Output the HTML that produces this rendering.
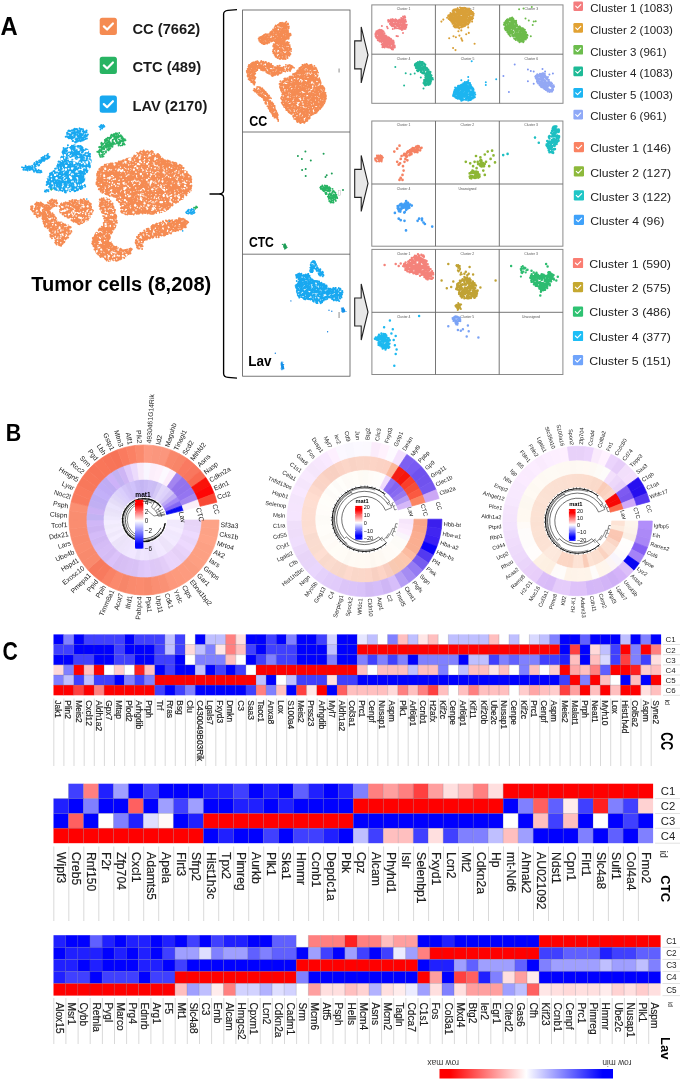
<!DOCTYPE html>
<html><head><meta charset="utf-8"><title>Figure</title>
<style>html,body{margin:0;padding:0;background:#fff;}body{width:685px;height:1091px;overflow:hidden;font-family:"Liberation Sans",sans-serif;}svg{display:block;filter:blur(0.45px);}</style></head>
<body>
<svg width="685" height="1091" viewBox="0 0 685 1091" font-family="'Liberation Sans', sans-serif">
<rect width="685" height="1091" fill="#fff"/>
<text x="0.6" y="35" font-size="25" font-weight="bold" fill="#000" text-anchor="start" textLength="17.2" lengthAdjust="spacingAndGlyphs">A</text>
<rect x="99.7" y="17.8" width="17.2" height="17.2" rx="2.5" fill="#F58B52"/><path d="M103.83 26.40L107.10 29.50L112.94 23.48" stroke="#fff" stroke-width="2.2" fill="none" stroke-linecap="round" stroke-linejoin="round"/>
<rect x="99.7" y="56.8" width="17.2" height="17.2" rx="2.5" fill="#28B463"/><path d="M103.83 65.40L107.10 68.50L112.94 62.48" stroke="#fff" stroke-width="2.2" fill="none" stroke-linecap="round" stroke-linejoin="round"/>
<rect x="99.7" y="95.5" width="17.2" height="17.2" rx="2.5" fill="#18A8F0"/><path d="M103.83 104.10L107.10 107.20L112.94 101.18" stroke="#fff" stroke-width="2.2" fill="none" stroke-linecap="round" stroke-linejoin="round"/>
<text x="132.5" y="33.6" font-size="14.7" font-weight="bold" fill="#1a1a1a" text-anchor="start" >CC (7662)</text>
<text x="132.5" y="72.2" font-size="14.7" font-weight="bold" fill="#1a1a1a" text-anchor="start" >CTC (489)</text>
<text x="132.5" y="110.6" font-size="14.7" font-weight="bold" fill="#1a1a1a" text-anchor="start" >LAV (2170)</text>
<text x="31.3" y="291.3" font-size="20.05" font-weight="bold" fill="#000" text-anchor="start" >Tumor cells (8,208)</text>
<path d="M127.6 160.5h0M148.3 174.6h0M100.4 178.9h0M137.5 204.3h0M156.5 211.8h0M179 169.7h0M126.4 203.8h0M157.8 174.8h0M161.7 178.8h0M140.2 169.7h0M119.4 187.8h0M166.7 169.4h0M136.9 200h0M170.1 187.6h0M163 189h0M142.5 193.9h0M175.1 169.5h0M98.9 180.8h0M108.6 167.2h0M103.8 179.6h0M122.9 178.1h0M113.6 166.2h0M153.4 167.8h0M132.5 187.2h0M146 190.6h0M134.6 176.8h0M107 174.4h0M155.5 160.7h0M132.1 158h0M141.4 182.1h0M129.6 167.8h0M147.2 160.3h0M147.6 213.6h0M121.9 175h0M147.6 201.3h0M175.1 198.9h0M99.3 169.3h0M189.1 179.4h0M188.2 174.6h0M115 163.6h0M176.9 181.3h0M105.2 193.2h0M168.8 182.2h0M128.8 202.4h0M135.1 211.7h0M130.3 186.3h0M146.6 211.3h0M175.8 164.7h0M119.7 189h0M130 180.1h0M136.6 210h0M146.6 152.1h0M113.1 181h0M127.4 184.1h0M106.8 187.2h0M170.2 183.4h0M183.8 179.2h0M145.4 195.6h0M142.3 211h0M150.4 211.5h0M108.5 179.5h0M160.5 159.6h0M135.4 182.2h0M111.9 178.7h0M115.4 171.3h0M150 179.3h0M157.2 184.2h0M107.2 168.1h0M137.2 209.4h0M151.4 196.1h0M163.2 178.6h0M158 202.8h0M139.5 172.5h0M147.3 166.3h0M126.6 170.3h0M144.5 162.4h0M167 186.7h0M174.6 178.7h0M134 182.7h0M129.4 204.1h0M135.6 173.3h0M121.6 161.7h0M180 194.3h0M124.9 180.8h0M122.3 212.8h0M126.6 173.9h0M142.3 183.6h0M105.3 176.6h0M125.5 165.7h0M168.5 192.7h0M134.2 171.9h0M166.6 192.5h0M182.1 190.8h0M109.4 184.6h0M152.4 208h0M109.9 174.5h0M149.9 191h0M143.7 150.6h0M144.8 185.3h0M167.5 167.2h0M166.5 163.3h0M143.5 175.6h0M170.1 190.5h0M110.8 167h0M151.3 151.8h0M160.9 195.3h0M146 180.9h0M98.7 179.7h0M139.9 168.9h0M117.1 188.6h0M175.6 183.4h0M143.6 152.5h0M140 170.5h0M127.4 205h0M182.8 169.8h0M131.2 178.6h0M124 211.4h0M145.1 163.6h0M157.5 209.6h0M166.8 179.5h0M141.8 173.5h0M159.2 170.2h0M145.1 164.5h0M139.8 160h0M119 167.3h0M168.2 177.7h0M133 172.8h0M145 191.3h0M122.4 167.1h0M182.5 181.4h0M134.4 210.1h0M147.2 194.7h0M158.3 200.3h0M158.7 170.6h0M157.7 196h0M146.8 188.6h0M126 180.5h0M181.4 181.7h0M144.2 194.5h0M160.6 210.6h0M129 177.8h0M172.8 198.5h0M175.3 166.2h0M124.7 212.2h0M117.7 177.1h0M110.9 177h0M102.9 175.8h0M186.2 172.7h0M160.1 175.5h0M123.6 173.5h0M131 203.5h0M100.9 181.9h0M115.2 174.3h0M136 203.1h0M168.1 209h0M188.4 191.1h0M127.5 168.6h0M184.5 191.7h0M119.8 181.3h0M133.4 167.2h0M173.8 198h0M154.7 172.3h0M99.5 187.2h0M105.8 182.7h0M118.8 177.4h0M168.3 205.3h0M177 169.7h0M167.4 163.9h0M151.3 172.5h0M145.4 165.4h0M142.5 203.1h0M100.7 169.9h0M190.2 188.3h0M179.6 180.3h0M153.8 191.1h0M110.2 164.4h0M159.4 164h0M161.6 163h0M173 186.2h0M134.5 186.2h0M112.1 195.8h0M126 212.7h0M131.6 176.9h0M131.5 163.4h0M136.7 204.1h0M141.2 161.4h0M158.4 209.7h0M132.3 183.6h0M146.9 210.7h0M143.2 154.2h0M183.4 190.7h0M171.5 165.5h0M117.3 176.6h0M108.3 166.2h0M100.6 187h0M153.9 186.1h0M136.5 188.6h0M139.9 179.2h0M143.6 165.5h0M140.4 162.5h0M109.2 178.8h0M145.5 153.4h0M166.8 201h0M145.1 175.2h0M167.1 204.2h0M143.9 212.4h0M102.9 173.3h0M182.6 168.4h0M144.8 210.4h0M145.3 171.5h0M162 209h0M107.5 184.9h0M179.8 186.4h0M157.1 176.1h0M131 200.2h0M174.7 166.6h0M152.8 193.7h0M155.1 178.7h0M109.3 165.5h0M106.9 174.3h0M152.9 163.8h0M106.2 191.6h0M135.6 167.9h0M150.3 173.2h0M100.7 185.3h0M98 186.3h0M115.3 190h0M126.9 170.4h0M172.3 197h0M168.1 180.5h0M128.6 198.6h0M164.6 167.9h0M172.2 185h0M121.6 165.4h0M168.4 171.8h0M156.7 194.8h0M141.5 204.4h0M138.3 197.5h0M117.6 191.3h0M129.8 160h0M162.9 191.3h0M102.6 189.3h0M157.3 203.9h0M169.1 164.4h0M123.6 197.2h0M189.3 183h0M99.2 177.7h0M129.7 196.2h0M96.5 182.5h0M114 183.2h0M121.6 211.9h0M164 183.3h0M163.3 201.4h0M135.2 176.2h0M116.7 167.6h0M133 208.2h0M147.6 199.1h0M130.4 172.4h0M160.3 199h0M171 188.4h0M181.6 166.4h0M164.1 205.4h0M120.2 171.9h0M128.6 163h0M106.9 175.6h0M167.1 179.3h0M134.8 201.5h0M157.5 181h0M135.7 198.5h0M151.5 199.3h0M165.9 207.1h0M178.1 194.4h0M126.9 191.5h0M171.5 196.7h0M137 180h0M161.5 211.2h0M170.4 176h0M100.6 186.3h0M187.1 184.6h0M148.1 197.1h0M175.5 184.9h0M116.4 195.3h0M123.3 176.7h0M136.8 196.1h0M118.5 198.5h0M134.6 164.9h0M173.9 191.8h0M130.7 191.5h0M141.4 169.8h0M176.7 173.5h0M132.5 167.3h0M123.5 167h0M137.6 191.7h0M159.7 167.1h0M118.9 201.1h0M154.6 200.7h0M172.3 205.4h0M146.9 198.9h0M149.9 168.1h0M143.7 154.7h0M143.2 182.8h0M141.2 186.6h0M132.7 177.8h0M158.1 191.9h0M161.7 211.7h0M145.7 182.1h0M165.2 191.7h0M131.2 181.4h0M116.5 179.1h0M176 169.5h0M144.1 168.3h0M159.3 202.1h0M125 188.3h0M181.8 186.1h0M184.7 189.7h0M183.5 190h0M163.3 189.1h0M160.6 180.2h0M159.7 174.2h0M150.4 167.8h0M126.7 178.1h0M102 187.5h0M174.6 187.8h0M97.4 175.4h0M190.5 181.6h0M158.5 164.6h0M165.6 166.3h0M165 205.9h0M156.2 196.8h0M126.8 198.4h0M143 155h0M139 194.9h0M131.3 192.2h0M134.1 201.4h0M151.7 170h0M163.8 204.6h0M153.7 171h0M132.2 194.6h0M174.3 169.1h0M137.4 188.1h0M151.8 168.1h0M162.2 209.9h0M149.9 202.7h0M154.6 194.6h0M121.2 199h0M170.1 165.6h0M181.1 184.6h0M115 163.7h0M131.1 187.5h0M106.9 191.5h0M153.8 173.1h0M179.4 182.1h0M171.8 178.2h0M149.4 207.2h0M154.5 177h0M120.8 186.7h0M160.7 176.3h0M121.7 173.2h0M171.5 195.9h0M161.1 169.9h0M106.8 171.9h0M142.8 161.9h0M166.1 163.6h0M110.6 180.1h0M177.1 191.5h0M175.4 181.5h0M165.4 187h0M122.3 177.6h0M177.3 172.7h0M127.8 209.6h0M160.5 164.5h0M120.8 164.6h0M106.1 169.5h0M166.3 169.8h0M174 172.9h0M176.5 185.1h0M151.6 160.2h0M165 163.6h0M154.9 183h0M155.5 196.1h0M166.9 177.1h0M174.7 172h0M144.2 151.7h0M180.4 168.5h0M131.6 161.7h0M96.8 184.5h0M127 197.1h0M187.7 182.7h0M148.4 152.2h0M120.8 203.6h0M164 163.5h0M151.9 184.4h0M180.1 197.1h0M143.9 183.3h0M135 159.4h0M110.8 187.6h0M134.1 177.7h0M134.6 211.3h0M118.9 172.8h0M102.5 184h0M120.4 177.9h0M147.2 155.5h0M186.7 191.1h0M158 167.8h0M148.5 210.3h0M146.8 178.7h0M126.2 192.9h0M188.2 184.3h0M147.9 160.5h0M124.7 177.3h0M105.3 185.7h0M151.4 193.2h0M140.6 186h0M126.5 166.8h0M133.7 188.6h0M178.9 166.1h0M125 200.7h0M180.4 179.3h0M139 198.4h0M111.2 172.9h0M155.9 205.3h0M167.5 198.4h0M172 196.5h0M169.3 188.6h0M151.6 177.2h0M154.5 175.4h0M165.7 170h0M133.6 171.1h0M144.6 179.7h0M110.4 187.9h0M185.2 171.3h0M137.6 209.6h0M151.2 182.7h0M146.1 183.9h0M130.5 189.8h0M161.7 184.9h0M134.5 186.8h0M188.7 182.4h0M147.6 203.7h0M146.1 157.7h0M181.9 178.2h0M145.8 183.6h0M156.5 190.5h0M135.9 202.1h0M177.3 188.5h0M144.3 187h0M151.8 177.5h0M146.3 203.6h0M170.4 171.4h0M113.4 168.4h0M152.2 173.4h0M152.1 212.9h0M126.9 208.6h0M153.7 212.8h0M119.9 175.8h0M125.8 207.3h0M119.9 162.2h0M150.2 158.2h0M135.7 155.5h0M130.4 166.9h0M160.6 173.3h0M105.6 168.1h0M139.2 204.6h0M129.9 198h0M144.9 165.6h0M164.7 167.4h0M131.8 166.6h0M145.8 186.4h0M133.3 193.1h0M134.3 156.9h0M127.7 193.8h0M131.3 183.2h0M126.8 165.8h0M124.2 176.6h0M109.8 168.8h0M159.9 173.7h0M163.8 166.6h0M157.4 163h0M167.1 196.8h0M112.1 163.9h0M100.3 170.8h0M177.1 187.4h0M138.3 195h0M176.6 201h0M178.7 190.1h0M163.2 175.7h0M187.8 178h0M167.2 204.1h0M137.8 183.8h0M164 203.2h0M189.3 191.9h0M102.2 174h0M126.3 159.2h0M119.1 166.4h0M186.1 174.1h0M110 187.7h0M149.4 200.3h0M154.1 180h0M107.5 169.7h0M102.6 169.4h0M139.4 158.4h0M131.5 161.7h0M190.9 187.4h0M138.2 163.1h0M184.3 191.9h0M159.2 167.2h0M177.3 170.4h0M176.1 198.9h0M175.5 171.8h0M132.1 204.5h0M151.2 190.9h0M144.2 183.3h0M152.3 155.9h0M139.2 213.4h0M138.8 163.1h0M172 178.7h0M145.8 178.3h0M160.6 204h0M124.7 179.3h0M128.3 180.4h0M188.9 190.7h0M161.4 190.5h0M187.8 181.7h0M129.8 208h0M162.1 179.9h0M132 188.5h0M150.9 176.5h0M182.4 186.6h0M147.1 167.1h0M118.6 188h0M153 156.1h0M138.3 206.4h0M134.6 161.8h0M119.8 174.9h0M117 169.9h0M182.1 190.6h0M129.1 199.6h0M108.4 174.2h0M154 157.1h0M161.5 167.6h0M177 188.4h0M114.3 187h0M133.4 159.9h0M162.8 203h0M128.9 160.6h0M161.6 176.2h0M177.9 175.9h0M104.1 172.7h0M153.3 153.9h0M141.3 188.2h0M160.9 168.8h0M121 187.4h0M150.7 200.2h0M157.2 192h0M186.4 195.3h0M167.3 183.5h0M149.7 177.1h0M127.3 214.6h0M119.9 166.1h0M139.8 179.5h0M125.5 170.4h0M186.8 172.6h0M130.3 201.1h0M103.3 182h0M112.4 167.9h0M134.5 163.4h0M158.7 162.8h0M154.5 155.4h0M129.5 160h0M180.7 192h0M127.8 198.9h0M162 172.7h0M100.8 191.5h0M153.9 167.4h0M185.4 187.2h0M155.4 197.7h0M174.3 178.1h0M149.6 193.1h0M167.6 167h0M171.1 170h0M139.4 168.7h0M142.3 192.8h0M102.2 183.2h0M186.8 174.6h0M171.6 166.5h0M157.7 172.7h0M128.1 209.4h0M102.4 192.8h0M101.8 187.6h0M187.2 191.5h0M121.8 179h0M169.1 193.2h0M117.7 188.1h0M180 167.5h0M123.1 172.3h0M111.9 194.7h0M152.3 208.4h0M131.3 201h0M129.1 209.5h0M119.1 201.9h0M144.9 165.9h0M127.2 207.7h0M109.9 178.9h0M144.4 158.4h0M184.9 174.2h0M181.3 198.2h0M100.5 183.9h0M162.2 192.9h0M180.2 197.3h0M136.6 213.8h0M136 160.1h0M154.9 211h0M132.8 166.5h0M177.5 201.4h0M163 171.5h0M127.4 213.5h0M177.6 183.2h0M119.1 191.2h0M164.5 176.2h0M161.3 171.4h0M118 191h0M141.7 197.3h0M185.2 184.9h0M174.9 166.7h0M141.1 191.6h0M133.3 204.4h0M111.6 167.2h0M173.5 184.5h0M162.7 179.9h0M161.6 174.5h0M132.1 172.8h0M116.1 187.7h0M165.4 168.8h0M157.7 206.5h0M172.5 190.8h0M139 174.3h0M135.9 192.4h0M133.8 188.1h0M132.3 193.9h0M168.8 175.3h0M98.8 189.2h0M176.5 177.7h0M138.2 182.5h0M160.8 198.6h0M161.9 186.1h0M108.5 165.3h0M169.3 187.4h0M165.2 182.1h0M137.3 188.5h0M129.6 184.3h0M122.9 168h0M178.7 186.7h0M101.9 170.1h0M178.8 167.5h0M147.8 175h0M152.7 174.3h0M185 186.8h0M147.5 177.1h0M122.8 202.6h0M172.9 189.2h0M139.6 207.6h0M158 153.9h0M154.1 162.3h0M173.2 182.6h0M125 164.3h0M136.4 194h0M162.8 161h0M124.6 165.7h0M150.6 160.7h0M133.1 192.5h0M105.6 180.5h0M161.8 158.1h0M186.6 185.1h0M168.7 182.8h0M142.8 206.3h0M122.8 208.3h0M153.6 213.8h0M128.6 180.3h0M149.7 156.9h0M154.1 180.7h0M106.2 192.9h0M130.4 174.9h0M128.7 204.9h0M144.5 185.6h0M112.1 185.4h0M115.6 177h0M145.5 208.3h0M143 201.7h0M118.8 199.4h0M99.4 176.2h0M151.7 165.6h0M120.3 189.5h0M156 195.2h0M174.4 180.6h0M186.7 177.5h0M120 198h0M129.7 160.1h0M128.9 213.8h0M142.7 182.3h0M168.8 192.3h0M178.1 201.8h0M130.6 161.2h0M176.2 202.4h0M175.9 201.3h0M188.9 185.1h0M120.8 205.1h0M139.9 166.1h0M161.9 197h0M173.2 194.7h0M135.3 156h0M129.5 188.8h0M97.2 182.4h0M174.2 177.7h0M128.4 165.1h0M156.2 169.8h0M163.6 178.9h0M108.8 195h0M114.6 168.3h0M154.9 208.7h0M188.4 183.5h0M147.5 151.5h0M140.2 203.3h0M106.6 186.2h0M133.1 210.5h0M103.2 191.4h0M131.1 193.3h0M147 194.3h0M132 214h0M161.7 187h0M182.1 197.8h0M128.4 159.5h0M110.4 188.7h0M134.1 198.9h0M169.4 169.5h0M173.2 195h0M164.6 195.6h0M151.9 203.8h0M110.2 184h0M167.4 162h0M125.9 175.4h0M114.8 170.7h0M127.6 179.3h0M134.6 175.7h0M139.5 204.4h0M126.8 160.3h0M150.2 193.9h0M131.2 210h0M157.1 167.5h0M175.4 187.9h0M122.4 166.7h0M168.4 194.9h0M106.8 170h0M157.5 195.2h0M129.5 175.9h0M147.3 183.9h0M109.7 172.8h0M144.6 205.4h0M135.3 188.4h0M172.5 205.3h0M169.4 182.8h0M167.5 203.3h0M164.1 190.5h0M154.4 204.2h0M173.5 173.9h0M177.4 171.8h0M110.3 168.7h0M150.4 203.1h0M107.1 165.1h0M128.5 188h0M174.7 185.6h0M99.3 183.4h0M156.8 197.4h0M145.8 189.4h0M142 159.6h0M164.4 180.3h0M135.4 169.5h0M146.3 179.6h0M115.1 167.8h0M166.1 197.3h0M165.8 191.8h0M112.6 191.6h0M130.8 208.5h0M142.4 204h0M150.7 183.8h0M190.6 178.7h0M117.1 188.6h0M176.1 201.6h0M182.1 185.4h0M156.1 208h0M116.6 166.4h0M106.8 189.1h0M140.1 188.3h0M138.8 155.1h0M141.5 176.2h0M119.5 192.4h0M154.1 155.8h0M118.7 175.6h0M157.5 198.7h0M118.1 194h0M112.7 184.2h0M149.5 203.8h0M153.7 202.5h0M148.9 169.6h0M140.4 158.6h0M138.1 157.9h0M166.7 205.5h0M131.9 170.2h0M162.7 189.4h0M135.3 189.7h0M167.4 201.9h0M161.3 205.9h0M139 196.7h0M130.3 172h0M168.8 168.8h0M128.3 199.9h0M173.2 185.5h0M126.5 191.6h0M146.8 192.6h0M135.4 209h0M124.4 209.3h0M113.4 178.7h0M168.2 199.6h0M117.1 167.5h0M152.9 192.9h0M131.6 160.3h0M122.9 200.6h0M125.6 176.9h0M186 172.9h0M176.4 165h0M161.1 168.8h0M159.7 188.5h0M159.2 187.7h0M131.8 197.9h0M120.6 174.5h0M120.4 202.5h0M170 165.5h0M133.3 174.2h0M160.3 204.9h0M138.2 158.4h0M142.6 162.4h0M131.6 181h0M168.5 186.6h0M187.1 184.9h0M179.7 164.7h0M185.2 180.5h0M140.2 171.8h0M131.6 158.5h0M159.6 184.1h0M167.7 185.8h0M155 193.3h0M179 174.5h0M118.5 189.3h0M138.9 160.4h0M152.2 211.7h0M118.3 181.6h0M156.3 164.6h0M127.2 177.5h0M99.2 175.4h0M120.9 180h0M110.4 166.9h0M146.8 188.3h0M118.8 161.5h0M135.5 207.6h0M187.6 177.4h0M125 169.4h0M137.2 184.5h0M159.4 184.1h0M159.9 188.1h0M151.2 162.3h0M118.9 174.4h0M156.2 180.8h0M97.4 181.1h0M159.2 162.3h0M119.2 178.6h0M136 212.7h0M166.9 173.6h0M108.9 165.4h0M135.9 178.2h0M186.7 188.4h0M138.5 162.2h0M160.9 161.8h0M169.9 204.4h0M125.7 167h0M153.5 163.7h0M166.2 168.4h0M113.5 195.7h0M122.1 196.7h0M128.7 184.8h0M142.7 167.6h0M156.4 196.3h0M166.3 172.9h0M185.8 187h0M163 175.5h0M173.4 202.8h0M115.2 196h0M160.4 187.4h0M152.3 157.7h0M121 178.1h0M117.5 169.3h0M155.6 209.3h0M160.3 167.9h0M170.4 203.4h0M172.6 171.3h0M102.1 190.2h0M146.4 160.4h0M141.2 163.9h0M146.5 173.9h0M103.1 175.8h0M160.6 165.5h0M164.7 200.8h0M155.5 157.7h0M108.8 180.7h0M170.8 179.2h0M101.6 169.3h0M112.5 185h0M137.6 172.8h0M122 198.2h0M141.8 212.4h0M141.2 196.9h0M129.1 167.2h0M178.8 172h0M128.9 163.2h0M179.9 188h0M155 208.8h0M121.9 174.6h0M133 158.6h0M136.4 191.5h0M166.5 199.3h0M159.6 175.3h0M148.4 172.3h0M162.1 193.1h0M148.9 180.7h0M117.2 172.9h0M173.1 165.6h0M167.4 163.7h0M126.6 191.4h0M182.6 198.7h0M151.1 157.4h0M145.8 182.4h0M160.3 164.5h0M99.6 189.2h0M137.2 156.7h0M172.3 174.3h0M174.2 164.4h0M138 174.7h0M115.8 170.7h0M114.1 186.1h0M173.2 162.5h0M169 207.4h0M145.4 208.4h0M145.5 210.9h0M156.8 202.8h0M121.2 168.8h0M141.8 156.8h0M165.4 199.3h0M145.7 161.8h0M115.9 188.1h0M164.8 197.2h0M187.2 179.5h0M173.2 194.8h0M128.9 200.5h0M111.9 177.1h0M112.3 165h0M127.1 183.7h0M138.1 213.7h0M141.7 163.5h0M135.1 173.8h0M163.2 176.6h0M151.8 150.9h0M130.9 191.3h0M137.7 169.9h0M110.9 174h0M152.8 195.1h0M149.4 176.9h0M98.9 171.7h0M131.3 208.9h0M185.5 192.1h0M133.8 189.9h0M131.7 176.4h0M148 169.1h0M112.2 195.4h0M111 165.6h0M167.6 196.9h0M150 210.7h0M138.2 162.7h0M134 156.5h0M164.7 191.6h0M113.6 189.4h0M130.9 214.1h0M121.9 165.7h0M164.4 162.3h0M130.6 198.5h0M138.5 201.7h0M181 189.9h0M184.4 187.2h0M133.9 195.4h0M172.5 184.1h0M135.9 193.8h0M136.5 212.6h0M155.4 171.4h0M172.6 203.8h0M127.1 200.1h0M143.6 168.5h0M151.3 209.2h0M180.1 179.1h0M166.9 192.9h0M165.7 164.5h0M133.2 209.8h0M137.7 187.3h0M139.8 207h0M142 158.3h0M191.4 185.6h0M157.7 175.7h0M100.3 182h0M141.1 180.6h0M129.6 211.1h0M114.4 183.3h0M185.8 181.2h0M184 190.3h0M157.3 185h0M173.9 194.6h0M141.7 203.8h0M111.7 194.8h0M141.7 182.9h0M149.6 199.9h0M182.4 174.4h0M110.4 188.3h0M149.3 171.1h0M108.3 168.9h0M131.1 211.8h0M179.1 194.4h0M125.5 214.2h0M149.5 164.1h0M176.6 193.4h0M101.6 178.3h0M150.6 151.8h0M153.4 204h0M122 207.6h0M189.2 176.9h0M122.3 160.7h0M159.2 160.9h0M131.1 209.1h0M153.2 202.8h0M151.4 187.2h0M137.2 165.9h0M175.9 166.6h0M133.8 172.3h0M160.5 204.8h0M185.2 189.9h0M104.9 172.5h0M136.5 170.7h0M126.3 171.5h0M137.9 161.6h0M178.1 193h0M102.2 183.7h0M167.6 197.1h0M160.8 178.7h0M118 176.7h0M128.7 167.8h0M134.9 195.3h0M104.1 185.8h0M106 183.3h0M160.9 182.6h0M141.9 160h0M161.6 195.4h0M152.3 197.9h0M131.7 197.6h0M179.9 192.4h0M133.2 194.2h0M130.8 207.2h0M180 188.7h0M187.6 187.7h0M142.7 172.9h0M152.9 165.6h0M144.8 177.7h0M147.7 168.2h0M171.5 184.9h0M145.5 175.3h0M164.1 203.7h0M116.9 180.2h0M131.1 199.3h0M118.8 201.1h0M157.5 195.7h0M188.5 184h0M173.7 165.8h0M172.6 198.4h0M122.4 181.7h0M138.4 178.8h0M123.7 210.1h0M137.6 163h0M138.6 176.4h0M98.6 176h0M132.1 200.3h0M157 163.1h0M155.4 170.4h0M152.8 188h0M127.5 192.2h0M108.3 164.9h0M132.1 209.6h0M119.9 188.8h0M172.9 203.6h0M101.9 175.8h0M170.9 205.1h0M120.7 199.7h0M105.4 180.7h0M131.8 178.7h0M164.1 184.1h0M145.2 183.1h0M130.7 172.2h0M188.5 175h0M147.4 172.5h0M129.4 177.7h0M135 160.9h0M139.5 177.6h0M140.1 204.8h0M161.2 182.9h0M113.2 192.2h0M158.3 159.5h0M145.3 171.1h0M143.2 190.8h0M161.3 185.7h0M150.9 165.4h0M150.7 199.7h0M159.2 157.7h0M166.5 168h0M176.6 184.5h0M138.7 204h0M183 172.8h0M156.6 158.9h0M123.9 209.8h0M173.4 168.7h0M167.4 165.9h0M149.7 190.2h0M163.7 180.5h0M123.7 198.7h0M163.3 176.6h0M187.7 174.6h0M167.9 207.5h0M129.8 197.8h0M147.2 160.6h0M145.4 202.1h0M130.7 203.4h0M157.3 182.2h0M118.1 179.1h0M120.6 204.3h0M156.7 158.7h0M161.2 203.6h0M106.1 177.4h0M134 160.8h0M114.5 181.4h0M145.6 204.9h0M170 187.6h0M171.5 170.4h0M151.3 192.9h0M102.8 192.2h0M149.9 198.5h0M143.4 167.3h0M132.2 201.6h0M163.7 201.2h0M135.9 211.1h0M145.3 179.5h0M176.4 181.8h0M181.9 176.8h0M140.9 188.3h0M132.1 207.6h0M156.9 191.3h0M109.1 169.7h0M116 191.9h0M98.6 179.7h0M128.8 158.9h0M171.9 170.4h0M131.7 162.7h0M136.2 158.7h0M189.2 175.6h0M158.2 204.9h0M100.8 179.7h0M138.8 200.2h0M147 178h0M119.4 187.1h0M139.1 210.3h0M125.8 197h0M109 181.4h0M146.4 159.4h0M120.8 166.3h0M186.7 176.8h0M163.1 188.5h0M144 163h0M152.7 170.6h0M144.4 165.9h0M144.7 197.5h0M182.8 168.4h0M121.1 203.2h0M174.8 187.1h0M113.3 167.4h0M141.3 197.1h0M106.4 181.2h0M188.4 176.2h0M163.2 198.4h0M151.5 184.8h0M177 165.9h0M181 167.8h0M126.8 174.1h0M177.7 194.2h0M151 164.7h0M128.1 205.8h0M139 175.4h0M152.4 183.6h0M173.7 195.5h0M111.4 186h0M114.5 196.3h0M157.3 189.2h0M151.2 171.8h0M106.3 171.7h0M159 193.4h0M139.4 180.4h0M107.3 190.6h0M162.3 208.5h0M144.9 172.1h0M139.2 201.9h0M104.3 180.1h0M135.6 212.7h0M171.4 188.9h0M143.5 176.1h0M127.8 190h0M136.9 204.1h0M176.8 188.6h0M133.3 167.7h0M148.3 175.1h0M173.7 189.7h0M180.7 194.4h0M120.2 188.2h0M169.4 190.9h0M186 187.2h0M140.6 185.7h0M156.1 181.4h0M98.1 171.4h0M158.8 202.8h0M118 196.2h0M128.3 188.5h0M145.8 176.2h0M113.5 186.2h0M144.2 211.7h0M134.8 186.1h0M128.4 161.1h0M164.2 188.7h0M145.5 159.6h0M174.9 165.6h0M169.7 200.3h0M126.5 194.4h0M151 169h0M181.7 166.1h0M170.3 170.8h0M170.7 180.8h0M107 173.2h0M105.6 194h0M160 207.4h0M99.7 173.4h0M164.6 201.3h0M108.8 175.9h0M167.4 164.9h0M179.2 192.1h0M139.9 187.2h0M144.9 200.7h0M191.2 182.3h0M182.5 175.4h0M159.7 170.7h0M140 180.7h0M185.6 181.6h0M185.1 191.9h0M132.6 204.8h0M141.7 177.9h0M132.1 177.3h0M187.1 191.8h0M103 184.1h0M190.6 177.8h0M153.1 186h0M126.1 183h0M150.8 164.3h0M130 201.2h0M171.1 179.2h0M160.1 195.7h0M175.6 170.5h0M159.7 165.4h0M156.4 168.9h0M174.8 179.8h0M173.8 189h0M150.9 163.1h0M147.9 192.2h0M98.2 179.1h0M165.6 170.8h0M125 197.9h0M151.9 203.4h0M148.9 175.6h0M149.3 199.6h0M170.6 164.9h0M121.5 193.4h0M139 197.9h0M147.9 189.2h0M126.7 173.1h0M166.8 188.5h0M120.7 184.7h0M168.3 195.6h0M97.8 172.3h0M138.5 208.9h0M182.9 168.6h0M131.9 158.8h0M152 180h0M170.5 198.1h0M172.2 187.1h0M155.5 156.9h0M119.6 185.2h0M144.6 194.1h0M114.9 196.8h0M147.3 162h0M156.5 206.5h0M170.2 181.1h0M134.4 213.2h0M149.4 211.9h0M170.7 199.1h0M171.6 197.9h0M136.7 199.5h0M133 202.7h0M125.9 186.1h0M162.3 178.2h0M164.1 197.7h0M184.7 178.8h0M182.5 193.6h0M136.6 211.9h0M177.7 198.2h0M144.1 182.8h0M180.6 178.2h0M140.1 192.3h0M145.9 183.9h0M98.2 172.2h0M137 152.9h0M180.8 195.3h0M125.7 198.2h0M153.8 201.1h0M175.8 202.7h0M165.7 198.5h0M146.5 186.9h0M159 188.8h0M151.2 159.3h0M137.9 187.3h0M137.7 174.8h0M134.3 179.6h0M124 180.9h0M119.6 166.8h0M141.7 176.4h0M108.1 189.1h0M141.1 160.4h0M161 180.9h0M155.5 157.1h0M118.4 172.8h0M139 203.7h0M128.6 211.7h0M154.4 158.2h0M158 173h0M150.2 162.3h0M183 184.5h0M123.2 201.5h0M138.8 209.6h0M109.1 164.9h0M169.2 176.9h0M137.4 211.1h0M146.8 195h0M130.8 196h0M128.9 194.8h0M165 178.9h0M149.4 172.2h0M123.6 172.7h0M163.5 207.8h0M121.6 184.6h0M138.3 166.4h0M159.4 173.7h0M158.2 195.1h0M100.7 190.5h0M138.4 211h0M156.8 193.2h0M113 166.4h0M150 197.5h0M98.7 171.7h0M124.8 205.6h0M162.3 202.1h0M159.9 171.6h0M134.9 159.3h0M149.6 176.8h0M128.7 210.5h0M170.1 185h0M108.4 167.7h0M127.4 177.1h0M164.5 201.6h0M127.1 159.8h0M132.6 173.5h0M140.7 203.4h0M146 198.7h0M163.4 176.5h0M149.8 174.8h0M173.6 170.6h0M173.9 184.8h0M136.5 187.2h0M161.3 191.7h0M147.8 200.8h0M134.7 182.5h0M171.5 195.2h0M142.9 202.8h0M161.8 179.7h0M148 212.8h0M165.2 182.3h0M129.1 196.6h0M103.9 187.8h0M140 155.6h0M150 179.9h0M130.4 213.6h0M108.7 173.4h0M147.1 169.9h0M153.9 169.7h0M164.9 181.3h0M100.4 180.8h0M143.4 162.7h0M97 174h0M128.9 209.7h0M153.5 204.2h0M147.9 212.6h0M149.8 173.8h0M121.6 203.8h0M131.9 188.8h0M159.3 156.9h0M163.5 173.4h0M141.3 202h0M146.8 168.5h0M166.8 193.8h0M150.4 206.1h0M98.9 185.4h0M185.1 179.5h0M153.5 178.5h0M121.5 202.5h0M168.9 189.5h0M137.3 165.7h0M118.3 179.2h0M127.1 181.8h0M163.8 171.6h0M105.7 191.5h0M161.1 175h0M168.9 181.4h0M155.2 178.5h0M149.7 208.6h0M127.8 164.9h0M120.7 195.4h0M186.3 178.5h0M116.3 173.1h0M126 181.2h0M185.9 194h0M100.5 178.8h0M157.5 163.7h0M156 186.3h0M127.3 207.7h0M125.4 190h0M171 176h0M167.2 196.1h0M176.1 194.1h0M122.2 210.2h0M130 173.7h0M97.4 178.1h0M174.3 201.6h0M146.2 165.9h0M190.9 177.1h0M168.5 165.7h0M138.7 159.1h0M163.9 184.1h0M136.1 198.3h0M126.3 205.2h0M135.9 187.5h0M126.9 159h0M166.9 191h0M175.9 191.2h0M134.8 168.7h0M157.4 211.2h0M145.3 155h0M142.4 209.3h0M152.7 201.5h0M118 193.3h0M144 151.6h0M121.4 166.9h0M131.7 171.8h0M167.6 182.6h0M183.1 180.9h0M144.9 187.2h0M155.6 194h0M113.3 173.8h0M133.2 211.6h0M161.1 166h0M173.2 162.9h0M157.4 191.8h0M168.6 164.3h0M104.4 173.2h0M104.8 164.8h0M151.3 189.9h0M119.4 188.8h0M187 176.5h0M170.3 185.2h0M169.2 164.7h0M118.9 201.7h0M143.4 177.9h0M173.1 167.6h0M186.7 179.7h0M141.7 185.3h0M143.2 155.7h0M129.7 183h0M150.2 213.7h0M126.7 198.8h0M116.2 174.8h0M188.5 178.8h0M158.3 189h0M148.3 188.6h0M132.3 193h0M132.2 168.5h0M122.8 182.2h0M104 177.1h0M182.1 173.6h0M182.1 181.8h0M144.5 154.6h0M151.8 206.8h0M141.5 158.5h0M165.5 183.3h0M188.6 189.4h0M112.7 166.6h0M152.3 180.6h0M165.3 186h0M133.9 180.4h0M145.4 213h0M106.2 180.2h0M114.5 168.9h0M155.2 156.7h0M180.9 165.6h0M104.2 175.9h0M146.4 185.9h0M139.6 171.6h0M101.2 167.2h0M170.1 181.3h0M108.3 165.1h0M156.5 206.2h0M122.4 207.1h0M182.6 187.1h0M154.8 190.1h0M107.5 165.1h0M107 166.7h0M130.7 212.9h0M150.6 206.2h0M157.6 162.4h0M142.4 196.9h0M126.9 189.2h0M157 169.8h0M147.7 164.9h0M131.1 166.7h0M104.1 191.7h0M161.3 172.7h0M112.1 174h0M152.8 157.7h0M150.9 210.2h0M141.5 184.6h0M186.7 182.3h0M115.3 191h0M163.6 189h0M100.3 179.6h0M183.6 186.4h0M158.8 203.1h0M174.7 173.3h0M103.2 186.7h0M151.8 162.7h0M140.9 153.5h0M148.6 211.2h0M164.5 162h0M182.9 183h0M164.6 180.8h0M165.3 165.9h0M159.6 156h0M122.2 200.7h0M143.3 206.8h0M163.6 190.9h0M146.6 162.5h0M126 205.6h0M164.4 182.9h0M99.8 173.8h0M184 193.5h0M123.5 202.4h0M167.9 167.8h0M169.2 205.3h0M180.2 195.1h0M130.6 195h0M121.3 165h0M145.9 157.7h0M144.7 212.3h0M123.7 211.1h0M187.6 192.7h0M155.4 184.4h0M171.2 192.5h0M131.7 181.3h0M157.1 154.6h0M165.6 185.7h0M157.1 194.2h0M127.9 206h0M103.2 172.3h0M131.3 175.6h0M156.3 179.4h0M123.1 184.8h0M110.8 183.2h0M110.2 167.9h0M138.1 178h0M123.6 212.5h0M149.2 173.4h0M161.7 174.2h0M137.9 171.3h0M160.8 177.2h0M140.3 186.3h0M137.9 156.5h0M160.3 172.7h0M120.5 163h0M152.3 166.6h0M137.6 189.8h0M105.7 174.3h0M158 156h0M132.2 174.8h0M163.2 183.5h0M180.2 190.3h0M137.1 160.2h0M151.6 207.7h0M123.3 204.8h0M150.1 172h0M146.8 203.8h0M126 203h0M164.8 183.1h0M186.5 176h0M145.4 153.4h0M130.2 169.8h0M176.9 175h0M167.1 161.3h0M159.7 190.3h0M147 151.6h0M176.8 181.8h0M103.9 188.8h0M113 195h0M162.5 176.1h0M169.8 190.2h0M128.8 203.3h0M173.1 180.5h0M159.4 185.6h0M98.4 181.2h0M168.5 194.8h0M149.3 212h0M140.9 177.3h0M163 210.4h0M105.9 185.2h0M174.1 181.7h0M128.8 183.7h0M125.4 207h0M118 181.7h0M160.9 182.7h0M124.5 186h0M146.2 153.9h0M113.6 170.4h0M119.3 189.6h0M158.5 156.5h0M168.4 190.3h0M164.4 203.2h0M124 180.7h0M167.9 200.6h0M132.2 181.4h0M112.6 170.3h0M132.5 212.4h0M169.7 161.2h0M108.8 174.1h0M129 198.5h0M150.9 185.1h0M117.6 163.3h0M170.3 187.7h0M177.7 183.4h0M163.3 176.7h0M110.1 170.2h0M157.1 185.8h0M142.4 181.5h0M145.4 167.5h0M116.6 165.6h0M181 198.7h0M156.8 158.1h0M161.3 169.3h0M181.3 169.9h0M177 166.4h0M141.6 208.1h0M188.5 187.4h0M134.8 183h0M121.9 204.9h0M162.2 183.5h0M97.6 179.4h0M141.4 156.4h0M121.1 211.2h0M187.7 185.8h0M161.6 163h0M147.4 155.3h0M152.2 195.5h0M127.7 198.5h0M119.8 181.5h0M139.9 159.4h0M168.3 202.4h0M133.7 214.5h0M126.2 178.4h0M181.6 196.1h0M166 183.4h0M154 201.1h0M102.6 182.1h0M134.3 180.2h0M181.9 169.2h0M131.7 208.5h0M103 167h0M120.9 181.2h0M108.6 172.2h0M159.1 170.1h0M106 192.9h0M160.9 165.8h0M180 191.1h0M171 183.9h0M169 185.6h0M146.5 206.8h0M145.1 188.3h0M145.7 195h0M172 194.9h0M126.5 173.7h0M132.4 195.9h0M156.5 213.1h0M174 171.9h0M136 173.6h0M170.1 162.2h0M116 173.1h0M109.1 193.1h0M163 172.1h0M168.9 207.7h0M163.8 160.2h0M149.1 154.5h0M153.9 155.8h0M174.6 199.4h0M100.6 186.5h0M172.5 169.3h0M110.2 175.3h0M172.3 185.7h0M166 183.4h0M123.7 164.1h0M100.3 181.4h0M165.6 195h0M158.6 195.7h0M182.2 174.1h0M184.9 192.7h0M143.3 152.9h0M128.8 176.5h0M167.7 208.1h0M108.7 183.6h0M134.2 161.6h0M159.5 173.4h0M135.2 207.8h0M151.9 200.2h0M152.4 189.5h0M164.1 197.5h0M142.9 199.9h0M147.5 155.9h0M146 202.6h0M186.7 173.1h0M117.5 177.2h0M149.8 212.5h0M125.3 184.8h0M107.1 194.6h0M142.6 174.9h0M149.5 212.6h0M148.8 173.9h0M154.2 167.5h0M133.2 187.4h0M145.3 199h0M133.3 197.1h0M113.4 173.5h0M155.9 204.9h0M171.5 192.5h0M104.3 184.3h0M114 187.4h0M160.8 179.4h0M123.7 161.9h0M181.1 186.8h0M164.8 180.2h0M126.9 204.4h0M128.3 177.7h0M147.2 187.7h0M143.5 199.8h0M163.5 186.5h0M110 179.1h0M118.1 164.4h0M152.4 182.3h0M129.9 185.4h0M129.5 204.9h0M143.9 182.9h0M144.4 179.9h0M136 183.1h0M146.5 161.6h0M115.3 181.6h0M121.8 202.5h0M126.7 205.8h0M143.1 165.1h0M167.3 188.1h0M169.7 181.1h0M116.6 167.7h0M153.7 183.9h0M126.9 193.9h0M143.2 159.5h0M177.4 193.9h0M174.2 173.1h0M186.5 193.4h0M168.2 189.4h0M168.1 180.2h0M122.3 167.5h0M168.1 203.7h0M138.2 173.3h0M125.2 196.8h0M161.8 201.8h0M165.6 171h0M138 168.8h0M147.6 170h0M165 196h0M98.2 186.6h0M147.8 151.3h0M158.9 183.5h0M157.8 210.9h0M127.5 209.5h0M168.5 176h0M101.8 185.4h0M129.4 189.6h0M161.7 209.4h0M143 205.2h0M134.7 193.6h0M144.8 198h0M134.3 188.2h0M153.1 180.5h0M129.1 193h0M122.5 186.9h0M168.9 191.2h0M143.3 199.7h0M178.1 165.7h0M175.4 179.7h0M132.2 165.3h0M102.1 168.2h0M124.3 188.7h0M139 168.6h0M107.6 171.1h0M132.3 197.6h0M137.2 192.6h0M183.1 195.7h0M167.3 202.1h0M155.9 174.9h0M137.5 179.8h0M191 180.9h0M137.6 202.5h0M164.8 203.8h0M148 175.9h0M130.9 201h0M143.7 156.3h0M142.6 186.8h0M142.2 181.6h0M128.4 201.2h0M133.3 208.6h0M132.8 173.7h0M100 186h0M182.5 187.7h0M165.4 199.5h0M165.4 164.9h0M130.7 182.6h0M170.3 175.2h0M167.4 170h0M171 181.9h0M182.1 184.3h0M182.3 175.7h0M166.1 204.7h0M131.3 173.2h0M172.3 186.7h0M169.7 207.5h0M117.9 166.7h0M139.5 192.2h0M131 188.3h0M127.8 167.5h0M167.7 199.2h0M177 186.2h0M150 209.4h0M156.3 176.8h0M155.9 177.2h0M126.6 167.1h0M122.5 184.9h0M124.2 174.7h0M161.2 160.7h0M162.8 161.3h0M105.5 173.1h0M168.5 191.8h0M159.1 183.2h0M125.2 176.3h0M129.5 178.9h0M130.8 202.1h0M123.9 188h0M143 162.6h0M117.8 166h0M172.3 176.3h0M141 212.3h0M126 182.4h0M145.8 202h0M121.8 167h0M144.3 174.3h0M141 202.3h0M179.9 171.5h0M139.7 203.1h0M120.5 183.3h0M139.8 160.8h0M167.1 198.1h0M102.2 172.7h0M148.4 180.2h0M147.4 167.3h0M111.3 177h0M181.3 172.1h0M104.7 192.4h0M166.2 209h0M138.6 183.6h0M185.2 171.4h0M163.1 179h0M123.8 212.4h0M172.1 189.8h0M150.4 211.6h0M162.9 197.7h0M162.6 200.1h0M103.6 186.3h0M167.1 178.8h0M155 206.2h0M162.7 192.1h0M157.1 204.3h0M160.7 157.3h0M125.9 211.6h0M144.7 212.1h0M166.6 187.3h0M168.7 186.1h0M158.8 158.2h0M134.1 203.5h0M140.1 185.4h0M155 155.9h0M108.1 193.8h0M163.3 160.9h0M173.8 180.7h0M132.2 196.4h0M140.2 160h0M166.4 164.5h0M157.3 192.7h0M149.4 190.9h0M176.8 191h0M142.5 184h0M140.2 169.7h0M169.4 163.7h0M127.1 184.1h0M151.3 154h0M150.1 189.5h0M132.1 198h0M114.1 180.5h0M130.2 190.6h0M162.3 180.5h0M105.6 189.9h0M165.4 178.1h0M163.8 186.5h0M120.2 195.1h0M183.6 171h0M171.2 174.9h0M174 177.6h0M146.7 160.4h0M101 187.4h0M173 185.9h0M109.3 189.6h0M169.6 169.1h0M181.8 193.9h0M133.2 176.7h0M165.1 207.4h0M174.7 177h0M137.8 189.5h0M124.2 207.4h0M135.3 177.5h0M130.7 183.7h0M168.6 183.5h0M151 166h0M131.7 162.6h0M149.4 186.2h0M181.5 171.5h0M180.8 189.2h0M127.1 195.1h0M111.8 172.4h0M141.7 201.9h0M128.1 195.8h0M122.3 196.9h0M136.4 154.9h0M165.4 182.4h0M117.8 199.3h0M174 185.3h0M135.6 185.5h0M111 188.6h0M141.5 169.9h0M156.8 156h0M117.8 169.3h0M151.7 191.4h0M139.3 207.7h0M103.4 173.6h0M134.5 192.2h0M161.8 158.4h0M121.6 185.4h0M134.5 172.8h0M141.6 174.2h0M161.6 162.2h0M184.6 174.4h0M129.8 186.2h0M175.5 187.3h0M176.2 191.9h0M169.4 185.7h0M170.9 194.2h0M133.9 212.2h0M138.9 183.3h0M175.7 189.3h0M98.7 177.1h0M130.8 189.8h0M176.6 181.1h0M127.3 181.3h0M158.7 192.1h0M124.9 164.7h0M123.3 198.4h0M99.3 188.3h0M154.7 178h0M130.2 182.9h0M161.1 204.6h0M135.7 200.5h0M162.1 185.4h0M163.8 161.4h0M165.5 174.8h0M135.5 212.1h0M165.4 160.5h0M108.5 189.3h0M115.8 197.1h0M152.4 155.7h0M159.2 204.2h0M160.1 191.6h0M185.2 175.7h0M191.3 179.3h0M143.7 175.6h0M123.9 204.8h0M122.7 177.3h0M99.1 178.9h0M162 167.8h0M134.3 199.5h0M148.2 208.5h0M138.1 165.3h0M139.1 207.8h0M148.2 193h0M136.6 204.3h0M151.5 195.9h0M132 171.9h0M146.9 181.7h0M145.5 213h0M129.6 178.5h0M168.4 183.6h0M153.1 177.6h0M151.4 187.1h0M170.8 167h0M154.3 201h0M146.7 167h0M167.9 162.4h0M157.5 176.4h0M132.2 189.2h0M158.6 166h0M190.2 186h0M117 197.9h0M163 199.7h0M138.5 210.6h0M114.8 166.6h0M119.8 198.1h0M135.7 197h0M179.3 175.2h0M132.3 186h0M108.9 192.7h0M164.7 164.8h0M169.4 179.1h0M109.8 196h0M132.2 168.5h0M138.3 160.6h0M151 201.1h0M163.7 204.6h0M105.8 167.6h0M137.1 204.8h0M98.4 185.2h0M121.7 192.1h0M180.5 178.2h0M164.6 187.1h0M165.8 210.3h0M117.6 180.7h0M154.8 185.8h0M136 160.3h0M156.2 207.6h0M185.9 188.7h0M137.8 161.3h0M146.3 211.8h0M137.5 185.5h0M150.4 159.6h0M153.1 194.1h0M147.9 173.7h0M181.1 168.9h0M123.9 209.9h0M115 195.8h0M107.7 189.6h0M118.2 178.1h0M154.2 212.9h0M130.5 212.3h0M117.2 175.7h0M184.4 178.9h0M122.9 207.9h0M173.6 187.6h0M123.2 211.4h0M161.8 169.4h0M121.7 163.1h0M99.8 186.8h0M156.1 186.2h0M131.5 186.2h0M112.4 165.6h0M97.1 175.8h0M146.5 189.3h0M155.2 212.2h0M129 192.3h0M161.3 175.4h0M149.6 162.1h0M132.7 177.7h0M148.8 176.5h0M146.6 184h0M136.9 188.1h0M139.5 191.3h0M161.6 158.6h0M168.2 174.8h0M101.1 177.5h0M122.6 190.8h0M122.1 208h0M117.8 190.7h0M123.8 177.2h0M161.5 179.2h0M140.3 210.7h0M160 182h0M126.5 182.6h0M149.9 170.8h0M137.5 179.1h0M151.4 157h0M115.7 167h0M161 177.2h0M145.2 210.2h0M158.5 200.2h0M123.2 196.2h0M181.9 176h0M182.2 196.5h0M135.2 182h0M147.9 168h0M126.3 188.5h0M160 170.2h0M110.5 192.1h0M133.2 183.8h0M143.8 193.3h0M123.8 173.9h0M121.7 163.8h0M144.8 198.7h0M146.5 159.4h0M130.9 193.6h0M115.6 181.8h0M118.5 181.9h0M119.8 198.4h0M151.3 185h0M167.3 200.9h0M176.2 194.7h0M140 200.9h0M152.8 156.3h0M132.9 168.1h0M125.5 199.1h0M153.9 199.7h0M162.9 180.6h0M124.2 170.1h0M144.9 175.9h0M133.9 169h0M138 176.4h0M182.7 168.2h0M159.9 189.7h0M152.4 213.2h0M183.3 191.5h0M181.5 180.5h0M141.9 165.8h0M134.4 175.9h0M163.1 171.2h0M134.1 176.8h0M140.6 176.7h0M142.2 192.4h0M113 190h0M171.6 177h0M117 190.8h0M131.6 185.4h0M131.4 197.4h0M150.3 158.4h0M112.6 184.3h0M143.7 194.4h0M150.9 195.9h0M129.7 166h0M123.3 187.3h0M167.6 185.1h0M183.6 168.1h0M113.6 196.4h0M179.1 184.3h0M171.7 165.1h0M141.2 171.3h0M123 162.8h0M150.3 203h0M177.3 171.7h0M99.5 174.8h0M130.1 209.4h0M105 183.1h0M157.7 201.9h0M170.8 185h0M124.8 179.6h0M133.7 193.8h0M132.4 191.8h0M103.8 169.1h0M123.9 184.4h0M107.8 191.1h0M116.8 186.9h0M122.1 191.6h0M189.7 180.1h0M124.4 183.6h0M168.1 171.5h0M165.4 183.2h0M135.4 194.2h0M138.1 188.6h0M145.3 198.7h0M161.6 159.3h0M106.4 187.4h0M187.9 190.4h0M151 207.2h0M117.1 189.7h0M119.4 168h0M137.8 174.8h0M165.9 165.4h0M124.4 202.4h0M162.9 178.1h0M165 166.8h0M131.5 167.3h0M104.9 167.2h0M158.2 159.9h0M183.3 195.6h0M145.9 184.4h0M169.8 186.7h0M167.5 189.3h0M141 203.6h0M177.7 192.7h0M169.9 177.9h0M160.4 161.7h0M123.6 191h0M138.2 162.2h0M130.3 183.3h0M144.5 156.3h0M153.1 159.1h0M147.5 162.5h0M160.9 203h0M128.5 203.5h0M163.9 160h0M143 192.8h0M102.2 179.7h0M155.5 199.7h0M121.5 196.4h0M171 172.6h0M107.2 183.1h0M159.3 191.6h0M182.7 196.1h0M158.6 207.7h0M165.2 205.6h0M139 204.9h0M116 164h0M181.9 177.7h0M98.8 177.8h0M179.4 177.5h0M178.5 197.5h0M165.5 189.6h0M139 205.8h0M152 214h0M159.5 210.6h0M163.3 204.7h0M115.8 184.2h0M100.7 171h0M115.6 172.7h0M152.4 168.5h0M161.8 167.4h0M187.1 191.5h0M133.5 163.5h0M158.9 154.8h0M123.4 202h0M154.9 159.3h0M147.8 163.1h0M124 184.8h0M172 170.8h0M174.4 200.8h0M154.1 191.9h0M152.6 159.4h0M131.2 202.7h0M128.9 191.7h0M123.7 177.5h0M116.8 199.9h0M174 165.9h0M130.4 190.1h0M116.9 179.2h0M160.4 176.7h0M158.9 203.3h0M160.7 200.7h0M147.6 161.4h0M107.2 176.5h0M176.5 167.8h0M115.1 189h0M117.8 164h0M132.4 172.8h0M128.6 160.9h0M118 185h0M145 168.1h0M148 203h0M143.2 179.5h0M149.6 183.9h0M190.3 186.3h0M146.9 165.2h0M136.3 198h0M142.9 177.9h0M116 181.9h0M170.5 173.2h0M170.8 196.2h0M144.8 204.2h0M157.7 162.1h0M134.8 195.4h0M188.7 187.9h0M170.4 164.2h0M147.5 169h0M145.8 176.7h0M166.2 191.4h0M146.2 163.3h0M140 168.3h0M135.9 203h0M122.6 166.2h0M158.5 177h0M178.7 178.7h0M121 208.2h0M147.2 196.5h0M125.5 207.3h0M138.6 177.5h0M125.4 178h0M99.9 172.9h0M142.4 208.6h0M179.2 182.7h0M151.8 205.3h0M169.2 185.6h0M149.6 187.2h0M127.1 178.1h0M138.8 155.5h0M133.3 179.9h0M183.5 185.9h0M160.3 170.4h0M164.9 210.9h0M110.4 164.6h0M119.5 193.8h0M136.9 161.8h0M101.7 181.5h0M125.8 176.9h0M110.3 164.4h0M155.2 163.7h0M144.4 198.3h0M163 174.7h0M142 205.3h0M119.7 189.3h0M137.8 212.1h0M164.5 165.3h0M185.7 185.4h0M122.8 163.4h0M186.2 173.6h0M130.7 165.8h0M155.5 207.4h0M184.7 187.1h0M139 195h0M147.2 202.5h0M131.3 194.3h0M119.7 181.5h0M153.2 200.9h0M152.5 190.6h0M130 165.6h0M165.1 186.5h0M161.1 206.4h0M114.7 175.1h0M153.2 160.4h0M123.3 187.9h0M122.8 208.3h0M127.5 170.1h0M159.3 212.4h0M114.1 177.7h0M124.5 194.7h0M135 194.7h0M161.4 164.6h0M126.8 210.6h0M130.5 204h0M102.7 173h0M139.2 205.8h0M140.9 212.1h0M106.1 179.2h0M173.4 162.8h0M114.7 193.6h0M143.1 185.8h0M149.2 162.2h0M158.7 193.8h0M129.3 163.4h0M112.5 163.6h0M99.2 178.6h0M152.7 212h0M163.9 206.2h0M155 208.2h0M107.9 174.4h0M186.2 178.4h0M133.6 168h0M165.8 202.1h0M136.1 164.1h0M152.6 176.8h0M124.2 178.1h0M181.8 169.5h0M142.5 151.7h0M144.5 181.5h0M128 173.5h0M117.7 185.1h0M144.7 191.7h0M177 194.1h0M169.2 182.2h0M183.1 173.8h0M112.8 182.8h0M137.9 158.5h0M178.4 168.5h0M152.8 196.3h0M126.6 212.3h0M178.2 166.6h0M150.9 192.2h0M183 171.1h0M162 160.9h0M134.1 213.2h0M140.9 158.4h0M158.1 186.4h0M151.6 190.9h0M115.6 183.2h0M109.8 164.1h0M127 164.4h0M133 202.5h0M168.9 164.4h0M184.2 171.6h0M181 197.1h0M161.2 161.9h0M135.9 198.7h0M145.3 155.9h0M152.1 168.4h0M145.6 209.4h0M139.7 175.4h0M148.5 163.7h0M186.7 182h0M146.6 173.3h0M155.7 173.1h0M146.8 189.8h0M129.4 197.4h0M118.5 191.4h0M169.7 202.6h0M163.9 181.4h0M137.1 172h0M164.9 200.6h0M158.2 158.8h0M156.6 167.5h0M129.2 192.3h0M170.4 193.8h0M154.4 195.4h0M150.3 165.2h0M182.6 172.7h0M155.8 157.5h0M143.8 185.3h0M139.2 203.5h0M188.3 184.6h0M173.1 175.3h0M144.4 169.1h0M148.7 185h0M104.2 170.2h0M146.9 159.3h0M107.3 173.1h0M128.3 203.1h0M134.4 155.5h0M155.5 159.2h0M149.9 192.1h0M176.4 164.1h0M178.4 166.5h0M118 167h0M129.9 180.9h0M184.9 187.3h0M139.3 153h0M97.9 179.4h0M107.5 188.8h0M124.8 185.5h0M102.8 190.3h0M151.3 210.8h0M146.1 199.3h0M132.3 186.3h0M154.2 176h0M139.2 179.5h0M156.8 207.9h0M147.4 191.7h0M97.2 174.2h0M185.3 193h0M181 182.6h0M153.8 166.5h0M147.2 169.9h0M131.7 157.8h0M139.3 179h0M128.5 202.2h0M151.7 174.3h0M106.3 170.7h0M97.1 183.2h0M163.1 164h0M181 171.1h0M126.5 213.7h0M128.2 162.6h0M190.3 176.2h0M116.1 171.4h0M134.4 198.4h0M155.7 193.1h0M154.2 156.5h0M123.6 160.2h0M108.6 175.3h0M148.5 169.8h0M166.1 183.6h0M141.3 186.3h0M167.1 206.3h0M118 182.6h0M143.3 171.7h0M148.2 200.4h0M139.1 211.9h0M170.3 186.5h0M152.6 207.5h0M149.5 182.3h0M122.7 210.9h0M144.7 183.2h0M115.9 195.4h0M141 178.4h0M189.4 186h0M132.9 158.7h0M176.3 163.2h0M137.2 161.8h0M148.4 207.8h0M162.8 169.9h0M159.3 184.9h0M151.3 204h0M165.8 181.8h0M181.3 199h0M176.3 197h0M106.4 164.5h0M163.4 174.6h0M118.4 179.8h0M176.5 199.2h0M126.7 186.2h0M119.2 198.8h0M186.1 178.7h0M125.6 175.2h0M165.3 189.1h0M180 192.3h0M137.4 163.4h0M160.8 193.2h0M127.9 166.8h0M117.2 196.7h0M167.3 187.5h0M138.1 163.8h0M155.9 156.1h0M147.9 203.3h0M180.6 182.5h0M134.9 176.6h0M109.8 192.8h0M168.7 183.5h0M149.9 193.5h0M130.7 200.2h0M109.1 190.6h0M153 167.3h0M122.8 182.1h0M173.1 201.6h0M173.7 188.3h0M140.8 184.6h0M146.6 157.2h0M138 197.1h0M124.1 213.2h0M155.5 167.1h0M166.9 209.4h0M101.1 177.3h0M157.2 160h0M121.6 179h0M149.1 158h0M152.7 175.6h0M149.5 185.7h0M119.4 175.4h0M140.2 159.9h0M150.7 211.4h0M124 194.1h0M118 177h0M153.3 167.9h0M151.5 188.2h0M114.4 164.3h0M144 209.9h0M102.7 182.6h0M115.1 176.2h0M125.7 170.6h0M172.1 185.8h0M158.5 178.1h0M110 165.2h0M113.8 191h0M159.1 177.9h0M151.2 172.3h0M141.5 177.2h0M118.2 194.2h0M173.9 174.1h0M143.5 180.8h0M126.5 159.5h0M147.4 197.5h0M107.3 192.4h0M137.7 192.6h0M107.5 193.7h0M112.1 170.4h0M132.5 189.9h0M149.9 189.8h0M133 165.7h0M162.3 193.2h0M151.7 204.2h0M145.7 203.8h0M190.4 180h0M178.5 180h0M135.1 190.6h0M143 154.4h0M112.4 173.7h0M148.3 168.3h0M144.2 205.5h0M161.1 166.4h0M143.4 197.9h0M158 163.2h0M171.7 200.4h0M133.5 197.4h0M171.8 179.7h0M118 166.8h0M156.8 199.6h0M121.1 188h0M163.2 172.6h0M136.9 188.7h0M129.9 211.4h0M163 174.8h0M138.8 193.2h0M115.2 193h0M112.5 178.8h0M134.5 169.4h0M103.5 189.3h0M117.8 172.1h0M121.3 182.7h0M158.4 168h0M109.4 167.7h0M141.9 154.6h0M125 206.4h0M167 186h0M188.6 187.9h0M165.4 162.6h0M126.4 172.8h0M166 187.4h0M158.9 154.7h0M138.2 184.1h0M101.8 167.1h0M128.1 202.8h0M136.7 186h0M175.7 189.4h0M162.1 194.3h0M132.3 203h0M183.6 184.1h0M167.4 173.1h0M161 176.9h0M132 177.3h0M115 192.5h0M98.8 179h0M130.4 184.2h0M104.6 165.4h0M123.9 186.4h0M126.8 172.9h0M132.9 170h0M111.2 172h0M147.7 172.4h0M102.3 177.6h0M124.9 179.1h0M132.8 208.7h0M178.1 175h0M120.1 166.9h0M173.4 170.2h0M183.3 183.8h0M146.8 182.1h0M152 170.3h0M189.9 189h0M153.2 183.8h0M187.7 175.1h0M173.1 196.8h0M173.1 189.3h0M156.1 205.9h0M127.6 193h0M123.1 185.5h0M179.3 188.7h0M109.2 174.5h0M124.2 206.3h0M134 207.1h0M131.5 191.2h0M142.5 157h0M125.8 196.3h0M160.7 167.7h0M144.1 208h0M139.1 189.7h0M154.4 211.3h0M118.5 174.7h0M165.2 200.8h0M100.5 189.2h0M138.6 185.9h0M155.3 162.2h0M107.3 187.8h0M121.5 192.9h0M124.2 173.2h0M109.1 181.6h0M152.4 212.2h0M132.3 205.9h0M120.4 165.7h0M161.1 197.3h0M172.2 162.2h0M161.7 164.6h0M142 197.4h0M158.4 190.9h0M110.3 180.5h0M160.8 179h0M124.3 185.7h0M182.7 169.8h0M101.2 181.2h0M135.1 199.2h0M141.4 160.2h0M175.6 175.4h0M130.2 210.2h0M143.8 176.7h0M121.2 207.8h0M146 188.6h0M163.2 199h0M181.1 192h0M112.4 186.3h0M118.8 196.3h0M127.9 166.4h0M149.1 169.3h0M121.5 212.2h0M165.1 209.3h0M156.3 169.5h0M131 163h0M121.6 181.9h0M135.3 188.5h0M137.6 172h0M172.8 178.5h0M124.2 163.8h0M141.7 202.7h0M109.2 188.8h0M153.8 164.3h0M142.6 213.4h0M141.3 173.4h0M138.3 210.3h0M164.3 196.3h0M175.5 186h0M158.2 173.9h0M145.6 152.3h0M146.9 167.7h0M125.7 165.1h0M179.5 172.2h0M146.8 188.1h0M146.2 179.6h0M163.9 161h0M185.1 177.3h0M158.5 179.3h0M105.5 177h0M145.4 157h0M156.1 177.1h0M163.4 196.6h0M116 162.9h0M105.8 183.8h0M123 176.1h0M155.7 203.2h0M135.6 156.2h0M131.5 214h0M133.8 193.8h0M138.7 177.6h0M180.2 186h0M115.3 175.7h0M124.2 165.8h0M159.5 200.9h0M115.7 175.3h0M165.3 204.4h0M171.3 192.1h0M188.3 181.9h0M150.9 206.1h0M143.6 204.2h0M104.6 173.5h0M146.6 205.3h0M146.8 175.8h0M114 167.2h0M161.9 167h0M162.8 210.1h0M112.1 165.9h0M117.7 172.9h0M107 191.9h0M180.2 198.9h0M174.5 202h0M166.1 206.8h0M105.3 167.1h0M117.6 187.7h0M134.9 171h0M131.3 197.3h0M114.5 173.1h0M126.4 173.8h0M125.5 159.9h0M169.7 198.3h0M135.2 200.5h0M149.9 192.7h0M148.4 180.1h0M168.3 166.3h0M138.2 169.1h0M162.5 164.2h0M128.4 202.3h0M142.9 186h0M186.2 179.7h0M163.2 179.8h0M115.1 180.9h0M188.9 189.4h0M159.3 189.9h0M155 210.5h0M125.3 188.8h0M142.8 190.1h0M109 182h0M132.9 196.8h0M145.3 185.1h0M135.3 174.4h0M170.9 180.5h0M144.3 205.2h0M126.8 167.8h0M109.2 182.5h0M156.1 206.5h0M163.1 163.7h0M125.4 183.3h0M108 179.8h0M125.2 212.5h0M160.9 166.2h0M122.3 189.2h0M104.6 166.4h0M136.2 179.6h0M161.5 190.5h0M110.9 168.6h0M181.2 176.8h0M127.8 169.2h0M141.8 174.2h0M185.5 177.3h0M144.8 170h0M159 195.5h0M140.4 167.3h0M140.6 151.4h0M123.2 167.4h0M165.1 178.2h0M174.4 197.8h0M130.4 158.2h0M185.5 173.3h0M114 174.5h0M146.5 192.9h0M155.9 178.4h0M176.4 185.6h0M162.9 208.2h0M181.6 182.1h0M149.3 212.7h0M120.4 161.4h0M151.7 153.5h0M127.3 210.3h0M105.4 170.2h0M164.5 195.7h0M125.9 183.3h0M110 172.6h0M135.4 212.2h0M147.5 176.9h0M172.7 184h0M153.7 199.5h0M165.4 161h0M134.2 201.4h0M119 199.8h0M121.8 176.6h0M170.3 206.1h0M124.2 168.9h0M157.6 175.1h0M146.7 191.7h0M141.8 196.6h0M148 179.8h0M140.8 159.2h0M139.5 159.7h0M139.1 189.7h0M178.2 175h0M156.2 173.9h0M136.7 185.3h0M153.2 158.8h0M158.2 209.5h0M141.9 202.1h0M158 155.2h0M133 187h0M130.7 184.2h0M107.2 168.2h0M169.8 190.1h0M104.8 180.6h0M106.3 174.1h0M100.9 189.2h0M127.4 167h0M129.2 188.8h0M151.5 171.3h0M187.3 189.4h0M149.1 195.6h0M142.3 210.6h0M104.8 192.8h0M109.4 170.4h0M105.5 166.3h0M151.8 206.2h0M184.7 171.6h0M118.3 200.8h0M151.8 186.8h0M164.3 205.8h0M173 179.1h0M169.8 204h0M99.3 186.5h0M142.3 184h0M99.9 169.2h0M171.3 198.9h0M162.6 206.3h0M141.8 204.8h0M168.1 173h0M157 177.6h0M127.1 158.8h0M117.9 174.1h0M186.7 171.7h0M149.5 208.8h0M186.5 180.3h0M166.5 180.6h0M121 163.7h0M125.3 179.7h0M168.9 204.4h0M172.8 198.2h0M175.7 166.8h0M154.1 158.3h0M128.2 212.2h0M143.1 192.5h0M148.5 168.4h0M138.2 162.4h0M131.9 207.8h0M156.5 162.5h0M102.6 170.4h0M152.1 160.9h0M127.4 200.2h0M99.7 168.8h0M151.5 162.9h0M135.2 158.5h0M177 165.5h0M100.7 185.9h0M156.9 197.5h0M145.2 194.1h0M168.3 199.4h0M113.2 169.9h0M126.2 160.3h0M131 198.8h0M150.7 172.6h0M118.4 162.7h0M172.4 175.5h0M155 167.5h0M126.9 193.7h0M159 195.4h0M113.5 181.6h0M137.8 159.6h0M163.7 193h0M101 177.8h0M110.9 181.9h0M176.8 201.7h0M149.8 183h0M174.8 184.8h0M171 183.3h0M163 162.4h0M136.8 184.2h0M114.6 182.4h0M131.5 208.5h0M158.1 183.7h0M164 202.9h0M145.4 175.6h0M138.6 185.3h0M152.8 185h0M160.4 159.3h0M177.7 175.4h0M187.3 174.6h0M135.1 164.3h0M105 175.7h0M140.5 177.3h0M169 164.4h0M131.1 165.4h0M127.8 196.6h0M170.8 173.6h0M162.6 189.9h0M145.7 179.8h0M120 174.2h0M172.1 195.4h0M128.8 203.5h0M167.2 197h0M127.6 210.3h0M180 186h0M138.4 193.2h0M123.5 163.7h0M143.6 197.7h0M128.2 176.3h0M166.2 202.2h0M146.9 205.9h0M142 211.1h0M136.3 180.8h0M126.4 164.4h0M167.7 199.2h0M155.4 185h0M126 172.3h0M149.5 194h0M154.7 188.5h0M142.3 173.9h0M128.4 188.4h0M150.1 185.2h0M146.4 168.6h0M128.2 191.9h0M188.7 186.9h0M130.8 190.2h0M120.3 194.5h0M145 191.6h0M122.2 193.4h0M157.2 186.7h0M117.7 176.7h0M119.2 201h0M174.9 173.1h0M134.6 170h0M147.5 185.9h0M187.8 180.4h0M133.1 211h0M162.8 199.1h0M162.8 158.9h0M145.3 207.8h0M161.6 196h0M131.7 205.6h0M136.3 202.7h0M168.7 197.2h0M175.1 187.2h0M172.3 200.5h0M136.5 206.6h0M146.7 182.4h0M157.5 184.6h0M183.2 178.2h0M135.3 206.1h0M108.8 168.8h0M143.8 158h0M152.9 151.9h0M97.1 179.5h0M161.6 200.4h0M122.7 165.5h0M118.6 191.2h0M133.8 168.8h0M157.9 194.4h0M148 158.5h0M182.4 168.6h0M156.9 170.5h0M159.6 192.9h0M177.4 188.4h0M116.5 176.9h0M152.7 207h0M164.3 168.3h0M171.1 166.3h0M156.7 157h0M156.8 202.2h0M157 186.8h0M162.8 173.5h0M117.8 195.8h0M102.2 182.2h0M121 204.7h0M107.8 186.6h0M129 168h0M138.6 174.8h0M157.8 183.1h0M167.4 169.3h0M102.3 178.2h0M128.6 172.1h0M139.9 186.8h0M154 161.8h0M117.6 178.3h0M172.1 188.7h0M152.4 160.7h0M184.5 171.9h0M125.4 196.9h0M175.9 198.9h0M145.3 187.6h0M150.2 171.6h0M157.2 204.2h0M134.1 162.6h0M123.8 184.1h0M141.9 164.9h0M171 191h0M126.3 178.6h0M150.1 166.2h0M122 181h0M140.7 158.9h0M168.3 200.7h0M168.4 201.5h0M182.1 199.1h0M132.9 209.9h0M129 169h0M141.4 165.7h0M147.4 154.5h0M178.6 186.6h0M151.2 200.9h0M180.6 167.7h0M164.2 180.7h0M137.5 169.5h0M135.2 189.3h0M143.5 205h0M169.5 170.6h0M184.5 192.4h0M171.2 188.6h0M111.5 173.1h0M111.3 167.6h0M142.7 210.5h0M114.5 175.2h0M145.5 158.7h0M174.4 171.7h0M103.9 183.1h0M120.4 178.4h0M119.4 175.5h0M107.3 174.1h0M118.5 170.8h0M108.6 178.7h0M166.6 168.5h0M176.5 165.1h0M152.6 175.8h0M142.7 187.2h0M150.9 166.9h0M168.4 203.7h0M118.9 182h0M116.5 184.8h0M174.1 180.1h0M129.2 158.2h0M154.4 154.2h0M164.4 166.1h0M145.8 181.3h0M190.7 190.6h0M129.2 169.6h0M169.8 197.5h0M165.4 195.3h0M140.7 178.6h0M177.5 172.4h0M113.7 196.3h0M168 179.2h0M185.4 193.1h0M167.1 202.3h0M161.9 165.1h0M149.4 196.9h0M136.7 209.8h0M181.5 167.8h0M140.4 151.7h0M135.6 193.5h0M128.6 178.5h0M172.5 193.4h0M124 200.4h0M110.6 163.6h0M145.3 158.8h0M159.1 190.8h0M179.2 193.8h0M177.6 182.5h0M115.3 164.3h0M137.2 183.3h0M153.5 199.3h0M116.8 181.8h0M167.2 166.2h0M149.1 152.6h0M108.3 174.9h0M185.1 175.6h0M167.7 160.6h0M168.2 160.8h0M191.3 186.2h0M172.2 197.6h0M157.6 205.1h0M102.5 181h0M161 189.5h0M123.9 178.2h0M118.2 182.4h0M115.1 191.7h0M123.1 192.6h0M151.9 178.9h0M174 201.4h0M157.6 184h0M132.7 179.5h0M132 157.7h0M146.8 172.9h0M136.5 160h0M180.2 197.1h0M113.1 180.2h0M147 180.5h0M134.1 170.2h0M111.6 182h0M97.9 173.2h0M119.1 198.3h0M124.6 177.2h0M149 193.5h0M132.2 192.9h0M122.1 177.3h0M100.1 170.9h0M172.1 178.6h0M185.3 193.7h0M136.6 169.7h0M150.5 179.1h0M183.5 197h0M177.4 186h0M172.6 204.3h0M129.5 212.2h0M173.4 167.5h0M139.5 204.1h0M130.5 173.8h0M103 192.3h0M127.9 208.7h0M133.1 205.9h0M150.9 154.5h0M108.1 164.2h0M135.6 177.4h0M119.3 164h0M175.3 186.5h0M97.8 174.8h0M132 179.5h0M132.5 171.8h0M149.2 200.3h0M172.8 195.8h0M157.8 173.3h0M122.2 185.4h0M138.2 188.6h0M127.9 199.7h0M145.4 187.7h0M144.9 173.4h0M163.9 172h0M143.7 154.1h0M127.1 195.8h0M155.7 195.5h0M124.9 165.8h0M143.7 151.4h0M112.6 188.1h0M169.9 172.4h0M125.2 165h0M150.5 189.1h0M169.2 172.4h0M144.9 212.9h0M170 188h0M136.8 156.9h0M116.8 184.6h0M175.4 170.8h0M98.2 183.8h0M168.8 194.8h0M142.9 161.7h0M134.6 212.9h0M98.7 181.1h0M124.3 195.5h0M166.7 195.9h0M159.9 158.7h0M105.1 180h0M99.9 175.5h0M153.1 167.2h0M143 212.6h0M164.2 204.1h0M132.9 158.2h0M125.1 208h0M160.4 203.1h0M134.3 199.3h0M122.3 206.1h0M129.2 197.8h0M136.5 199.8h0M127.2 183.4h0M158.1 163.3h0M127.3 162.5h0M110.4 170.6h0M158.2 177.7h0M189.4 178.1h0M166.1 205.7h0M180.6 173.4h0M172.4 191.9h0M177.1 193.3h0M121.9 185.2h0M144.5 154.3h0M138.8 202.4h0M174.4 198h0M159.7 204.6h0M140.3 188.6h0M180 186.8h0M129.1 184.5h0M130.2 175.9h0M181.4 169.7h0M132.8 172.7h0M148 192.7h0M139.8 193.3h0M176.8 166.8h0M127.5 188h0M173.4 193.3h0M146.2 159.7h0M182.7 176.5h0M129 207h0M130.3 189.2h0M102.1 174.6h0M173.7 182.6h0M167 176.7h0M132 182.3h0M172.7 176.2h0M180.8 192.1h0M190.9 188.5h0M115.9 180.8h0M102.7 182.4h0M139.8 188.8h0M133.5 183.2h0M121.5 193.1h0M128.6 183.8h0M113.3 171h0M158.3 183.3h0M129.6 204.7h0M146.4 174.3h0M186.9 190.5h0M163.8 178.4h0M157.9 204.2h0M140.4 166.5h0M135.3 202.7h0M146.4 159.1h0M145.2 206.7h0M143.6 174.1h0M115.3 165h0M108.5 189.9h0M129.1 183.1h0M125.8 175.2h0M126.7 162.1h0M150.6 183.1h0M124.1 212h0M148.9 184h0M144 197.4h0M121.6 197.3h0M184.7 177.2h0M132.8 199.8h0M139.6 190.1h0M103.9 182.7h0M137.4 211.1h0M113.1 172.1h0M156.2 187h0M177.7 166.6h0M161.4 180.2h0M129.3 198.2h0M189.9 177.9h0M100.5 179.7h0M130.1 169.8h0M126.5 167.5h0M142.2 193.9h0M148.4 152.3h0M178.4 188.1h0M120.7 199.3h0M150.2 188h0M129.8 180h0M165.7 171.8h0M142.8 184h0M170.1 188.7h0M99.2 185.9h0M111.8 163.5h0M136.3 187.7h0M152.8 197.5h0M112.6 163.8h0M152.7 197.4h0M161.4 211.9h0M134.6 156.8h0M144.9 174.3h0M116.3 164.9h0M140.5 165.4h0M146.5 199.2h0M143.2 167.2h0M130.8 185.5h0M132 166.3h0M119.7 193.5h0M182.8 183.6h0M182.7 184.6h0M137 208h0M169.3 200.9h0M101.6 172.6h0M130.4 176.8h0M123.3 194.5h0M180 180.9h0M117.6 164.8h0M123.4 175.9h0M175.5 168.8h0M107.4 169.7h0M137.1 159.6h0M144.1 192.6h0M149.8 184.9h0M100.3 186.2h0M118.9 173.7h0M133.6 194.2h0M140.1 208.6h0M184.6 190.3h0M132.1 208h0M132 185.1h0M144 192.1h0M156.7 192.7h0M139.8 171.3h0M113.3 188h0M175 162.8h0M117.9 167.8h0M117 183.5h0M125.6 161.9h0M140.2 178.2h0M119.6 190.6h0M103.2 186.5h0M164.6 165.2h0M122.2 194.7h0M175.5 176.3h0M127.5 195.1h0M140.5 212.4h0M151.5 163.1h0M171.6 187.7h0M129.8 214.1h0M175.6 165.7h0M153.4 211.3h0M122 210.9h0M166.5 198.4h0M132.3 182.4h0M137.7 173.2h0M127.1 182h0M127.3 167.4h0M123 174.3h0M124.7 197.5h0M123.5 197.3h0M160.6 165.6h0M157.4 207.6h0M148.3 174h0M116.8 190.2h0M112 168.2h0M140.9 172h0M131.4 160.2h0M142.6 211.3h0M133.9 168.8h0M117.7 179.9h0M131.5 159.2h0M103.1 185.8h0M121.7 202.6h0M115.9 163.5h0M102.9 166.8h0M137.9 211.5h0M122.3 183.5h0M153.4 176.2h0M139.2 200.6h0M140.1 209.9h0M134.3 187.9h0M151.6 190.3h0M148.9 153.6h0M132.9 195.3h0M137.7 163.1h0M182.9 173.8h0M149.6 188.7h0M175.2 186.7h0M142.4 209.2h0M147.8 211.1h0M123.7 166.5h0M120.8 204.3h0M131.7 180.3h0M130.2 214.1h0M179.9 176.4h0M108.8 164.6h0M159.8 197.7h0M138.6 205.6h0M176 198.4h0M174.5 165.1h0M163.3 203.5h0M131.2 210.9h0M107.2 187.7h0M169.7 190.4h0M170 168.9h0M149.4 175.3h0M149.9 189.5h0M123.8 178.3h0M129.1 170.6h0M135.9 170.3h0M130.1 209.7h0M113.8 175.1h0M170.2 182.9h0M161.7 204.9h0M99.3 188.7h0M147.5 195.9h0M151.6 168.7h0M169.9 171.8h0M122.2 196h0M172 171.3h0M113.2 196h0M118.3 190.9h0M117.5 191.7h0M125.2 202.2h0M136.2 173.7h0M184.9 172.6h0M176.6 192.9h0M120.5 175.9h0M155.2 196.8h0M135.5 199.2h0M171.4 164.5h0M173.3 173.3h0M144.7 176h0M173.4 203.1h0M189.7 179.2h0M168 162.1h0M164 197.5h0M131.8 162.2h0M183.5 178.5h0M140.1 190.1h0M181.5 186h0M105.9 170.5h0M152.3 180.1h0M132.4 162.9h0M119.9 193.4h0M177.1 191.7h0M187.1 192h0M118.6 182.6h0M153.5 188.3h0M135.8 186.3h0M179.7 200.1h0M110.6 185.5h0M119.7 171.6h0M107.2 190.5h0M135.1 161.6h0M157.2 176.1h0M147.9 164.8h0M114.4 181.9h0M157.7 158h0M148.2 169.6h0M113 164.2h0M99.4 176h0M117.8 190h0M148.3 211.1h0M170.5 174.7h0M143 186.8h0M139 193.1h0M148.5 200.6h0M186.2 175.7h0M176.8 174.4h0M144.2 159.1h0M113.6 190.6h0M181.8 168h0M161.2 200.9h0M153.2 196.9h0M156.3 156.7h0M162.6 172.1h0M145.2 160h0M137.9 153.7h0M152.7 157.9h0M96.4 184.1h0M147.7 160.8h0M118.6 189.5h0M131.6 191h0M131.6 205.5h0M169.5 175h0M96.8 183.6h0M158.5 205.8h0" stroke="#F58B52" stroke-width="2" stroke-linecap="round" fill="none"/>
<path d="M144.6 159.6h0M171.1 185.3h0M143.9 205.9h0M184.6 188.7h0M138.7 194.7h0M144.4 162.6h0M184.5 196.9h0M147.7 204.9h0M128.4 168.9h0M150.2 184.9h0M155.6 175.9h0M137.4 155.3h0M153 202.7h0M130.5 196.1h0M166.8 195.2h0M113.3 179.6h0M154.4 207.7h0M111.7 185.4h0M125.6 195.6h0M137.5 168.5h0M147.6 208.4h0M179.4 185.3h0M165.3 210.4h0M164.6 190.7h0M151.4 167.7h0M144.5 156.4h0M124.1 184.2h0M190.1 191h0M174.3 176h0M108.2 170.7h0M161.5 187.1h0M107.5 164.8h0M162.4 211.5h0M139.3 184.3h0M182.5 198.6h0M161.2 185.8h0M175 171.8h0M161.7 157.3h0M186.8 180.7h0M140.5 155.9h0M164.4 187.6h0M147.4 173.8h0M105.1 168h0M170.7 195.3h0M135.9 181.2h0M98.9 187.4h0M112.5 183.1h0M131.5 157h0M162.5 178.7h0M155.5 172.7h0M110.8 177.3h0M117.7 183.5h0M120.5 197.6h0M178.8 194.5h0M168.6 176.7h0M155.6 206.1h0M126.3 176.2h0M188.9 176.7h0M183 182.4h0M176.3 170.5h0M119 180.6h0M136 172.3h0M160.4 187h0M103.6 171.1h0M182.7 174.1h0M158.9 167h0M158.2 185.2h0M152.9 154.3h0M118.9 169.1h0M146.3 170.9h0M132.6 182.9h0M150.7 174h0M129.8 187.8h0M156.6 198.6h0M157 158.6h0M130.7 192.1h0M164.9 209.3h0M166.7 189.4h0M155.2 168.2h0M151.7 174.4h0M128.6 165.1h0M126 184h0M122.3 205.8h0M119.1 184h0M162.8 189.3h0M142.6 176h0M134.6 180.2h0M125.8 195.9h0M130.5 207.8h0M119.4 200.6h0M178.9 171.9h0M150.8 200.8h0M186.9 187.8h0M140.4 190.5h0M155.2 157.5h0M151.8 210.2h0M148.5 162.5h0M126.2 209.5h0M136.9 156.2h0M124 187.8h0M112.4 182.5h0M143 193.7h0M123.2 163h0M141.3 162.6h0M150.3 176.2h0M147.4 168.8h0M150.3 184.3h0M155.9 194.7h0M104.7 192.2h0M126.3 213.1h0M109.5 182.5h0M165.3 201.6h0M111 169.9h0M120.5 167.2h0M173.9 203.5h0M188.3 192.7h0M109.4 169.5h0M154.7 197h0M170.2 199.3h0M131.7 181.4h0M155.2 183.1h0M120.6 171.2h0M137.4 207.2h0M114.4 184.3h0M155.3 208.8h0M136 210h0M127.8 194.6h0M166.7 169h0M134.6 160.1h0M182.6 169.5h0M134.9 205.4h0M135.7 188h0M153 201.7h0M139.7 207.9h0M146.3 207.3h0M170.5 177.5h0M123.2 205.4h0M154.1 164.3h0M152 189.5h0M101.3 184.6h0M153.9 162.9h0M182.7 175.1h0M150.3 171.3h0M133.2 181h0M121.2 177.1h0M124 212.8h0M160.8 211.5h0M122.7 209.8h0M171.6 194.7h0M141 197.6h0" stroke="#fff" stroke-width="1.5" stroke-linecap="round" fill="none"/>
<path d="M109.4 178.5h0M163.8 196h0M138.1 164h0M105.3 169.1h0M149.6 155.4h0M150.6 183h0M135.3 205.7h0M167.5 196.6h0M125.6 161.9h0M140.9 174h0M125.6 187.8h0M144.6 203.4h0M157.9 212.9h0M118.3 170.4h0M130.4 160.1h0M123.5 183.1h0M133.9 169.7h0M171.1 197.8h0M185 185.9h0M152.4 189.3h0M185.2 172.1h0M178.4 183.5h0M170.3 201.4h0M124.5 189.1h0M140 161.5h0M133.4 212.4h0M129 159.3h0M162.5 181.3h0M155.1 159.1h0M146.9 179.8h0M151.5 181.5h0M130.2 158.5h0M114.5 164.5h0M104.2 175.9h0M147.2 163.8h0M129 196.3h0M162 202.2h0M163.6 172.4h0M160.5 202.2h0M164 189.8h0M135.8 153.9h0M139.6 158.1h0M124.9 200.2h0M152.8 208.5h0M179.1 197.4h0" stroke="#fff" stroke-width="2.3" stroke-linecap="round" fill="none"/>
<path d="M56.1 200.6h0M51.3 199.8h0M49.9 207.7h0M40 205.1h0M47.3 209.2h0M38.4 208.8h0M39 206.4h0M42.8 209.9h0M38.4 203h0M50 203.2h0M44.7 205.5h0M51 203.1h0M39.1 206.1h0M38.9 211h0M56.1 201.2h0M43.3 214.6h0M42.9 206.7h0M43.5 212.7h0M51.1 201.3h0M51.3 204.5h0M42.7 210.9h0M34.2 210.8h0M47.7 210.7h0M56.8 202.6h0M32.4 208.1h0M36.7 215.8h0M35.9 204.7h0M42.1 213.4h0M54 204.6h0M52.9 204.3h0M39.3 205.8h0M56.3 200.4h0M44.5 209.2h0M32.3 208.6h0M32.2 206.3h0M42.3 204.2h0M52.1 206.6h0M31.7 209.8h0M44.9 213.6h0M36.8 202.4h0M36.5 214.5h0M49.1 211.8h0M50.1 207.2h0M48.2 211h0M54.8 205.6h0M37.2 212.3h0M38.4 215.2h0M53.9 200.6h0M39.3 204.1h0M56.6 203.5h0M52.5 205h0M47.2 205.6h0M35.3 210.1h0M35.1 212.2h0M38.3 205.5h0M48.2 205.4h0M47.7 211.3h0M39.8 213.9h0M53.8 202.7h0M37.6 207.7h0M51.1 200.9h0M31.2 207.8h0M42.9 213.2h0M45.8 207.7h0M48.6 202.9h0M42.7 213.6h0M53.1 203h0M54 204.5h0M38.2 204.4h0M48 212.7h0M52.3 199.5h0M41.7 214.1h0M37.7 208.1h0M39.8 207.7h0M45.5 205.3h0M32.9 211.5h0M39.6 211.7h0M46.4 205.7h0M40.4 202.7h0M41 205.9h0M36 206.4h0M35.1 204.3h0M44 209h0M39.2 210.2h0M40.1 212.1h0M41 204.7h0M47.8 202.4h0M52.9 200.5h0M43.2 212.4h0M48.5 210h0M39.8 216.2h0M53.9 202h0M41.2 205.7h0M51.2 203.3h0M53 202.6h0M47.5 209h0M35.6 204.5h0M36.4 205.5h0M50.1 208.2h0M51.9 205.1h0M32.5 206.8h0M41.2 212.9h0M54.2 202.2h0M36.1 204.9h0M46.7 205.2h0M56.2 203.1h0M43.6 212.9h0M36.7 216.3h0M54.8 201.3h0M40 205.3h0M37.1 204.6h0M39.3 208.5h0M45.1 210.7h0M53.1 206.4h0M38.6 210.8h0M39.3 215.9h0M35.6 214.1h0M35.6 207.7h0M39.5 213.2h0M53.6 203.8h0M43.2 204.5h0M49.1 211.4h0M46.8 205h0M56.7 203.3h0M46.8 208.5h0M56.6 206h0M41.1 204.1h0M51.5 204.2h0M50.3 204.9h0M51.4 203.9h0M51.6 207.7h0M34.3 211.8h0M35.1 209.5h0M49.2 208.6h0M45.4 213.1h0M35.8 203.7h0M46.3 206.7h0M43.3 204.5h0M44.4 214.4h0M52 203.7h0M48 211.7h0M49.8 209.4h0M31.1 206.4h0M37.5 217.3h0M46.2 210.6h0M47.7 208.6h0M38.8 210.6h0M42.6 204.1h0M45.2 214.3h0M54.4 200.3h0M34.3 214h0M49.7 206.9h0M39.2 212.3h0M45.8 208.8h0M38.2 207h0M50.3 204.6h0M32.2 208.5h0M32.3 210.4h0M37.1 209.1h0M35.2 209.5h0M53.9 200.9h0M54.4 200.9h0M40.1 215.3h0M50.5 201.9h0M57.2 203.3h0M34.5 211.3h0M54.6 206h0M50.4 208.7h0M41.2 204.3h0M44.8 207.4h0M41 202.8h0M51.4 200.1h0M44.5 207.4h0M44.3 206.5h0M39.5 211.7h0M41.7 203.4h0M41.9 205.6h0M52.3 204.7h0M43.1 212.5h0M49.7 201h0M48.4 205.7h0M31 209.3h0M38.3 203h0M43.1 213h0M52.2 206.8h0M34.8 208.7h0M48 207.5h0M44.2 211.5h0M48.5 208.9h0M40.6 202.4h0M32.5 206.6h0" stroke="#F58B52" stroke-width="2" stroke-linecap="round" fill="none"/>
<path d="M65.2 239.4h0M42.2 215.7h0M57.7 225.8h0M52.4 213.3h0M52.7 217.9h0M48.2 224.2h0M53.5 217.2h0M51.5 219.6h0M55.6 242.9h0M56.5 222.9h0M59.2 223.8h0M51.3 223.5h0M64.9 233.3h0M68.2 225.4h0M60.1 243.1h0M48 227.9h0M63.3 232.7h0M56.9 235.4h0M50.7 225.7h0M56.5 231.6h0M58.1 233.4h0M44.1 223.1h0M49.6 230h0M47.5 215.9h0M59.5 240h0M65.5 236.1h0M64.9 229.3h0M44.2 212.8h0M68.4 230.1h0M58.2 233.2h0M62.8 228.3h0M47.6 222.6h0M52.1 218.6h0M45.7 220h0M56.8 239.9h0M50.7 230.4h0M62.6 237.7h0M56.6 219.8h0M48.4 215.2h0M51.2 230.4h0M56.3 226.6h0M43 219.6h0M54.5 236.4h0M49.8 227.8h0M58 223.3h0M54.9 227.8h0M55.4 237.1h0M65.2 235.4h0M44.1 223.5h0M52.3 235.6h0M55.9 240.8h0M58.4 237.4h0M55.4 229.7h0M62.9 227.1h0M60.7 223.7h0M50.1 214.9h0M57 226.3h0M47.4 221.6h0M46.2 216.4h0M64.9 230h0M42.9 219.3h0M49.2 223.9h0M56.3 223.6h0M50.8 225.1h0M53 227.3h0M67.5 227.8h0M67.5 235h0M51.9 232.9h0M61 224.4h0M50.4 230.2h0M58.6 240.7h0M46.1 218h0M49.7 226.2h0M51.1 218.1h0M62.3 238.7h0M65.7 229.2h0M43.1 216.2h0M66 236.3h0M54.4 230.8h0M57.4 234.7h0M48.5 223.8h0M59.5 239.9h0M63 240h0M51.1 214.9h0M67 237.7h0M64.8 239.6h0M57.4 224.9h0M64.2 234.8h0M45.4 217h0M65.9 232.7h0M53.8 226.2h0M60.1 233.2h0M65.2 232.2h0M60.9 232.6h0M55.8 225.2h0M50.9 225.5h0M64.3 236.2h0M49.9 229.2h0M58.8 232.6h0M55.9 233h0M61.6 242.6h0M52 232.8h0M47.9 212.8h0M42.4 216.2h0M57.9 232.8h0M59.3 224.8h0M63.7 226.1h0M54 220.1h0M48.3 226.1h0M62 229.1h0M49 220.8h0M53.2 228.8h0M57 240h0M61.3 227.1h0M68 228.9h0M48.6 226.7h0M55.4 228.8h0M64.9 233.5h0M61.2 231h0M68.9 226.6h0M45.7 223.9h0M57.5 232.9h0M58 234h0M52 238.2h0M62.1 227.3h0M55.4 230.1h0M59.7 240h0M66.9 238.1h0M69.2 227.8h0M64.3 236.7h0M47.6 228h0M50.6 236.8h0M58.8 238.5h0M56.6 237.3h0M68.2 237.4h0M46.9 222.7h0M49 221.6h0M47.1 218.8h0M52 216.7h0M56.4 225.5h0M53.9 225.1h0M52 230h0M53.7 236.2h0M43.9 215.7h0M45.4 217.5h0M54.9 238h0M59.4 232.8h0M59.7 241.8h0M48.4 216.9h0M55 234.8h0M66.7 232.9h0M43.3 221.6h0M50.5 226h0M64.6 239.3h0M44.3 219h0M51.9 220.3h0M52.7 215.2h0M50.3 234.7h0M61.3 244.3h0M45.6 219.2h0M48.3 226.2h0M56.4 243.9h0M52 233.2h0M51.5 235.6h0M53.7 214.7h0M63.2 225.5h0M45.3 222.7h0M61.4 228.5h0M46.5 221.9h0M54.1 216.5h0M61 242.9h0M64 228.9h0M50.1 212.2h0M64.9 230.4h0M47.1 220.8h0M53.2 229.1h0M59.9 229.9h0M55.9 219.5h0M45.5 226.7h0M51.4 231.7h0M44.6 218.7h0M70.6 227.4h0M61.4 243.9h0M53.3 229.4h0M64.2 241.5h0M69.1 233.2h0M58.4 230.4h0M57.6 241.8h0M52.2 235.9h0M58.6 238.4h0M51.8 216.3h0M53.3 218.4h0M59.1 239.7h0M65.2 237.7h0M63 231.9h0M61.5 222.4h0M42.7 217.6h0M50.7 229.2h0M60.1 235.1h0M53.9 234.2h0M47.8 222.6h0M65 236.2h0M56.6 232.9h0M61.5 240.4h0M53.5 226.1h0M50.5 214h0M54.9 231.2h0M55.2 236.9h0M63.6 239.5h0M44.8 224.5h0M65.1 228.6h0M54.7 216.6h0M49.3 217.2h0M58 232.4h0M55.2 242.6h0M54.1 219.6h0M54 224.3h0M63.2 231.6h0M49.9 212.9h0M53.5 226.2h0M57 228.3h0M65.3 236.9h0M44.4 218.2h0M60.1 225.4h0M51.8 215.8h0M45.9 222.1h0M43.8 223.6h0M54 229.5h0M51.6 229.9h0M67.8 228.2h0M52.2 221.1h0M45.5 221.8h0M59.5 235.4h0M59.9 233h0M51.5 225.3h0M47.4 226.5h0M54.6 225.6h0M50.7 216h0M43.8 221.3h0M65.9 225.4h0M71.4 231.7h0M58.7 232.4h0M56.1 220.4h0M56.4 220.7h0M58.4 222.4h0M54.4 223.9h0M51.2 232.1h0M54.4 232.2h0M48.8 224.6h0M71.2 231.1h0M49.5 230.4h0M50.5 236.3h0M58.4 225.7h0M59.6 243.8h0M65.7 228h0M62.1 241.1h0M52.5 229.6h0M56.2 237.6h0M60.2 245.6h0M65.1 224.5h0M62.1 236.4h0M43.4 214.3h0M49.4 225.9h0M65.9 225.6h0M53.7 225.8h0M46.3 222.9h0M52.8 226.4h0M68.3 231.7h0M59.4 230.6h0M66.2 229.8h0M50.3 225.4h0M59.3 223.5h0M64.8 237.5h0M58 226.2h0M60.8 234.1h0M54.4 233h0M50 231.2h0M66.2 230.8h0M52 225.3h0M57.3 242.2h0M57.7 241.7h0M54.6 224.7h0M68.9 230.5h0M46.3 221.4h0M60.5 239.9h0M64.8 227.9h0M55.6 220.5h0M50.3 223.8h0M55.1 225.6h0M51.2 232.8h0M56.8 222.7h0M61.6 231.6h0M62.7 243.5h0M43.3 218.8h0M64.2 242.3h0M65.9 238.7h0M60 222.4h0M45.2 221.4h0M61.4 240.8h0M57.5 235.1h0M64 237.4h0M55.5 234.8h0M50.3 222.6h0M68.2 225.9h0M45.6 216.7h0M58.7 243.5h0M68.9 230.2h0M46.1 218.6h0M56.6 229.3h0M67.3 237.2h0M63 223.7h0M55.7 238h0M62 236h0M57.3 226h0M59.7 222.9h0M55.9 230.6h0M63.5 224.9h0M43.4 216.9h0M60.1 236.8h0M45.1 216.5h0M44.9 225h0M66.2 236.4h0M51.8 232.9h0M53.1 232.3h0M45.5 213.6h0M51 220.8h0M47.9 228.3h0M59.6 243.3h0M55.8 241h0M70.7 227.3h0M46.2 214.5h0M49.9 229.9h0M52.3 226.5h0M46.7 220.3h0M56.4 222.1h0M47.5 220.5h0M68.6 234.7h0M53.9 227.3h0M44.8 225.5h0M55.2 220.6h0M53 227.5h0M63.9 231.4h0M51.2 215h0M54.7 223h0M49.2 214.3h0M56.3 220.9h0M53.1 228.7h0M69.9 227.1h0M61.5 223.5h0M44.7 217.5h0M58.8 230.2h0M56.8 240.7h0M44.5 216.9h0M62.8 225.1h0M49.7 230.1h0M56.6 244.4h0M62.1 238.4h0M61.8 228.5h0M57.9 235.5h0M56.5 242.4h0M61.5 238.1h0M47.6 219h0M60.6 240.5h0M61.9 244.2h0M62.5 241.6h0M47 225.2h0M64.1 237.6h0M51.8 228.5h0M52.3 223.7h0M53.7 224.4h0M59 241.7h0M59.8 231h0M65.5 224.9h0M67.4 230.6h0M44.8 226.3h0M57.7 224.2h0M59 245.1h0M50.2 217.2h0M59.3 223.8h0M42.4 218.6h0M56.6 242.2h0M55.5 240.2h0M63.4 223.9h0M46.2 223.8h0M62.2 232.3h0M52.4 217h0M54.4 231h0M70.3 233.6h0M48.6 227.2h0M61.3 242.5h0M51 221.3h0M62.7 225.5h0M48.5 224.5h0M64.4 231.1h0M58.2 222.4h0M68.6 227.7h0M45.8 216.6h0M67.1 232.3h0M51.8 229.8h0M56 218.8h0M68.4 230.4h0M61.6 230.1h0M67.4 234.8h0M66.5 238.4h0M63.6 235.7h0M57.9 228h0M60.6 225.8h0M58.3 234.7h0M47.7 219.4h0M52.9 229.7h0M51.1 224.8h0M62.8 237.9h0M63 227.3h0M45.3 216h0M64.4 241.6h0M65.7 238.6h0M69 231.2h0M68.6 234.1h0M53.4 219.1h0M61.6 224h0M66 232.7h0M61.1 245.8h0M65.2 237.9h0M62.5 238.6h0M66.5 232.6h0M70.2 233.5h0M51.8 229.4h0M56 220.8h0M54.2 221h0M54.6 227.6h0M64 225.3h0M62.2 238.2h0M54.6 225.4h0M55.9 218h0M49.9 226.5h0" stroke="#F58B52" stroke-width="2" stroke-linecap="round" fill="none"/>
<path d="M55.3 236.7h0M61 229.9h0M61.4 223.2h0M66.5 235.4h0M60.6 234.7h0M57 219.7h0M60.8 230.9h0M46.5 224.1h0M52.1 217.9h0M60.8 242.7h0M57.9 238h0M52.7 224.8h0M63 235.6h0M65.7 236.5h0M55.2 231.3h0M66.9 232.3h0M55 232.8h0M55.9 225.2h0M57.5 241.3h0M67.8 225.5h0M55.6 224.8h0M64.5 240.3h0M58 232h0M50.5 218.5h0M60.9 236.7h0" stroke="#fff" stroke-width="1.5" stroke-linecap="round" fill="none"/>
<path d="M88.8 216.9h0M75.4 206.8h0M74.7 220.9h0M62.3 203h0M70 205.2h0M62.8 211.5h0M61.6 205h0M76.2 209.6h0M73.4 202.7h0M66.9 206.9h0M83.5 209.6h0M68.8 217.8h0M82.4 221.7h0M90.5 209.6h0M79.5 215.3h0M73.5 217.5h0M85.2 209.5h0M69 205.6h0M86.1 205.6h0M67.1 203.9h0M75.5 212.4h0M73.1 204.9h0M85 202.5h0M76.5 221.9h0M69.3 212.6h0M80.8 206.9h0M67.4 205.7h0M65 216.2h0M64.5 209.6h0M88.7 202.5h0M72.1 206h0M89.2 217.5h0M70.9 214.8h0M69.4 216h0M65.8 211.7h0M65.2 215.7h0M69 203.7h0M75.8 200.3h0M81.4 213.9h0M81.8 200.8h0M86.3 214.2h0M88 208.3h0M69.5 201h0M80.2 208.3h0M80.1 201h0M71.1 201.7h0M76.1 222.3h0M79.4 216.6h0M84.8 203.5h0M80.7 210.4h0M91.5 214.1h0M78.5 210.9h0M89.4 217h0M72.4 220.1h0M66.2 209.6h0M80.3 209.3h0M65.8 209.8h0M60.6 211.7h0M75.1 213.2h0M60.9 204.5h0M84.8 214.6h0M68.5 207.3h0M82.2 222.9h0M77.1 209.8h0M79.3 219.9h0M66.4 207.2h0M84.6 202.3h0M69.8 203.6h0M71.5 219.9h0M77.2 207h0M79.8 206.2h0M71 204.5h0M75.3 207.4h0M86.3 207.4h0M80.6 216.5h0M63.6 203.3h0M92.2 209.9h0M67 214.2h0M87.1 201.2h0M84.7 213h0M65.8 202.4h0M73.4 219.3h0M61.1 204.5h0M81.1 213.8h0M78.1 208.7h0M74.8 220.6h0M65.3 213.7h0M75.3 221h0M83.7 212.1h0M78.2 207h0M65 204.3h0M85 203.7h0M84.2 221.5h0M78.4 219.3h0M73.5 220.1h0M65.4 213.2h0M83.8 219.3h0M90.1 209.6h0M70.1 203.8h0M79.4 224.3h0M81 205.6h0M78.4 224h0M83 214.7h0M76.9 210.3h0M89 215.1h0M78 223.6h0M71.9 206.3h0M80.3 217.4h0M85.5 214.2h0M62.5 210.4h0M87.8 220.1h0M71.1 209.2h0M73.4 204.3h0M76.2 220.6h0M85.7 201.1h0M78.1 201.5h0M75.9 205.1h0M67 214.9h0M83.2 211.2h0M90.7 209.5h0M80.7 203.2h0M90.2 214.6h0M87 203.7h0M71.4 214.6h0M89.1 205.1h0M91.1 207.6h0M75.4 208.1h0M76.6 220.4h0M69.7 201.4h0M69.2 208.5h0M77.7 220h0M86 219.5h0M68.3 210.7h0M78.8 204.8h0M91.3 210.9h0M78.2 206.3h0M90.4 203.7h0M88.4 215.4h0M62.7 209.2h0M77.5 216h0M60.9 208.3h0M81.7 211.3h0M87.1 219.4h0M70.3 210.3h0M67.6 217.6h0M81.7 207.8h0M73.7 221.8h0M64.9 205.1h0M85 202.8h0M77 222.1h0M71.5 220.3h0M65.5 202.4h0M88.6 215.7h0M67 208.9h0M88.9 214.8h0M87.6 202.3h0M89.6 203.9h0M67.5 211.7h0M82.3 213.5h0M66.6 216h0M62.4 203.5h0M81.9 209.4h0M70.2 204.5h0M83.9 209.3h0M90.6 213.3h0M78.7 207.6h0M91 206.6h0M64.6 205.8h0M87.8 215.2h0M80.2 215.4h0M77.5 209.4h0M75.1 211.3h0M78.4 210.7h0M82.7 203.3h0M62.1 204.2h0M78 201.1h0M86 204.5h0M81.7 221.7h0M87.8 218.5h0M60.3 206.9h0M85.8 202.5h0M84.6 206.8h0M78.7 202.1h0M60.1 209.7h0M91.6 209.7h0M73.4 213.7h0M71 205.5h0M77.9 209h0M67.5 211.7h0M78.3 217.9h0M65.7 207.7h0M86.2 219.3h0M64.9 204.4h0M66.7 212.6h0M83.8 206.5h0M80.3 201.1h0M59.4 206.1h0M74.9 213.1h0M63 212.7h0M83.1 222h0M63.5 210h0M64.5 205.2h0M83.6 214.6h0M74.4 207.6h0M83.5 213.3h0M84.9 210.8h0M81.3 205.6h0M81.9 215.7h0M68.6 204.4h0M70.2 207.1h0M80.8 201.8h0M70.5 201.5h0M73.7 207h0M78.3 210.2h0M78.9 205.3h0M62.5 213.7h0M83 222.3h0M86.6 202.5h0M76.2 210.7h0M72.5 203.7h0M92.3 211.8h0M61.5 211.9h0M72.8 218.7h0M72.3 214.4h0M68.7 210.8h0M77.7 223.1h0M61.6 209.7h0M79 217.3h0M72.7 220.7h0M79.3 220.5h0M76.2 219h0M66 208.3h0M64.5 203.7h0M84.4 205.6h0M70.7 207.4h0M70.3 206.9h0M71.3 215.8h0M86.3 216.4h0M89.9 204.9h0M77.5 221.8h0M71 211.9h0M68.7 208.1h0M74.3 202.4h0M64 203.2h0M89.8 206.3h0M87.3 204.4h0M75.3 207.9h0M70.9 216.5h0M63.6 210h0M82 217.4h0M82.2 207.4h0M87.4 208.2h0M78.3 205.6h0M88.8 211h0M75.5 201.2h0M89.8 217h0M90.9 203.9h0M84.8 214.4h0M88.2 218.1h0M77.4 216.7h0M67.6 208.6h0M80.8 205.6h0M62.9 214.4h0M67.1 215.8h0M77 209.7h0M75.8 217.8h0M70 212.3h0M80.7 199.7h0M75 220.1h0M74.6 216h0M73.8 203.1h0M77.5 221.6h0M60.1 211.3h0M81.9 213.4h0M83.9 204h0M77 214h0M63.2 214.1h0M70.6 212.6h0M80.1 205.5h0M72.8 212.9h0M83.5 221.9h0M77.3 207.6h0M83.2 215.2h0M71.9 217.8h0M84.1 205.5h0M82.3 206.2h0M77.7 208.5h0M78.9 221.6h0M81.9 216h0M71.3 211h0M90.9 206.4h0M83.1 210.2h0M79.1 211.7h0M64.3 206.2h0M81.7 217.8h0M84.3 208h0M82.9 200.9h0M73.3 210.4h0M74.6 202.2h0M74.8 210.8h0M73.9 221.5h0M64.8 209.9h0M85.6 215.2h0M88.7 205.1h0M84 205.2h0M81.4 214.1h0M74.8 211h0M79.7 210.9h0M88 212.7h0M74.7 201.2h0M68.8 203.6h0M63.1 208.9h0M74.5 205.9h0M80.8 202.7h0M72.5 201.7h0M85.5 214.6h0M85.3 204h0M89.2 213.8h0M60.4 212.6h0M72.1 209h0M64.7 215.7h0M75.8 213.9h0M72.6 206.5h0M62.6 205.3h0M61.6 208.6h0M81.8 214h0M88.2 212.7h0M83.7 199h0M82.4 220h0M66.8 208.9h0M75 207.8h0M82.7 216.5h0M83.4 205.6h0M71.6 212.4h0M89.5 203.2h0M67.5 213.3h0M85.2 206.1h0M82.1 207.9h0M67.7 217h0M85.9 202.9h0M85 210.1h0M90.8 214h0M73 209.3h0M86.6 204.1h0M80.8 199.7h0M66.5 208.9h0M76.1 211h0M67.4 213.3h0M77.3 217.7h0M80.3 220.1h0M84 199.2h0M60.9 208.2h0M71 209.8h0M84 211.2h0M82.4 211.9h0M93 210.4h0M64 208.2h0M62.5 213.9h0M72.9 202.3h0M79.9 201.4h0M78 221.1h0M82 200.3h0M76.4 208.9h0M67.9 209.8h0M75.3 220.9h0M76.3 210.1h0M78.4 217.3h0M76.1 206.4h0M70 203.8h0M69.9 217h0M79.6 215.5h0M75.7 206.8h0M73.6 213.6h0M82.2 215.1h0M69.7 207.2h0M72.4 202.3h0M84.1 205.9h0M67.5 204.1h0M77.2 210.9h0M77.8 219h0M78.7 216.3h0M71.5 217.1h0M90.1 213.2h0M67.5 217.1h0M79.5 208.3h0M85.6 206.9h0M79.4 214.8h0M88.2 201.3h0M73.7 204.7h0M81.8 209.9h0M76.4 208h0M72.3 211.6h0M82.4 221.6h0M79.2 219.3h0M61.2 210.1h0M63.3 212h0M71.9 214.3h0M84.1 208.5h0M80.1 202.2h0M85.5 216.2h0M69.1 202.8h0M69.9 217.1h0M79.8 201.9h0M88.9 206.7h0M71.2 201.3h0M86.7 220.4h0M84.1 220.2h0M74.6 221.3h0M64.9 215.4h0M72.7 219.1h0M89.1 206.3h0M76.2 200.3h0M85 202.9h0M80.8 223.2h0M76.1 216h0M75.7 202.4h0M80.1 222h0M77.7 209.5h0M85.2 212.3h0M64.7 212.9h0M65.5 202.4h0M89.4 210.6h0M82.3 208.7h0M80.3 202.4h0M77.5 203.4h0M84.7 217.7h0M66.6 202.9h0M72.4 202.9h0M77.2 210.6h0M63.7 205h0M77.3 204.3h0M85.8 212.2h0M76.4 218.6h0M87.7 216.5h0M77.6 209.2h0M87.5 214h0M71.8 201.7h0M72.4 200.1h0M60 206.7h0M75.1 216.8h0M90.6 208.3h0M78.3 210.7h0M84.4 206.3h0M85 208.5h0M82.8 202h0M66.6 213.6h0M84.8 211.4h0M78 204.6h0M74.5 200.3h0M76.7 216.5h0M84.3 208.5h0M70.9 211.5h0M75.1 216.4h0M85.8 210.2h0M84.3 211.4h0M85 200.8h0M69.5 208.6h0M83 209.9h0M65.6 207.4h0M82.2 205.9h0M73.5 205.3h0M77.4 207.9h0M88.8 215.2h0M67.6 202.8h0M66.2 215.3h0M84.4 216.3h0M89.1 208.2h0M86.6 209.7h0M70.4 208.1h0M60.4 211.5h0M78.4 215.1h0M77.7 204.6h0M73 217.5h0M75 202.9h0M65.8 211.6h0M80.6 200.4h0M78.1 210.2h0M81.2 202h0M74.8 202.8h0M87.3 208.2h0M70.4 205.3h0M81.3 213.5h0M61.2 203.7h0M76.7 203h0M85.6 209.1h0M76.7 214h0M88.3 218.5h0" stroke="#F58B52" stroke-width="2" stroke-linecap="round" fill="none"/>
<path d="M67.5 209.4h0M68.1 205.7h0M76.2 216h0M82.2 222h0M82.7 213.4h0M88.9 215.5h0M91.3 211.5h0M61.4 211.5h0M89.2 217.2h0M74.9 213.2h0M66.8 209.1h0M71.8 212.9h0M82.1 206.6h0M83.2 204.8h0M75.3 212.6h0M71.6 212.3h0M85.4 212.9h0M62.4 202.7h0M72.4 214.3h0M79.1 201.9h0M85.7 222.2h0M70.8 206.4h0M65.7 214.8h0M91.7 211.1h0M72.2 218.8h0M60.9 211.3h0M86.9 220.7h0M85.7 214.5h0M80.9 208.1h0M88.9 213.7h0M62.1 211.6h0M61.8 206.7h0M87.2 210.6h0M83.3 211.4h0M67.7 209.4h0" stroke="#fff" stroke-width="1.5" stroke-linecap="round" fill="none"/>
<path d="M79.1 217.5h0M87.7 206.4h0M64.8 210.4h0M62.9 211h0M83.7 206.7h0M80.9 217.9h0M65.3 210.5h0M73.5 211.2h0" stroke="#fff" stroke-width="2.2" stroke-linecap="round" fill="none"/>
<path d="M102.6 235.9h0M114.4 211.2h0M101 248.1h0M110 210.9h0M106.2 210.3h0M97.5 253h0M103.2 248h0M107.1 216.2h0M106.2 199.5h0M118.9 252.3h0M113.7 229h0M109.7 252.7h0M102 255.2h0M107.4 243.7h0M95.6 249.4h0M109.8 243.1h0M118.6 257.8h0M94.3 237.1h0M96.6 249.4h0M112.7 207.2h0M121.5 255.7h0M115.4 256.3h0M113.1 253.7h0M113.4 222.7h0M106.7 218.1h0M101.4 208.3h0M107.2 244.3h0M99.9 228.4h0M107.5 241h0M110.5 259.5h0M114.9 217.3h0M129.8 251.7h0M97.1 247.7h0M116.6 259.9h0M102 211h0M108.8 239.3h0M110.5 225.9h0M123.7 256.2h0M105.6 249.2h0M121.2 258.1h0M113.8 209.1h0M113.9 215.1h0M120.3 250.3h0M107.7 240.4h0M107.4 225h0M114.9 216h0M98.9 245.7h0M113.3 218.2h0M108.1 211.3h0M112.9 248.6h0M104.8 228.1h0M120.4 258.8h0M99.4 236.4h0M118.3 258.2h0M109.9 243.8h0M107.4 235.7h0M105.7 252.4h0M106 245.3h0M127.2 251.8h0M113 247.9h0M121.8 256.9h0M93.4 237.8h0M104.8 245.3h0M107.3 247.1h0M114 223.6h0M108 216.6h0M98.5 251.6h0M115.4 251.4h0M112.8 228.7h0M112.4 256.5h0M113.5 252.7h0M100.6 201h0M112.7 245.5h0M115.7 247.1h0M108.1 216.8h0M100 235h0M98.1 244.7h0M105.1 235.4h0M104.6 207.5h0M112.5 210.3h0M108.3 235.9h0M101.9 227.1h0M98.5 250.1h0M108.1 228h0M113.2 216.1h0M110.9 257.7h0M123.1 250.2h0M93.5 246h0M105.7 236.4h0M104.9 201.1h0M105 239h0M113.4 247.6h0M98.6 234.1h0M95.3 247.7h0M103.4 238.8h0M112.1 227.1h0M112.5 203.6h0M103.1 209h0M101.9 254.3h0M110.6 222.6h0M110.9 244h0M125.6 251h0M109.2 206.6h0M97.4 235.1h0M106.3 255h0M102.9 235.9h0M112.7 229.4h0M99.1 252.8h0M111.6 223.4h0M112.7 226.9h0M110.4 227.7h0M99.8 251.7h0M125.5 250.9h0M99.5 206h0M103.3 256.9h0M106.1 246.6h0M128.5 253.3h0M109.4 229.8h0M127.1 249.6h0M106.7 209.3h0M105.6 207.5h0M126.8 249.8h0M115.7 260.5h0M110.3 216.1h0M100.2 201.8h0M112.7 208.3h0M110.5 223.2h0M106.4 257.5h0M108.9 212.5h0M112.3 224h0M116.3 216.8h0M104.4 199.2h0M108.2 207.4h0M98.1 247.7h0M106.5 220h0M103.8 207.8h0M101.5 202.7h0M98.1 239.9h0M113 228.5h0M119.9 259.5h0M113.4 249.9h0M107.4 227.8h0M98.1 247.6h0M93.7 244.8h0M105.2 229.1h0M99.3 249.1h0M104 233h0M112.5 225.8h0M110 221.7h0M111.7 210.9h0M114.5 220.4h0M109.8 206.6h0M122.4 254.7h0M119.4 258.4h0M117.5 252.3h0M102.1 239.1h0M102.3 201.1h0M122.3 255.8h0M105.1 231h0M100.6 254h0M130.6 248.6h0M114 253.8h0M105.2 224.6h0M105.3 224h0M128.2 252.8h0M112.6 224.5h0M104.6 234.8h0M107.8 209.2h0M100.6 257.1h0M108.9 260.9h0M129.4 249.8h0M107.5 236.7h0M102.5 207.4h0M112.8 214.7h0M108.3 256.1h0M104.3 247.8h0M113.9 226.6h0M116.7 260.7h0M108 220.6h0M107.1 202h0M105.9 232.4h0M111.6 229.7h0M109.3 241.7h0M110.8 255.5h0M116.2 253.4h0M99.8 245.8h0M109.6 219.4h0M104.2 208.3h0M108.7 209.6h0M107.2 259.2h0M113.9 246.7h0M126.3 251.4h0M97.1 239.1h0M127.6 253h0M103.7 255.2h0M111.9 256.5h0M110.8 243.2h0M104.7 215.2h0M92.4 243.6h0M95.3 240.5h0M107.6 252.4h0M111.9 228.4h0M107.6 252.5h0M103.1 234.3h0M97.9 239h0M103.7 236.2h0M109.8 228.1h0M92.8 237.9h0M102.6 256.1h0M96.9 246.5h0M105.1 203.7h0M102.8 242.3h0M118.5 250.1h0M114.9 249.5h0M108.2 218.6h0M117.3 253h0M111.3 217.1h0M95.6 234.3h0M118.7 250.7h0M101.4 201.6h0M109.6 252.6h0M107.3 242.2h0M106 241.1h0M110.5 230.4h0M104.2 242.1h0M113 216.7h0M96.9 245h0M116.1 217.2h0M110 204.9h0M104.8 222.4h0M102.1 253.8h0M93.9 244.6h0M99.6 237.4h0M107.3 238.6h0M115.2 255.8h0M102.4 241.2h0M112.7 249h0M99 252.5h0M109.2 254h0M95.3 249.6h0M112.2 231.9h0M102.8 244.9h0M99.8 250.4h0M113.5 209.8h0M111.3 233.6h0M120.5 253.6h0M98 253h0M95.2 241.2h0M105.3 240.2h0M111 230.1h0M94.7 246.2h0M106.7 208.5h0M113.9 217.7h0M111.2 220.9h0M112.2 256.1h0M111.9 248.4h0M95.8 236.5h0M115.9 218.8h0M99.9 234.6h0M96.5 239.4h0M125 255.1h0M105.1 203.5h0M109 254.7h0M113.1 252.9h0M114 221h0M113.1 212.6h0M114.7 223.1h0M104.8 258.3h0M94.2 240.8h0M96.8 241.3h0M104.9 221h0M115.8 253.9h0M101.4 250.8h0M101.5 203h0M101.7 204.5h0M104.5 251.6h0M131 250.3h0M107.2 236.4h0M111.8 216.9h0M98.7 236h0M106.1 253.6h0M103.8 226.2h0M108 228h0M107.5 201.6h0M111.1 227.4h0M97.1 233.5h0M123.2 251.3h0M107 219.1h0M100.2 238.9h0M107.5 229.1h0M101.1 209.7h0M122.6 256.5h0M109.3 231.4h0M98.7 230.1h0M104.1 238.4h0M106.2 206.1h0M107.6 201.8h0M106.9 243.8h0M102.3 212.8h0M112.8 214.2h0M111.8 229.2h0M106.6 257.1h0M126.3 255.4h0M123.4 250.8h0M99.6 229.5h0M111.5 243.8h0M105.3 241.4h0M95.7 246h0M102 254.1h0M100.9 247.8h0M101.3 201.5h0M94.2 242.4h0M103 203.6h0M103.7 223h0M93.6 242.5h0M101.3 246.4h0M111.4 225.1h0M108.7 255.2h0M97.3 253.6h0M102 212.3h0M94.3 246.6h0M113.3 213.5h0M121.4 252.7h0M109.9 201.1h0M100.5 254.3h0M107.5 253h0M109.5 212.9h0M116.3 253.1h0M117.3 252.8h0M107.2 210.8h0M107 202.7h0M117.1 250.6h0M116.9 257.9h0M111.9 221.2h0M124.2 258h0M110.5 205h0M98.8 251h0M107.4 250.6h0M110.4 229.9h0M110 246.6h0M105.5 204.6h0M95.8 244.2h0M110.4 219.4h0M105.8 228.8h0M104.2 247.4h0M119.9 252h0M109 231.3h0M107.2 246.7h0M99.1 237.5h0M98.4 242.6h0M109.7 253.4h0M114.4 225h0M107.5 234.5h0M109.7 238.6h0M100.9 256.3h0M106.3 202h0M115.6 252.4h0M110.2 255.7h0M101.9 235.6h0M98.3 254.4h0M92.2 243.5h0M111.5 211.8h0M114.3 252.7h0M109.8 209.9h0M102.3 203.3h0M104.5 223h0M121.9 254.9h0M92.8 244.2h0M107.6 235.7h0M109.8 236.5h0M107.5 242.4h0M112 249.4h0M112.1 216.9h0M96 237.5h0M93.4 243.1h0M96.2 233.1h0M116 247.6h0M112.1 224.1h0M101.1 250.1h0M106.8 242.2h0M113.5 221.4h0M104.4 232.2h0M101.2 230.5h0M103.5 248.8h0M115.5 225.8h0M104.9 231.4h0M109.6 202.4h0M99.6 238.6h0M111.9 258.3h0M110 211.7h0M125 250.1h0M115.9 257.3h0M112.4 227.1h0M114.5 247.3h0M103.8 228.5h0M107.8 210.2h0M104.1 218.5h0M101.1 248.5h0M113.7 209.1h0M109 245.1h0M108.7 237.6h0M109.8 224.7h0M106.1 242h0M114.2 248.4h0M107.1 246h0M106.1 252.9h0M96.3 245.8h0M99.8 248.7h0M112.5 229.1h0M105.2 208.1h0M100.6 248.7h0M119.2 254h0M100 206.2h0M108.4 214.5h0M107.1 249.9h0M94.1 241.2h0M94.3 237.9h0M111.3 248.4h0M103.1 202.7h0M101.6 199.7h0M92.9 238.8h0M108.6 221.6h0M95 241.2h0M109.1 199.6h0M121.8 250.7h0M113.2 210.1h0M106.3 244.1h0M100.2 253.3h0M113 259.8h0M96.3 236.9h0M100.8 205.5h0M99.1 238.4h0M120.2 249.8h0M107.3 238.3h0M118.6 253.3h0M101.3 239.5h0M107.8 243h0M107.2 199.2h0M108.4 207.3h0M106.4 247.7h0M102.6 247h0M106 235.8h0M113.4 212.9h0M121.2 256h0M99.2 233.7h0M107.3 202.2h0M110.4 242.7h0M106 254.1h0M114.6 211.9h0M105.6 259.3h0M109.1 211.3h0M109.8 226.8h0M99.5 251.4h0M107.6 247.4h0M101.8 226.7h0M107.7 230.3h0M102.7 201.6h0M101.9 205.3h0M110.6 204h0M102.5 252.4h0M112.3 212.8h0M107.6 244.1h0M102.4 208.5h0M104.8 213.7h0M118.7 259.1h0M105.8 218.5h0M102.7 244.2h0M114 258.3h0M121.1 255.6h0M111 255.2h0M118.1 248.3h0M97.3 232.9h0M96 250.9h0M103.4 253.5h0M109.9 237.4h0M113.4 260.2h0M119.8 252.9h0M102.8 204.5h0M124.6 253.9h0M98.7 250.4h0M112.2 218.3h0M107.6 256.7h0M126.8 254.9h0M106.6 199.1h0M107.2 234.8h0M114.7 256h0M111.8 218.1h0M94 240.7h0M110.7 242h0M102.6 245.7h0M101 205.6h0M104.4 205.1h0M105.2 258.2h0M92.6 241.6h0M109.4 243h0M98.4 234.7h0M123.7 250.7h0M105.2 257.6h0M111.9 225.6h0M116.6 220.8h0M105.4 247.3h0M107.1 256.5h0M113.2 206.6h0M99.7 245.4h0M103 236.8h0M103.9 242.9h0M104.9 218.5h0M103.1 237.3h0M97.1 241.8h0M100.2 209h0M112.3 245.5h0M96.1 249.5h0M105.8 217.3h0M109.7 215.2h0M123.8 255.6h0M98.9 249.9h0M100.7 228.8h0M114 227.7h0M100.6 229.9h0M113.9 218.4h0M128.2 254.1h0M106 239.1h0M112.8 257.4h0M130.4 250.9h0M102.5 249.2h0M94.4 241.2h0M102.5 234.3h0M96.8 237.3h0M106.1 243.2h0M112.5 206.3h0M105.5 249h0M108.2 248h0M106.4 228.1h0M102.4 248.9h0M115.2 259.8h0M109.7 236.6h0M104 211.4h0M116.3 248.4h0M110 259.5h0M98.2 239.2h0M103.6 227h0M105.7 244.3h0M116.1 215.4h0M102.6 240.8h0M103.3 213h0M120.2 257h0M97.2 240.8h0M102.9 229h0M107.9 231.6h0M106.2 247h0M109.8 257.6h0M112.4 223.5h0M130.3 253.6h0M115.3 256.8h0M104.3 218.7h0M107.1 251h0M109.3 203.6h0M113.8 221.4h0M97.1 251.8h0M103.3 227.2h0M107.1 207h0M104.8 220.9h0M116.4 258.4h0M112.6 258.1h0M107.4 203.8h0M105.6 252.4h0M99.7 201.4h0M113.3 209.3h0M106.2 216.8h0M96.7 250.6h0M103.5 228.1h0M96.3 235.9h0M108.8 231.9h0M110.4 242.7h0M120.8 257.7h0M102 240.1h0M113.5 211.6h0M115.1 210h0M111.9 257.5h0M109.7 260.5h0M109.3 259.1h0M101.3 210.5h0M105.3 246.8h0M112.1 248.8h0M120.5 250.3h0M112.5 213.9h0M108.9 225.1h0M100.8 207.8h0M121.7 254.7h0M115.3 257.9h0M114.2 248.9h0M118.7 259.3h0M100.3 228.8h0M125.8 249.9h0M93.7 245.1h0M99.9 248.1h0M106.3 259h0M105.9 205.9h0M97.3 233.4h0M95.7 239.3h0M129.9 252h0M115.7 251.4h0M114.1 258.1h0M117.6 253.9h0M108.2 235.1h0M111.4 217.9h0M106.1 252.9h0M115.6 222h0M107.6 256.2h0M110.7 247.7h0M99 252.4h0M103.3 243.8h0M109.5 238.3h0M126.5 253.8h0M110.7 232h0M126.6 253.2h0M116.6 253.6h0M115.8 250.6h0M109.3 259h0M109 241h0M99.4 229.1h0M117.6 259.5h0M101.4 238.2h0M112.5 205.1h0M102 202.3h0M111.4 222h0M120.4 248.8h0M103 199.8h0M102.6 203h0M112 203.9h0M116.9 222.7h0M106.9 210.9h0M105.9 223.1h0M103.6 211.2h0M96.5 252.4h0M113.9 219.3h0M120.1 253.4h0M130.5 253.2h0M113.5 248.6h0M102.8 231.8h0M118.3 251h0M108.5 232.5h0M103.6 210.6h0M113.6 213.4h0M103.5 234.6h0M106.4 198.2h0M106.5 211.2h0M118.5 252.6h0M107.2 214.8h0M105.2 231.9h0M102 200.3h0M110.3 232.7h0M112.3 212.4h0M102.9 247.8h0M109.3 222.3h0M110.4 241.8h0M102.2 229.1h0M127.2 253.1h0M104.2 200.6h0M121.3 258.7h0M104.3 248.2h0M101.1 248.2h0M109.2 225.6h0M101.3 255.8h0M103.5 236.4h0M109.8 259.5h0M100.4 202.7h0M112.6 216.9h0M100.8 235.5h0M113.5 207.2h0M115.4 222.5h0M104 223.8h0M117.2 257.3h0M103.2 239.3h0M96.9 252.5h0M128.6 252.9h0M111 244.5h0M104.1 208h0M103.8 246.3h0M108 244.8h0M106.4 254.3h0M107.6 231.9h0M94.3 245.9h0M114.9 226.3h0M107.7 222.3h0M114.5 259.1h0M120.8 249.8h0M110.5 213.5h0M104.6 240.6h0M113.9 222.8h0M108.5 246.3h0M125.5 250.9h0M105.7 250.4h0M105.9 214.5h0M117.5 256.8h0M95.2 238.7h0M98.4 253.3h0M102.5 252h0M101.2 239.3h0M116.2 216.5h0M104.1 230.5h0M113.4 212.7h0M100.8 244.6h0M100.9 236.1h0M102.3 208h0M113 215.7h0M114 248.7h0M124.5 253.2h0M104.2 210h0M103.4 254.4h0M107 211.3h0M94.8 245.8h0M111.4 217.8h0M124.3 255.7h0M103.4 247.3h0M121.2 249.3h0M109.3 229.2h0M126.7 250.6h0M110.1 210.2h0M97.3 242.2h0M101.4 256.4h0M110.4 226.4h0M97 233.1h0M101.7 198.5h0M110.4 248.6h0M101.8 241.5h0M110.2 215.5h0M129.1 251.5h0M105.2 204.5h0M103.5 250.2h0M103.5 229h0M98.3 238.1h0M124.1 253.3h0M108.4 208.4h0M105 243.2h0M109.3 234.9h0M126 256.3h0M110.2 217.2h0M96 246.7h0M126.3 250.7h0M110.4 231.6h0M126.2 251.8h0M120.6 255h0M99.8 199.6h0M95.2 238.4h0M97.6 233.8h0M99.8 236.2h0M102.8 209.3h0M107.2 220.2h0M94.2 240.5h0M99.5 251.6h0M129.4 249.1h0M113.4 227.5h0M107.8 206.4h0M101.9 235.4h0M129.3 251.9h0M95.8 241.8h0M107.9 240.6h0M115.5 214.9h0M104.2 242h0M111.8 250.1h0M118.3 257.2h0M111.8 243.9h0M123.7 255.5h0M111.2 209.8h0M98.8 238.8h0M110.2 214.7h0M99.2 237.7h0M110 251.5h0M104.9 247.9h0M108 255.9h0M106 251.6h0M104.5 254.6h0M115.3 214.4h0M106.3 220.7h0M109 243.3h0M103.5 255.7h0M105.5 199.7h0M105.9 207.4h0M129.5 251.8h0M113.8 251.7h0M101.4 207.8h0M117.1 255.2h0M125.5 254.4h0M104.7 217.8h0M96.1 242.7h0M122.1 255.6h0M109.8 217.4h0M103.3 242.9h0M111.8 230.9h0M109.9 242.4h0M103.5 240.3h0M112.4 257.9h0M104.5 215.8h0M95.2 235.2h0M100.5 203.9h0M113.9 256h0M123.4 255.4h0M96.7 232.7h0M117 258.2h0M125.6 250.3h0M102.9 243.1h0M95.4 236.2h0M103.9 224.7h0M101.5 247.6h0M100.3 233.1h0M111 233.5h0M107.5 233.9h0M115 247.7h0M108.4 244.1h0M109.3 220.2h0M110.2 204h0M95.8 237.9h0M102.2 256.2h0M110.5 201.2h0M130.9 248.9h0M103.4 230.3h0M101.1 207.5h0M104.7 217h0M99.8 245.1h0M115 227.5h0M115.5 225.6h0M109.3 251.6h0M99.8 255.7h0M99 245.9h0M108.4 208.4h0M96.5 241.3h0M105 202.7h0M109 223.9h0M100.2 232.9h0M114.5 246.8h0M125.8 254.6h0M100 239.2h0M116.4 246.8h0M104 232.2h0M104.9 233.4h0M107.4 204.5h0M106.9 252.1h0M105.5 206.1h0M98.2 251.8h0M118.1 250.6h0M104.4 240.2h0M122 250.6h0M105.5 206.8h0M100.2 234.2h0M102.4 245.2h0M112.2 249.4h0M108.4 206.2h0M100.9 210h0M109.3 254.2h0M112 255.8h0M106.1 242h0M113 251.9h0M113.3 249.5h0M110.3 205.4h0M98.8 230.5h0M110.4 250.3h0M115.9 247.9h0M101.6 201.8h0M94.4 238.9h0M111.6 215.8h0M106.5 241.5h0M111 208.1h0M106.8 219.4h0M108.7 248.2h0M107 229.3h0M108.1 247h0M110.1 260.4h0M102 247h0M110.2 242.8h0M116.1 258.1h0M128.5 253h0M114.5 220.4h0M101.9 209.8h0M96.7 240.4h0M95.3 237.3h0M107.9 252.9h0M117.9 255h0M117.8 255.2h0M94.9 235.4h0M110.1 229.9h0M128.6 254h0M117.1 258.2h0M101.3 238.9h0M103 231.8h0M97.2 244.3h0M112.3 252h0M103.2 230.4h0M106.7 242.9h0M96.1 235.7h0M104.2 249.8h0M106.6 237h0M104.4 251.3h0M100.5 236.7h0M103.6 198.3h0M101.4 233.8h0M129.1 250.6h0M104.7 254.5h0M116.5 221.9h0M96.8 236.9h0M110.9 228.7h0M109.8 251.7h0M103.9 237.1h0M102.7 248.2h0M103.1 227.7h0M131.8 249.2h0M110.3 223.4h0M100.3 202.3h0M103.2 216h0M109.5 206.1h0M105.8 230.4h0M106.8 260.5h0M107.7 227.1h0M118 260.2h0M113.9 221h0M99.9 204.3h0M124 257.5h0M107.6 223.9h0M97.2 253.1h0M121.4 249.4h0M111.5 246.1h0M108.2 251.9h0M110.9 223.4h0M110 258.2h0M121 255.5h0M112.1 206.6h0M104 247.3h0M116.8 251.3h0M119.4 250.3h0M107.3 242.6h0M114.6 256.1h0M110.2 254.4h0M103.5 207.6h0M126.9 250.8h0M112.6 223.7h0M93.3 238.9h0M102.5 228.2h0M93.5 240h0M102.5 200.7h0M99.7 239.9h0M124.8 255.5h0M110.9 211.4h0M108.4 216.9h0M96.8 244.2h0M99.7 234.3h0M113.1 255.6h0M109.3 200.2h0M94.5 249.6h0M113 230.3h0M106.1 213.8h0M115.1 226.4h0" stroke="#F58B52" stroke-width="2" stroke-linecap="round" fill="none"/>
<path d="M99.7 237.4h0M118.3 248.9h0M105 209.1h0M112.7 257h0M126 254.4h0M118 255.7h0M114.2 252.5h0M109 200.5h0M97.9 245.7h0M110.3 225.4h0M110.3 226.6h0M108.9 200.8h0M116.7 259h0M104.2 236.1h0M101.1 210.2h0M118.1 250.3h0M114.3 226.2h0M111.1 208.5h0M115.8 253.1h0M96.6 233.5h0M100.3 238.6h0M126.4 256.1h0M112.8 209.4h0M103.2 258.4h0M113.7 252.6h0M110.7 214.8h0M98.3 247.7h0M99.6 247.6h0M110.2 219.4h0M117.3 255.3h0M114.2 259.7h0M113.9 222.3h0M124.1 256.4h0M113 230.8h0M104.1 215h0M126.8 254.5h0M96.6 251.9h0M109.8 260.7h0M104.6 240.4h0M114.2 252.7h0M105.3 257.1h0M113.3 211.4h0M108.3 208.9h0M112.5 251.9h0M99.9 201.2h0" stroke="#fff" stroke-width="1.5" stroke-linecap="round" fill="none"/>
<path d="M122.8 255.9h0M105.7 198.7h0M114.4 256.1h0M110.1 241h0M105.5 223.9h0M106.3 215.9h0M101.2 249.6h0M96.9 251.1h0M108.8 256.2h0M112.5 214.8h0" stroke="#fff" stroke-width="2.2" stroke-linecap="round" fill="none"/>
<path d="M145.5 239h0M185.3 224.8h0M153.7 233.4h0M167.1 234h0M152.1 234.1h0M180.6 221.5h0M143.1 241.4h0M185.8 227.2h0M162.8 231.8h0M162.6 226.3h0M158.1 230h0M171.7 220.6h0M180.6 219.3h0M149 230h0M147.3 236.5h0M141.6 234.9h0M158.9 226.4h0M140.3 234.1h0M173.1 229.8h0M156.1 234.1h0M138.4 236.6h0M142.6 246.3h0M180.5 222.1h0M177.1 227.5h0M186.9 223.4h0M165.9 220.6h0M176.2 221.5h0M150.3 230.2h0M174.1 223.6h0M186.4 221.6h0M169.8 224.4h0M182.5 219.8h0M152.2 230.9h0M140.3 246.6h0M161.6 227h0M171.6 231.3h0M149.2 229.8h0M167.3 230.9h0M160.9 228.1h0M152.2 233.8h0M165.8 227.3h0M150.7 231.4h0M165.1 232.4h0M151.8 231.5h0M161.4 225h0M135.7 242.5h0M149.3 229.6h0M155 230.5h0M174.4 223h0M185 222.7h0M173.8 222.2h0M177.4 224.7h0M158 232.2h0M167.4 228.2h0M155.8 225.6h0M170.1 226.1h0M172.9 220.6h0M147.6 236.6h0M172.7 221.9h0M179.2 225.5h0M179 218.2h0M143.1 241.1h0M179.9 221.1h0M149.7 238.6h0M150.3 237.9h0M166.3 231h0M179 224.7h0M166.3 225.7h0M173.1 226.4h0M139.6 239.6h0M176.2 224.5h0M141.8 241.6h0M176.4 222h0M175.8 229.6h0M162.6 226.8h0M149.4 230.2h0M138.6 237.3h0M153.6 236.5h0M161.6 231.5h0M152.3 237.1h0M145.2 235.5h0M160.3 228.9h0M164.4 231.2h0M175.9 220.4h0M141.4 242.1h0M152.1 234.6h0M143.6 235.2h0M161.2 232.6h0M150.5 230.4h0M163.1 221.5h0M152.5 230h0M139.2 245.8h0M182.2 228.7h0M172.9 220.5h0M164.1 225.5h0M181.4 222.8h0M151 235.9h0M140 240.6h0M184.1 223.6h0M176 224h0M151.9 231.9h0M143 235.7h0M150.6 237.4h0M164.4 235.6h0M139.1 239.5h0M178 221.5h0M170.8 225h0M143.1 241.4h0M173.3 223.9h0M161.9 232.8h0M182.8 222.3h0M165.4 234.3h0M155.4 225.2h0M151.6 233.3h0M182.9 227.4h0M160.5 222.7h0M175.5 227.4h0M183.3 226.3h0M144.1 238.7h0M167 225.3h0M155.3 235.4h0M144.2 230.6h0M164.8 227.8h0M155 226.2h0M164.5 233.8h0M135.8 243.4h0M179 219.1h0M181.6 223.4h0M175.7 230.9h0M183 225.7h0M156.8 229.2h0M158 224.1h0M151.9 234h0M171.7 228.6h0M146.7 236.6h0M179.7 220.9h0M165.5 229.2h0M137 246h0M180 223.7h0M146.4 238.8h0M178.1 230.6h0M180 222.8h0M148.4 237.8h0M167.7 234h0M151.4 227.3h0M181.4 228.5h0M185.2 220.8h0M158.4 234.7h0M180.1 224.7h0M164.7 229.9h0M175.6 228.1h0M181.7 225.2h0M142.7 232.7h0M138.4 246.3h0M145.7 239.4h0M159.2 235.6h0M162.4 234.3h0M149.2 237.4h0M170.2 231.7h0M174 222.1h0M165.5 226h0M163.1 233.8h0M137.1 247.5h0M179.3 229.2h0M153.3 236.6h0M161 228.6h0M170.5 227.6h0M184.2 220.9h0M141.7 239.8h0M164 227.1h0M137.4 239.3h0M142.1 241.5h0M145.2 236.6h0M166.4 225.4h0M160.5 227.3h0M147.5 238.4h0M147.1 234.8h0M151.3 233.6h0M173.6 221.5h0M164.9 230.3h0M163.9 232.6h0M142.9 242.6h0M158.2 224.6h0M148 230.5h0M159.2 233.4h0M162.4 233.6h0M179.3 221.8h0M155.4 230.7h0M172.3 223.7h0M141.2 246.5h0M165 233.7h0M142.3 235.4h0M176.2 228.4h0M181.3 227.4h0M159.4 227.3h0M178.3 220.1h0M154 228.5h0M159.9 225.6h0M156.3 223.8h0M157.6 228.2h0M183 218.7h0M165.9 229.4h0M159.7 235.3h0M136.9 237h0M158.8 231h0M181.8 225.3h0M180.7 227h0M171.5 229.2h0M138.7 243.2h0M146.2 234.4h0M177.7 220.3h0M150.5 230.4h0M163.2 226.2h0M171.4 223.2h0M174 225.4h0M144.4 237.8h0M151.6 230.9h0M159 233.5h0M161.5 235.4h0M175.4 220.6h0M171 233.5h0M162.1 226.9h0M185.2 226.3h0M172.2 220.3h0M152.8 226.9h0M157.3 231.8h0M165.9 228.9h0M185.3 225.7h0M163.3 230.7h0M182.2 222.8h0M168.1 223.9h0M186.1 220.9h0M140.4 242.2h0M169.4 228.9h0M180.9 229.5h0M156.8 225h0M181.3 219.1h0M164.4 227.7h0M171.7 231.6h0M162.6 226.1h0M159.7 226.9h0M151.5 226.7h0M150.8 236h0M143.3 237.2h0M143.2 235.2h0M142.4 242h0M139.8 239.5h0M154.7 227.7h0M159.3 223.2h0M175 224.3h0M164.3 225.3h0M180.5 221.3h0M146 238.1h0M184.7 219.7h0M142.3 240.9h0M140.4 245h0M156.7 233.9h0M163 221.5h0M173.4 225.3h0M177.2 229.3h0M176.4 230.3h0M181.7 227.3h0M182.4 227.8h0M140.4 233.1h0M156.4 237.2h0M150.9 234.8h0M153 225h0M170.7 231.3h0M151.1 234.4h0M138.7 234.9h0M142.1 248.9h0M138.6 248.2h0M140.8 235.7h0M168.5 229.9h0M167.5 225.2h0M157.1 234.7h0M163.4 224.8h0M162.4 230h0M170.2 220.8h0M181.3 219.7h0M169.5 232.7h0M139.2 236.7h0M166.4 221.3h0M165.6 234.3h0M183.2 223.3h0M138.2 239.4h0M165.7 231.2h0M148.7 232.1h0M136.7 243.5h0M154.4 234.5h0M147.9 228.7h0M152.1 236.5h0M179.4 220.3h0M162.9 223.4h0M168.4 231.4h0M152.7 237.7h0M148.4 228.7h0M155.1 227.6h0M138.4 242h0M161.7 231.2h0M154.1 234.9h0M187.3 221.4h0M167.6 229.7h0M166.3 232.8h0M165.3 224h0M184 222.4h0M138.4 237.4h0M180 218.5h0M156.3 228.7h0M179 223h0M167.9 223.3h0M151.3 226.9h0M148 233.5h0M184.6 222.3h0M140.9 246.1h0M155.6 229.1h0M141.3 239.9h0M164.5 228.3h0M170.1 226.5h0M175 231.1h0M159.4 230.3h0M153.5 225.8h0M161.4 225.3h0M166.9 226.9h0M169.2 225.5h0M147.7 230.9h0M160.9 227.2h0M137 241.6h0M180.1 220.6h0M159.9 223.9h0M137.4 241.6h0M177.7 221.8h0M149.9 231.7h0M161.4 227.8h0M143 238.3h0M145.2 238.8h0M172.3 229.5h0M182.9 223.4h0M170.2 230.5h0M154.2 226.4h0M147.6 236.6h0M178.6 220.6h0M142.7 237.3h0M151 229.2h0M139.6 240.3h0M143.7 237.9h0M171.1 229.4h0M156.9 225.6h0M158.8 234.2h0M144.4 232.2h0M146.5 237.6h0M174.5 221.3h0M139.7 242.9h0M160.9 222.7h0M169.1 220.3h0M145.6 234.6h0M155.7 231.4h0M174.4 220.7h0M182.6 223.5h0M166.7 232.7h0M140.4 239.1h0M175.1 227.6h0M156.4 228h0M181.6 226.2h0M178.8 224.5h0M174.6 230.7h0M170.3 223.4h0M163.3 232.8h0M175.6 228.1h0M171.9 223.8h0M139.8 243.9h0M145.6 239.4h0M172.6 221.8h0M174.3 227.8h0M142.2 235.9h0M149.2 231.8h0M161.4 232.1h0M154.6 227h0M158 232.5h0M150.2 233.5h0M179.4 218.8h0M157.4 228.9h0M146.4 231.2h0M168.5 224.2h0M138.6 244.8h0M172.4 221.1h0M154.4 227.5h0M138.9 236.8h0M165.6 226.7h0M163.8 235.4h0M149.7 234.5h0M164.8 235.2h0M177.5 223.5h0M157.3 227.1h0M142 233.3h0M186.1 224.1h0M144.4 237.5h0M167.5 228.7h0M137.6 241.5h0M157.5 229.1h0M155.1 233.4h0M159.5 228.5h0M161.5 234.7h0M153 237.4h0M179.6 223.3h0M161 230.6h0M136.8 243.3h0M144.5 233.9h0M176.4 225.8h0M160.3 233h0M165.9 233.8h0M155.7 230.1h0M158.4 225.1h0M156.6 227.5h0M157.9 232.3h0M160.1 232.9h0M146.9 239.5h0M149.1 234.3h0M149.7 231.7h0M164.6 227.5h0M182.1 225.3h0M146.8 238.5h0M154.4 235.1h0M163.2 235h0M161.6 228.5h0M138 237.8h0M170.2 221.3h0M175.8 220.9h0M172.8 231.3h0M176.7 229.7h0M150.1 231h0M183.3 224.6h0M167.3 232.5h0M138.8 234.9h0M179.9 222.2h0M166.4 226.9h0M165.9 226.4h0M144.9 232.7h0M168.7 230.2h0M143.3 237h0M161.5 226.9h0M156.1 228.8h0M176.9 221.9h0M163.4 225.1h0M145.7 237.1h0M168.8 229.6h0M159.8 235.2h0M161.4 231.6h0M171.2 224.8h0M171.4 226.8h0M152.1 228.7h0M169.5 223.3h0M157.4 231.5h0M158.8 236h0M176.1 223.6h0M169.9 223.3h0M157.4 234.3h0M166.4 220.9h0M147.3 238.7h0M162 231.5h0M171.8 228.6h0M184.9 227.2h0M179.3 221h0M142.4 245.9h0M137.1 246h0M184 225.2h0M148.5 231.8h0M158.9 235.5h0M179.3 219.1h0M177.1 229.9h0M170.5 232.7h0M155.3 226.1h0M177.4 226.6h0M154.6 225.3h0M141.7 244.5h0M175 228.8h0M138.6 238.6h0M158.7 237.2h0M166.8 225.8h0M159.9 234.5h0M144.4 240h0M168.9 225.4h0M174.8 228.8h0M167.2 221.2h0M135.9 240.3h0M144.5 233.1h0M142.2 239.4h0M135.6 242.3h0M139.5 248.6h0M173.5 225.3h0M153.1 225.3h0M147.3 236h0M149.6 234.2h0M188.2 222.2h0M176.2 219.9h0M156.9 223.8h0M158.4 231.9h0M168.4 223h0M160.2 232.8h0M146.9 234.4h0M144.1 239.6h0M150.9 236.5h0M151.9 226.1h0M136.8 245.4h0M155.1 233.4h0M157.4 223.9h0M173.7 224.4h0M177 221.7h0M171.6 226h0M171.1 230.6h0M174.4 224.6h0M142.9 241.6h0M141.5 234.9h0M143.5 238.4h0M163 225.7h0M169.6 221.7h0M156.1 235.8h0M174.1 222.9h0M146.7 229h0M146.9 239.2h0M153.2 237.3h0M160.7 231.5h0M180.5 222.7h0M177.9 221h0M181.2 225.9h0M185.5 225.8h0M164.4 223h0M178.9 227.5h0M160.5 226.7h0M138.2 248.6h0M155.6 233.2h0M138.1 242.3h0M173.4 224.1h0M160.4 227.8h0M156 231.8h0M184.6 219.5h0M165.3 235.1h0M164.5 228.9h0M175.7 229.3h0M173.3 223.8h0M145.6 233.7h0M151 235.4h0M138.3 247.2h0M146.9 234.9h0M180.4 220h0M172.8 227h0M162.9 221.6h0M164.7 230h0M179.5 224.6h0M169 220.6h0" stroke="#F58B52" stroke-width="2" stroke-linecap="round" fill="none"/>
<path d="M162.2 233.9h0M137.8 239.8h0M171.6 231h0M139.2 246.9h0M150.3 229.5h0M140.9 236.2h0M162.9 228.2h0M152.6 233.9h0M179.5 224.5h0M155.4 228.3h0M173.6 220.3h0M170.3 231.7h0M163.5 223.9h0M162.5 225h0M158.4 224.3h0M167.7 230.2h0M167.4 231.3h0M141.6 241.6h0M138.8 242.1h0M143.7 235.1h0M146.9 234.7h0M140.3 237.6h0" stroke="#fff" stroke-width="1.5" stroke-linecap="round" fill="none"/>
<path d="M190.3 212.5h0M187.3 211.3h0M188.8 210.1h0M191.2 210.9h0M191.8 212.8h0M191.1 214.1h0M190.9 211h0M191.6 208.9h0M188.4 213.7h0M192.3 209.5h0M188.6 213.7h0M191.4 212.7h0M191.1 212.8h0M194.2 211.9h0M187 213.1h0M187.2 211.3h0M187.8 213.5h0M194.1 210.2h0M188.7 212.1h0M191.6 209.9h0M193.6 213.2h0M194.7 212.6h0M187.9 213.7h0M193 211.5h0M188.8 209.6h0M190.5 210h0M186.4 213.1h0M192.8 212.3h0M187.6 210.4h0M193.3 211.4h0M192.5 214h0M186.5 211.8h0M193.4 209.1h0M188 210.7h0M190.3 210h0M187.7 211.1h0M189 212.1h0M191.6 210.9h0M194.3 210.3h0M190.5 212h0M189.9 212.9h0M194.4 212.9h0M185.9 212.2h0M191.8 210.2h0M191.2 210.8h0" stroke="#18A8F0" stroke-width="1.6" stroke-linecap="round" fill="none"/>
<path d="M196.9 207h0M196.8 207.3h0M195.2 209h0M196.9 206.8h0M197.3 207.5h0M195 207.5h0M193.9 207.6h0M196.1 206.4h0M196 207.8h0M196.1 208.1h0" stroke="#28B463" stroke-width="1.6" stroke-linecap="round" fill="none"/>
<path d="M169.2 221.3h0M182.7 230.9h0" stroke="#18A8F0" stroke-width="1.6" stroke-linecap="round" fill="none"/>
<path d="M85 137.7h0M68.1 133.5h0M76.6 140.9h0M76.1 132.5h0M73.1 141h0M74.3 129.8h0M82.7 140.4h0M86.1 131h0M71.9 130.6h0M81.9 137.2h0M75 132.1h0M70.4 134.8h0M86.9 138.5h0M68.2 131h0M78.2 135.5h0M69.1 138.3h0M84 139.8h0M83.9 137h0M82 140h0M68.6 138.1h0M69.9 137.5h0M78.4 140.4h0M77.8 136.5h0M72.6 141h0M70.9 137.8h0M71.7 139.1h0M79.7 139.1h0M78.1 132.8h0M77.9 130.3h0M75 142h0M72.7 138.5h0M82.6 135.1h0M80.6 130.3h0M68.8 138.2h0M76.1 141.2h0M85.4 138.9h0M83.3 133.8h0M69.5 137.3h0M68.9 130.4h0M77.5 132.3h0M71.5 134.8h0M82.8 131.4h0M69.7 134.4h0M77.3 131.2h0M77.4 138.9h0M85.6 136.1h0M74.1 130h0M71.3 137.2h0M81.8 139.8h0M81.1 140.5h0M85.2 132.3h0M79.6 128.6h0M71.1 130.7h0M75.8 142.6h0M79.1 135.4h0M73.5 132.9h0M79.5 133.9h0M84.1 131.6h0M77.3 135.4h0M77.5 140.3h0M85.1 135.4h0M76 129.2h0M74.2 132.5h0M76.7 129.3h0M70.3 138h0M75.6 139.2h0M85.4 134.4h0M75.4 134.4h0M79.9 134.1h0M67.1 132.7h0M71.7 133h0M67.1 134h0M77.1 129.3h0M80.5 136.4h0M75.6 134.4h0M65.7 136.7h0M74.6 137.2h0M79.3 140.7h0M69.9 136h0M76.7 141.4h0M81.9 134.6h0M84.5 135.7h0M74.6 130.4h0M87 135.2h0M77.5 131.5h0M82.8 131.5h0M70.1 134.5h0M80 140.3h0M86.5 132.2h0M77.8 138.6h0M81.4 129h0M80.3 131.5h0M67 136.3h0M81.7 135.2h0M73.9 130.3h0M68.5 133.8h0M74.1 135.4h0M73.6 129.5h0M87.9 134.6h0M74.1 133.7h0M77.6 141.5h0M73 132.4h0M79.1 138.1h0M80.9 133.4h0M77.3 134.4h0M85 135.8h0M79.2 137.6h0M83.1 138.7h0M74.9 136h0M80.4 129.9h0M78.9 133.1h0M76.6 138.4h0M75.9 139.4h0M72.1 130.5h0M79.5 128.6h0M73.2 133.4h0M83 131.2h0M74.4 131h0M80.8 141.2h0M75.3 134.4h0M79.7 137.1h0M78.8 135.8h0M73.1 132.3h0M82.6 137.7h0M74.3 132.1h0M86.8 136.3h0M69.9 131.2h0M72.5 136.8h0M75.5 142.1h0M79.5 131.8h0M81.3 138.1h0M83.9 132.3h0M83.1 130.7h0M67.5 136.9h0M74.8 128.8h0M73.3 137.4h0M74.6 129.6h0M70.7 137.7h0M79.7 136.4h0M77.4 139.2h0M74.6 133.9h0M75.7 133.2h0M79.3 131.2h0M83 129.3h0M80.9 135.2h0M69.9 136h0M86.6 130.4h0M69.8 136.9h0M70.8 136.2h0M68.2 136.4h0" stroke="#18A8F0" stroke-width="2" stroke-linecap="round" fill="none"/>
<path d="M64.5 190.3h0M78.9 155.3h0M67.2 169.2h0M87.2 153.9h0M75.7 190.6h0M84.9 170.1h0M83.9 170.6h0M69.9 155h0M72.7 189.5h0M73 166.8h0M59.7 169.8h0M54.7 187.8h0M80.4 184.7h0M65.4 191.7h0M80.8 187.3h0M48.1 180h0M72 171.6h0M82.5 181.6h0M62.9 158h0M78 183.6h0M76.6 169.3h0M62.5 182h0M80.1 186.1h0M71.3 171.7h0M85 149h0M53.6 176.6h0M52 172.5h0M86.3 165h0M64.9 166.8h0M68.7 182.3h0M71.9 145.7h0M49.6 186.8h0M64.4 184.8h0M50 173.5h0M74.4 169.6h0M74 150.3h0M49.5 177.3h0M64.3 189.8h0M76.3 155h0M82.2 147.5h0M56.5 172.6h0M77.5 157.6h0M75.5 176.2h0M82.2 188h0M72.4 146.5h0M62.5 171.8h0M59.8 183.8h0M79.9 187.6h0M61 158.1h0M74.5 169h0M76.1 179.2h0M90.4 160.5h0M67.2 160.6h0M77.2 164.4h0M65.2 154.8h0M49 186.7h0M74.5 190.3h0M76.1 151.9h0M71.3 187.7h0M50.8 186.9h0M60 161.8h0M80.6 185.5h0M67.8 168.8h0M50.1 180h0M66 178.3h0M74 150.3h0M62.5 187.2h0M50.7 173.3h0M67.3 189.4h0M86.9 172.3h0M69.8 181h0M70.3 191.3h0M75.1 164.4h0M76.9 154.2h0M55 177.8h0M77.9 161h0M67 150.7h0M50.5 188.7h0M70.6 187h0M60.9 163.5h0M63.5 158.7h0M69.2 185.1h0M81.4 164.5h0M76.6 176.1h0M73.4 176.3h0M62.4 173.7h0M60.7 190.3h0M73.5 152.5h0M89.1 161.2h0M70.1 185.3h0M54.3 175.2h0M51.9 173.9h0M77 148.7h0M51 181.6h0M65.2 149.4h0M68.9 179.5h0M68.6 156h0M59.4 185.9h0M69.8 180.3h0M71.4 152.7h0M72.3 188.6h0M73.8 178.9h0M52.6 181.8h0M88.5 156.7h0M82.3 177.7h0M79.7 150.4h0M63.3 184.2h0M66.2 154.5h0M68.1 179.1h0M76.9 147.2h0M65.8 172h0M57.1 180.7h0M79.4 149.3h0M63.7 189.5h0M48.3 182.8h0M63.6 154.8h0M69.1 177.2h0M65.4 161.3h0M77.7 146.9h0M68.2 153.2h0M73.3 181.1h0M64.3 156.1h0M78.1 189.4h0M80.3 146h0M65.2 148.9h0M61.8 163.5h0M74.7 148.2h0M56.4 181.7h0M58.2 167.2h0M88.2 155.3h0M77.5 183.8h0M58.8 178.6h0M70.8 179.7h0M66.6 185.1h0M71 152.6h0M73.3 175.8h0M62.2 174.5h0M65.2 169.2h0M81.6 161.7h0M65.9 159.4h0M75.4 173.7h0M74.7 166.5h0M55.5 189.3h0M82.3 179.3h0M61.1 184.5h0M82.2 155.9h0M87.3 163.7h0M71.9 148.5h0M60.2 185.6h0M81.5 156h0M65.9 187.1h0M61.6 156.8h0M76.2 159.7h0M68.9 179h0M84.2 151.1h0M81 175h0M54.7 174.2h0M87.6 152.5h0M75.5 191h0M59.5 173.7h0M49.8 175.3h0M80.7 165.4h0M75 179.9h0M86.2 165.8h0M74.7 144.7h0M77.3 183.6h0M68.1 156.8h0M84.8 185.2h0M50.6 182.3h0M62.9 177.4h0M56 188.9h0M89.3 163.9h0M62.5 152.2h0M87.7 169.8h0M49.6 179.7h0M80.2 177.1h0M71.7 167.4h0M81.1 175.4h0M61.6 178.5h0M78.2 161.5h0M75.5 163.1h0M70.4 168.3h0M58.9 181.9h0M75.8 146.4h0M64.9 169.5h0M69.1 177.4h0M63.7 163.1h0M84.6 165.9h0M83.1 159.9h0M82.5 179.5h0M83.7 157.4h0M70.8 147.1h0M58.4 181.1h0M52.8 181h0M75 182.2h0M87.2 171.5h0M59.9 164.9h0M64.5 160.1h0M70.1 191.2h0M85.1 173.7h0M74 181.5h0M82.4 179h0M83.8 162.2h0M59.4 165.7h0M90.4 160.4h0M60 172.7h0M69.9 170.1h0M56.2 168.6h0M48.4 177.3h0M84.6 172.1h0M62.6 169.9h0M61 168.7h0M65.9 181.6h0M68.6 152.7h0M86 149.3h0M87 159h0M74.7 170.5h0M63.8 187.6h0M70.4 165.3h0M62.3 185.2h0M70.8 161.7h0M61.1 190.1h0M82.1 165.6h0M64.3 165h0M72.1 189.9h0M84.4 172.4h0M80.4 179.2h0M50.9 174.1h0M71.9 168.5h0M58.5 161.8h0M81.5 161.6h0M58.6 175h0M83.8 155.8h0M65.5 150.6h0M81.4 183.2h0M68.3 154h0M49.6 180.3h0M71.9 183.8h0M80.7 168.3h0M65.5 183.4h0M62.6 189.9h0M68.8 165.2h0M81.9 149.7h0M65.3 167.4h0M75.3 146.5h0M65.9 184.2h0M72.4 159.4h0M80.2 146.2h0M81.3 181.7h0M72.1 171.4h0M71.1 183.5h0M61.5 186h0M81.4 148.4h0M54 188.4h0M77.3 150.9h0M54 171.3h0M72.7 176.6h0M76.6 180.2h0M76.8 150.7h0M78.5 175.7h0M63.5 150h0M53.3 175.6h0M77.1 152.2h0M68 156.3h0M59.7 183.1h0M78.8 183.2h0M71.7 187.6h0M80.2 162.5h0M63.8 167.3h0M60.1 176.8h0M66.8 168.1h0M61.3 158h0M65 182.5h0M70.7 176.1h0M61.1 163.2h0M64.1 161.9h0M66 150.6h0M82.8 164.8h0M55.5 182h0M71.6 188.7h0M84.8 158.4h0M64.3 182.6h0M89.7 163.1h0M88.3 165.9h0M73.8 145.8h0M88.3 152h0M81.2 149h0M77.2 146.4h0M66.3 168.6h0M80.4 172.6h0M65.8 174.2h0M65.9 148.6h0M75.7 158.8h0M79.3 180.3h0M57.2 186.2h0M86.4 154.5h0M80.6 148.2h0M83.1 176.7h0M50 174.9h0M75.5 146.3h0M65.1 149h0M76.4 181.9h0M83.6 166.7h0M76.6 160.5h0M58.5 166.1h0M60.1 174h0M80.2 157.6h0M81.9 176.9h0M85.6 155.6h0M72.4 177.2h0M53.3 180.4h0M75.7 152.5h0M68.7 187.8h0M55.4 174.3h0M67.2 188.7h0M67.6 176.2h0M89.6 158.8h0M85.6 151.7h0M79.4 153.7h0M52.2 176.7h0M82.4 151.1h0M68 170.3h0M62.9 185.3h0M71.3 170.3h0M79.9 165.4h0M63.2 165.9h0M53.5 171.2h0M66.8 185.6h0M69 185.7h0M78.5 178.5h0M72.6 160.5h0M61.6 168.8h0M75.9 161.3h0M64.3 155.6h0M84.2 174.1h0M89.3 154.9h0M56.2 179h0M70.3 167.7h0M78.6 168.2h0M66.5 187.7h0M70.8 166h0M61.3 184.3h0M75.9 172.3h0M78.7 152.4h0M80.9 149.6h0M73.9 174.8h0M76.7 150.7h0M70.5 190.2h0M83.7 152.3h0M83.1 163h0M51.9 174.4h0M72.6 155.5h0M50 178.9h0M63.8 163.9h0M57.6 189.2h0M75.4 188.7h0M63.4 181.4h0M76.3 161.9h0M61.9 163.8h0M80.7 161h0M56.3 168.4h0M67.2 170.1h0M58.2 166.7h0M73 178.2h0M81.7 171.7h0M86.6 159.1h0M58.1 180.6h0M82.5 160.2h0M67.7 170.1h0M70.3 152.3h0M79.9 165.4h0M64.8 189.4h0M60.6 167.3h0M80.5 156.5h0M67.5 147.9h0M79.4 156.4h0M68.6 169.5h0M58.6 174.6h0M68.5 188.3h0M72.8 154.6h0M77.1 162.2h0M62.5 179.1h0M89.6 158.2h0M58.6 189.7h0M64.5 182h0M70.1 191h0M74.6 178.9h0M85.3 159.9h0M61.5 175h0M62.1 164.8h0M82.1 150.8h0M69.3 162.1h0M74.8 165.1h0M52.9 175h0M79.7 177.4h0M56.7 185.6h0M78.3 167.1h0M65 192.3h0M74.1 178.1h0M58.7 190.4h0M77.5 149.1h0M81.9 152.3h0M63.6 148h0M71.6 151.2h0M67 163.7h0M76.4 183.2h0M48.6 184.9h0M60 184.1h0M87.9 158.5h0M67.6 182.2h0M83.7 174.8h0M63.6 158.7h0M64.9 153.3h0M73.9 189.1h0M77.2 149.3h0M67.5 173.8h0M74.2 166.6h0M51.7 174.5h0M70.2 151.7h0M82.1 178.8h0M73.3 189.8h0M90 163.5h0M54.3 178.6h0M67.8 180h0M68.4 176.5h0M86.1 163h0M66.5 190.1h0M69.2 173.4h0M84.5 169.1h0M69.4 152h0M70.9 150.4h0M75.8 146.6h0M53.6 180.7h0M79.6 146.7h0M76.2 159.9h0M70.7 170.2h0M77.2 160.7h0M60 165.5h0M57.4 176.2h0M73.5 149.8h0M88.2 164.1h0M76.1 175.7h0M74.9 175.5h0M73.8 148.6h0M67.3 169h0M77 185.4h0M73.9 173.8h0M66.2 187.5h0M66.8 185h0M51.3 177.5h0M56.2 183.4h0M65 185.8h0M63.9 184.8h0M63.9 170.1h0M74.5 162.2h0M77.7 156.8h0M77.3 187.3h0M65 173.6h0M73.5 185.9h0M65.9 160.3h0M53.1 177.6h0M64.7 152.2h0M77 166.3h0M82.6 166.8h0M69.4 162h0M59 177.1h0M53.9 177.9h0M48.3 180.6h0M52.9 177h0M55.7 176.3h0M80.8 180.1h0M80.9 183h0M84.9 160.5h0M86.6 165.6h0M74.3 153.6h0M76.5 186.7h0M58.1 183h0M66.6 151.7h0M83.9 167h0M72.1 146.2h0M64.9 173.1h0M61.8 168.7h0M56.6 177.6h0M72 156.1h0M87.5 149.9h0M74.8 164.4h0M66.6 177.7h0M62.6 188.9h0M68.4 182.3h0M77.1 176h0M85.4 166.6h0M62.9 162.3h0M73.1 147.1h0M81.7 182.4h0M78.1 165.8h0M54.3 183.8h0M68.5 171.4h0M80 163.2h0M61 172.5h0M62 169.2h0M53.9 182.6h0M69.8 148h0M82.4 149.1h0M83.4 152.2h0M57.5 177.3h0M54.8 176.3h0M76.2 151.8h0M80.9 159.9h0M76.6 187.2h0M67.4 153.8h0M71.2 183.3h0M81.5 164.8h0M64.9 191.2h0M74.1 155.1h0M66 161.2h0M66 189.9h0M87.7 157.7h0M48.8 184.8h0M81.6 180.1h0M54.9 172.1h0M75.7 187.9h0M62.3 190.1h0M73.5 186.2h0M79.5 161.6h0M80.9 163.9h0M62.5 183h0M66.1 173.7h0M75.4 159.1h0M77.3 169.9h0M69 180h0M52.6 174.1h0M75.4 150.5h0M51.3 185.7h0M76 168.5h0M69.6 170.8h0M62.2 160.1h0M65.2 157.9h0M79.1 173.2h0M68.5 182.3h0M83.6 177.1h0M76.8 184.3h0M74.9 177.5h0M77.9 149.2h0M56.5 182.1h0M78.8 187.2h0M75.6 157.6h0M62.7 161.5h0M86.9 166h0M73.8 180.3h0M79.8 184.4h0M74 146h0M87.2 149.7h0M87.9 155.7h0M63 180.7h0M62.1 162.4h0M63.3 165.9h0M65.7 183h0M87 163.4h0M74.2 152.8h0M79.8 150.9h0M50.2 178.3h0M81.2 146.6h0M62.7 175.3h0M75.3 172.7h0M79.7 182.6h0M76.6 188.3h0M80.1 180.3h0M86.8 161h0M88.5 168.8h0M72.7 164.5h0M58 164.3h0M83.6 171.3h0M69.6 173.6h0M81.5 172.4h0M62.6 181h0M78.7 146h0M67.6 147.7h0M68.2 160.6h0M79.4 151.8h0M75.2 188.1h0M82.7 159h0M69.4 185.9h0M51.6 177.6h0M66 160.1h0M84.5 167.3h0M66.5 171.2h0M47.4 184.2h0M59.6 170.1h0M72.5 161.2h0M82 176.6h0M87.4 170.6h0M73.1 166.1h0M69.6 190.6h0M79 188.1h0M72.8 169.3h0M58.9 174.4h0M54.6 179.7h0M83.5 187.1h0M67.1 176.2h0M74 156.4h0M80.8 185.8h0M69.9 175.1h0M64.8 185.2h0M76.6 156.6h0M52.2 185.2h0M83.5 149.8h0M74.7 176.8h0M79.4 160.4h0M82.1 177.7h0M80.8 177.6h0M83.7 162.5h0M63.4 157.3h0M69.4 154.2h0M77.5 157.2h0M68.8 169.9h0M53.8 177.9h0M57.9 170.6h0M58.5 182.3h0M65.5 161.5h0M74.2 159.7h0M75 147.2h0M80.2 186.7h0M56.5 183.2h0M74.8 154.3h0M76.9 174.9h0M81.1 171.2h0M56 189.3h0M78.4 149.5h0M73.3 146.2h0M75 168h0M60.1 163.2h0M72.2 162.3h0M67.4 165.3h0M66.8 160.4h0M50.8 175.6h0M88.6 158.3h0M80.2 171h0M78.2 163.8h0M75.4 163.7h0M66.4 173.3h0M71.9 151.6h0M81.8 150.3h0M76.9 151.7h0M69.5 187.6h0M56.8 184.4h0M59 177.6h0M71.1 164.2h0M82 147.7h0M84.1 173.9h0M49.7 183h0M77.7 190.2h0M50.6 189.1h0M80.8 181h0M73.2 177.5h0M65 176.2h0M70.9 170.7h0M78.4 176.8h0M55.8 180.7h0M80.6 189h0M67.8 181h0M57.7 184.5h0M72 179.7h0M46.6 184.9h0M76.4 151h0M78.8 182.3h0M89 155.5h0M70 181.6h0M66.4 168.9h0M83.8 165.4h0M60.6 170.8h0M61.5 172.4h0M75.9 169.6h0M57.7 166.3h0M65.4 159.2h0M66.7 189.5h0M70.1 182.7h0M48.1 181h0M73.8 160.5h0M86.5 161.5h0M77.5 188h0M81 162.6h0M82.5 182.3h0M67.3 163.2h0M74.8 188.3h0M73.3 149.6h0M54.3 188.5h0M73.2 147.5h0M61.7 157.3h0M50.2 186.9h0M56.4 183h0M82.4 185.6h0M57 179.4h0M70.8 180.4h0M79.2 162.5h0M77.1 168.9h0M77.6 183.7h0M78.1 154h0M84.2 179.7h0M51.7 174.9h0M75.7 146.8h0M75.9 167.8h0M74.3 187.7h0M60 171.9h0M74.4 149.3h0M73.2 178.8h0M84.8 153.3h0M57.1 175.7h0M55.2 189.4h0M67.8 166.6h0M71.3 149.4h0M70.2 178h0M79.3 161.4h0M59.9 177.6h0M61.4 188h0M78.4 167.1h0M71.5 189.3h0M62.1 181.2h0M73.2 172h0M70.3 157.1h0M71.5 169.7h0M68.5 175.2h0M50.7 184h0M84.1 160.3h0M88.5 154.3h0M88.8 161.3h0M61.1 172.8h0M65.8 190.8h0M63.5 174.4h0M76.6 173.4h0M62.7 186.8h0M82.4 173.5h0M72.9 182.1h0M60 178.7h0M78.7 178.8h0M59.7 188.6h0M83.7 181h0M81.4 148.9h0M66.4 160.9h0M72.4 163.9h0M60 189h0M67 183.9h0M86.7 163.8h0M69.3 182.8h0M77 190h0M64.8 158.5h0M56.8 186.8h0M50.2 182.7h0M79.2 161.1h0M67.9 145.3h0M81.4 178.3h0M65.1 167.3h0M68.4 166h0M58.1 177.2h0M60.6 183.2h0M73.8 148.1h0M84.3 179.7h0M82.1 183.8h0M73.3 145.8h0M82.1 186.6h0M80.8 149.1h0M47.7 178.6h0M73.3 171.5h0M75.1 153.2h0M64.6 184.2h0M73.6 181h0M66.8 157.7h0M56.5 174.7h0M74.6 191.3h0M81 172.6h0M77.2 163.6h0M55.1 168.8h0M71.6 190h0M58.7 161.4h0M62.7 174.7h0M51.9 173.7h0M69.5 164.4h0M86.1 170.4h0M70 156.1h0M72.8 153.6h0M62 179.8h0M65.6 183.2h0M58.2 175.7h0M54.1 187.5h0M70.8 154.1h0M83.2 175.4h0M59.3 164.8h0M68.2 155.5h0M78.3 173.2h0M88.4 163.1h0M69.5 173h0M78 158.5h0M63.2 153.6h0M68.1 176.5h0M63.7 165.3h0M59.2 184.9h0M77.8 159h0M65.7 148.9h0M75.8 187.5h0M69.5 167.1h0M81.7 173.1h0M75 150.2h0M66.3 185.1h0M80.3 184h0M57.3 186.7h0M66.9 150.2h0M62.1 165.4h0M76.3 171.6h0M57.6 168.5h0M74.1 176.5h0M69.6 187.8h0M52 185.8h0M72.7 172.5h0M82.2 152.3h0M69.3 187.4h0M64.1 185.7h0M72.2 185.9h0M66.3 162.6h0M85.4 150h0M61.6 174.7h0M54.8 178.7h0M86.4 166.7h0M75.8 146.9h0M76.6 162.3h0M64.7 168.7h0M80.9 155h0M82.4 185.1h0M72.1 188.2h0M76.3 148.5h0M73.6 169.2h0M59.4 181.1h0M70.4 151.8h0M74.8 147.1h0M74.6 179.4h0M75.9 155.5h0M58.2 188.4h0M73.6 175.3h0M67.6 166.3h0M90.8 161h0M80.7 178.3h0M49.9 175.7h0M48.5 184.5h0M63.7 189.1h0M61.7 183h0M58 184.7h0M53.1 179.6h0M80.3 167.1h0M67.4 169.6h0M87 151h0M52.5 176.3h0M52.2 181.6h0M62.8 153h0M74.9 166.4h0M82.3 157.8h0M86.1 158.9h0M90.1 154h0M85.2 186.6h0M77.9 148h0M91 161.7h0M84.2 173.5h0M62 159.7h0M65.7 168.8h0M57.6 172.9h0M62.3 160.1h0M74.8 172.6h0M56.8 190h0M75.2 164h0M75.4 166.8h0M81.7 146.8h0M76.6 185.6h0M64.1 170.8h0M70.6 173.2h0M64.9 168.1h0M75 173.7h0M73.5 170.9h0M70.6 189.6h0M63.9 152.1h0M67.7 164.7h0M89.1 167.3h0M51.9 188h0M61.3 166.5h0M79.1 153.6h0M79.9 188.2h0M63.7 164.5h0M65.3 161.3h0M65.3 167.6h0M49.8 185.4h0M79.2 149.6h0M78.6 176h0M89.4 154.1h0M69 167.2h0M80 154.1h0M52.4 177.8h0M77.9 146.1h0M57.2 166h0M72.4 158.7h0M71.4 148h0M64.6 158.8h0M80.6 164.4h0M72.6 171.7h0M72.8 163.5h0M78.6 162h0M65.4 183.3h0M89.8 167.2h0M66.2 172.9h0M60.8 182.2h0M81 162.2h0M61.4 189.6h0M66.6 175.5h0M57.5 176h0M71.5 157.1h0M84.8 169.4h0M63.8 156h0M58.7 169.4h0M48.8 183.7h0M80.6 176h0M75.5 170.4h0M67.6 160.7h0M89.2 163h0M58.3 187.1h0M61 182.2h0M62.5 173.4h0M85.2 159.8h0M76 161.5h0M59.8 186.8h0M81.8 188.6h0M61.2 186.9h0M86.6 151.6h0M74.4 186.9h0M57.4 186h0M72.4 176.3h0M70.8 168.9h0M70.6 164.2h0M73.4 184h0M69.6 173.4h0M52 176.2h0M73.3 178.6h0M62.5 191.1h0M65.8 163.8h0M57.9 174.7h0M83 186.4h0M64.8 188.8h0M79.4 175.7h0M75.8 153.2h0M86.5 153.8h0M50 175.3h0M54.4 171.1h0M68.2 153.5h0M48.7 181.1h0M69 180.5h0M78.7 150.8h0M58.8 183.1h0M86.5 169h0M66.2 155.8h0M61 163h0M73 175h0M79 171.4h0M59.1 172.9h0M61 181.4h0M79.2 173h0M78.1 153.2h0M75.7 178.3h0M66.8 164.5h0M81.4 173.5h0M72.3 178.7h0M54.9 183.3h0M82.5 147.7h0M81.8 165.1h0M66.4 158.3h0M84 154.8h0M80.6 172h0M80.3 157.2h0M72.9 159h0M60.4 167.2h0M79.7 165.1h0M65.8 192.5h0M79.5 157.2h0M72.1 167.9h0M75.6 186.1h0M70.1 163.7h0M56.4 177.4h0M51.9 176.4h0M85.4 159h0M54.5 185.7h0M90.1 156.4h0M74.2 185.3h0M83.1 165.8h0M88 156.6h0M76.3 171.2h0M57.2 175.3h0M72 164h0M62.3 184.3h0M52 180.9h0M79 161h0M62.8 151.3h0M67 174.5h0M72.3 148.5h0M74 179.3h0M87.9 161.5h0M74.7 151.8h0M76.5 166.8h0M64.3 156.3h0M53.7 179.4h0M69.1 182.3h0M67 190.4h0M88.8 162.9h0M87 157.9h0M86.8 156.2h0M57.9 164.5h0M71.6 185.3h0M65.5 173.2h0M80 173.9h0M61.5 159.8h0M81.2 158.7h0M60.2 181.2h0M53.8 179h0M65.2 174.4h0M61.2 176.6h0M86.7 168.4h0M72.4 170.7h0M80.3 164.3h0M68 172.4h0M81.4 171.8h0M64.8 150.1h0M90.8 160.3h0M73.9 170.7h0M62.8 185.6h0M47.2 184.1h0M72 185.9h0M67.9 177h0M57.3 184.3h0M84.5 178.1h0M73.4 157.2h0M69.8 166.1h0M89.4 165.8h0M65.8 174.2h0M88.6 162.8h0M89.6 163.9h0M61.3 164.2h0M57.8 166.5h0M53.7 182.9h0M72.4 183.7h0M83.1 175.2h0M84.2 178.6h0M82.7 172.1h0M55 188.1h0M78.5 186.9h0M79.6 155.9h0M54.3 184.2h0M58.7 190.3h0M81.7 154.4h0M85.6 150.1h0M83.5 151.4h0M84.6 150.2h0M83.2 165h0M84 185h0M70.9 187.1h0M89.8 155.9h0M72.2 165.9h0M74.9 163.2h0M68 157.8h0M83.8 169.3h0M60.8 177.9h0M66.4 184.7h0M72.3 160.1h0M54.8 179.8h0M68.8 183h0M79.1 180.8h0M53.2 176.4h0M78.9 176.2h0M64.8 179.4h0M72.3 187.2h0M70.4 164.9h0M58.2 168.1h0M60 170.5h0M77.4 170.3h0M90.1 166.1h0M63.2 157.1h0M74.4 149.3h0M67.8 178.2h0M80 163.3h0M72.4 162.8h0M72.2 167.4h0M65 153.5h0M77.7 159.1h0M79.8 164.6h0M56.8 168.8h0M73.5 187.5h0M86.2 160.1h0M82.2 157.5h0M76.5 175.3h0M71.9 179.2h0M72.1 158.4h0M69.6 188.4h0M62.2 158.8h0M71.1 150.1h0M71 153.6h0M77.8 187.4h0M54.9 179.3h0M62 185.9h0M55 172.9h0M82.6 158.1h0M87.6 164.1h0M64.1 159h0M47.1 183.9h0M77.7 149.7h0M46.8 182h0M64.7 150.2h0M80.4 178.9h0M66.4 175.2h0M56.2 177.9h0M66.6 158.5h0M74.8 163.2h0M79.9 162.6h0M60.9 168.8h0M77.8 166.4h0" stroke="#18A8F0" stroke-width="2" stroke-linecap="round" fill="none"/>
<path d="M61.1 158.7h0M69.5 173.3h0M58.3 189.8h0M68 186.4h0M76.3 148.3h0M75 183.2h0M73.1 174.4h0M73 181.4h0M71.5 158.2h0M72.5 157.7h0M70.2 155.8h0M78 166.3h0M63.1 185.6h0M73.9 158.1h0M47.9 177.8h0M88.6 157.9h0M77.8 148.3h0M85.3 159h0M69.7 176.2h0M51.4 176.4h0M68.5 168.7h0M68.8 154.3h0M66.7 165.8h0M61.9 189.2h0M84.2 167.7h0M86.9 154.4h0M80 162.4h0M68.4 157h0M75.1 145h0M57.1 169.3h0M78 187.7h0M57.2 170.2h0M70 172.2h0M76 171.9h0M90.8 163h0M75.2 189.2h0M63.7 169.7h0M83.9 153h0M52.4 183.3h0M48.4 185.6h0M73.9 157.2h0M85.5 151.2h0M65.7 166.2h0M73.2 158.8h0M70.2 190.3h0M81.7 163.5h0M89.4 160.7h0M62.9 170.1h0M90.7 161.4h0M62.8 184h0M57.1 174.1h0M62.4 186.7h0M84.6 148.7h0M70.1 171.9h0M69.2 188.6h0M84.6 151.8h0M57.8 188.4h0M83.3 162.4h0M70.7 188h0M85 177.8h0M83.7 186.8h0M87.2 163.6h0M64.7 157.9h0M77.5 178.4h0M69 153.6h0M73.2 160.7h0M78.7 156.1h0M76.9 170.9h0M76.2 147.2h0M80.5 185h0" stroke="#fff" stroke-width="1.6" stroke-linecap="round" fill="none"/>
<path d="M64.9 155.2h0M87.1 162.1h0M62 159h0M68.9 149.3h0M69.9 150.4h0M88.3 168.8h0M77.4 161.5h0M87.1 151h0M72.1 168.5h0M78.6 149.7h0M74.5 160h0M55.1 174.9h0M71.1 178.3h0M65.9 169.4h0M75.5 185.2h0M82.9 184.2h0M74.3 162.9h0M70.2 177.1h0M76.3 160.9h0M56.5 178.2h0M66.4 189h0M78.5 159.5h0" stroke="#fff" stroke-width="2.4" stroke-linecap="round" fill="none"/>
<path d="M47.4 190.9h0M45.3 191.5h0M46 192.1h0M46.6 189.7h0M48.3 190.1h0M47.5 190.1h0M46 191.9h0M48.6 190.1h0M48.6 191.5h0M47.7 190.7h0M45 190.3h0M46.1 190.9h0M44.7 191.6h0M45.1 191h0M45.8 190.8h0" stroke="#18A8F0" stroke-width="1.6" stroke-linecap="round" fill="none"/>
<path d="M39.5 170.6h0M40.3 163h0M27.5 166.9h0M41.8 160h0M42.3 157.9h0M29.5 166.3h0M22 167.2h0M48.7 156.7h0M43.4 157.7h0M47.3 157h0M25.2 169.9h0M28.6 166.5h0M42.1 161.1h0M44.6 157.6h0M39 160.7h0M26.9 169.5h0M23.5 167.6h0M40.2 161h0M41 162.4h0M44.4 158.5h0M35.5 170.5h0M27.1 169.1h0M24.9 167.4h0M27.2 169.5h0M33.8 164.1h0M47.3 157.7h0M28.1 168.9h0M29.9 169.1h0M41.6 172.1h0M34.1 171.8h0M38.9 172.4h0M28.6 167.6h0M46.4 158.6h0M24.5 167.6h0M36.5 170.1h0M33.1 169.8h0M41.4 157.9h0M36.2 161.6h0M37.3 163.8h0M26.1 169.9h0M26.7 167.1h0M30.3 169.7h0M27.5 168.3h0M49.3 157h0M23.4 169.8h0M32.3 169.6h0M25.9 167.4h0M30.9 168.7h0M44.1 159.6h0M41.7 158h0M39.2 162h0M30.3 169.1h0M35.1 169.9h0M28.5 168.7h0M41.3 160h0M46.8 155.5h0M41 170.7h0M23.6 169.4h0M41.6 161.6h0M43.6 157.3h0M39.2 160.8h0M45.1 158.4h0M25.6 165.7h0M42.6 158.7h0M44 161.1h0M39 165.4h0M49.6 156.7h0M28.8 167.8h0M47 159.1h0M36.4 164.2h0M48 158.3h0M26.3 167.8h0M31.8 167.2h0M37.2 172.4h0M30.1 167.9h0M25.8 167.2h0M38.2 165.2h0M49.1 157.6h0M29.6 168.2h0M45 159.8h0M27.7 170.5h0M32.8 167.2h0M33.9 171.2h0M40.3 172.6h0M30.6 168h0M48.6 157.8h0M44.9 155.7h0M29.8 169.2h0M43.5 157.3h0M34.9 167.9h0M40.7 170.9h0M38.2 170.6h0M42.9 160.3h0M34.7 166.8h0M40.8 160.5h0M42.8 159.1h0M39.3 165h0M30.2 166.5h0M26.8 169.7h0M35.2 164.9h0M27.4 167.1h0M38.7 169.8h0M32.1 165.6h0M26.5 169.8h0M23.6 168.7h0M36.5 171.8h0M36.7 161.3h0M47.6 154.8h0M36.4 171.1h0M37.1 171.9h0M36.7 171h0M30.5 169h0M40.4 172.3h0M38.3 165.5h0M23.3 169.3h0M29.7 170.1h0M44.5 156.9h0M30.1 168.5h0M32.5 166.1h0M48.2 155.8h0M39.2 160.3h0M41 159.9h0M38 162.7h0M41.3 171.8h0M32.9 168.8h0M36 166.1h0M30.2 166.6h0M36.7 162.7h0M26.2 169.1h0M28.7 168.9h0M43.7 160.4h0M43.5 157.8h0M37.2 161.7h0M34.7 163.4h0M34.6 165h0M31.6 168h0M30.5 169.7h0M39.6 160.4h0M35.8 169h0M39 170.6h0M32.3 167.4h0M42.7 157.1h0M34.5 162.8h0M48 153.8h0M30 168.8h0" stroke="#18A8F0" stroke-width="1.8" stroke-linecap="round" fill="none"/>
<path d="M101.3 126.3h0M101.3 124.9h0M104.2 125.9h0M101.4 128.1h0M102.2 126.4h0M101.1 126.3h0M102.4 125.8h0M100.3 129.3h0M100.5 129.7h0M101 126.7h0M100.5 125.5h0M102.3 128.6h0M100.1 127.4h0M100.8 127h0M102.8 125.8h0M102.2 128.8h0M102.6 127.2h0M103.2 124.8h0M99.2 126.6h0M103 127.4h0M100.5 127h0M103.3 127.1h0M100.3 126.9h0M103.4 126.3h0M102.8 127.4h0M104.6 126.7h0" stroke="#18A8F0" stroke-width="1.6" stroke-linecap="round" fill="none"/>
<path d="M112.8 144.9h0M114.9 134h0M113.5 136.6h0M124.2 140.6h0M101.9 147.1h0M118.5 143.8h0M116 136.4h0M122.3 145.2h0M105.9 144.8h0M121 140.7h0M120.3 141h0M121.8 140.7h0M109.6 141.8h0M115.4 139.1h0M97.3 151.7h0M121.3 141.4h0M99.8 154.9h0M104.8 139.9h0M124.7 144.6h0M125.5 140.2h0M118.8 142.3h0M116.4 134.2h0M112.9 140h0M109.4 137.6h0M98.8 152.4h0M114.6 137.3h0M107.8 137.8h0M112.7 135.8h0M111.3 143.9h0M115.1 143.9h0M123.1 143.1h0M117 141.7h0M111.3 146.4h0M120.6 145.6h0M118.9 136.1h0M109.2 145.4h0M106.7 147.6h0M106.2 140.6h0M105.9 152.5h0M107.5 144.9h0M119.7 141.8h0M123 138.3h0M112.5 140.9h0M110.6 145.3h0M101.3 147.1h0M99 147.1h0M103.9 151.6h0M101.7 154.9h0M120.7 135.1h0M107.3 140h0M108.5 150.2h0M116.7 140.7h0M109.4 144.8h0M102.7 154.6h0M110.4 144.8h0M117.2 133.5h0M112.5 146.7h0M113.1 136.5h0M111.4 134.7h0M114.7 135.4h0M103 143.6h0M117.5 142.9h0M98.9 150.9h0M102.3 148.5h0M124 143.4h0M100.1 146.8h0M108.5 150.4h0M101.2 147.8h0M111.9 134.9h0M103.1 156.3h0M116.4 140h0M121.4 138.3h0M107.9 144.4h0M117.5 136.9h0M116.2 139.7h0M102.5 147.4h0M101.5 142.8h0M123.5 144.3h0M104.3 153.9h0M107.5 142.6h0M110.9 143.6h0M106 151.1h0M100.8 150.9h0M118.2 136.8h0M123.3 143.5h0M110 144.1h0M122.1 141.3h0M106.2 138.6h0M102.9 144.2h0M119.3 136h0M124.8 139.2h0M119 144.4h0M110.4 148.2h0M116.2 137h0M100.5 156.9h0M121.5 136h0M99.4 154.3h0M114.1 136h0M105.9 146.1h0M106.2 139.4h0M103 156.2h0M109 146.4h0M120.1 143h0M99.4 152.3h0M119.2 133h0M103.9 146.3h0M104.9 142.8h0M110.6 143.3h0M110.8 136h0M101.9 149.4h0M108.5 148.9h0M112.4 144.1h0M104.2 148.2h0M105.3 145.9h0M105.9 146.9h0M100.5 150.6h0M113.9 139.1h0M105.1 145.5h0M106 141.2h0M109.1 143h0M116.9 143.4h0M105.1 141.5h0M111.7 146.5h0M118.9 139.4h0M111.2 137.2h0M99.6 147.5h0M122.7 143.7h0M116.5 141.7h0M107.8 141.9h0M101.9 147h0M107.5 145.6h0M123.7 140h0M104 147.6h0M114.4 143.4h0M124 140.5h0M100.7 151.1h0M122.4 137.1h0M107.3 149.5h0M103.5 156.4h0M116.8 138.1h0M104.1 149.3h0M114.8 137.8h0M103.3 143.7h0M110.8 137.5h0M108.5 141.3h0M110.6 138.3h0M101.7 152.3h0M114.9 137.3h0M106 147.5h0M99.9 155.7h0M112.7 141.4h0M123.6 140.7h0M116.6 138.3h0M106.8 143h0M113.9 134.7h0M109.4 146.2h0M114 134.9h0M122.7 140.9h0M115.9 133.2h0M123.2 141.3h0M115.8 140.8h0M102.1 151.9h0M118.4 134.9h0M118.2 137.1h0M102.7 152.7h0M101.5 144.1h0M107.4 144.2h0M109.2 138h0M113.8 142.7h0M117 136h0M123.2 138.6h0M120.2 142h0M110.4 145.8h0M116.9 138.6h0M100 149.7h0M120.7 136.4h0M112.5 142.3h0M103.7 149h0M106.9 138.6h0M106 143.7h0M101.6 151.3h0M109.5 149.4h0M109.2 140h0M101.7 146h0M102.2 156.8h0M101.2 143.8h0M106.2 143.7h0M115.5 136.6h0M113.5 144.1h0M110.4 144.1h0M120.1 140.6h0M101.4 146.9h0M101.5 150.5h0M113.6 134.3h0M108.4 149.1h0M108.9 146.5h0M101.9 145.5h0M112.7 140h0M118.7 137.3h0M119.6 139.8h0M121 140.6h0M109.2 138.2h0M105.5 141h0M99.6 149.9h0M118.6 145.5h0M122.4 139.3h0M109.6 142.7h0M111.6 145.7h0M109 147.9h0M112.3 143.3h0M106 151.6h0M107.5 146.8h0M121.2 141.4h0M116 140.4h0M106.7 143.2h0" stroke="#28B463" stroke-width="1.9" stroke-linecap="round" fill="none"/>
<path d="M51.3 190h0M52.1 189.3h0" stroke="#28B463" stroke-width="1.4" stroke-linecap="round" fill="none"/>
<path d="M76.7 129h0M86.8 199.1h0" stroke="#18A8F0" stroke-width="1.6" stroke-linecap="round" fill="none"/>
<path d="M237 9.6L228 10.3Q223.6 10.8 223.6 14L223.6 190.5Q223.6 193.6 219 193.8L210 194L219 194.2Q223.6 194.4 223.6 197.5L223.6 373.5Q223.6 377 228 377.4L237 378.2" stroke="#000" stroke-width="1.35" fill="none" stroke-linejoin="round"/>
<rect x="242.6" y="10" width="107.4" height="366.2" fill="#fff" stroke="#555" stroke-width="0.8"/>
<path d="M242.6 132H350M242.6 254.2H350" stroke="#555" stroke-width="0.8"/>
<path d="M280.2 23.5h0M281 43.4h0M278.4 40.1h0M264.7 39.5h0M267.3 34.5h0M284.5 31.9h0M286.2 44h0M280 29.1h0M285.6 39.6h0M285.5 54.8h0M266.9 43.5h0M278.9 36.2h0M279.4 31.7h0M288.2 52.7h0M282.7 44h0M284.8 24.7h0M276.8 27.8h0M284.3 32.8h0M277.4 30.8h0M275.4 28.8h0M271.6 33.7h0M276 37.9h0M273 38.7h0M287.6 38.4h0M282.1 44.7h0M261.2 39.4h0M263 35.6h0M281.7 30.5h0M275.5 39.6h0M282.3 31.5h0M273 32.8h0M285.9 34.5h0M285.6 46.6h0M284.4 32.9h0M283.9 47.6h0M285.8 43.3h0M280.8 23.6h0M288.1 54.2h0M273.1 45.9h0M265 39.7h0M276.3 40.2h0M270.9 40.7h0M277.9 37h0M281.4 23.6h0M280.7 56.3h0M274.7 36.7h0M271.4 34.5h0M283.6 27.7h0M285.6 43.9h0M281.4 44.6h0M264.8 42.3h0M273.9 37.5h0M279 42.1h0M261.9 36.6h0M274.4 37.1h0M289.3 47.2h0M286.7 30.2h0M263 37.1h0M284.7 45.4h0M283.9 31.4h0M283.3 31.9h0M278.1 31.9h0M273.2 38.2h0M281.9 24.1h0M262.4 40.9h0M267 39.3h0M287.1 42.2h0M274.3 34.4h0M283 54.8h0M280.7 26.5h0M277.8 39.2h0M276.7 52.3h0M290 53.1h0M286.6 25h0M285.1 28.7h0M275.5 56.4h0M265.6 42.4h0M273.6 50.7h0M282.4 36h0M280.2 36.5h0M273 29.3h0M289.7 35.2h0M286.1 25.8h0M283.9 32.7h0M263.7 42.7h0M279.6 28.2h0M288.2 54.4h0M280.4 35h0M269.2 33.9h0M272.8 51.3h0M281.5 24.1h0M286.4 42.5h0M278.8 39.5h0M279.6 58.9h0M279.7 35.1h0M268.3 42.1h0M266.7 42.4h0M264.4 38.2h0M267.7 39.3h0M281.7 23.4h0M264.5 37.9h0M286.4 29.8h0M281.6 43.2h0M277.6 40.8h0M276.6 52h0M288.6 37.2h0M286.3 21.6h0M283.7 24.9h0M284.5 27.7h0M270.6 34.4h0M282.4 34.1h0M276.2 47.3h0M283.3 26.1h0M273.7 49.3h0M283.4 29.9h0M289.3 49h0M282.4 43.3h0M283.7 43h0M286.7 36.4h0M285.9 54.3h0M279.7 55.1h0M288.6 51.6h0M289.4 45.6h0M287.3 36.5h0M273.9 52.5h0M288.3 28.6h0M263.7 39.9h0M284.8 41.2h0M279.2 34.7h0M286.1 32.8h0M267.1 40.5h0M270.2 32.3h0M278.5 43.5h0M286.5 36.4h0M267.4 43.6h0M271.4 39.9h0M284.8 49.1h0M276.9 31.2h0M282.4 49.3h0M281.6 25.1h0M283.8 24.3h0M284.8 54.5h0M281.5 36.2h0M285.5 26.8h0M280.6 36.6h0M282.1 32.9h0M286.3 44h0M282 39.9h0M279.1 33.4h0M278.9 44.3h0M278.3 31.4h0M283.4 38.6h0M281.4 42.9h0M277.9 33h0M276.6 28.5h0M281.1 36.2h0M269.4 42.5h0M275.2 47.3h0M283.3 45h0M279.7 29.2h0M285.9 53.3h0M278.8 41.5h0M289.9 47h0M286.2 33.7h0M277.7 39.4h0M280.9 49.6h0M283.2 42.3h0M275.3 53.2h0M276.1 36.2h0M286.8 32h0M280.3 23.8h0M268.7 36.6h0M275.1 35.9h0M275.4 46.4h0M287 31.5h0M276.1 53.1h0M272.6 37.4h0M266.4 42.4h0M286.6 44.5h0M269.7 34h0M284.8 35h0M278.7 52.5h0M285.2 56.8h0M283.4 42.1h0M279.6 40.2h0M267.1 41h0M283.7 31.6h0M273.3 38h0M280.1 54.4h0M287.6 58h0M282.5 49.3h0M275.3 53.9h0M280.8 46.1h0M279.1 25.1h0M273.1 49.8h0M284.6 34.3h0M285.7 30.3h0M279.4 24.8h0M266.6 34.3h0M289.8 48.3h0M282.1 52.9h0M284.1 48.1h0M274.6 31.8h0M282.2 31.9h0M276.9 29.1h0M284.4 56.4h0M276.5 50.5h0M265.9 36.7h0M285.3 38.4h0M277.2 57.4h0M273.5 52.7h0M288.6 38.8h0M286.2 26.8h0M288 50.1h0M265.2 38.9h0M276.6 42.2h0M283.6 40.7h0M289.7 46.3h0M285.2 23h0M280.8 42.2h0M291.1 51.1h0M275.9 50.7h0M284.3 48.3h0M281.6 49.8h0M275.7 32.7h0M288.3 54h0M289.7 34h0M283.1 50.1h0M281.4 50h0M284.2 44.3h0M268.7 41.4h0M283.1 43.5h0M272.3 35.4h0M277.3 47.4h0M288.2 26.3h0M266.2 40.1h0M286.9 42.1h0M283.3 42.6h0M267.9 41.8h0M288.8 38.2h0M282.1 55.2h0M281.8 38.5h0M281.5 50.2h0M281.2 25.7h0M288.7 51h0M288.6 45h0M282.7 30.8h0M280.6 56.1h0M259.2 40.7h0M263.8 39.9h0M286.6 48.2h0M264.4 43.6h0M266.2 40.6h0M282.6 25.8h0M287.9 23.3h0M266.9 40.1h0M288.1 31.6h0M274.6 35.9h0M276.3 51.1h0M266 39h0M272.7 33.3h0M280.8 45.2h0M261.5 36.8h0M273.3 46.5h0M267.6 36.6h0M278.1 46.7h0M285.2 47.3h0M285.1 53.8h0M287.4 34.4h0M277.1 43.3h0M273.8 30.6h0M286.2 54.8h0M281.2 49.6h0M285 24.6h0M286.9 38.8h0M278.3 56.3h0M288 55.1h0M287.1 31.4h0M281.1 32.8h0M278.2 49.2h0M278.1 47.3h0M286.6 27.2h0M264.4 37.1h0M266.6 37.4h0M286.7 32.2h0M281.2 57.4h0M267.2 37.1h0M289 52.4h0M279.5 42.4h0M271.8 31.1h0M277.3 48.5h0M285 23.7h0M262.6 37.9h0M276.7 26h0M281.6 55.1h0M282.9 55.7h0M281.6 42.9h0M277.6 41.8h0M282 41h0M286.4 32.7h0M282.2 28.1h0M269.6 36.3h0M267.7 39.2h0M274.5 28h0M275.4 32.2h0M287.9 32.2h0M287.5 38.7h0M261.1 38.1h0M289.5 54h0M274.9 34.1h0M264 40.6h0M271.5 33.8h0M279.4 52.3h0M283.9 57.1h0M290.1 34.9h0M275.9 37.8h0M266.1 38.5h0M276.9 29.9h0M276.9 45.7h0M280.1 39.7h0M264.3 41.6h0M263.4 44h0M280.8 34h0M264.7 37.3h0M264.2 42h0M275 31h0M263.4 35.7h0M287.5 33.4h0M265.4 34.3h0M262.4 38.4h0M262.7 38.4h0M285.5 49.2h0M263.7 35.2h0M288.3 27.3h0M287.2 30.2h0M276.9 53.5h0M280.9 34.3h0M277.3 33.8h0M288 30.4h0M267.7 39.2h0M281.9 50.6h0M285.1 27.1h0M265.7 37.7h0M286.6 50.7h0M281.8 45h0M288.9 42.7h0M280.4 54.5h0M274.7 40.1h0M273.8 35.1h0M274.4 30.1h0M280.9 33.6h0M276.7 50.3h0M287.7 45.6h0M269.8 40h0M279.1 36.4h0M276.6 42.6h0M279.8 54h0M291.2 49h0M274.1 46.4h0M260.7 37.2h0M284 45.4h0M272.6 34.6h0M281 55.1h0M260.1 41.3h0M286.3 31.5h0M279.4 30.9h0M281.3 45.1h0M283.1 25.1h0M263.3 36.6h0M267.7 38.7h0M276.7 26.4h0M278.4 53.2h0M288 43.8h0M285.9 44.9h0M287.1 49.4h0M266.6 36.1h0M282 31.2h0M283.9 36.2h0M284.2 45.7h0M285.1 31.6h0M279.9 30h0M276.5 38.4h0M285.5 23.5h0M279.4 23.8h0M288.4 34.5h0M284.7 55.7h0M290.1 54.5h0M282.3 30.6h0M285.5 30.7h0M277.1 34.4h0M275.1 26.4h0M275.5 32.5h0M289.4 55.8h0M267.6 35.9h0M288.8 53.3h0M286.5 33.3h0M282.9 24.5h0M290.5 49.1h0M285.7 59h0M269.1 39.8h0M286.9 32.9h0M282.9 59h0M265 42.4h0M270.7 38.6h0M285.5 34.5h0M261.7 36.8h0M282.5 38.1h0M287.3 34.5h0M278.3 57.9h0M284.4 42h0M264.2 38.9h0M267.3 43.4h0M284.4 30.1h0M278 28h0M282.4 33h0M279.7 33.8h0M284.9 50.5h0M274.5 40h0M270.1 36.1h0M275.5 55.3h0M265.1 39h0M270.8 33.4h0M275.2 55.5h0M260.8 41.3h0M280.3 58.9h0M283.6 37.8h0M284.2 32.8h0M288.9 52.9h0M282.3 43.4h0M284.6 58.4h0M281.1 49.5h0M283.5 40.2h0M266.1 34.5h0M285 38.4h0M275.1 30.2h0M282.1 22.6h0M282.2 51.3h0M290.4 33.7h0M280.3 33.4h0M280.8 40.9h0M263.6 44h0M285 35h0M286.1 27.6h0M287.7 42.5h0M284.5 50.8h0M275.7 44.3h0M262.1 40h0M271.2 41.5h0M281 53.4h0M274.6 54.6h0M271.1 38.5h0M276.3 49.2h0M290.5 54h0M286.8 52.7h0M270.8 34h0M278.8 36.2h0M279.2 46.1h0M261.1 37.9h0M290.8 35h0M274.1 29.9h0M282.2 32.6h0M280.6 25.9h0M277.7 24.9h0M270.5 32.2h0M271.5 38.6h0M285.3 38.6h0M281.3 48.5h0M276.1 30.1h0M282.2 40.9h0M281.9 46.7h0M282.3 51.9h0M260.9 41.1h0M287.8 23.6h0M260.3 41.6h0M283.6 39.5h0M285.4 31.3h0M275.9 28.8h0M278.2 44.1h0M281.1 43.8h0M282.7 35.2h0M279.6 41.9h0M282.8 46.6h0M289.7 50.4h0M281.9 30h0M280 23h0M280.1 25.8h0M286.4 54.2h0M266.2 43.2h0M280.9 31.3h0M279.6 25.9h0M277.5 48.3h0M278.5 33.5h0M277.6 58h0M281.4 55.5h0M284.8 44.3h0M281.6 30.6h0M272.2 35.8h0M280 49h0M279.3 25.7h0M279.1 40.5h0M284.3 53.6h0M288 24.2h0M289.2 49.5h0M285.6 22.9h0M279.9 52.1h0M287.5 48.3h0M285.2 25.7h0M285.1 28.4h0M264.1 35.3h0M273.6 34.9h0M289.8 35.8h0M276.6 47h0M273.6 44.1h0M283.6 26.3h0M279 48.4h0M279.6 39.2h0M279.7 37.6h0M285 58.2h0M273 40.8h0M280.1 50.6h0M284.2 57.4h0M279.8 50.5h0M261.9 43.3h0M285.1 55h0M280.6 22.9h0M276 37.8h0M282.3 35h0M282.7 28.6h0M287.7 52.4h0M285.7 37.5h0M285.5 48.7h0M259.3 40h0M278.2 49h0M280.9 49.7h0M282.4 43.4h0M275 53.1h0M285 47.6h0M274.2 48.2h0M261.7 36.7h0M278.9 55.6h0M281.5 39.1h0M280.6 49.1h0M274.8 29.1h0M274.1 38.3h0M284 42h0M280.1 43.4h0M264.4 35h0M260.5 40.3h0M275.5 43.9h0M277.2 53.7h0M278.6 24.4h0M261.6 38.9h0M285 44.7h0M259.3 37.5h0M286.3 50.7h0M268.4 35.8h0M276 29.5h0M280.2 41.5h0M274.4 46.1h0M283.5 33.4h0M283.6 30.5h0M271.2 32h0M277.5 47.5h0M284.1 58.9h0M289.3 55.6h0M285.7 31.6h0M280.9 36h0M288.1 53.5h0M282.5 51.4h0M278.8 24.9h0M285.3 28.2h0M268.7 40.3h0M277.9 53.4h0M261.1 38.9h0M267.1 35.9h0M261.3 42.6h0M283.7 31.6h0M281.3 41.8h0M285.4 46.7h0M276.9 48.4h0M258.6 38.7h0M276 56.9h0M286.7 34.5h0M279.3 30.7h0M283.6 52.8h0M266.9 43h0M281.5 55.8h0M281.5 29.1h0M276.3 51.5h0M262.8 39.3h0M267.9 34.3h0M261.6 43h0M282.6 42.6h0M281.8 26.5h0M288.9 33.5h0M282.3 24.7h0M274.6 53.7h0M282.6 44.5h0M273 31h0M285.8 48.4h0M288.9 47.6h0M268.5 39.8h0M285.8 23.2h0M276.4 31.2h0M280.2 45.3h0M285.5 25h0M283.9 37.1h0M286.6 35.4h0M261.1 39.4h0M275.2 45.7h0M275.9 54.9h0M284.2 25.8h0M283.6 31.7h0M278.5 40.8h0M275 34.9h0M273.3 53.1h0M279 25.9h0M287.4 26.7h0M286.6 28.1h0M287.4 34.7h0M281.4 58.3h0M270.4 35.1h0M259.2 38.4h0M280.1 56.5h0M288.9 53.5h0M280.1 58.1h0M274.8 53.6h0M265.6 38.8h0M279 30.9h0M268.5 42.6h0M260.4 41.5h0M265.1 38.9h0M282.5 36.5h0M286.8 54.7h0M288.3 42.7h0M290.4 34.8h0M278.7 35.7h0M275.6 41.8h0M289.2 54.2h0M272.3 41.1h0M282.7 52.5h0M278.8 38.4h0M272.4 32h0M287.7 51.1h0M280.1 28.6h0M269.8 40.7h0M264.9 43.7h0M283.5 23.2h0M284.5 45.4h0M272.3 32h0M277.7 35h0M283.9 44.5h0M277.5 37.9h0M260.5 40.7h0M266.6 39.6h0M287.3 51.9h0M277.6 40.2h0M274.4 44.3h0M288.9 26.3h0M270.4 39.7h0M274.5 54.7h0M259.5 38.2h0M285.2 43.8h0M278.3 44.2h0M275.1 30.5h0M274.8 49h0M287.4 47.6h0M284.6 38.6h0M277.2 35.2h0M283.1 57.4h0M282.5 38.3h0M287.8 30.7h0M276.4 36.4h0M283.4 30h0M276.3 48.8h0M262.6 42.4h0M287.8 36.2h0M265.7 42.3h0M285.9 24.5h0M287.6 56h0M264.4 42.3h0M276.3 55.9h0M280.9 44.7h0M269.9 38.4h0M284.8 35.9h0M286.8 54.3h0M274.1 45.4h0M284.6 42.3h0M276.5 50.1h0M276.1 28.5h0M282.8 31.6h0M284 27.3h0M269.7 40.1h0M275.7 25.5h0M286 46h0M286.1 37.5h0M284.3 28.4h0M260.6 42h0M287 24.8h0M286 28.4h0M277.8 47.5h0M282.1 50.7h0M279.8 55h0M288.1 44.5h0M286.7 25h0M279.2 39h0M286.9 30.4h0M260.3 42.2h0M260.6 37.2h0M276 33.2h0M265.3 34.2h0M287.3 41.9h0M274.3 52.1h0M287.1 37.8h0M285.3 37.4h0M274.4 48.1h0M289.2 36.1h0M275.6 46h0M281.6 35.9h0M290.8 48.6h0M262.6 40.4h0M279.7 25.5h0M265.2 36.1h0M274.7 41.2h0M275.8 43.3h0M288.2 24.2h0M274.4 33.4h0M286.9 24.6h0M276.2 41.5h0M288.9 27.9h0M276.8 30.4h0M276.9 37.7h0M285 57.1h0M269.3 36.1h0M279.4 49.3h0M284.7 57h0M281.5 51.3h0M280.2 24.7h0M278.2 33.2h0M285.5 34.5h0M289.1 34.1h0M280.3 46.9h0M287.1 57.4h0M283.5 46.4h0M287 56.8h0M275.3 41.8h0M283.1 42.1h0M286.9 32.2h0M291 48.9h0M284 54.7h0M286.3 27.4h0M288.4 27.9h0M280.9 57.5h0M286.9 38.3h0M261.8 41.2h0M272.5 32.5h0M275.9 31.1h0M271.6 32h0M288.1 53h0M276.4 30.2h0M283.3 31.4h0M288.8 37.5h0M280.8 38.4h0M263 40.7h0M264.9 44.1h0M275.1 54.7h0M287.9 35.1h0M263.2 36h0M271 34.7h0M280.1 46.6h0M272.8 40.1h0M282.9 43.4h0M276.9 31.8h0M286.6 25.4h0M289.8 45.1h0M269 38h0M280.8 56.5h0M284.6 39.8h0M283.3 53.4h0M287.3 35.3h0M282.3 37.3h0" stroke="#F58B52" stroke-width="1.8" stroke-linecap="round" fill="none"/>
<path d="M253.3 76.6h0M272.9 67.1h0M286.6 70.1h0M254.4 65.6h0M266.2 71.9h0M258.4 63.6h0M248.4 71.8h0M268 66.2h0M252.4 81.8h0M269.1 68h0M290.9 68.9h0M278.8 68.1h0M267.1 72.8h0M254.2 64.3h0M258.9 65.1h0M278.6 73.9h0M250.6 65.1h0M254.4 76.5h0M254.7 74.1h0M263 62h0M249.7 67.7h0M256.6 65.4h0M252 70.7h0M249.3 69.1h0M286.6 68.9h0M254.4 76.9h0M249.3 71.9h0M271.9 70.4h0M275.7 68.6h0M253.1 78.6h0M284 71.2h0M261.7 67.5h0M258.6 63.4h0M254.6 69.4h0M273.4 72.7h0M268.7 70.1h0M269.8 70.7h0M252.6 68.8h0M251.9 81h0M249.7 75.8h0M256.8 61.4h0M267.3 66.5h0M277.2 66.5h0M254.1 77.3h0M262.4 66.1h0M256.2 64.3h0M255.7 68.1h0M267.8 73h0M277.9 71.6h0M251.7 81.2h0M266.2 71h0M253.1 75.3h0M277.9 71.6h0M247.5 76h0M288.8 65.6h0M271.8 75.5h0M254.5 78.5h0M253.4 62.8h0M275 74.9h0M265.9 70.5h0M254.1 70h0M290.4 66.7h0M251.9 67.1h0M251.4 75.8h0M270.5 65.3h0M259.4 66.1h0M290.1 71.1h0M259 63.7h0M279.2 65.6h0M274.6 70.8h0M255.5 61.6h0M274.6 70.8h0M248.4 74.1h0M281 72.4h0M289.9 68.5h0M254.4 83.7h0M254.6 69.1h0M284.1 69.4h0M287.6 69.2h0M252.3 82.1h0M256.8 62.5h0M257.5 68.7h0M289.1 69.8h0M268.7 65.6h0M250.2 68.3h0M250.3 71.9h0M261.7 67.4h0M261.3 65.5h0M269.2 65.3h0M281.7 72.6h0M259.2 68.1h0M252 62.8h0M263.3 67.2h0M292.8 67h0M282.2 68.5h0M268.8 73h0M252.5 78.4h0M268.8 72.1h0M275.5 74.9h0M253.9 70h0M257.5 61.2h0M259.8 64.7h0M289.5 68.9h0M259 63.1h0M264.3 66h0M252.5 74.7h0M281.6 67.7h0M264.2 67.3h0M273.6 73.3h0M257.6 63h0M269.5 63.4h0M279.2 72.5h0M254.3 84.7h0M261.7 68.8h0M267.3 63.9h0M289.2 65h0M255.5 77.3h0M268.8 66.1h0M255 73.7h0M254.7 74h0M272.5 67.4h0M279 71.6h0M252.3 78.9h0M252.2 81.4h0M252.7 64.2h0M270.3 66.9h0M272.8 74.7h0M291.9 67.8h0M266.9 65.8h0M273.9 70h0M261.7 67.4h0M252.5 78.6h0M256.1 63h0M279 68.9h0M262.2 64.8h0M256.6 68.8h0M257.2 69.3h0M255.6 64.5h0M247.7 73.1h0M294.1 67.8h0M274.7 67.2h0M278.5 70.4h0M261.3 61h0M269.7 65.5h0M254.7 82.1h0M249.5 77.8h0M252 67.4h0M253.9 69.9h0M259 67.9h0M252.5 71.4h0M273 66h0M250.2 68.4h0M267.9 68h0M253.1 81.3h0M277.3 68.2h0M264.5 66.1h0M254.1 68.2h0M248.5 79.1h0M264.6 62.7h0M266.1 62.6h0M282 69.9h0M279.1 68.7h0M254.5 71.2h0M256.3 63.4h0M290.9 67.1h0M254.3 66.8h0M279.1 73h0M265.5 66.2h0M270.3 66.2h0M287.2 66.4h0M285.3 66.8h0M254.8 71.2h0M254.7 62.8h0M264.8 69.2h0M261.1 69.3h0M263.3 61.6h0M248.7 68.9h0M250.1 80.3h0M254.2 72.3h0M254.9 77.5h0M257.3 70.2h0M250.8 72.4h0M278.3 69.3h0M247 72.5h0M286.4 69.3h0M255.3 62h0M274.5 73.7h0M269 72.3h0M281.9 69.8h0M271.8 71.5h0M281 68.1h0M255.9 71.2h0M287.8 65.5h0M280 68.4h0M249.3 68.5h0M286.8 69h0M260 63.8h0M278 70.7h0M269.9 70.2h0M248 69.3h0M247.4 72.8h0M263.8 70.1h0M261 61.5h0M259.1 67.9h0M263.6 68h0M251.3 82.2h0M277.8 74.9h0M279.1 72.7h0M254 64.9h0M271.2 69.8h0M249.2 64.8h0M262.5 63.4h0M274.7 72.8h0M252.2 76.7h0M249 75.3h0M267.7 72.2h0M249 64.8h0M257.6 67.3h0M290.6 66.3h0M271.4 73h0M287.6 71.1h0M262.6 70.4h0M267.5 65.3h0M276.6 71.1h0M263.1 67.8h0M262.4 62.9h0M275.3 67.2h0M277.3 65.9h0M270.6 70.1h0M280.6 70h0M274.4 73.4h0M259.6 66.9h0M267.5 68.6h0M287.6 66.8h0M269.2 73.6h0M249.1 75.9h0M265.7 62.2h0M280 69.8h0M283.7 70h0M250.7 80.4h0M291.1 66.2h0M253.5 73.3h0M281.3 69.3h0M260.6 68.8h0M249.9 75.6h0M260.8 68.4h0M261.5 67.6h0M253.3 63.5h0M278.5 74h0M251.1 74.8h0M259 63.3h0M264 67.2h0M250.8 80.6h0M253.1 62.4h0M277.2 70.9h0M253.4 73.4h0M282.2 70.9h0M250.8 77.8h0M256.1 63.5h0M253.7 69.9h0M254.4 73h0M265.9 62h0M251.3 71.9h0M249.9 76.5h0M254.8 66.2h0M254.5 79.4h0M251.2 72.3h0M275.5 68.8h0M251.1 80.5h0M250.5 69.2h0M270.9 74h0M289.7 65.2h0M254.3 69.5h0M269.8 71.9h0M271.7 70.8h0M251.4 72.8h0M286.6 69.3h0M265.8 68.9h0M254.5 77.6h0M249.6 70.1h0M277.3 70.8h0M257 62.5h0M273 75.5h0M260.6 66.8h0M262.3 65.1h0M274 70.6h0M289.9 68h0M273 70.4h0M264 63.7h0M251.7 66h0M275.8 73.8h0M272.4 65.8h0M272.6 73h0M256.7 62h0M258.5 63.7h0M256.6 65.9h0M261.6 67.3h0M255.5 66.4h0M253.9 75.7h0M268.5 62.9h0M251.3 67.3h0M280.4 67.6h0M255 78.6h0M251.5 69.7h0M273.6 75.5h0M252.4 77.2h0M254.5 78.8h0M269.6 70h0M275.1 73.4h0M262.9 62.3h0M285.4 71.5h0M291.7 65.8h0M279 69.8h0M272.3 76h0M272.7 67h0M250.8 78.5h0M283.6 68.2h0M253.2 66.6h0M279.9 65.6h0M275.1 70.8h0M273.8 73.7h0M248.4 71h0M247.6 68.9h0M277.4 70.3h0M253.1 67.4h0M253.7 80.4h0M278 69.2h0M248.9 65.4h0M254.5 83.2h0M274.8 73.7h0M249.4 71.7h0M262.4 64.8h0M254.8 62.5h0M261.2 66.5h0M253 75.8h0M265.1 62.1h0M249.9 73.2h0M253.3 83.6h0M272.9 66.4h0M259.1 64.1h0M267.4 64.2h0M267 71.3h0M277.7 72h0M269.8 69.7h0M280.6 73.3h0M289.4 70.3h0M249.1 67.3h0M279.2 73.1h0M262.7 70h0M281.2 69.6h0M251.2 78.3h0M251 70h0M261.6 61.4h0M255.8 69.6h0M249.5 71.3h0M261.3 68.4h0M261.1 70h0M272.3 66.6h0M282.6 69h0M254.9 69.4h0M292.4 66.3h0M274.4 71.8h0M248.8 71.8h0M274.3 72.2h0M269.4 73.8h0M263.8 69.3h0M278.2 72.5h0M255.3 73.4h0M249.7 66.9h0M247.9 76.7h0M264.5 70.4h0M257.3 66.3h0M268.5 64.4h0M277.7 71h0M276 68.9h0M268.5 72.9h0M248.4 66.4h0M254.6 71.8h0M256.5 63h0M253.7 64.3h0M283.7 71.2h0M254.5 74.2h0M278.1 67h0M253.8 74.1h0M260.1 64.9h0M271.3 63.9h0M268.8 73.5h0M254.1 81.3h0M260.9 66h0M271 67.3h0M249 70.9h0M282.8 68.2h0M269.4 67.1h0M270.7 65.8h0M253.4 82.9h0M249.3 75h0M252.5 78.4h0M253.2 63.3h0M260.9 66.8h0M275.4 69h0M269 69.4h0M270.8 66.8h0M270.1 64.8h0M254.2 76.4h0M266.6 66.8h0M279.9 70.1h0M254.4 77h0M251.3 70.5h0M269.6 66.8h0M253 76.5h0M271.2 64.2h0M271.2 64.7h0M250.4 68.6h0M280.6 69.6h0M254.3 82.1h0M258 61.7h0M269 71h0M267 63.4h0M247.9 75.8h0M277.2 66.3h0M256 67.3h0M265.2 69.9h0M268.6 66.6h0M277 73.9h0M248.1 74.6h0M274.2 71.9h0M266.9 67.1h0M259.9 65.1h0M290.6 65.4h0M290 65.6h0M278.2 67.2h0M249.4 79.7h0M274.4 74.5h0M249.3 73.9h0M253.3 76h0M257.9 65.9h0M254.8 81.8h0M265.3 68.4h0M268.2 64.3h0M259.9 63.4h0M274.6 69.2h0M264.8 62.7h0M263.3 68h0M260 67.7h0M252.6 73h0M249.6 79.2h0M275 72.6h0M290.6 68.4h0M289.7 69.7h0M248.9 65.5h0M287.3 67h0M255.4 66.8h0M282.7 70.2h0M264.6 69.4h0M287.9 66.7h0M276.5 68.6h0M279.2 68.6h0M269.4 65.8h0M266.2 62.9h0M275.5 68.7h0M271.4 71.4h0M253.7 70.7h0M277.9 71.1h0M254.7 77.6h0M255 82.5h0M278.9 67.2h0M280.6 67.8h0M262.1 62.7h0M250.5 66.2h0M247.7 71.5h0M271.4 74.9h0M248.3 75.9h0M248.1 70.1h0M257.9 67.1h0M250.8 69.9h0M250.4 73.2h0M281.1 70.7h0M272.7 67.7h0M292 67h0M273.8 69.8h0M252.9 70.1h0M251.2 81.2h0M262.7 69.2h0M248.2 72.3h0M282.9 67.7h0M249.2 76.5h0M252.5 65.1h0M272.5 72.5h0M274.5 71.2h0M255.5 68.8h0M266.8 64.7h0M248.4 72.2h0M250.5 77.8h0M269.6 67.2h0M268.2 72.3h0M291.8 68h0M270.9 64.1h0M283.5 66.8h0M290.5 69.4h0M273 73.8h0M248.6 68.1h0M264.1 63h0M262.3 67.7h0M253.3 70.9h0M290.8 69.6h0M250.3 66.2h0M267.8 73.1h0M250.9 63.8h0M260.2 67.7h0M272.8 70.2h0M249.9 68.9h0M274.8 70.1h0M259.6 63.4h0M260.2 62.5h0M273.1 69.3h0M283.3 68h0M285.9 64.8h0M251.6 81.8h0M254.3 66.8h0M262.9 68.8h0M264 69.6h0M251.1 64.4h0M289.6 68.7h0M259.4 65.9h0M262.6 64.7h0M249.2 75.3h0M280.8 69.3h0M276.6 67.6h0M247.7 74.9h0M263.9 70.6h0M249.3 71.9h0M270.5 67h0M253.4 62.5h0M288.2 66.6h0M276.5 72.7h0M253.6 83.2h0M246.7 70.9h0" stroke="#F58B52" stroke-width="1.8" stroke-linecap="round" fill="none"/>
<path d="M294.2 77h0M304.7 85.3h0M315.9 87.3h0M301.6 107.6h0M321 87.1h0M301.4 73.8h0M282.2 103.4h0M316.3 83h0M312.7 79.7h0M283.6 89h0M316.3 95h0M322.3 103.4h0M300.1 84h0M313.4 81.8h0M310.1 79.1h0M298 94.3h0M302.1 110.6h0M312.9 90.1h0M294.7 112.7h0M321.2 91.3h0M296.7 108.5h0M302.2 121.5h0M309.8 117.9h0M302.1 88.9h0M292.7 107.9h0M298.7 83.3h0M310.3 104.7h0M299.2 68.3h0M299.5 67.9h0M313.1 100.8h0M302.1 119.9h0M289.5 84h0M306.4 116.8h0M296.4 86.1h0M285.3 97h0M285 80.1h0M289.3 84.5h0M312.6 76h0M303.7 90.4h0M314 92.8h0M305.3 86.8h0M293.1 110.7h0M301.9 73.5h0M286.7 99.5h0M306.7 85.2h0M314.8 104h0M283.6 97.8h0M297.9 99.4h0M318.6 86.7h0M301.4 66.9h0M295.8 119.3h0M320.3 96.8h0M285.2 104h0M291.2 96.4h0M301.4 105.6h0M288.4 102.4h0M316.5 97h0M316.4 111.6h0M282.7 102.6h0M317.4 108.8h0M308.5 81h0M286.9 109.9h0M324.1 101.9h0M289.5 84.6h0M304.6 81.7h0M324.8 101.1h0M299.7 86.4h0M301 101.1h0M311.1 106.7h0M294.8 101.5h0M295.3 119.1h0M299.2 95.2h0M301 84h0M305.2 81.6h0M302.9 117.9h0M305.1 67.3h0M304.7 94.6h0M281.8 84.5h0M290.2 107.6h0M301.4 114h0M288.3 99.6h0M315.3 81.1h0M289 110.7h0M297.8 119.5h0M290 106.7h0M301.6 92.8h0M311.5 114.5h0M318.1 100.4h0M301.4 115.6h0M284.1 93.8h0M302.8 77.5h0M307.4 120.8h0M290 81.3h0M324.3 103.3h0M303 76h0M318.7 94.2h0M315.8 109h0M306.5 113.8h0M321.2 103.1h0M294.7 93.9h0M288.1 104.9h0M311 92.9h0M306.5 76.3h0M286.4 89.9h0M321.8 94.8h0M291 109.6h0M308.1 115h0M322.7 105.7h0M307.9 90.1h0M296.5 91h0M314.4 95.5h0M288.4 84.7h0M303 111.6h0M304.5 64.4h0M303 87.7h0M309.4 86.6h0M321.3 101.5h0M306.4 117.1h0M314.8 102.7h0M310 69.4h0M315.2 71.5h0M312.4 69.1h0M296.7 93.4h0M304.1 122.2h0M297.7 72.9h0M296.4 93.7h0M320 86.7h0M283.2 82.2h0M311.5 95.2h0M292.1 112.8h0M325.5 95.9h0M298 90.2h0M311.6 92.1h0M294.2 104.1h0M322 87.3h0M315.2 102.2h0M291.2 81.7h0M320.6 85.7h0M308.9 70.5h0M312.4 100h0M295.6 73.2h0M320.6 107.3h0M290.5 83.5h0M301.8 97h0M320.1 87.9h0M298.5 97.4h0M291.4 104h0M297.8 83.8h0M314.2 94.9h0M297.6 82.1h0M312.1 78.2h0M301.9 74h0M295.5 92.1h0M316.4 73.5h0M308.8 83.2h0M307.3 116.5h0M309.8 80.7h0M294 116.5h0M285.3 86.6h0M288.7 87.3h0M301.1 74.9h0M295.9 99.3h0M318 82.7h0M314.3 101.2h0M317.7 83.2h0M285.6 97.6h0M311.1 68.3h0M301.9 77.7h0M320.7 96.1h0M285.5 92.4h0M296.1 92.3h0M288.7 89.8h0M319.9 82.5h0M296.6 89.6h0M300.9 93.8h0M294.2 116h0M307.9 117.3h0M307.4 64.6h0M302.7 66.9h0M303.6 76h0M279.8 86.9h0M297.3 75.5h0M311.3 87h0M292 76.3h0M306.2 92.4h0M299.1 71.9h0M316.4 98.8h0M289 104.7h0M321.4 101.1h0M318.8 103.6h0M307 64.4h0M322.6 89.9h0M321.1 88.3h0M286.4 99.6h0M286 90.9h0M284.3 78.6h0M296.2 103.2h0M306.5 108.9h0M296.9 106.7h0M323.2 102.6h0M285.4 98.5h0M312.3 66.1h0M298.2 70.4h0M281.7 99.3h0M284.7 96.4h0M316.4 72.1h0M292.2 98.2h0M307.5 83.1h0M314.8 112.4h0M303.6 121.7h0M286.5 95.2h0M303.9 65.3h0M304.3 108.7h0M300.9 112h0M323.3 94.2h0M316 84.3h0M315 82h0M291.6 77.1h0M321.7 102.7h0M302.1 95.3h0M310.5 78.9h0M301.1 103.6h0M297.7 111.6h0M294.8 92.9h0M305 114h0M315.3 105.2h0M300.6 116.9h0M310.1 65h0M306.2 112.7h0M311.5 64.6h0M296.7 119.9h0M299.3 85.8h0M285.1 99.1h0M322.6 96.7h0M301.7 67.2h0M306 111.3h0M317.5 78.8h0M289.5 102.3h0M308.6 71.9h0M295.2 98.8h0M305 103.6h0M300.8 111h0M297 121.5h0M290.4 88.6h0M288 100h0M315.6 113.1h0M320.6 95.9h0M300.6 78h0M304.5 75.5h0M304.8 86.7h0M307.3 115.5h0M306.8 83.5h0M302.4 105.5h0M307.5 94h0M323.6 90.8h0M302.3 73.9h0M284.3 92.7h0M288.2 84h0M293.2 115.6h0M300.1 82.5h0M305.6 94h0M323.3 97h0M316.3 77.6h0M282.8 85.8h0M296.7 117.2h0M281.5 99h0M286.9 99.7h0M292.3 99.2h0M320.5 85.4h0M294.6 73.7h0M307.7 83.2h0M322.3 89.1h0M282 87.6h0M306.9 78h0M314.2 67.9h0M306.1 83.7h0M292.6 107.5h0M298 81.1h0M280.5 83.6h0M298 97.4h0M321.4 97.1h0M296.6 114.4h0M283.8 81.5h0M308 114.9h0M307 115h0M286.8 104.1h0M285.2 85.7h0M285.8 108.5h0M322.8 88h0M280.4 88.3h0M284.2 104.2h0M291.9 92.9h0M303.6 85.1h0M307.2 113.3h0M310.7 110.8h0M302.9 117.4h0M320.6 93h0M305.2 104.9h0M325.7 98h0M321 102.3h0M286.4 108.8h0M290.1 78.8h0M304.7 91.1h0M292 99.3h0M305.3 100.2h0M315.8 69h0M315.9 89.2h0M324.7 98.1h0M310.1 102h0M298.6 114.9h0M297.1 87.7h0M307.7 115.4h0M295.6 111.1h0M290.9 105.5h0M300.3 90.9h0M297 93.8h0M303.8 109.2h0M316.1 104.5h0M316.3 88.4h0M312.5 66.7h0M317.5 97.6h0M318.5 94.9h0M310.7 88.1h0M321.9 99.7h0M318.6 88.4h0M305.1 88.4h0M298.4 94h0M294.8 114.5h0M298.4 110.3h0M306.4 106.7h0M282.3 102.3h0M304.5 85.3h0M295.4 99.4h0M305.9 104.8h0M315.8 105.4h0M302.9 112.2h0M285.2 88.2h0M300.3 94.1h0M316.7 112.6h0M299.8 95.3h0M325.1 97.4h0M324.6 96.2h0M294.4 84.3h0M293.8 92h0M316.8 99.8h0M302.3 89.8h0M319.9 96.8h0M295.3 77.1h0M285.8 97.4h0M282.4 102.5h0M312.6 70.8h0M286.1 80.2h0M305 110.7h0M313.2 78.6h0M314.6 105.5h0M292 76.5h0M284.9 99.6h0M310.3 86.4h0M305.1 104.3h0M284.9 78.7h0M306.1 109.3h0M303.5 75.8h0M292.7 91.3h0M317.3 105h0M289.9 101.2h0M291.2 109h0M302.7 98.2h0M311.7 67.2h0M297.9 96.5h0M285.4 87.2h0M318.2 80.7h0M289.2 98.2h0M315.8 101.4h0M295.8 104.1h0M303.8 89h0M293.2 87.7h0M288.5 104.5h0M322.5 93.4h0M321.5 97.6h0M294.4 114.1h0M312 112.2h0M316.7 111.3h0M319.2 90.4h0M301 120.1h0M285.2 97.9h0M298.7 113.4h0M309.1 90.5h0M301.3 109.5h0M287 86h0M325.7 96.7h0M294.2 79.6h0M298.4 81.9h0M315.9 89.8h0M294 89.9h0M290.6 77.1h0M309.5 93.8h0M295.4 116.1h0M314.4 88.1h0M316.7 97.8h0M296.4 78.9h0M301.1 92.1h0M294.4 97.6h0M292.9 98.4h0M319.9 92.4h0M292.8 96.9h0M304.1 105.2h0M304 82.9h0M315 95.1h0M286.1 90.2h0M289.1 86.2h0M324 100.6h0M308.8 97.3h0M297.3 89.1h0M314.2 79.7h0M303.5 83.8h0M296.2 100.2h0M303.6 71.1h0M318.8 81.6h0M305.4 79h0M314.9 113.3h0M308.3 102.3h0M306.4 92.8h0M315.8 67.6h0M321.6 107h0M311.9 84.3h0M301.7 69.5h0M324.6 93.8h0M305.4 99.3h0M320.2 82.2h0M300 117.5h0M284.7 94.6h0M295.7 89.6h0M311.3 95.9h0M310.7 84.9h0M297.1 84.4h0M281 85.3h0M311.9 66.6h0M311.9 92.2h0M286.3 82.1h0M297.6 113.8h0M280.9 98.1h0M300.3 95.9h0M309.1 77h0M317.3 110.7h0M294.1 113h0M315.7 77.1h0M297.2 117.4h0M296.4 97.8h0M319.8 102h0M309 109.5h0M289.9 85h0M311 68.9h0M312.5 102h0M300.7 81.1h0M308.2 81.9h0M285.9 107.2h0M317 93.5h0M292.8 95.1h0M296.3 87.6h0M304.1 111.4h0M317.2 70.7h0M316.7 83.4h0M305 90h0M290.9 77.9h0M319.2 104.3h0M306.6 79.2h0M291.9 97.2h0M307.2 100.8h0M306.4 82.3h0M306.4 64h0M307.7 105.8h0M305.8 67h0M304.4 68.4h0M299.5 78.6h0M302.5 99h0M281.5 87.2h0M285.8 98.3h0M316.5 74.8h0M282.8 84.6h0M324.7 93.1h0M296.1 80.4h0M289.2 98.2h0M303.2 78.6h0M309.4 85.7h0M295.7 107.8h0M320.6 83.8h0M290.7 107.9h0M322.3 102h0M284.5 84.8h0M307.2 103.8h0M295.7 114.7h0M321 97.8h0M321.1 86.2h0M297.3 84.6h0M289 100h0M297.8 72.1h0M288.9 110.7h0M299.1 79.7h0M307 83.8h0M317.6 95.3h0M294.9 76.5h0M302.5 83h0M293.2 105h0M295.7 114.6h0M306.4 110.5h0M284.4 84.3h0M310.9 71.5h0M285 94.7h0M307.5 90.7h0M314.8 110.2h0M296.3 84.1h0M304.7 86.9h0M316.3 92.4h0M323.5 96.5h0M301.9 103.1h0M311.2 115.2h0M303.1 87.5h0M293.1 78h0M284.8 79.5h0M313 97h0M320 104.4h0M300.3 94h0M306.7 110.8h0M289.2 91.6h0M291.8 93.3h0M313.6 80.4h0M317.5 80.2h0M318.2 106.1h0M291.5 110.5h0M306.9 87.9h0M285.6 104.8h0M280.7 88h0M281.8 85.2h0M297.6 91.4h0M289.3 111.8h0M306.5 101.4h0M290.3 92.2h0M296.9 83h0M310.4 77.3h0M300.9 75.4h0M281 85.3h0M302.2 73.4h0M296.2 100.9h0M304.4 116.6h0M308.8 75.7h0M297.6 70.5h0M303.8 79.9h0M316.8 87h0M301.3 105.2h0M315.4 84.8h0M292.7 104.1h0M307.1 71.4h0M320.3 95.3h0M315.4 107.8h0M285.4 85h0M297.8 101.4h0M286.5 108.5h0M311.1 97.9h0M286.7 107h0M290.7 109h0M295 73.6h0M316.8 85.3h0M309.2 113.3h0M308.9 95.6h0M317.7 107h0M313.4 99.2h0M296.5 93.1h0M300.4 104.7h0M310.8 114h0M310.2 106.2h0M315 103.9h0M296.5 106.1h0M286.4 79.8h0M303.1 113.5h0M308.9 74.2h0M297.7 82.2h0M298.1 100.2h0M311.9 112.7h0M302.6 112.1h0M304.7 122.2h0M293.5 106.4h0M314 89.4h0M311 99.3h0M316.2 72h0M310.1 80.4h0M319.7 104.1h0M285.8 106.8h0M305.4 97.6h0M282.8 94.8h0M291.1 104h0M290.7 107.3h0M298.1 118.6h0M302.2 94.9h0M314.2 80.5h0M319.3 90.5h0M303.6 68.4h0M313.1 71.5h0M300.4 109.5h0M285.2 78.4h0M306.8 97.1h0M320.6 82.1h0M301.4 78.4h0M316.7 102h0M303.2 87.1h0M303.4 96.4h0M299.2 97.3h0M305.8 111.9h0M317.8 75.1h0M308.2 110.7h0M322.5 96.8h0M318.3 89.1h0M290.6 76.6h0M293.1 82.3h0M305.6 88.9h0M322.4 93.3h0M310.2 82.7h0M294.2 85.4h0M284.6 92.9h0M312.7 105.5h0M292.7 85.2h0M289.2 100.2h0M316 98.5h0M292.9 94.3h0M308.3 97.2h0M319.4 88h0M286.5 78.9h0M308.8 68.6h0M323.8 87.3h0M292.5 78.3h0M309.4 84.4h0M319.7 87.9h0M307.4 82.5h0M319.5 98.6h0M307.1 66.5h0M301.3 112.3h0M286.6 96.4h0M285.3 84.9h0M297.3 108h0M304.5 71.1h0M307.6 112h0M289.2 78.7h0M312.7 95.8h0M296.3 90.4h0M299.7 105.7h0M301.5 78.3h0M310.5 96.9h0M301.7 83.1h0M304.3 117.2h0M307.2 94.2h0M307.7 68.3h0M282.9 102.5h0M310.3 100.1h0M282.7 84.5h0M298.3 85.3h0M310.7 65.5h0M308.1 74.3h0M310.3 109.2h0M320.3 91.6h0M282.2 87.6h0M308.8 70.2h0M316.6 103h0M310.7 72.9h0M311.3 85.6h0M312.9 84.2h0M290.7 79h0M289.8 88.5h0M289.4 77.6h0M317.7 87.1h0M294.3 92.9h0M305.6 121.3h0M291.8 112.7h0M320.3 97.6h0M293.1 93.4h0M323.6 93.8h0M313.7 91h0M300.3 67.8h0M295.9 118.1h0M293.7 84.5h0M286.5 85.4h0M320.2 105h0M315 105.3h0M310.5 114h0M295.7 103.9h0M305.2 66.8h0M308.6 103.8h0M316.7 99.8h0M288.7 80h0M287.1 101.4h0M315.1 80.6h0M308 67h0M291.2 87.2h0M307.3 78.9h0M303.7 115.5h0M292.3 104.6h0M317.5 90.5h0M308.3 101.6h0M296.6 91.9h0M310.6 102.3h0M305.4 115.1h0M292.3 104.9h0M323.3 104.6h0M309.8 90.1h0M300 111.5h0M306.4 66.7h0M311 78.7h0M289.6 98.4h0M314.3 85.4h0M295.8 103.3h0M303.2 72.9h0M294 92.1h0M292 101.7h0M296.1 97.7h0M316.3 87.1h0M286.6 90.5h0M287.2 94.6h0M284.7 102.6h0M293.1 116.6h0M282.2 94.5h0M305.2 65.6h0M295.9 101.7h0M300.6 115.3h0M291.8 114h0M301.8 98.4h0M293.2 104.7h0M313 101.8h0M299.1 119.7h0M291.3 101.9h0M303.5 83.4h0M302.7 65h0M297.6 76.8h0M308 93.2h0M295.4 81.8h0M308.8 117.6h0M305.6 119.6h0M301.3 117.4h0M311.8 98.2h0M309.8 75.6h0M321.3 107.2h0M302.1 73.4h0M311.5 113.7h0M297.2 107.1h0M319.4 91.5h0M310.4 65h0M297.7 111h0M287.4 94.6h0M298.8 120.4h0M300 120.1h0M302 69.8h0M283.4 93.4h0M298.7 70.9h0M285.2 93.5h0M315.6 112.6h0M305.2 106.8h0M286.6 104.3h0M307.1 111.7h0M286.8 90.3h0M302.3 107.9h0M312.4 80h0M296.7 119.6h0M303.1 120.4h0M285.5 102.5h0M317.7 103.1h0M312.3 90.8h0M297.5 122.1h0M302.4 100.3h0M305.9 108.8h0M315.9 74.1h0M295.6 96.4h0M288.9 81.9h0M319.7 107.1h0M306.2 121.1h0M307.5 97.1h0M286.7 85.9h0M306.1 91.8h0M289.9 102h0M305 71.1h0M318.4 110.3h0M288.6 88.3h0M307.5 105.7h0M296.6 109h0M313.1 77.3h0M323.7 97.2h0M285 80.5h0M309 102.8h0M308.2 102.9h0M291.1 109.9h0M293.3 74.4h0M316 95.1h0M305.2 78.9h0M291.1 101h0M308 98.5h0M306.3 67.7h0M309.3 118.5h0M296 83h0M314.4 106.1h0M293 74.5h0M284.6 86h0M303.1 113h0M303.8 67.4h0M314.3 81.8h0M285.6 105.1h0M302.4 64.9h0M322.8 88.6h0M293.1 74h0M300 68.5h0M296.5 76.6h0M305.2 85.9h0M297.5 93.7h0M309 65.7h0M290.9 94.3h0M305.9 85.7h0M305 99.1h0M312.6 101.2h0M307.2 92.8h0M298.9 116.6h0M309.2 97.9h0M294.1 95.3h0M307.4 81.8h0M308.4 87.8h0M301.1 86h0M301.7 92.8h0M285.4 95.4h0M296.3 89.8h0M307.3 93h0M312.6 98.6h0M298.6 82.6h0M293.5 108.4h0M297.1 90.5h0M324.2 94.4h0M292.8 97.9h0M315.7 73.1h0M307.4 119.8h0M321.2 105.7h0M288.2 86.9h0M290.5 107h0M302.8 108.3h0M298.9 112.6h0M325.3 97.7h0M290.1 76.5h0M304.3 87.8h0M305.5 78.7h0M305.3 97h0M305.5 88.5h0M317.8 95.2h0M294.6 108.2h0M295.9 95.2h0M307.6 91.3h0M294.5 94.3h0M284.6 84.3h0M302.8 111.5h0M314.6 92.1h0M292.6 108.9h0M293 81.4h0M313.2 106.2h0M304.9 89.7h0M313.3 78.6h0M315.5 105h0M289.9 101.7h0M313.3 108.7h0M322.4 93.4h0M280.8 89.8h0M310.2 86.9h0M316 83.4h0M299.6 108.1h0M301.1 77.3h0M282.5 100.4h0M294.7 75.6h0M294.2 91.4h0M316.8 80.1h0M309.9 88.8h0M310.5 99.3h0M297.2 71.8h0M299.8 90.1h0M299.2 83.2h0M308.5 66.7h0M293.6 93.8h0M295.3 110.6h0M315.4 94.4h0M311 77.8h0M284.5 93.8h0M312.8 108.8h0M299.4 84h0M323.9 95.9h0M311.9 97.9h0M319.4 88.5h0M315.3 103.9h0M312.4 79.9h0M292.1 77.3h0M306.4 93.2h0M288.2 80.1h0M316.1 82.7h0M314.2 69.2h0M304.9 104.7h0M312.9 112.4h0M305.8 103.2h0M298.6 93.9h0M282.4 92.5h0M291.9 109.6h0M289.8 112.9h0M305.8 100.9h0M300.7 96h0M282.7 82.7h0M302.8 122.2h0M285.9 85.9h0M298.7 84.7h0M304.1 96.7h0M295.7 88.8h0M314.8 97.7h0M309.5 93.3h0M320.2 81h0M290.5 99.3h0M289.5 105.9h0M292.6 103.3h0M295 105.3h0M311.6 88.1h0M282.5 103h0M289.3 107.5h0M302.4 111.1h0M321.7 93.7h0M316.7 85.3h0M298.1 95h0M311.5 91.5h0M287.6 103.6h0M318 92.5h0M316.5 91.3h0M291.6 99h0M302.6 85.6h0M313.3 99.6h0M281.6 102.6h0M296.5 103.2h0M319.5 81.4h0M299.6 119.9h0M282.2 83.8h0M313.5 106.9h0M302.9 82.6h0M301.9 95.3h0M302.9 110h0M301.5 107.6h0M312.9 90.9h0M320.5 85.5h0M292.6 77h0M307.6 76h0M314.3 107.9h0M318.2 94.9h0M308.2 82.3h0M308.8 98.8h0M323.1 86.8h0M309.3 81.9h0M305.4 79.1h0M300.7 102.3h0M311.5 109.8h0M297.8 91.5h0M315.1 102.1h0M284.7 101.6h0M318.2 93.6h0M303.1 72h0M291.6 100h0M304.1 93.9h0M289.2 82.2h0M308.1 115.4h0M310.3 100.3h0M313.2 72.7h0M298.9 92.4h0M284.2 84.7h0M312.5 74.4h0M295.6 109.1h0M292.2 83.5h0M298.9 89.4h0M299.1 108.1h0M288 91.4h0M313.8 71.6h0M314.5 106h0M289.4 96.6h0M283.9 94h0M280.3 85.5h0M287.4 109.4h0M314.1 97h0M301.4 120h0M310.3 75.9h0M304.9 96.8h0M316.3 107.9h0M311.5 94.2h0M305.7 98.8h0M321.8 106.8h0M316.1 93.4h0M310.8 105.4h0M287.4 88.3h0M298.8 108.8h0M306.5 103h0M303.3 90.4h0M293.4 93.5h0M303.4 83h0M288 106.6h0M284.6 80.3h0M307.8 98h0M308.1 112h0M321.9 95.6h0M313.3 91h0M307.1 65.3h0M282.2 96.9h0M312.9 80.4h0M304.2 90.8h0M292.7 112.1h0M282.6 90.3h0M321.8 99.3h0M306 74h0M308.7 104.7h0M314.4 107.5h0M314.2 86.6h0M305.9 99.2h0M299.4 88.1h0M313.9 73.7h0M309.9 115.9h0M303.5 73h0M286 108.2h0M296.8 118.7h0M322.3 104.9h0M302.7 76.1h0M297.6 121h0M303.5 74.4h0M300.9 69h0M304 71.1h0M283.6 90.1h0M293.6 82.1h0M312.6 72.3h0M286.3 79.7h0M304.2 100.2h0M302.4 72.5h0M307.4 114.6h0M312.8 72.8h0M320.6 103h0M302.7 86.8h0M307.2 90.3h0M317.8 84.5h0M296.3 72.6h0M300.8 70.6h0M287.1 99.7h0M309.8 68.1h0M305.5 97h0M287.5 110.2h0M308.8 84.9h0M304.3 112.2h0M287.4 87.5h0M308.2 68.1h0M299.3 121.4h0M314.9 109.6h0M311.5 76.4h0M302.5 113.1h0M304.3 122.9h0M322.9 93.7h0M282.4 81.7h0M288.4 79.5h0M313.3 80.9h0M307.8 119.1h0M305.8 77.9h0M282.3 88.7h0M299.4 90.3h0M295 108.8h0M312.6 70.1h0M307.9 110.7h0M287.6 108.7h0M326 98.3h0M294.9 91.2h0M307.4 109.4h0M304.8 88.3h0M289.3 90.4h0M293.7 106.3h0M294.2 86.2h0M313.3 94.6h0M317.5 111h0M312.9 80.5h0M282.7 104.6h0M297.9 108.2h0M300.9 89.3h0M291.3 98.5h0M299.4 91.3h0M295.7 84.7h0M286.5 107.9h0M288.1 82.4h0M305 101.8h0M319.7 79.6h0M322.6 85.8h0M291.4 97.6h0M303.8 70h0M320.8 104.1h0M315.5 95.4h0M311.8 90.8h0M288.2 111.4h0M292.3 87h0M306.7 111.6h0M297.4 116.8h0M300.8 86.1h0M286.7 92.3h0M303.6 102.4h0M299.3 73.3h0M305.7 64.8h0M311.6 99.4h0M324.9 99.5h0M287.6 109.3h0M295 91.8h0M289.7 78.3h0M281.2 84.8h0M308.9 94.8h0M314.8 99.1h0M307.8 82.2h0M298 110.8h0M313.5 79.9h0M282.3 83.4h0M317.8 98.3h0M315.7 87.5h0M317.2 90h0M304.4 65.7h0M321.7 101.5h0M304.4 103.5h0M288 94.9h0M284.5 104.4h0M298.1 99.3h0M288.4 105.5h0M287.6 82.1h0M292.4 77.6h0M287 84.6h0M316.2 97.4h0M322.3 99.3h0M310.6 65.1h0M286.8 93.5h0M299 77.3h0M291.9 100.6h0M309.5 95h0M296.7 113.9h0M318.7 100.2h0M304 72.4h0M304.3 105.8h0M297.6 93h0M292.6 93.9h0M300.6 96.3h0M308.3 86.1h0M300.2 94.3h0M286.8 104.6h0M291.4 112.6h0M322.6 104.2h0M311.3 108.4h0M305.6 116.4h0M307.9 106.1h0M293.6 94h0M311.9 95.5h0M297 80.7h0M307.4 88.3h0M305.5 105h0M309.3 100.5h0M294.8 103.6h0M320.1 98.5h0M313.1 75h0M315.2 111.1h0M288 105.7h0M289.6 95.5h0M289.7 80.9h0M299.2 100.1h0M314.4 77.5h0M315.9 112.2h0M307.9 81.2h0M314.3 106.4h0M297.7 94.4h0M307.1 110.8h0M305.8 64.7h0M287.7 92.9h0M313.5 87.8h0M305.4 77.5h0M310.8 108.3h0M305.8 71.6h0M309.4 71.8h0M287.5 109.4h0M298.9 95.1h0M291.8 84.5h0M287.6 93.8h0M314.9 68.6h0M316.7 69.8h0M287.2 94.5h0M284.7 95.3h0M311.3 102.8h0M297.6 120.7h0M295 95.5h0M294 105.3h0M295.9 102.5h0M309.5 117.4h0M285.7 88h0M313.8 107.6h0M294.4 99.7h0M311.6 110.4h0M297.3 86.4h0M323.3 87h0M318.3 82.9h0M309.3 66h0M290.1 108.8h0M287.8 106h0M290.2 90.4h0M285.1 104.3h0M320.6 108.3h0M306.1 69.6h0M316.1 82.7h0M309.9 81.1h0M315 83.5h0M302.5 84.6h0M304.5 88.5h0M298.9 121.6h0M304 78.1h0M304.3 93.7h0M308.1 118.3h0M305.1 75.4h0M317.6 75.4h0M307.9 97.1h0M311.8 111.5h0M316.8 84.9h0M303.8 80.5h0M305 109.1h0M302.7 118.6h0M309.2 76.2h0M305 105.5h0M295.5 83.8h0M304.4 83h0M318 89.5h0M290.8 90.3h0M307 86.8h0M315.4 91.7h0M301.2 72.7h0M323.4 88.3h0M293.8 82.5h0M318.9 108.9h0M313.9 93.6h0M313.9 69h0M300.1 70.8h0M290.4 80.1h0M300.3 95.9h0M314 97.2h0M291.1 87.2h0M287.5 106.2h0M303.4 116.9h0M319.3 78.2h0M310.7 84.5h0M289.2 105.1h0M320.7 83h0M316.2 105.1h0M312.1 111.5h0M291.7 90.1h0M292.3 110.7h0M295.9 81.7h0M311.7 78.1h0M300.9 118.4h0M296 73.3h0M306.5 92.8h0M304.3 91.4h0M311 85.2h0M320.1 92.5h0M311.4 94.3h0M293.9 83.6h0M325.8 95.1h0M319.4 104.1h0M301.8 119.6h0M309.6 108h0M318.3 95h0M295.6 110.2h0M305.1 99.8h0M324.5 92.2h0M323.1 98.1h0M306.4 118.4h0M286.7 92.7h0M297.2 100.5h0M301.7 100.2h0M301.8 109.5h0M324.4 89.9h0M311.8 77.4h0M325.5 94.7h0M295.9 112.1h0M316.7 100.5h0M289.9 92h0M287 104.2h0M293.9 88.3h0M305.2 98h0M318.1 103.2h0M300.1 87.5h0M293.7 106.7h0M292.7 89.5h0M299.4 120.9h0M305.2 82.9h0M289.5 93.8h0M324.6 98.2h0M317.2 76.7h0M301.6 103.5h0M297.1 71h0M298.7 110.2h0M307.8 107.7h0M315.8 74.2h0M284.7 84.7h0M298.9 79.6h0M283.6 105.3h0M302.1 76.2h0M290.2 88.3h0M311.8 66h0M286.4 110.2h0M287.6 99.1h0M315.3 87.5h0M299.5 78.1h0M318.2 105.7h0M300.5 96.2h0M306.8 115.2h0M306.4 111.6h0M313.5 77.5h0M290.2 89.4h0M319.1 104.3h0M300.9 103.6h0M324.2 96.8h0M299.1 104.5h0M322.8 95h0M318.6 106.2h0M285.1 95.8h0M284.2 97.2h0M299.5 105.1h0M320.9 85.6h0M317.8 101.7h0M299.1 86.6h0M286.4 88.1h0M296 78h0M321.8 93.7h0M305 99.5h0M293 110.8h0M310.9 111h0M305.8 119.1h0M298.1 90.1h0M295.6 74.1h0M309.7 90.4h0M295.9 106.2h0M310.1 95.5h0M287.4 105h0M317.1 108.9h0M311.1 98.8h0M302.6 65.4h0M298.6 120.9h0M315.6 101.7h0M295.5 115.2h0M296.9 74.1h0M306.6 70.5h0M317.9 88.9h0M290 112h0M311.6 114.8h0M280.5 81.1h0M310.8 81.3h0M313.8 88h0M325.6 92.8h0M290.1 85.3h0M316.5 83h0M298.3 116.9h0M303.7 88.9h0M322.8 98.8h0M290.4 77.4h0M315.6 101.6h0M322.7 96.6h0M283.4 98.5h0M306.1 77.3h0M301.7 72.2h0M293.1 84.7h0M302.6 69h0M313.6 100.8h0M318.9 79.2h0M301.3 122.4h0M310.2 93.7h0M306.5 103.9h0M300.4 121.1h0M300.2 78.1h0M297.9 85.3h0M301.3 97.7h0M324.2 99.9h0M294.7 87h0M324.4 88.4h0M322.7 92.2h0M292.3 77.8h0M313.2 95.8h0M318.3 93.5h0M292.2 107.1h0M287.4 98.4h0M296.2 77.1h0M309.1 104.6h0M317.6 84.3h0M312.1 74.6h0M289 91.6h0M286.6 102.2h0M313.6 80.9h0M303.9 122.5h0M313.1 90.5h0M300.7 88.1h0M306.8 120.3h0M313.5 93.6h0M298.8 106.8h0M295.3 109.6h0M314.5 94.2h0M305.4 104.9h0M317.3 104.7h0M306 91.4h0M299.9 101.3h0M295 89.4h0M309.6 118.1h0M303.9 85h0M299.3 69.5h0M307.8 93.8h0M280.3 81.5h0M302.7 75.9h0M300.4 88.2h0M296.5 83.5h0M285.2 87.5h0M285 102.8h0M286.6 90.3h0M304.9 101.8h0M294.3 80.4h0M303.1 94h0M295.3 81.9h0M284.1 102h0M303.7 100.8h0M307.7 67.8h0M284 100.4h0M295.3 83.1h0M294.4 112.9h0M280.9 87.7h0M310.5 81.2h0M289.1 107.3h0M308.8 110.3h0M314.6 98.6h0M317.3 98.4h0M286.3 91.9h0M285.6 96.6h0M299 111.9h0M299.1 89.6h0M309.8 103.3h0M314.5 72.7h0M304.4 112.4h0M310.8 94.4h0M316.7 79.1h0M286.8 86.5h0M292.2 102.5h0M295.6 80h0M304.3 81.2h0M305.2 75.8h0M291.7 95.3h0M283 99.6h0M285.7 98.5h0M310.3 67.5h0M316.3 74.5h0M309.8 92.8h0M300.5 123.2h0M294.1 118.8h0M295.9 94.5h0M307.2 64.3h0M284.2 88.1h0M283.9 91.4h0M299.4 118.9h0M302.5 71h0M318.7 109.1h0M287.6 94.1h0M311.8 95.5h0M297.7 91.4h0M281.2 89.4h0M317.4 102.5h0M311.2 107.7h0M298.8 70.9h0M302.6 83.1h0M322.5 105h0M313.5 79.6h0M297.1 113.8h0M312.7 113.3h0M307.4 120.4h0M302.8 121.5h0M307.1 83.5h0M323.7 91.2h0M299 83.5h0M316.1 109.8h0M296.7 100.2h0M312.6 114.4h0M302.3 88.9h0M308.7 112.9h0M312.8 78.3h0M306.9 90.3h0M316 104.9h0M291.1 77.8h0M307 84.4h0M293.8 101.6h0M320.1 85.5h0M305.3 91.3h0M317.8 99.9h0M300.8 67.2h0M308.3 79h0M315.7 82.2h0M281.5 91.6h0M296.9 75.5h0M308.7 90.4h0M292.1 110.8h0M302.2 71.1h0M320.6 90.1h0M299.9 122.4h0M306.7 83.4h0M319.3 80.9h0M291.5 92h0M300.7 88.9h0M323.3 101.1h0M304.1 82.2h0M305.9 64.4h0M285 100h0M305.3 120.1h0M304.8 98.5h0M299.3 101h0M306.7 91.5h0M309.9 112.2h0M284.7 102.7h0M304.8 115.9h0M309.7 84.8h0M289.5 96.4h0M289.3 108.6h0M305 102.4h0M303.2 76.6h0M310.2 65.9h0M315.4 83.9h0M312.8 101.4h0M313.8 106.3h0M281.9 90.3h0M297.2 80.1h0M294.2 103.4h0M305.9 100.1h0M284.7 81.7h0M311.1 75.5h0M315.4 79.4h0M303 81.9h0M309.5 78.5h0M323.4 97.4h0M286.4 106.3h0M297.3 88.4h0M298.6 120.8h0M310.2 67.4h0M311.9 100.8h0M292.2 112.9h0M285.5 95.9h0M284.3 79h0M304 94.8h0M282.5 85.4h0M309.3 107.2h0M288.8 112.3h0M306.8 82.3h0M312.5 101.1h0M291.8 109.3h0M308.6 69.5h0M311.2 109.7h0M298.5 73.2h0M308.8 101.8h0M312.2 98.3h0M314 105.3h0M303 119h0M285.6 102.5h0M298.9 72.3h0M298.4 87.1h0M315.4 78.9h0M304 122h0M300.8 72.4h0M292.8 104.7h0M300.3 110.2h0M324.2 99.6h0M298.3 119.4h0M316.9 94.3h0M319.1 108.4h0M299.6 121.4h0M320.7 92.3h0M299.2 82.9h0M313.1 80.1h0M281.1 83.6h0M321.6 98.6h0M320.1 104.4h0M308.3 93.8h0M307.9 87.7h0M305.6 95.5h0M314.1 75.6h0M313.1 67.9h0M295.2 114.7h0M297.3 86.3h0M298.7 76h0M292.8 111.4h0M298.4 118.4h0M317 87.7h0M288 104.2h0M320.7 94.7h0M305.7 67.4h0M306.4 117.1h0M318.1 72.6h0M297.7 100.6h0M295.8 89.4h0M310.3 87h0M294.7 100.8h0M308.8 90.7h0M305.1 72.2h0M287.6 95.2h0M305.9 74.6h0M313.5 113.8h0M312 109.9h0M319.8 80.4h0M283 100.1h0M294.3 74.9h0M298.8 115.9h0M316.4 68.8h0M317.5 104.4h0M315.5 110h0M318.9 96.4h0M308.7 74.6h0M313.6 88h0M298.9 74.9h0M302.3 70.1h0M311.6 106.2h0M321.8 88h0M316.1 69h0M304.4 87.4h0M298.2 82.6h0M296.6 76.3h0M314.4 65.9h0M313.1 97.3h0M325.6 99.5h0M287.7 88.2h0M311.7 80.2h0M303.4 114h0M324.3 93h0M288.7 91.5h0M290.3 104.7h0M295.9 76.5h0M316 92.2h0M315.4 109.6h0M284.1 105.1h0M297.9 98.7h0M295.8 81.4h0M306 106.7h0M311.6 91.5h0M305.6 66.8h0M309.6 80.1h0M312.2 69h0M308.4 110.3h0M315.7 108.1h0M326.1 96.1h0M296.9 77.9h0M320.1 90.3h0M308.4 70.9h0M324.4 102h0M285.7 79.7h0M310.3 93.7h0M306.8 72.1h0M320.2 90.9h0M310.2 68.1h0M290.6 113.6h0M318.9 106.3h0M312.7 79h0M313 78.1h0M297.7 114.7h0M287.4 79.9h0M312.1 76.2h0M289 108.7h0M322.3 88.5h0M304.6 83.5h0M312.5 93.7h0M285.4 85.2h0M323.8 92.7h0M316.1 89.5h0M315.4 94.3h0M304.4 105.4h0M293.6 108.7h0M285 105.3h0M284.6 107.1h0M306.6 99.2h0M303.2 112.5h0M296.3 105.7h0M286.3 88.8h0M311.9 103.5h0M302.7 110.5h0M297.6 99.3h0M307.1 118.3h0M306.8 112.6h0M310.2 68h0M307.8 65.5h0M301.7 98.3h0M300.9 70.4h0M287.3 78.1h0M289.4 81.6h0M306.6 106.2h0M305.8 93.1h0M285.7 102.9h0M292.8 92.1h0M293.7 107.4h0M308.8 80h0M308 103.7h0M313.1 78h0M296.3 112.3h0M312.2 91.7h0M280.8 90h0M308.5 66.8h0M288.1 84h0M311.1 113h0M294.7 114.2h0M320.1 109h0M302.9 86.6h0M298 87.2h0M298.9 76.5h0M293.8 97.1h0M307 97.7h0M307.1 87.5h0M306.9 109.8h0M293.6 117.1h0M303.7 74.5h0M300.6 68.4h0M316.1 72.1h0M312.8 103.8h0M306.3 121.1h0M287.8 85.3h0M304 114h0M300 93.7h0M307.4 98.6h0M300.1 77h0M296.6 113.2h0M303.4 111.7h0M283.2 97.4h0M325 101.7h0M308.1 111h0M298.6 83.9h0M296 76.5h0M291.6 85.1h0M301.1 94h0M292.8 86.6h0M297.6 98.9h0M309.4 87.1h0M317.1 99h0M295.8 73.6h0M302.1 90.1h0M301.7 114.6h0M321.3 88h0M298.5 109.1h0M308.4 83.7h0M309.1 96.2h0M311 111h0M290.3 108.8h0M314.7 91.5h0M322.7 99.1h0M293.9 106.5h0M305.9 79h0M312 70.5h0M311 110.1h0M317.4 71.3h0M283.1 80.9h0M302.3 119.8h0M305.5 89.7h0M303.2 79.1h0M302.6 95.8h0M289.1 98.2h0M307.3 82.1h0M298.3 84.3h0M302.9 116.8h0M304 113.4h0M279.5 83.9h0M321.7 87.3h0M300.8 73.3h0M303.6 81.4h0M298.3 80.6h0M308 97.3h0M310 85.8h0M319.8 100.4h0M313.6 77.1h0M300.2 107.3h0M300 103.5h0M305 103.1h0M315.3 108h0M291.9 109.7h0M290.7 100.3h0M316.3 90.4h0M307.1 86.9h0M305.2 77.1h0M302.6 79.4h0M305.4 100.5h0M281.7 96.6h0M301.1 90.4h0M296.9 97.6h0M310 67.2h0M306 105.4h0M293.1 112.5h0M294.7 91.8h0M304.2 73.2h0M318.6 81.1h0M312.8 84.7h0M292.9 79.8h0M311.5 95.6h0M318.1 107h0M282.1 82.2h0M303.4 113.9h0M308.2 71.4h0M284 106.8h0M309.2 112.3h0M302.1 120.6h0M308.8 105h0M289.2 77.2h0M313.2 102h0M301.6 87.9h0M317.5 92.5h0M301.8 112.2h0M302.6 107.6h0M299.2 112.5h0M317.7 104.2h0M308.1 69.1h0M307.7 80.1h0M314.6 99.6h0M298.5 94h0M324 87.9h0" stroke="#F58B52" stroke-width="1.8" stroke-linecap="round" fill="none"/>
<path d="M272.3 109.5h0M269.5 105.9h0M269.1 95.6h0M258.9 94.9h0M259.7 95.1h0M259.4 92.2h0M273.4 109.4h0M267.5 96.9h0M263.8 98.8h0M269.7 109.4h0M275.9 110.6h0M266.1 93.9h0M269.2 104.2h0M271.8 112.9h0M275.1 114.6h0M261.3 89.2h0M259.6 94.6h0M277.9 115h0M270.7 105.1h0M269 106h0M256 90.8h0M269 104.3h0M271.4 103.1h0M264.9 100.2h0M270.5 111.6h0M260.6 96.2h0M262.9 95.9h0M273.6 111.4h0M261.6 96.2h0M268.9 97.4h0M272.9 116h0M265.5 102.1h0M271 106.6h0M269.8 105.1h0M270.3 100.8h0M276.8 114.7h0M261.8 96.8h0M273.4 104.1h0M263.1 97.6h0M274 105.9h0M269.7 97.2h0M263 89.6h0M269.4 103.1h0M262.5 89.1h0M275.4 110.5h0M269.9 111h0M277.5 118.2h0M265.3 93.1h0M271.1 98.3h0M256.5 88.3h0M261.8 97.1h0M276.5 113.5h0M263.6 92.7h0M268.4 108.1h0M259.3 94.2h0M254.6 90.7h0M271.8 108.8h0M264 91h0M268.4 103.8h0M265.7 101.1h0M272.9 103.6h0M274.2 114.3h0M269.9 97.5h0M267.6 95.1h0M271.2 112.5h0M260 88.8h0M273.6 113.9h0M267.4 106.2h0M273.5 111.5h0M256.8 92.8h0M264.9 100h0M258.5 90.2h0M263.9 99.2h0M263.8 95.7h0M269.3 106.2h0M275.1 117.1h0M258.9 86.9h0M269.6 97.2h0M264.6 91.3h0M262.4 88.5h0M265.4 98.6h0M257.5 90.9h0M264 98.3h0M265 97.4h0M268 100.9h0M271 110.7h0M278.2 119.7h0M266.5 99.3h0M255.5 91.6h0M269.9 106.7h0M263.6 98.9h0M276.4 115.8h0M261.6 90.1h0M274.7 106h0M261.7 96.5h0M269.4 101.6h0M268.4 107.8h0M272.9 115.5h0M276.8 115.2h0M277.3 116.2h0M272.9 104.7h0M264.9 93.9h0M272.1 103.5h0M271.6 110.7h0M265.5 103.5h0M267.1 98.3h0M262.8 94h0M275.7 115.6h0M274.8 110.3h0M267.6 94.9h0M269.5 107.4h0M272.6 112.8h0M258.3 93.8h0M271.6 108.1h0M261.1 92.8h0M271.8 109.4h0M272.9 103.4h0M259.5 94.9h0M272.1 102.5h0M268.8 102.2h0M277.3 113.1h0M272.9 114.1h0M268.9 101.7h0M269 98.6h0M274 114h0M263.4 91.9h0M273.2 103.8h0M271.1 110.7h0M273.2 110.6h0M260.7 95h0M272.7 111.9h0M272.2 112.7h0M263.1 96.4h0M262.8 94.8h0M269 108.7h0M264.8 91.5h0M268.4 106.2h0M259.6 91.2h0M275.8 110.5h0M272.8 111.4h0M276.3 113.9h0M274.5 113.6h0M274.9 114.5h0M274.1 114.5h0M260.2 87.5h0M262.2 88.4h0M256.9 88.3h0M265.2 100h0M268.9 95.3h0M270.4 102.2h0M264 100.3h0M274.5 117.7h0M271.4 109.3h0M273.9 109.8h0M273.1 113.7h0M263.8 97.4h0M263.8 92.8h0M267.1 93.7h0M262.9 91.3h0M259.4 95.5h0M265.5 99.1h0M263.8 96.2h0M266.2 103.9h0M265.9 92.2h0M265.6 92h0M266.7 100.5h0M270.8 111.2h0M267.5 96.1h0M270.1 102.6h0M265.9 97.7h0M274.6 115.2h0M262.6 97h0M274.2 110.1h0M276.9 117.9h0M268 100.1h0M270.2 102.1h0M277.5 117.5h0M270.1 106.5h0M264.1 90.3h0M265.7 98.1h0M274.2 114.9h0M264.4 97.5h0M275 109.8h0M265.1 94.2h0M270 106.5h0M274.3 109.1h0M268.8 108.4h0M271 108.3h0M275.2 113h0M272.5 105.9h0M256.9 91.6h0M267.3 100h0M254.4 88.9h0M270.4 104.9h0M263.6 95.6h0M268.8 104.1h0M272.7 108.4h0M273.2 115.5h0M267 94.6h0M269.8 109.3h0M265.9 102.4h0M275.3 117.3h0M271.8 102.3h0M269.4 102h0M257.6 90.9h0M262.3 90.4h0M266.8 94.7h0M266.7 93.4h0M270.4 106.9h0M258.1 94.3h0M263.4 98.6h0M261.4 91.3h0M264.8 96.9h0M256.3 90h0M268.8 98.1h0M265.7 97.6h0M255.4 90h0M265.2 102.7h0M276.3 117.5h0M277.3 113.2h0M278.2 121h0M259.7 90.4h0M268.9 101h0M258.9 94.1h0M266.9 99.2h0M261.1 91.5h0M262.2 94.4h0M269 103.1h0M276.3 111.2h0M275.8 115.6h0M275.9 114.4h0M264.6 91.6h0M264.6 97.9h0M260.9 88.1h0M261.5 88.4h0M266.9 95.5h0M261 88.9h0M254.2 88.8h0M272.1 106.1h0M262.2 94.5h0M253.6 90.3h0M268.6 103.8h0M276.3 111.5h0M272.3 107.9h0M262.7 95.9h0M255 91.6h0M267.9 98.4h0M270.5 103.1h0M258.2 92.2h0M276.2 114.3h0M274.9 108.7h0M266.2 102.8h0M273.1 106.2h0M268.9 96.4h0M271.9 104.1h0M269.2 104.1h0M270.3 101.7h0M266 98.2h0M269.3 106.5h0M268.7 101.6h0M267.2 100.5h0M263.4 90.7h0M262.9 89.7h0M274.7 107.5h0M270.5 106.7h0M259.7 93.8h0M257.2 87h0M264.1 98h0M274.4 116.4h0M259 87.3h0M263 93.6h0M276.8 116.2h0M277.5 119.2h0M263.2 92.2h0M256.8 88.7h0M270.5 109.2h0M272.4 114.3h0" stroke="#F58B52" stroke-width="1.8" stroke-linecap="round" fill="none"/>
<text x="249.2" y="126.2" font-size="15" font-weight="bold" fill="#000" text-anchor="start" textLength="18" lengthAdjust="spacingAndGlyphs">CC</text>
<rect x="338.3" y="68.5" width="1.6" height="4" fill="#999" opacity="0.7"/>
<path d="M305.4 151.4h0M297.9 156.1h0M301.9 158.9h0M310.8 160.5h0M323.6 153.7h0M305.7 168.9h0M302.1 170.1h0M305.7 175.9h0M331.8 173.6h0M326.7 175.2h0M325.5 177.1h0M343 190h0" stroke="#1E9E57" stroke-width="2" stroke-linecap="round" fill="none"/>
<path d="M335 196.2h0M326.1 187.1h0M324.4 190.4h0M335.7 195.3h0M330 198.7h0M334.3 196.1h0M325.8 190.1h0M334 197h0M324.8 185.3h0M333.9 199.1h0M324.1 189.3h0M327.7 187.2h0M329.4 197.3h0M320.8 187.2h0M333.7 190.9h0M328.1 189.8h0M323 186.5h0M325.2 192.8h0M332.7 198.5h0M330 189.2h0M325.9 194.2h0M329.6 190h0M336.1 195.5h0M331.1 196.7h0M335.5 194h0M334.1 191.9h0M326.2 192.7h0M333.5 202.6h0M322.3 185.5h0M332.6 188.9h0M335.8 200.2h0M332.1 192.9h0M320.8 188.9h0M323.1 188.8h0M333.7 199.1h0M331.1 194.7h0M322.7 190.1h0M330.5 188.5h0M335.2 197.6h0M330 194.4h0M330.2 201.4h0M322 186.5h0M323.2 188h0M321.5 188.4h0M322.9 190.4h0M329 194.1h0M328 191.3h0M324.5 189.7h0M332.5 197.7h0M329.2 201.1h0M327.1 190.6h0M325.1 188.6h0M329.9 198h0M333.3 201.3h0M326.9 186.1h0M331.9 202.3h0M329.3 196.4h0M331.7 197.1h0M323.4 189.5h0M328.5 197.3h0M333.6 202.6h0M329 188.7h0M335.5 198.3h0M333.1 200.5h0M324.7 187.1h0M328 190.7h0M326.2 187h0M326.9 187.2h0M322.4 185.8h0M337.3 198.2h0M327 187.5h0M335.7 197.2h0M331.5 195.1h0M328.7 198.9h0M324.8 189.3h0M329 196.5h0M331.3 194h0M330.4 190.6h0M333.7 199.9h0M327.3 185.9h0M329.4 187.2h0M332.1 192.7h0M329.7 197.5h0M326.8 193.8h0M331 197.6h0M330.5 190.7h0M329.6 191h0M333.5 194.4h0M324.7 187.3h0M325.2 188.5h0M334 195.2h0M333.4 201h0M328.7 190.8h0M330.7 202.4h0M333.8 199h0M320.8 186.7h0M329.2 201h0M328.7 195.9h0M328.6 194.5h0M334.1 192.1h0M320.2 187.6h0M333.4 191.7h0M334.1 199.3h0M335.7 200.6h0M329.7 187.8h0M326.9 185.7h0M324.8 188.1h0M330.8 195.6h0M323.4 187.6h0M332.6 191.2h0M335 199.1h0M332.9 196.1h0M330.5 202.6h0M333.5 199.2h0M331.5 200.4h0M328.5 187.7h0M322.2 189.5h0M326.3 188.7h0M336.4 196.2h0M328.3 187.6h0M333.1 202.5h0M328.5 196.9h0M327.7 188.1h0M323.4 188.6h0M333.2 196.4h0M323 187.1h0M326.2 189.1h0M329.7 190.4h0M331.3 201.9h0M327.6 188.3h0M335.8 194.7h0M331.1 199.6h0M336.5 194.8h0M320.5 187.5h0M323.9 191.2h0M335.8 200.9h0M332 198.4h0M333.8 198.9h0M333.1 198.1h0M330.9 194.7h0M322.3 188.8h0M325.8 186.2h0M329.2 197.8h0M333.4 196h0M325.7 190.3h0M324.5 190.9h0M331.6 200.3h0M333.1 202.3h0M337.1 197.2h0M330 187.8h0M335.4 192.6h0M332.7 198.2h0M335 192.4h0M331.2 197.1h0M336.3 194.7h0M329.8 193.2h0M327.8 196.6h0M334.9 195h0M333.2 195.3h0M333 191.4h0M333.6 197.1h0M324.3 188.1h0" stroke="#28B463" stroke-width="1.8" stroke-linecap="round" fill="none"/>
<path d="M283.2 244.6C283.5 244.1 284.5 243.2 285.1 243.7C285.7 244.2 287 246.7 287 247.7C287 248.6 285.7 249.4 285.1 249.3C284.5 249.2 283.8 247.7 283.5 247C283.1 246.2 283 245.2 283.2 244.6Z" fill="#1E9E57"/>
<path d="M282.4 244.4h0M285.4 244.2h0M285 244.9h0M286.6 246.1h0M287.1 247.5h0M284.5 248.9h0M284.1 247.3h0M284 246.7h0" stroke="#1E9E57" stroke-width="1.2" stroke-linecap="round" fill="none"/>
<text x="248.9" y="247.4" font-size="15" font-weight="bold" fill="#000" text-anchor="start" textLength="25" lengthAdjust="spacingAndGlyphs">CTC</text>
<rect x="338.3" y="190.5" width="2.5" height="5" fill="none" stroke="#999" stroke-width="0.4" opacity="0.8"/>
<path d="M316.2 281.6h0M301.7 283h0M304.3 293h0M310.7 283.2h0M307.8 292h0M322.5 290.4h0M298.8 289h0M341.3 296.4h0M326.3 293.8h0M301 277.8h0M296.9 277.4h0M319.8 283.4h0M300.4 283.9h0M336.8 290.1h0M323.2 298.3h0M317.1 302.4h0M338.6 295.4h0M305.3 299.4h0M333.2 295.6h0M310.3 280.3h0M323.9 290.1h0M317.4 287.3h0M302.1 290.8h0M301.2 287.8h0M318.9 290.6h0M309 289h0M310.6 282.2h0M316.4 300.8h0M298.4 276.9h0M303.9 284.3h0M312.4 283.4h0M319.6 284.8h0M334.5 288.4h0M338.4 291.5h0M310.7 286.9h0M322.1 294.6h0M315.5 286.8h0M310.8 292.1h0M327 291.2h0M300.2 276.8h0M315 296.2h0M313.8 283.1h0M342.4 292.1h0M335.3 295.5h0M309.9 290h0M313.3 284.9h0M321.1 288.6h0M307.3 286.6h0M299 281.2h0M304.6 296.8h0M329.1 297.4h0M299.9 274.6h0M340.3 292.6h0M323.7 284.7h0M318.1 300.7h0M306.8 281.5h0M318.4 284.5h0M328.4 289.7h0M305.4 282.5h0M332.3 296.7h0M304 276.8h0M296.7 281h0M322.8 288.3h0M311.4 293.6h0M308 289h0M331.9 297.9h0M301.1 292h0M305.1 276h0M328.1 292h0M331.2 289.4h0M325.1 286.7h0M299.7 275h0M319.4 285.9h0M312 280.8h0M305.7 296.7h0M305.3 292h0M333.4 299.1h0M309.5 299.2h0M327.3 295.8h0M302.2 280.3h0M308.2 276.9h0M302.9 282.8h0M317.6 288.5h0M340.2 293.8h0M313.4 282.1h0M319.8 301.2h0M324.1 291.5h0M302.4 282.4h0M314.9 290.1h0M317.3 301.8h0M314.5 288.5h0M338.1 299.9h0M297.3 285.1h0M309.3 296.2h0M313.8 301.7h0M337.5 297.2h0M304 299h0M303.7 275.6h0M298.4 290.2h0M314.1 282.3h0M320.2 302.5h0M315 284.4h0M302.2 275.8h0M303.4 279.2h0M300.5 288.3h0M298.4 274h0M339.8 298.5h0M322.8 292h0M308.3 286h0M329 291.2h0M325.6 287.9h0M339.6 293.7h0M328.4 296.7h0M298.2 282.8h0M299.7 274.8h0M333.7 300.4h0M309.7 283.8h0M310.4 281.9h0M308.7 275.6h0M341.1 293.7h0M305.8 290.5h0M337.2 292.6h0M341 294.3h0M303.3 284h0M340.1 292.8h0M306.3 274.8h0M322.7 300.8h0M306.8 291.7h0M336.3 300.5h0M307.3 293h0M307.2 285.9h0M340.7 289.8h0M341.6 297.4h0M299.3 292.7h0M296.2 275.5h0M303.3 280.6h0M313.6 292h0M336 293.9h0M326.3 297h0M318.8 289.6h0M321 282.9h0M304.4 294.5h0M317.3 294.7h0M300 296.9h0M310.3 278h0M328.5 294.5h0M306.7 277.1h0M314.2 296h0M309.5 287.1h0M317.6 289.8h0M330 296.7h0M334.9 289.6h0M324.9 285.9h0M301.9 295h0M307.8 290.1h0M338.2 291.1h0M306.5 281.2h0M307.4 285.4h0M321.2 295.7h0M312.2 295.7h0M310.3 294.1h0M326.9 286.8h0M321.1 284.9h0M317.9 291.7h0M334.9 299.8h0M330.1 291.6h0M304.8 298.6h0M337.3 289.7h0M297.5 293.6h0M315.4 289h0M316.9 299.5h0M335.6 290.6h0M312.9 285.6h0M341.1 295.6h0M330.7 288.6h0M320.5 285h0M309.8 282.9h0M334.3 289.5h0M337.9 300h0M307.1 296.5h0M307.7 274.9h0M325.9 299.6h0M301.2 279.6h0M296 287.4h0M300.2 290.7h0M304.1 281.6h0M298.8 289.3h0M331.2 295.7h0M302.7 275.7h0M306.9 296h0M308.7 285.8h0M307.7 287h0M316.3 300.2h0M315.3 290.2h0M315.4 287.7h0M300.6 280.3h0M324.4 298h0M304.3 280.6h0M331.9 296.6h0M323.6 299.4h0M296.3 285.6h0M324.5 288.5h0M306.2 286.3h0M314.3 281h0M314.8 292h0M338.9 288.5h0M316.7 296.8h0M324.4 292.2h0M307.9 298h0M306.6 295.2h0M307.8 294.1h0M317.5 301h0M307.5 291.6h0M329.4 296.9h0M304.8 275.5h0M313.1 284.2h0M320 284.4h0M321.5 293.6h0M331.9 295.4h0M307.1 293.1h0M328 290.6h0M314.4 285.3h0M320.3 302h0M318.6 296.2h0M320.4 291.1h0M335.5 293.1h0M313.3 282.7h0M332.4 296.5h0M307.3 288h0M311.8 299.1h0M341.9 292.4h0M312.8 300.9h0M314.5 296.8h0M321 291.9h0M330.9 291.2h0M309 295.8h0M304.3 294.7h0M300 285.5h0M338.5 295h0M307.4 278.3h0M296.7 291.1h0M312.5 297.5h0M335.2 288.6h0M321.3 283.8h0M322.4 293.2h0M337.3 293h0M308.2 283.3h0M296.3 284.6h0M316.4 298.5h0M332.4 296.5h0M318.7 283.9h0M314.3 283.6h0M299.5 279.9h0M301.7 288.8h0M297.6 290.8h0M324.5 285.6h0M336 296.9h0M319.1 288.4h0M320.3 298.5h0M304.7 293.9h0M314.3 298.1h0M302.8 284.4h0M297.2 275.5h0M314.4 285.2h0M323.5 287.6h0M300.4 284.5h0M306.6 298.5h0M310.6 299.7h0M305.6 292.9h0M297.8 283.6h0M340.5 295.2h0M296.2 284.9h0M299.8 292.5h0M317 300.2h0M312.5 289h0M302.4 289.3h0M310.2 280.9h0M338.3 300.5h0M332.6 291.2h0M320.5 294.9h0M335.3 296.7h0M296 274.9h0M327.4 298.3h0M317.1 285.1h0M306.4 293.7h0M332.4 290.4h0M299.2 279.5h0M333.4 291.2h0M301.8 283.1h0M304.8 291.7h0M304.5 279.9h0M303.6 277.9h0M323.2 284h0M299.1 284h0M323.4 300.2h0M319.6 288.4h0M301.8 285.2h0M333.4 296.3h0M333.2 291.8h0M336 298.6h0M317.3 281.2h0M323.8 300.5h0M315 287.1h0M307.9 279.7h0M297.1 284.9h0M338.4 291.6h0M315.4 286.3h0M339.4 295.9h0M305.7 287.2h0M301.1 285.3h0M335.5 294.9h0M342.3 292.7h0M304.1 282.2h0M306.6 284h0M325.3 292.4h0M339.5 292.5h0M323.5 285.9h0M326.8 296.4h0M332.8 297.6h0M314.4 290.3h0M299.4 285.2h0M309 299.3h0M316.3 302.7h0M330.5 297.7h0M321.6 289h0M318.6 283.1h0M307.1 289.4h0M323.1 287.9h0M302.9 275.8h0M337.1 296h0M323.1 285.2h0M335.1 295.9h0M334.1 294.9h0M338.4 295.6h0M318.3 293.9h0M298.2 277.8h0M304.8 287.1h0M311.4 282.1h0M306.6 277.9h0M335.8 293.2h0M307.7 274.1h0M324.2 298.8h0M301.7 283.6h0M328.2 291.6h0M301.8 279.6h0M299.9 276.4h0M303.3 275.6h0M319.1 291.7h0M309.6 282.3h0M317.9 283.4h0M339 288.4h0M305.5 281.5h0M306.4 292.1h0M316.4 301.7h0M308.5 295.3h0M297.5 287.9h0M335.1 289.4h0M317 300.2h0M332.2 293.4h0M301.9 285.4h0M304.6 279.3h0M309.3 281.8h0M308.3 279.1h0M342.1 292.8h0M332.8 290.3h0M310.6 294.4h0M309.3 276.3h0M302.7 295h0M310.7 286.4h0M308.8 298.3h0M308.8 285h0M299.8 278.2h0M298.9 285.9h0M318.8 300.4h0M317.7 288h0M297.9 285.2h0M307.6 274.9h0M310.3 282.4h0M305.9 291.4h0M309.5 293.3h0M303.3 293.7h0M335.2 297.5h0M324.3 284.3h0M303.1 290.5h0M337.4 289.6h0M303.9 274.9h0M319.8 283.3h0M316.2 281h0M326.7 288.9h0M304.3 280.8h0M298.3 275.1h0M308.2 274h0M300.3 275.4h0M339.3 301.1h0M301.4 273.9h0M323.2 293.5h0M296.5 277.8h0M310.5 298.5h0M323.4 300.6h0M297.9 289h0M311.4 294.4h0M297.4 277.3h0M304.2 291.4h0M298.6 284.7h0M317.2 284.6h0M326.8 296.6h0M299.6 285.3h0M306.1 279.2h0M299.8 282.6h0M304.3 295.9h0M321.5 289.2h0M322.9 297h0M298.4 285.2h0M307.6 295.8h0M322.3 290.7h0M316.6 303.1h0M337.4 300.1h0M331.9 291.3h0M313.3 287.5h0M309.7 290.2h0M299.2 295.5h0M299.3 274.6h0M308.8 293h0M334.9 292.2h0M314.9 294.7h0M302.5 278.5h0M327.9 290.8h0M336.8 292.2h0M342.4 290.9h0M303 275.8h0M314.8 292.7h0M326.5 287.5h0M316.5 292.2h0M296.9 292h0M324.6 293.4h0M298.9 277.6h0M302.9 285.7h0M312.3 281.7h0M307.2 279.2h0M319.1 292.9h0M327.1 294.5h0M329.9 290.3h0M336.3 298.1h0M307.1 296.3h0M307.4 276.6h0M340.4 293.4h0M313.4 280.3h0M316 299.7h0M301.3 294.5h0M318.3 292.2h0M298.6 278.4h0M309.9 293.2h0M331.5 293.7h0M302.4 283.2h0M304.3 293.9h0M298.5 275.8h0M333.4 292.9h0M324.1 298.3h0M310.9 287.9h0M299 279.3h0M313.5 294.5h0M312.6 292.7h0M300.9 283.1h0M324.4 286.6h0M339.7 290h0M316.1 288.4h0M298.5 282h0M337.1 293.8h0M301.5 289.2h0M334.9 288.4h0M338.7 288.3h0M309.8 280.1h0M309.7 294.5h0M321.9 284.8h0M311.9 298.1h0M312.9 280.6h0M305.6 292.4h0M337.2 294.8h0M319.2 281.5h0M301.4 273.7h0M307.5 282.8h0M319.9 287h0M321.2 298.1h0M313.3 294.6h0M321.2 287.8h0M310 286.5h0M319.2 296.6h0M303.6 288.6h0M301.1 281.3h0M311.1 294.8h0M313.7 290.1h0M312.6 283.5h0M301.3 289.3h0M335 295h0M336.6 295.2h0M321.7 299.9h0M323 298h0M324.3 299.4h0M336.4 294.6h0M335 296.7h0M336 290.3h0M303.2 278.4h0M342 291.1h0M310.6 285.1h0M303.8 287.9h0M306.1 290.1h0M317.4 288.4h0M308.3 285.3h0M297.4 284.5h0M300.2 295.1h0M336.6 300h0M307.8 297.6h0M339.1 295.2h0M314 283.1h0M316.3 291.9h0M314.9 285.5h0M332.7 290.8h0M313.4 282.8h0M304.6 286.5h0M310.2 288.2h0M326.1 287.9h0M308 294.9h0M312.3 281.2h0M307.2 292.3h0M319.2 281.9h0M315.5 280.9h0M305.3 292.3h0M311.1 290h0M308 298.3h0M326.2 292.5h0M332.1 299.2h0M296.9 290.4h0M306.4 278.6h0M339.7 297.5h0M312.9 299.8h0M299.5 277.7h0M298.8 288.9h0M312 298.1h0M300.6 281h0M325.9 288h0M305.7 285.1h0M318.2 294.4h0M301.7 282h0M303.6 278.8h0M325.8 286.8h0M317.5 282.9h0M335.3 291.8h0M320.4 301.4h0M319.9 291.9h0M298.6 286.3h0M319.9 299.1h0M312.3 279.3h0M326.4 288h0M312.8 279.9h0M311.4 295.6h0M297.2 291.1h0M317.7 291.7h0M303.9 294.9h0M298.2 285.9h0M326.7 292.2h0M319.9 293.8h0M304.4 295.9h0M317.8 298.9h0M314.2 299.8h0M296.3 285.8h0M329.7 288.7h0M308 297.1h0M302.1 286.9h0M340.5 295.3h0M338.1 299.1h0M301.5 291.3h0M296.7 286h0M312.9 297.9h0M331.4 293.3h0M313.3 284.8h0M312.3 296.2h0M328.7 289.3h0M312.7 292.5h0M301.9 287.9h0M326.3 291.5h0M298.2 295.7h0M310.8 279.1h0M320.8 297.6h0M311.1 290.6h0M299.4 287h0M306 298.6h0M312.9 300.7h0M303.2 294.5h0M324.5 299.1h0M317.9 281.1h0M306.7 295.3h0M323.3 289.3h0M310.5 294.9h0M298.9 282.8h0M308.7 282.1h0M317.9 290.8h0M320.8 287.8h0M300.2 294h0M310.8 299.1h0M304.1 279.2h0M332.6 291.7h0M302.1 285h0M335.3 289.1h0M334.6 289h0M319.8 288.9h0M311.1 298.9h0M329.6 293.2h0M314 283.7h0M305.6 296.9h0M302.7 297.7h0M323.1 291h0M306.8 298.6h0M312.4 290.4h0M337.3 297.2h0M302.8 275.4h0M306.5 296.1h0M302.5 286.6h0M314.2 295.8h0M321.4 287.2h0M295.5 285.8h0M305.2 291h0M300.3 291.6h0M298.2 290.4h0M302.7 293.6h0M312.7 283.4h0M330.1 293.4h0M310.1 289.9h0M315.7 301.8h0M305.5 288.1h0M305.8 276.6h0M309.9 283.8h0M308.2 299.2h0M307.2 290.5h0M335.4 289.8h0M319.5 282.7h0M336.6 290.7h0M333.5 299.7h0M308.4 298.3h0M307.7 294h0M335.5 287.9h0M314.2 291.7h0M297.7 295.1h0M304.5 293h0M314.2 281.8h0M304.9 283.4h0M321.4 296.3h0M317.4 285h0M302.3 278.9h0M319.2 283h0M317.2 282.5h0M316.7 281.5h0M297.5 286.7h0M299.7 273.7h0M311.6 280.2h0M317 296h0M327.6 293.4h0M300.1 283.2h0M314.9 296.6h0M300.5 284.7h0M320.2 297h0M307.1 277.8h0M322.2 302.3h0M316.4 291.7h0M300.3 290.1h0M308.3 283.6h0M325.4 287.1h0M324.2 297.9h0M339.9 298.7h0M305.2 284h0M320.9 301.3h0M327.8 291.2h0M320.9 301.5h0M320.8 295.1h0M320 283.1h0M321.1 296h0M309.8 283.2h0M301.2 290.2h0M313.2 295.8h0M306.5 286.7h0M301.4 274.6h0M317.5 289.9h0M326.6 285.5h0M339.1 295.8h0M299.3 273.3h0M296.6 288.6h0M331 295.4h0M314.7 295.7h0M338.8 287.8h0M337.5 291.5h0M300.2 279.9h0M308.2 280.5h0M321.5 282.7h0M308.7 275.2h0M313.7 286h0M300.5 282.7h0M308.1 275.3h0M299.8 282.9h0M332.2 298.1h0M326.2 285.6h0M306.2 293.6h0M311.1 283.4h0M315.7 299.1h0M335.4 292.2h0M336.5 300.1h0M303.6 298.2h0M321.9 297.7h0M327.3 298.9h0M300.9 286.5h0M308.3 273.8h0M306.1 294.1h0M332.4 292.9h0M327.4 292.8h0M312.1 292.7h0M308 294.7h0M328.8 294.5h0M340.4 288.6h0M325 289.7h0M317.2 299.8h0M319.7 288.2h0M317.6 295.2h0M342.6 292.5h0M335.5 298.8h0M315.8 290.6h0M305 282.2h0M335.8 288h0M303.6 291.4h0M299 273.9h0M317.2 290.2h0M309.7 276h0M309.8 287.2h0M309.3 276.9h0M321.8 300.6h0M325.2 299.3h0M309 287.9h0M334.4 296.3h0M303.4 284.7h0M306.5 275.8h0M335.9 288.1h0M315.2 286.9h0M301.5 295.4h0M303.9 294.9h0M305.8 277.3h0M313.1 280.7h0M306.9 274.8h0M314.4 296h0M327 298.7h0M305.1 296.7h0M300.9 275.9h0M309.1 287.6h0M316.6 292.6h0M307.4 277.1h0M319.6 294h0M315.2 281.7h0M307.7 298.9h0M304 292.5h0M321.5 285.7h0M319.9 292.6h0M332.7 289.5h0M329.6 292.1h0M314 282.4h0M328.7 293.4h0M306.8 277.3h0M333.4 295.4h0M319.7 294.5h0M314.4 282.8h0M323.3 289.6h0M330.5 290.8h0M302.6 279.8h0M323.2 292.3h0M313.8 289.5h0M317.2 287.2h0M313.2 292.1h0M310 279.7h0M337.5 298.2h0M322.8 290.7h0M334.1 295h0M308.2 290h0M328.4 288.4h0M300.3 277h0M308.7 285.8h0M323.6 298.6h0M300.1 295h0M310.4 293h0M340.7 295.9h0M325.1 296.6h0M310.6 283.2h0M333.3 297h0M315 300.1h0M333.1 292.6h0M315.7 286.6h0M304.7 279.6h0M322 298.2h0M332.2 291.6h0M317 298.1h0M325.2 285.6h0M301.7 282.6h0M327.4 294.2h0M311.7 292.1h0M310.8 278.4h0M321.7 296.7h0M319.5 283h0M297.4 274.3h0M303.2 295.2h0M299.1 295.9h0M320.8 303.2h0M298.8 278.2h0M328.1 292.9h0M298.3 293.1h0M301.1 275.9h0M337.7 291.8h0M299.3 297.7h0M322.9 295.2h0M312.2 291.3h0M316.6 300.5h0M323.3 286.9h0M336.7 290.5h0M328.4 292.6h0M311.5 291.5h0M303.1 288.8h0M340.3 298.6h0M324.5 298.6h0M298.3 289.8h0M325.3 285.6h0M304.9 287.1h0M312 289.6h0M296.4 276.5h0M332.8 289h0M324.5 284.1h0M299.9 293.2h0M307.9 278.1h0M314.4 286h0M298.6 276.6h0M337.5 293h0M323.5 284.1h0M305.1 291.7h0M333 292h0M314.1 292h0M300.5 290.9h0M301.5 279.2h0M331.5 292.4h0M329.1 293.1h0M324.9 298h0M296.4 288h0M324.7 291.9h0M297.2 285.9h0M297.2 289.2h0M306.6 282.5h0M310.1 278.7h0M309.6 283.1h0M340.1 295h0M304.3 288.4h0M305.8 274.4h0M301.7 297.2h0M324.3 297.7h0M299 290.4h0M321.9 300.8h0M337.7 297.4h0M325.7 292.3h0M309 287.2h0M333.2 289.8h0M315.4 299.6h0M303.9 278.8h0M341.5 293.9h0M324.3 288.7h0M313.4 284.8h0M304.7 279.1h0M306.8 278.6h0M302.9 275.7h0M302.2 286.4h0M322.3 284.3h0M330 296.3h0M298.8 296.5h0M326.9 296.2h0M301.5 288.2h0M317.5 303.2h0M333.3 288h0M302.2 289.2h0M301.6 278.2h0M342.1 294.5h0M322.3 285.5h0M311.2 295.7h0M337.3 292.5h0M335.3 288.9h0M326.7 291.2h0M307.8 285.3h0M320.8 303.3h0M332.6 292h0M299 286.6h0M308.3 293.5h0M298.5 279.2h0M317.4 288.6h0M328.1 297.4h0M306.7 287.2h0M332.9 290.4h0" stroke="#18A8F0" stroke-width="1.8" stroke-linecap="round" fill="none"/>
<path d="M310.9 267.9h0M316.7 270.5h0M314.4 268.1h0M321.3 272.4h0M312.8 261.2h0M314.9 263.4h0M314.2 266.5h0M318.7 271h0M310.2 267.5h0M312.9 264.8h0M317.5 268.1h0M319.5 273.8h0M317.9 270h0M317.7 267.7h0M312.9 268.2h0M313.5 262.3h0M316.4 268.5h0M311.1 262.8h0M315.6 265.6h0M314.6 266.8h0M310.9 267h0M317.2 271h0M322.1 274.2h0M318 270.8h0M313.1 271h0M323.1 272.3h0M320.5 275.5h0M319.4 270.1h0M311.6 272.2h0M323.4 274.5h0M316.7 267.9h0M313.7 268.2h0M320.6 275.6h0M310.7 269.6h0M314.1 262.6h0M320.1 269.3h0M319.3 271.1h0M322.4 274.4h0M313.2 267.2h0M309.9 270.8h0M313.8 261.5h0M322.7 273.1h0M311.1 266.7h0M312.5 268.4h0M314.2 261.1h0M312 267.7h0M316.4 269.9h0M320.5 269.3h0M311.6 270.6h0M320.5 271h0M318.8 274.2h0M312 265.1h0M318.4 273.1h0M315.2 264.4h0M310.7 272h0M311.2 272.2h0M311.9 266.8h0M321 275.6h0M312.5 262h0M314.8 266.2h0M315.4 269h0M319.7 275.1h0M312.6 266.6h0M319.6 274.2h0M322.9 274.9h0M319.3 275h0M313.9 260.9h0M312.3 272.2h0M310.5 271.7h0M310.8 267.6h0M320.3 269.8h0M312.9 266.7h0M312.3 269.9h0M321.1 272.9h0M315.8 265.7h0M311.5 266h0M311.3 267.6h0M321.6 274.1h0M311.1 267.6h0M320.8 271.9h0M315.3 262.6h0M313.9 262.8h0M316.2 264.2h0M315 261.5h0M320.3 271.1h0M322.8 276.5h0M319.7 274.8h0M312.2 267.3h0M317.1 266.1h0M322.6 271.7h0M319.8 269.4h0M318 270.7h0M313.9 262.3h0M310.4 269.4h0M311.2 268.8h0M310.6 264.9h0M312.4 262.5h0M315.6 264.6h0M319.3 273.1h0M313.6 265.9h0M313.2 266.8h0M314.8 268.4h0M318.2 268.9h0M312.3 270.1h0M314 262.2h0M320 272.7h0M312.5 269.8h0M323.6 275.3h0M319.3 269.5h0M319.6 270.4h0M314.7 265.8h0M311 265.2h0M314.8 265.8h0M319.6 270.8h0M317.9 268.2h0M316.7 270.9h0M320.3 269.4h0M310.7 264.3h0M320.2 275.7h0M320.2 269.9h0M320.3 275h0M312.9 264.9h0M311.8 262.2h0M310.9 265.6h0M320.7 274.7h0M315 268.5h0M318.7 271.1h0M315.3 268.8h0M312.9 269.7h0" stroke="#18A8F0" stroke-width="1.7" stroke-linecap="round" fill="none"/>
<path d="M290.9 300.9h0M329 310.3h0M331.8 311.2h0M327.6 331.8h0M275.3 353.3h0" stroke="#1480E0" stroke-width="1.4" stroke-linecap="round" fill="none"/>
<path d="M341.2 308.9C341.2 308.1 342.8 307.6 343.5 307.9C344.2 308.3 345.5 310.4 345.4 311.2C345.3 312 343.7 313 343 312.6C342.3 312.2 341.1 309.7 341.2 308.9Z" fill="#1490E8"/>
<path d="M341.4 308.1h0M343.1 307.7h0M344.1 309.3h0M346 311.5h0M344.3 311.3h0M342.4 312.1h0M341.6 311.1h0M342.6 310.7h0" stroke="#1490E8" stroke-width="1.2" stroke-linecap="round" fill="none"/>
<path d="M280.7 363.1C280.8 362.4 281.7 361.8 282.3 362.6C282.9 363.4 284.2 366.8 284.2 368C284.2 369.2 282.8 369.8 282.3 369.6C281.8 369.4 281.4 367.9 281.1 366.8C280.8 365.7 280.5 363.8 280.7 363.1Z" fill="#1490E8"/>
<path d="M281.4 362.2h0M282.8 362.2h0M283.1 364.7h0M283.7 364.6h0M283.4 366.7h0M283.8 368.7h0M281.9 369.7h0M281.2 368.7h0M281.4 367.6h0M281.6 364.5h0" stroke="#1490E8" stroke-width="1.2" stroke-linecap="round" fill="none"/>
<text x="248.3" y="366" font-size="15" font-weight="bold" fill="#000" text-anchor="start" textLength="23.2" lengthAdjust="spacingAndGlyphs">Lav</text>
<rect x="338.3" y="312" width="1.6" height="6" fill="#999" opacity="0.7"/>
<path d="M354.7 40.9H361.2V26.9L368 54.9L361.2 82.9V68.9H354.7Z" fill="#e8e8e8" stroke="#222" stroke-width="1.1" stroke-linejoin="miter"/>
<path d="M354.7 169.4H361.2V155.4L368 183.4L361.2 211.4V197.4H354.7Z" fill="#e8e8e8" stroke="#222" stroke-width="1.1" stroke-linejoin="miter"/>
<path d="M354.7 298.0H361.2V284.0L368 312.0L361.2 340.0V326.0H354.7Z" fill="#e8e8e8" stroke="#222" stroke-width="1.1" stroke-linejoin="miter"/>
<rect x="371.8" y="4.9" width="191.2" height="98.4" fill="#fff" stroke="#8a8a8a" stroke-width="1"/><path d="M371.8 54.2H563M435.4 4.9V103.3M499.6 4.9V103.3" stroke="#666" stroke-width="0.9"/><text x="403.6" y="10.1" font-size="3.4" font-weight="normal" fill="#555" text-anchor="middle" >Cluster 1</text><text x="467.5" y="10.1" font-size="3.4" font-weight="normal" fill="#555" text-anchor="middle" >Cluster 2</text><text x="531.3" y="10.1" font-size="3.4" font-weight="normal" fill="#555" text-anchor="middle" >Cluster 3</text><text x="403.6" y="59.8" font-size="3.4" font-weight="normal" fill="#555" text-anchor="middle" >Cluster 4</text><text x="467.5" y="59.8" font-size="3.4" font-weight="normal" fill="#555" text-anchor="middle" >Cluster 5</text><text x="531.3" y="59.8" font-size="3.4" font-weight="normal" fill="#555" text-anchor="middle" >Cluster 6</text>
<path d="M398.1 20.7h0M394.6 23.2h0M395.9 20.2h0M403.2 17.1h0M403.6 21.5h0M391.1 20.5h0M397.4 21h0M393.2 25.9h0M391.4 24.5h0M393.4 23.6h0M397.1 21.3h0M392 24.3h0M404.3 21.5h0M391.1 25.2h0M396.6 21h0M391.8 22.2h0M400.7 20h0M393 24.8h0M405.3 26h0M402.8 28.6h0M404.2 20.9h0M391.1 23.8h0M394.1 20.8h0M402.4 21.9h0M401.5 21.9h0M394 26.6h0M399.3 25.1h0M396.8 21.4h0M401.5 24.9h0M403.3 18.8h0M397.3 22.1h0M404.2 24.8h0M388.1 20.2h0M394 25.6h0M401.1 21.2h0M390.4 22.9h0M404 22.1h0M401.2 17.9h0M403.5 22.8h0M395 20.1h0M405.5 27.7h0M403.4 28.8h0M400.7 28.7h0M393.3 19.8h0M394.8 27.9h0M396 24.8h0M395.3 27.7h0M392.4 26.3h0M403.4 24.8h0M402.5 20.7h0M396.3 23.9h0M405.6 28.8h0M405.4 20.6h0M396.5 21h0M398.8 24.5h0M400.7 27.6h0M392.7 20.4h0M400.4 22h0M395.5 19.3h0M403.3 18.8h0M399.3 19.8h0M399.8 26.9h0M397.2 21.3h0M404.1 28.8h0M405.4 24.9h0M404.8 21.8h0M402.9 27.3h0M404.4 23.3h0M401.3 19h0M402.8 29.4h0M396.8 25h0M392.6 22.2h0M403.7 26.5h0M398.8 26.5h0M404.3 25.7h0M390.9 24.4h0M395.5 20h0M399.3 26.9h0M402.5 25.8h0M399.8 28.8h0M405.8 21.7h0M393.5 20.9h0M399.1 28.6h0M403.9 21.3h0M393.2 25.5h0M398.5 28.3h0M394.7 28.5h0M402.7 24.3h0M401.6 26.8h0M392.2 19.4h0M395.1 24.1h0M400.5 20.1h0M399.1 20.4h0M406 21.7h0M388.3 21.7h0M405.1 24.2h0M397.3 26.1h0M393.8 25.7h0M400 25.3h0M397.1 25h0M390.4 21.2h0M393.6 20.3h0M404 18h0M401.9 29.9h0M390.1 24.2h0M401 24.6h0M392 26.2h0M396.2 25.8h0M392.2 25.8h0M403.7 26.1h0M401.1 21.3h0M406.4 25.7h0M392.6 21.6h0M402.9 25.2h0M403.8 27.7h0M396.3 21.6h0M392.6 20h0M406.8 24.7h0M406.1 25.5h0M398.9 22.6h0M402.6 27.2h0M399.2 25h0M388.9 21.3h0M398.6 23.2h0M403 16.4h0M398.6 20.9h0M388.2 20h0M402.3 26.5h0M404.1 21h0M389.2 20.5h0M396.4 25.5h0M400.9 28.2h0M401.9 23.9h0M402.4 22.2h0M391.9 19.7h0M396.9 28.2h0M395.5 27h0M406.2 27.1h0M402.5 19.8h0M398.2 24.9h0M406.2 27.2h0M395.6 21.9h0M390.5 23.8h0M391.6 20h0M403.1 27.8h0M402.6 20.9h0M400.4 22.9h0M395.2 22.5h0M400.4 20.8h0M399.2 24.7h0M392.3 19.3h0M388.3 20.8h0M405 17h0M396.2 20.1h0M399.3 27.6h0M390.5 22h0M396.6 19.9h0M391.7 22.9h0M403.9 22.8h0M395.4 19.8h0M403 28.9h0M393.2 25.8h0M403.5 20.1h0M401.6 24.9h0M394 23.6h0M405.3 19.8h0M392.8 19.2h0M392.4 23h0M402.4 18.5h0M396.6 24.4h0M390.8 23.2h0M391.4 25.6h0M396.8 23.9h0M404.2 27h0M390.8 22.6h0M402.7 19.5h0M397.9 25.3h0M402.9 19.3h0M389.9 23.8h0M394.6 21.1h0M404.8 28.9h0M394.2 20.9h0M390 21.4h0M404.7 16.2h0M390.9 23.5h0M394.1 26.4h0M405.8 21.2h0M401.3 27.7h0M402.3 20.3h0M405.4 20.1h0M404 21.7h0M388.8 20.6h0M392.8 21.3h0M401.2 29.3h0M405.2 17.5h0M399.2 19.8h0M390.7 19.6h0M401.4 28.2h0M398 23.3h0M403.2 28.4h0M405.6 24.8h0M405.2 26.7h0M400.8 27.2h0M397.6 25h0M390.4 24.6h0M405.2 26.2h0M402 27.6h0M402.4 26.3h0M403.3 24.3h0M391 22.4h0M393 25.6h0M404.7 27.4h0M404.2 25.8h0M403.4 21h0M393.5 20h0M405 21.3h0M390.2 23.4h0M391.7 24.6h0" stroke="#F27F80" stroke-width="2" stroke-linecap="round" fill="none"/>
<path d="M393.8 46.4h0M392.2 48h0M388.7 47.4h0M376.4 37.7h0M392.8 43.4h0M391.4 47.3h0M393 46.3h0M383.5 39.2h0M385.8 35.6h0M391.1 44.1h0M381.8 39.3h0M379.8 38.3h0M386.8 38.8h0M381.2 29.9h0M377.4 36.8h0M378.8 34.8h0M384.7 41.9h0M381 39.9h0M381.6 34.2h0M385.4 37.2h0M385.6 40.5h0M393 40.5h0M376.1 35.6h0M382.9 44.3h0M386.9 47h0M389.4 47.5h0M382.6 37.4h0M385.8 40.9h0M393.8 47.3h0M385.1 41.9h0M376.1 32.5h0M387.7 45.5h0M376.8 34.5h0M389.6 47.6h0M375.9 36.9h0M384.4 41.2h0M384.4 42.2h0M376.1 32.6h0M388.5 40.5h0M387.3 45.4h0M385 41.5h0M392.7 45.2h0M387 40.5h0M388.2 43.2h0M376 34.2h0M381.2 34.8h0M384.6 47.5h0M385.3 45.6h0M380 30.8h0M384.9 36h0M376.6 32.1h0M386.8 38.1h0M384.4 42.3h0M390 42h0M385.8 42.5h0M380.7 37.1h0M379.2 39h0M379.8 41h0M393.2 44.5h0M386 39.2h0M381 35.9h0M385 42.5h0M390.8 40.3h0M389 42.5h0M388.3 42.2h0M385.4 39.3h0M379.4 35.4h0M375.6 36.2h0M382.9 45.5h0M387.6 40.9h0M384.4 33.7h0M385.4 38.6h0M375.8 36.7h0M385.5 38.7h0M392.9 48.1h0M391.9 49.3h0M377 37.7h0M392.5 49.3h0M379.2 32.8h0M388.3 47.2h0M389 46.8h0M383.1 44.8h0M379.8 30h0M383.6 31.4h0M377.8 37.9h0M388.6 37.2h0M392.6 41.7h0M394.4 45.2h0M390 46h0M390.6 41.7h0M376.8 34.4h0M388.3 42.6h0M392 40.5h0M384.5 33.6h0M383.7 40.6h0M386.5 43.3h0M380.5 30.9h0M375.5 33.5h0M389.4 44h0M386.4 46.6h0M379.2 40.1h0M381.7 42.2h0M382.2 33.8h0M380.2 40.7h0M383.7 44.2h0M384.1 37.2h0M377.2 38.6h0M378.5 36.7h0M382.2 33.3h0M382.2 37.5h0M391.2 43.6h0M392.3 41.9h0M387.3 46.7h0M381.7 37.3h0M387.6 39.4h0M386.1 40.6h0M383.9 39.3h0M386.8 36.5h0M384.5 38.9h0M393 49.5h0M388.8 41.4h0M381.4 33.2h0M383.6 37.1h0M381.2 39.3h0M391.9 44.1h0M379.4 41h0M381.8 38.5h0M376.7 33.1h0M381.2 37.7h0M386.4 38.6h0M394.8 47.5h0M384.6 43.2h0M384.9 42.7h0M384 42.7h0M384.5 38.9h0M383.3 40.2h0M390.9 38.8h0M384.8 37.1h0M377.9 30.8h0M377 31.9h0M393 42.5h0M379.5 32.9h0M384.2 37.5h0M385.6 43.5h0M384.4 36.9h0M385.7 43.7h0M378.6 37.6h0M382.4 30.5h0M389 39.9h0M386.4 41.1h0M379.1 39h0M383.7 36.6h0M392.6 46.5h0M379.3 37.8h0M390.5 45.2h0M385.9 36.7h0M378.4 33.4h0M389.3 37.8h0M378.7 40.6h0M376.3 36.4h0M375.5 34.7h0M383.7 34.1h0M391.3 39.6h0M382.2 35h0M389.5 41.5h0M376.6 33.5h0M391.4 42.6h0M380.4 41.3h0M384.5 33.2h0M385.1 44.1h0M392.2 41.9h0M393.4 41.1h0M383.3 43.7h0M380.8 41.5h0M383 45.2h0M379 31.9h0M375.9 36.4h0M387.9 38.1h0M393.8 42.7h0M383.2 31.6h0M388.6 44.4h0M389.4 41.7h0M386.5 39.5h0M380.1 36.2h0M390.2 47.3h0M383.4 35.6h0M382.3 36.7h0M388.6 44.5h0M383.5 44.9h0M381.7 44.5h0M390.6 43.8h0M383.4 31.8h0M384.6 38.1h0M389.8 41.8h0M387.8 38.5h0M383.7 47h0M386.6 39.1h0M383 35.3h0M384.1 35.5h0M390.6 42.8h0M379.2 32.4h0M392.1 40.9h0M392.2 47.4h0M392.9 47.9h0M383.6 43.4h0M381.9 41.8h0M387.6 47.2h0M379.1 37.4h0M383.9 34.9h0M385.4 37.2h0M385.2 36.8h0M376.8 34.9h0M389.2 39.5h0M383.7 45.6h0M381.8 40h0M391 48.3h0M383.8 46.6h0M387 40.7h0M386.7 44.2h0M378.3 30.7h0M375.4 34.8h0M381.9 35.7h0M380.5 36.3h0M382.4 47.2h0M383.2 34.5h0M393.5 40.9h0M384.3 45.1h0M384.5 47.1h0M387.9 43.1h0M386.5 42.3h0M393.7 42.3h0M381.4 35.8h0M385.4 42.1h0M380.1 33.2h0M377.8 40.2h0M376.4 31.3h0M393.7 43.4h0M381.9 32.3h0M383.1 44.9h0M378.8 35.6h0M393.9 47.6h0M378.1 36.7h0M382.5 32.5h0M381.7 39.2h0M390.5 43.5h0M384.9 37.8h0M391.5 40.3h0M379.7 29.8h0M378.1 32.2h0M384.2 47h0M391.2 41.5h0M390.9 42.5h0M378.5 31.9h0M390.6 41.7h0M382.9 31.9h0M377 31.6h0M382.7 46.5h0M378.4 30.3h0M389.5 38.6h0M379 36.8h0M376.6 33.7h0M378.2 30.9h0M387 47.3h0M387.3 41.5h0M385.8 45.5h0M382.9 43.7h0M378.2 33h0M388.5 39.2h0M390.8 42.3h0M380.8 31.4h0M379.6 34.4h0M379.7 41.6h0M389 40.7h0M383.8 37.8h0M382.4 32.7h0M385.2 46.6h0M384 39.4h0M385.6 38.2h0M379.4 40.5h0M385.7 44.6h0M386.7 44.6h0M384.5 38.3h0M391.4 41.2h0M393.1 46.3h0M382.9 41.5h0M393.4 42.7h0M377.6 31.6h0M394.8 46.1h0" stroke="#F27F80" stroke-width="2" stroke-linecap="round" fill="none"/>
<path d="M387.7 28.3h0M381.9 26.1h0M392.8 29h0M396.5 35.9h0M403 32.9h0M387 26.8h0M397.9 36.3h0" stroke="#F27F80" stroke-width="2" stroke-linecap="round" fill="none"/>
<path d="M431.2 77.4h0M422.6 68h0M417 64.8h0M426.6 83.5h0M423.8 63.4h0M421.8 64.1h0M426 76.4h0M415.7 65.5h0M415 64.2h0M425.3 77.6h0M424.1 73.4h0M430.9 80.4h0M424.8 83.2h0M419.4 66.9h0M424.3 63.6h0M427.8 73.2h0M430.9 76.3h0M415.9 67.9h0M429.3 73h0M420.8 69.1h0M429.6 83.8h0M421 67.5h0M415.4 63.8h0M422.3 62h0M426.6 67.7h0M428.3 85h0M428.1 76.6h0M423.5 73.2h0M418.9 69.7h0M426.9 79.2h0M427.2 71.4h0M425.2 85.4h0M415.5 64.4h0M423.5 68h0M419.7 65.2h0M419.5 64.1h0M419.4 63h0M431 77h0M427.5 79.4h0M416.1 68.1h0M418.1 71.3h0M417.9 70.2h0M425.8 83.1h0M428.9 80.9h0M422.5 68.8h0M431 76.8h0M427.4 75.4h0M421.5 62h0M426.9 84.5h0M422.6 67.9h0M419.1 62.3h0M429.6 73h0M425.8 82.6h0M429.5 82.6h0M421.6 62.2h0M431.1 78.9h0M426.1 68.5h0M418.3 62.2h0M421.8 72h0M416.6 62.9h0M429.1 71.3h0M430.8 80h0M417.6 71.3h0M432.9 79.5h0M420.8 70.7h0M417.6 66.9h0M425.1 85h0M428.2 73.7h0M418.5 65.3h0M425.8 81.4h0M429 72.5h0M424.7 85.1h0M425.4 81.2h0M423.9 83h0M415.2 65.8h0M418.9 69h0M424.2 71.6h0M417.9 61.9h0M421.3 65.8h0M427 76.5h0M416.4 64.2h0M425.8 76.7h0M419 68.5h0M428.3 80.5h0M428.7 76.9h0M428.4 69.6h0M423.9 67.1h0M420.7 71.9h0M429 80.4h0M426.8 72.7h0M431 81.2h0M427 70.7h0M426.2 83.7h0M418.5 65.6h0M423.3 69.2h0M426.8 83.7h0M419.7 69.8h0M425.5 84h0M430.6 74.7h0M427.3 78.6h0M417.7 68.3h0M430.7 82.4h0M427.8 70.9h0M426.9 80.1h0M426.3 73.3h0M422.7 62.1h0M419.2 64.2h0M430.6 71.9h0M415.9 66.6h0M425.8 73.5h0M429.7 77.4h0M418.2 67.8h0M426.4 68.5h0M430 71.8h0M426.3 67.7h0M418.6 62.4h0M421.8 63.1h0M416.8 66.4h0M428.4 71.8h0M415.4 65.9h0M428.4 83.7h0M418 67.2h0M429.9 81.4h0M429.8 73h0M426.8 73.3h0M423.7 72h0M423 68.2h0M427.1 74.8h0M422.4 67.8h0M424.3 83.5h0M429.9 80.2h0M424.3 84.3h0M428.2 74.2h0M421.3 71.1h0M426.9 81h0M431.8 79.2h0M427.9 82.1h0M425.5 77.6h0M429.9 79h0M427.5 80.6h0M417.2 62.9h0M425.2 66.1h0M425.6 74.9h0M421.6 70.2h0M420.2 66.1h0M429.2 81.2h0M423.1 73h0M423.2 69.1h0M430.5 83.5h0M417.5 68.3h0M420.9 65.3h0M418.7 66.5h0M423.8 68h0M426.7 69.2h0M428.8 79.4h0M418.8 63.2h0M422.5 73.3h0M428.9 75h0M428.7 74.1h0M421.2 67.8h0M417.1 65.9h0M431 81.3h0M429.8 81h0M424.8 64.2h0M430.3 72.3h0M415.7 66.8h0M432.6 79.3h0M420.1 70.5h0M426.9 83.4h0M427.1 69.5h0M427.8 73.6h0M429.7 84.4h0M431.6 75.5h0M421.7 72.3h0M428.1 80.1h0M425.7 85.2h0M421 62.1h0M428.1 72.8h0M423.2 69.9h0M418.5 67.7h0M425.6 69h0M420.4 70.1h0M420.2 65.9h0M425.1 70.2h0M425.5 76h0M427 67.9h0M427.4 77.3h0M424.7 73.6h0M415.6 65.8h0M429.2 81.8h0M430.1 75.4h0M426.3 78.7h0M428.1 79.5h0M429.1 78.5h0M416.9 70.2h0M420.7 62h0M426.4 74.3h0M422.2 65.3h0M418.1 70.4h0M430.9 79.1h0M425 84.5h0M416.8 66.4h0M422 72.9h0M425.3 79.3h0M428 78.5h0M432.6 77.9h0M421.3 62.8h0M425.4 64.6h0M415.4 65.9h0M429.7 80.4h0M430.4 74.6h0M421.1 71.5h0M428.9 81.5h0M428.2 77.4h0M427.4 79.1h0M423.4 83.1h0M428.4 76h0M425.7 80.6h0M427.4 84.4h0M420.7 65.3h0M430.3 79.8h0M423.4 73.4h0M430.3 74.4h0M423.8 73.4h0M432.5 79.2h0M424.4 80.1h0M420.7 63.1h0M427 79.1h0M427.1 68.2h0M424.8 84.1h0M417.1 63.9h0M416.5 64h0M427.8 80.7h0M428.6 80.2h0M430.2 80.1h0M425.2 75.4h0M424.3 68.4h0M428.2 76.2h0M419.8 61.6h0M423.9 66.2h0M430.5 76.8h0M424.1 81.4h0M425.1 67.3h0M423.8 67.9h0M423 66.2h0M425.6 81.5h0M428.9 73.2h0M421.6 71.8h0M426 85.3h0M418 70.7h0M422.5 62.5h0M428.8 81.4h0M430.2 72.9h0M427.5 72.5h0M422.8 64.6h0M417.9 63.7h0M426.1 74h0M430.2 80.3h0M427 76.2h0M428.9 75.9h0M424.2 72.7h0M422.8 72.8h0M420.1 68.7h0M424.9 65.9h0M424.2 81.9h0M427.7 79.8h0M428.7 81.5h0M418.2 65.5h0M426.5 72.5h0M427.4 77.6h0M419.3 68.3h0M422.1 73.1h0M417.5 65.5h0M417.5 68.1h0M425 82.7h0M426 67.6h0M425.4 84.5h0M417.7 66.7h0M427.3 74h0M414.8 65.2h0M430.5 74.9h0" stroke="#1FB896" stroke-width="2" stroke-linecap="round" fill="none"/>
<path d="M395.3 67h0M405.7 73.2h0M410.6 74.3h0M414.7 73.5h0M420.8 77.6h0M424.2 80.1h0M404.1 85.6h0M423.5 88.4h0" stroke="#1FB896" stroke-width="2" stroke-linecap="round" fill="none"/>
<path d="M465.9 9.8h0M470.1 11.2h0M464.8 23.3h0M454.2 10.7h0M453.8 22.5h0M450.1 14.6h0M465 8.2h0M458.6 16.6h0M462.6 26.7h0M458.5 16.4h0M458.8 24.9h0M450.6 18.8h0M462.3 19.8h0M449.6 19.4h0M452.8 11.4h0M457.6 14.1h0M455.3 10.1h0M469 21.1h0M469.6 22.4h0M461.1 19.8h0M464.9 21.1h0M455 19.7h0M470.4 13.1h0M461.4 11.4h0M459 20.8h0M458.1 25.5h0M457.1 12.8h0M460.3 23.3h0M466.5 15.5h0M449.1 18h0M455 16.6h0M456.8 17.7h0M459.5 27.7h0M451.2 21.4h0M462.5 25.2h0M468.1 13.6h0M448.7 19.1h0M467.5 23.7h0M467.2 24.5h0M463.1 22.5h0M459 19.8h0M465.5 10.7h0M461.1 9h0M455.4 26.9h0M461.4 14.2h0M453.7 23.2h0M463.8 19.2h0M467.5 24h0M459.2 15.2h0M468.2 24.6h0M471.5 11.8h0M453 18.9h0M473.4 15.4h0M460.4 18h0M467.1 10.5h0M461.6 11.3h0M457.6 24.6h0M465.6 16.4h0M458.6 9.8h0M461.7 13.5h0M473 13.6h0M461.6 27.6h0M465.8 12.4h0M458.7 16.8h0M453.3 14.4h0M473.2 15.8h0M461.5 18.6h0M466.2 10.9h0M455.8 15.9h0M454.9 20.4h0M450.5 13h0M468.7 9.7h0M467.4 15.5h0M453.5 9.7h0M468.7 23.1h0M471.3 19h0M456.7 19.2h0M454.2 19.1h0M461.2 20.2h0M457.3 26.4h0M473.4 14.6h0M455.7 25.9h0M454.5 21.5h0M454 18.8h0M460.1 16.1h0M460.5 18.7h0M458.2 19.1h0M456.9 17.7h0M464.5 23.3h0M468 9.9h0M468.7 21h0M463.1 12.5h0M468.8 23h0M469.5 20.3h0M463.1 8.8h0M463.8 10.2h0M470.7 19.1h0M458.4 12.3h0M466.6 12.1h0M457.6 20.3h0M464.2 23h0M455.8 21.5h0M460 9.7h0M463.6 10.3h0M450.8 13.8h0M458.4 21.7h0M449.8 20.1h0M460.2 17.8h0M459.9 20.2h0M472.1 13.5h0M460.7 25h0M466.9 8.4h0M457.8 25.1h0M458.3 11.6h0M450.2 15.6h0M454 15.3h0M467.6 24.4h0M465.3 15.8h0M454.6 13.1h0M451.4 19.5h0M463 12.4h0M456.8 25.4h0M460.1 22.5h0M460 7.6h0M464.6 25.3h0M467.2 14.3h0M465 19.4h0M473 18.3h0M462.6 17.8h0M467.7 21.6h0M465.1 22.4h0M471.8 14.2h0M466.9 20.5h0M458.4 19.2h0M459.5 19h0M465.4 21.7h0M469.3 19.5h0M457.6 23h0M451.6 16.7h0M462.6 17.2h0M455.9 9.6h0M459.9 12.7h0M457.8 19.4h0M468.4 22.1h0M462.2 25.1h0M469.1 15.1h0M457.8 13.1h0M458 16.9h0M464.8 23.8h0M468.4 18.7h0M454.5 18.4h0M455.4 15.2h0M463.4 21.5h0M455.2 23h0M456.2 21.4h0M457.6 8.2h0M471.1 14.4h0M463.1 25.3h0M454.3 20.7h0M466 10.8h0M463 22.2h0M462.2 13.4h0M467.3 24.5h0M453.1 10.4h0M456.9 14.5h0M460.4 22h0M453.6 20.9h0M467.8 17h0M461.8 17.4h0M467.1 14.3h0M467.6 17h0M455.2 9.9h0M456 18.2h0M454.4 21.7h0M466.7 19.1h0M463.6 16.6h0M454.4 23.1h0M469.4 20.3h0M464 10.5h0M460.5 27.1h0M461 21.9h0M456.6 15.2h0M461.8 8.8h0M459.3 27.6h0M457.9 12.6h0M464.1 7.8h0M465.2 11.9h0M464.1 23.4h0M448.5 15.2h0M449.3 17.7h0M468 13h0M469 18.9h0M458.2 15.9h0M458.3 27h0M451.9 20.4h0M452 19.3h0M457.4 23h0M463.7 9.6h0M470.3 18.4h0M452.5 23.7h0M462.7 26.3h0M468 11.5h0M453.6 15.3h0M462.9 16.6h0M447.1 17.8h0M473.1 13.1h0M472 17.6h0M449.9 17h0M461.3 27h0M472.3 12.3h0M456.6 11.5h0M473.4 13.5h0M465.3 23.6h0M466.3 23.3h0M470.9 12.3h0M463.1 10.3h0M465.3 8.2h0M450.3 17.3h0M456.2 16.8h0M459.7 24.9h0M454.9 24.4h0M471.1 10.6h0M458.8 22.9h0M449.7 16.9h0M454.1 19.7h0M470 12.6h0M456.9 19.5h0M457.9 12.2h0M466.3 17.7h0M458.5 17.1h0M461.9 7.9h0M465.1 8.3h0M453.6 25.9h0M470.6 14.2h0M462.5 10.9h0M461.7 26.2h0M460.5 12.1h0M459.5 19.5h0M461.2 25.3h0M463.5 24.8h0M455.1 9.6h0M456.7 10.2h0M471.4 13.9h0M461.2 10h0M449.8 18.3h0M448.1 16.1h0M468.8 15h0M454.1 20.8h0M461.8 25.5h0M451.1 17.8h0M457.9 21.2h0M462.3 9.6h0M455.9 18.7h0M465.9 15h0M472.1 19.4h0M465.7 25h0M469 8.5h0M456.7 24.6h0M460.3 25.1h0M470.4 20.7h0M453 19.7h0M459.2 24.5h0M466.2 18.5h0M466.6 11.3h0M458.3 10.7h0M458.5 27.8h0M465.9 21.3h0M467.7 14.5h0M464.7 26.1h0M457.5 11.1h0M456 9.2h0M463.3 26.3h0M461.6 24.7h0M457.3 21.1h0M457.3 10.1h0M465.4 7.9h0M472.5 17.2h0M451 14.7h0M461 17.2h0M459.4 27.9h0M450.7 16h0M469.4 10.1h0M472.2 17.5h0M461.6 19.8h0M461.5 17.6h0M452.4 21.6h0M464.2 20.1h0M457 13h0M459.1 19.2h0M468.2 20h0M453.4 10.3h0M472.3 16.4h0M454.2 17.5h0M456.6 26h0M459.3 15.9h0M459.9 14h0M461.2 21.1h0M465.2 21.5h0M449.9 15.3h0M465.3 15.9h0M462.8 20.3h0M464.6 10.8h0M459 18.6h0M458.1 24.4h0M470 16.7h0M467.8 14.4h0M472.3 12.1h0M457.5 17.2h0M454.5 25.4h0M458.8 20.8h0M449 15.9h0M470.5 18.8h0M458.1 12.3h0M455.4 22.1h0M455.7 10.5h0M459.6 18h0M462.9 10h0M455.6 21.3h0M453.7 13.3h0M459.2 17.8h0M462 13.7h0M462.7 13.2h0M469.3 18h0M464.5 13.8h0M471.4 17.6h0M461.2 16.7h0M462.4 13.2h0M459.1 12.6h0M463.6 18.8h0M470.4 12.7h0M463.8 8.5h0M453 17.1h0M451 14.3h0M454.6 9.4h0M452.6 11.1h0M459.9 20.1h0M453.9 19.4h0M456.9 27.6h0M463.3 18.6h0M459.3 11h0M457.9 17.3h0M458.6 26.8h0M454.6 15h0M458.9 11.4h0M460.9 12.6h0M472.7 12h0M473.7 13.7h0M461.6 22.3h0M461.1 14h0M459.1 22.2h0M466 13.3h0M466.7 20.4h0M457.9 20.1h0M464.6 24.8h0M456.3 20.8h0M451.5 13.8h0M457.9 21.2h0M452.9 14.1h0M469.3 15.2h0M463 12.8h0M462.3 8.1h0M460.4 9.8h0M464 14.4h0M452 20.8h0M457.4 18.6h0M469.7 18.1h0M471.1 11.4h0M458.2 13.9h0M467.1 14.4h0M454.1 13h0M459.6 22.9h0M463.1 19.9h0M466.5 19.4h0M469.6 13.3h0M455.2 23.3h0M463.7 26.4h0M455.9 16.4h0M450.7 20.2h0M473.4 15.3h0M463.1 17h0M468.7 13.9h0M465 26h0M472.7 18.3h0M462.8 20.6h0M452 18.1h0M460.5 7.8h0M453.4 19.9h0M462.4 14.6h0M468.8 17.7h0M455.7 14.2h0M464.5 17.9h0M466.1 23.3h0M465.2 22.9h0M458.2 11.1h0M466 17.2h0M449.5 19.2h0M456.8 18.7h0M454.2 13.1h0M463.1 9.4h0M464.5 19.1h0M464.9 16.1h0M468.3 14.2h0M462.8 19.6h0M455.8 21.8h0M453.1 23.2h0M463.7 10.8h0M455.1 24.5h0M460.8 18.7h0M463.2 24.4h0M463.5 13.1h0M459.5 17.5h0M454.9 19.4h0M459.2 15h0M462.4 17.9h0M461.1 21.8h0M456.5 16.4h0M451.9 16.2h0M453.5 21.3h0M470.7 17h0M458.7 16.8h0M454.5 27h0M458.3 13.4h0M449.7 16.4h0M462.6 15.9h0M468 14h0M471.8 13.9h0M455 15.7h0M460.3 12.7h0M451 16.5h0M465.3 20h0M461.7 12.4h0M452.8 21.2h0M461.9 8.6h0M472 18.9h0M469.8 13.2h0M469.7 11.8h0M462.1 13.7h0M468.2 15.1h0M453.6 15.4h0M459.9 17.4h0M454.1 13.5h0M459.3 28.6h0M454.2 11h0M454.7 22.8h0M455.1 13.5h0M466.6 22.8h0M468 14h0M452.8 13h0M461.9 23.7h0M465.8 17.3h0M463.2 14.1h0M462.5 19.4h0M456 9.4h0M451.8 16.9h0M462.2 25.5h0M461 18.1h0M468.1 13.3h0M459.4 17.8h0M460.9 19.2h0M453.4 9.9h0M463.8 12.5h0M457.6 25h0M459.5 16.4h0M463.8 12.6h0M449.1 16.9h0M463.2 19h0M455.2 13.2h0M451.2 13.4h0M465.7 14.1h0M459.2 14.2h0M467 17h0M458.5 19.5h0M456 10.1h0M457.7 8.2h0M465.5 17.6h0M453.9 23.7h0M457.1 22.9h0M460.9 12.2h0M471 14.7h0M455.2 27.4h0M460.7 18.7h0M452.1 15.8h0M452.7 17.9h0M457.9 16.5h0M453.6 12.9h0M458.9 24.1h0M460.6 11.3h0M465.7 14.5h0M456.9 25.2h0M460.8 18.5h0M454.9 25.5h0M450.5 12.9h0M452.7 17.4h0M462.5 12.3h0M450.4 17.4h0M470.9 19.2h0M452.2 22.4h0M453.8 13.7h0M452.7 21.3h0" stroke="#D9A038" stroke-width="2" stroke-linecap="round" fill="none"/>
<path d="M441.4 21.6h0M443.3 19.6h0M472.1 21.6h0M468.2 27.4h0M461.3 30.4h0M458.4 31.3h0M449.2 38.2h0M453.5 36.2h0M455.9 37.2h0M459.4 35.6h0M466.2 34.3h0M468.8 32.9h0M461.3 38.2h0M462.3 40.7h0M474.6 43.7h0M453.1 48h0M455.5 50.1h0M461.7 39.6h0" stroke="#D9A038" stroke-width="2.1" stroke-linecap="round" fill="none"/>
<path d="M511.2 25.3h0M516.8 31.7h0M524.1 30.8h0M511.7 21.6h0M520.1 41.5h0M519.9 35.1h0M505.8 21.1h0M525.8 39.5h0M508.7 33.3h0M521.9 37h0M507.9 26.3h0M509.8 33.7h0M507.5 19.3h0M527.6 35.4h0M516.2 22.5h0M522 38.3h0M527.2 34.7h0M517.6 30.6h0M506.8 19.7h0M508.4 27h0M516.4 35h0M512.6 20.3h0M523.5 36.8h0M509.2 29.1h0M515.3 34.3h0M509.5 33.6h0M517.4 26.5h0M519.5 29.6h0M509.6 32.7h0M515 38.7h0M512.4 27.8h0M505.5 26.8h0M509.5 25.5h0M519.8 26.8h0M522.5 29.5h0M518.2 36.2h0M525.6 33.5h0M516.6 30.1h0M516.2 23.9h0M523 29.5h0M515.8 40.1h0M512.8 22.3h0M523 41.6h0M509.5 27.6h0M513.2 32.6h0M513.2 36.4h0M509.5 29.1h0M503.9 24.8h0M507.3 26.3h0M513.3 18.8h0M517.1 29h0M513.7 20h0M508.5 33.9h0M522.2 40.4h0M515.6 28.2h0M516 22.1h0M510.3 31.4h0M508.6 33.6h0M518.2 28.4h0M507.4 30.1h0M513.1 31.8h0M507.1 22.4h0M522.4 40.9h0M523.1 31.8h0M526.4 36.3h0M515.7 28.7h0M509.8 23h0M512 32.6h0M516.7 26.2h0M522.7 36.7h0M507.5 24.1h0M513.2 26.4h0M518.9 34h0M517.2 26.5h0M510.6 24.4h0M509.9 29.7h0M524.6 30.8h0M512.2 31.4h0M514.6 38.4h0M527.3 35.6h0M514.5 29.8h0M512.3 18h0M521.1 36.6h0M513.5 22.3h0M515.5 31.6h0M514.6 34.1h0M509.6 35.2h0M513.1 18.7h0M517.8 36.5h0M509.7 23.9h0M520.8 28.5h0M515.1 34.2h0M517.8 35.7h0M523.6 34.6h0M512.5 29.6h0M514.2 25.8h0M519.6 26.6h0M504.2 23.1h0M506 29.2h0M517.3 33.6h0M512.9 36h0M508.1 31.7h0M509.7 29.5h0M516.2 34.7h0M514 24.9h0M512.1 35h0M504.6 22.4h0M513.3 18.7h0M515.6 33.9h0M521.6 35.8h0M524.6 39.1h0M520.2 34.5h0M523.5 33.7h0M504.4 24.4h0M511.4 21h0M512.4 23.7h0M512.7 19.7h0M519.3 37.5h0M523.5 31.1h0M519.4 32.3h0M505.8 29h0M512.3 30.5h0M512.3 26.9h0M506.9 28.6h0M527 35.1h0M513 24.9h0M520.5 33h0M525.3 33.8h0M505.2 29.5h0M517.3 25.3h0M523.7 35.7h0M516.3 30.6h0M522.5 30.8h0M507 30.8h0M516.1 30h0M519.5 39.1h0M506.9 30.6h0M524.9 29.8h0M527 36.1h0M516 24.7h0M515.6 26.7h0M504.5 23.7h0M525.4 36.6h0M510.4 28.4h0M519 26.8h0M511 31.5h0M522.5 36.9h0M517.1 33.7h0M508.8 31.6h0M509 28.9h0M520.5 30.3h0M524.1 38.7h0M519.9 31.6h0M512 28.4h0M515.9 23.6h0M515.3 36h0M525.2 31.8h0M511.2 22.6h0M520.3 30h0M505.1 24.7h0M519.8 33h0M522.7 36.3h0M523.1 32.1h0M510.2 31.9h0M519.4 40.8h0M506.2 26.6h0M526.3 38h0M520.9 35.4h0M505.7 29.2h0M525.3 35.8h0M510.2 27.9h0M516.1 24.2h0M507 21.3h0M521 40h0M525.1 31.8h0M519.6 39.2h0M508.5 31.2h0M519.6 38.8h0M521.9 33.6h0M515.9 34h0M519.3 29h0M513.2 26.1h0M512.1 25h0M526.7 37.4h0M525.7 32.1h0M523.9 38h0M505.8 30.2h0M513.2 36h0M521.3 37.2h0M524.6 36.7h0M513.2 27.6h0M518 40.7h0M521.1 30.2h0M516.4 38.1h0M523.5 39.4h0M523.2 42.2h0M512.4 20h0M515 39.1h0M509.3 34h0M510.8 26.7h0M521.1 40.9h0M519.2 35h0M510.4 36.3h0M520.7 33.9h0M516.7 24.5h0M522.7 39h0M518.5 39.7h0M518 37.1h0M509.6 19.5h0M521.5 35.9h0M523.2 36.3h0M516.2 29.9h0M507.5 22.3h0M514.7 26.3h0M520.6 40.5h0M517.3 37.1h0M504.7 27.9h0M510 20.4h0M506.3 21.8h0M506.3 26.4h0M505.7 28.7h0M507.5 25.4h0M506.5 21.2h0M518.2 38.7h0M509.5 18.8h0M523.2 41.1h0M523 35h0M520.5 33.1h0M519.5 26.8h0M514.1 21.8h0M524.9 34.8h0M518.3 33.8h0M510.5 31.8h0M511.4 19.2h0M515.2 31.8h0M521.2 29.9h0M512.2 17.5h0M518.6 40.5h0M516.5 35.4h0M523.5 41.1h0M524.3 38h0M512.6 26.1h0M514.2 28.9h0M507.4 24.9h0M524.2 34.5h0M507.2 29.3h0M513.7 22.7h0M509.7 23.7h0M517.6 40h0M513.4 19.4h0M510.7 23.7h0M510.6 25.8h0M521.3 41.6h0M515.4 38.4h0M507.3 24.1h0M513.7 36.3h0M515.8 39.6h0M511.6 32.9h0M510.3 19.6h0M520.3 27.3h0M507.7 24.5h0M527.4 35.3h0M514.9 38.9h0M520.9 37.2h0M512.4 18.8h0M524.1 33.5h0M516.5 29.2h0M523 33.9h0M517 33.6h0M524.2 32h0M515.4 29.2h0M517.5 36.9h0M526.1 32.6h0M513 23.3h0M514.8 27.4h0M516.5 26.2h0M518.5 27.5h0M523.2 39.3h0M512.4 25.7h0M515.4 33.5h0M509.8 18.4h0M517.6 35.7h0M522.8 33.3h0M510.1 19.6h0M510.8 28.3h0M522.3 29.3h0M506.5 28.9h0M517.8 35.7h0M523.7 41.6h0M506 26.5h0M515 30.2h0M510.8 33.1h0M508.8 25.3h0M512.3 20h0M516.1 20.8h0M524 34.5h0M508.4 22.5h0M510.3 19h0M514.1 35.7h0M506 23.5h0M508.5 20h0M514.6 35.5h0M521.8 31.3h0M514.1 38.6h0M508.5 25.8h0M507.5 20h0M520 27.5h0M517.1 29.3h0M526.6 37.5h0M522.9 28.5h0M514.4 26.2h0M508.8 20.6h0M517.8 31.1h0M511.3 32.4h0M511.6 19.2h0M524.5 37.1h0M524.1 33.8h0M522.5 35.6h0M511.9 22.2h0M507.2 32.1h0M513.9 27.3h0M523.8 40.5h0M512.2 27.5h0M520.8 32.9h0M510.8 18.8h0M512 32.2h0M512.9 23.9h0M521.7 39.6h0M506.6 27.2h0M509.4 29.6h0M511.5 23.4h0M508.1 33.1h0M524.4 29.5h0M519.1 27.3h0M521 36.1h0M504.7 24.3h0M521.8 34h0M509 32.4h0M506.2 26.2h0M519.2 40.1h0M512.1 34.1h0M513 27.4h0M509.3 30.9h0M511 31h0M505.1 28.4h0M523.2 34.8h0M514.2 20.8h0M510.4 30.3h0M509.2 34.5h0M516.3 29.3h0M507.5 20h0M504.8 25h0M511.9 23.5h0M511.5 22.6h0M517 31.9h0M509.9 30.3h0M508.9 26.8h0M510.4 18.5h0M521.7 28.3h0M520.1 28.5h0M519.3 32.2h0M507.1 30.2h0M518.9 29.3h0M509.9 20.6h0M527.1 37.7h0M510.7 18.2h0M513.8 23.5h0M506.6 30.2h0M519.9 40.2h0M512.4 35.8h0M525.7 33.6h0M514.1 25.2h0M518.9 28.1h0M519.5 42.2h0M516 21.2h0M514.5 20.7h0M523.6 36.7h0M505.7 22h0M508.6 28.1h0M513.3 27.7h0M511.2 17.9h0M513.6 34.9h0M524.5 38.6h0M522.4 37.7h0M522.5 37.5h0M520.4 39.2h0M516.3 24h0M526.1 34.6h0M514.5 27.4h0M517.5 37.4h0M512.3 24.3h0M515.8 36.2h0M523.1 32.8h0M526 37h0M518.7 29.8h0M515.5 31.2h0M515.5 25.2h0M522.6 38.9h0M515 39.1h0M508.3 31h0M517.6 35.6h0M513.8 23.7h0M513.3 32.2h0M525.7 35.6h0M509.5 26h0M511.3 23.4h0M521.1 30.9h0M519.8 26.4h0M519.3 40h0M508.5 20.7h0M514.6 21.9h0M521.9 40.1h0M519.4 37.1h0M523 28.4h0M512 24.5h0M514.1 26.5h0M517.9 38.6h0M514.9 29.5h0M506.9 22.6h0M521 29h0M507.3 26.5h0M521.6 31.3h0M508 26.9h0M511.3 31h0M515.3 33.2h0M510 33.9h0M525 38.7h0M520.6 31.6h0M514.8 22.3h0M522.8 28.9h0M522.7 35.9h0M520.2 28.7h0M514.6 27.1h0M507.3 28.2h0M518.6 37.5h0M513.2 23.2h0M522.8 28.5h0M515.7 35h0M520.6 36.5h0M509.7 18.5h0M521.4 38.9h0M515.2 21.7h0M520.5 36.4h0M516.2 24.4h0M518.7 36.4h0" stroke="#6DBB4B" stroke-width="2" stroke-linecap="round" fill="none"/>
<path d="M519.1 9.2h0M523.5 8.5h0M531.8 6.9h0M525.5 18.6h0M528.8 20.6h0M533.7 21.6h0M535.7 21.2h0M532.7 25.1h0M530.8 36.2h0" stroke="#6DBB4B" stroke-width="2" stroke-linecap="round" fill="none"/>
<path d="M459.2 88.9h0M461.6 95.4h0M457.3 93.2h0M465.4 92.9h0M455 94.6h0M455.7 93.4h0M470.1 84.2h0M468.6 90h0M457.7 93.3h0M468 100.6h0M463.3 83.3h0M462.8 98.7h0M454.5 95.2h0M467.9 99.3h0M456.7 88.1h0M470.8 97h0M461.5 89h0M466.1 97h0M471.3 98.2h0M467.4 87.4h0M467 86.4h0M470.2 85.1h0M468.9 94.6h0M465.9 82.4h0M465.1 84.9h0M469.9 87.6h0M460.9 91.7h0M454.1 91.7h0M464.1 99.5h0M469.5 87h0M458.2 88.6h0M455.5 97.5h0M466 95.7h0M458.5 90.2h0M470.7 99.5h0M468.6 90.5h0M470.8 97.9h0M471.6 93.6h0M459.9 95.3h0M457.2 91h0M462.6 97.2h0M460.7 85h0M457.4 88.9h0M456.4 90.9h0M458.5 86.8h0M463 86.3h0M459.8 94.3h0M467.6 83.8h0M467.9 83.4h0M468.5 86h0M461.4 99.5h0M458.2 92.2h0M463.6 93.6h0M454.5 90.3h0M462.8 91.5h0M462.2 87.5h0M472.8 91.6h0M454.7 95.8h0M473 98.6h0M455.2 90.2h0M471.5 88.8h0M466.1 82.7h0M462.7 100.3h0M453.2 94.9h0M468.5 87.8h0M471 95.4h0M474.5 92.4h0M461.6 92.7h0M459.5 87h0M462.3 95.7h0M459.3 90.5h0M473.2 96.4h0M462.7 99h0M463.8 94.6h0M461 97.2h0M463.6 95.3h0M469.2 90.8h0M470.4 100h0M465.4 91.6h0M470.9 97.6h0M468.7 88.3h0M466 96.5h0M464.7 95.1h0M458 86.1h0M465 89.6h0M475.3 94.6h0M470.5 99.3h0M465.7 99.2h0M467 96.8h0M453.5 94.6h0M471.4 97.9h0M466.8 86.4h0M455.7 93.9h0M467 84.9h0M465.5 99.6h0M462.9 89.1h0M456.2 89.7h0M461.6 99.7h0M464.6 89.2h0M471.2 86.5h0M466.2 85.1h0M462.7 96.6h0M468.8 91.8h0M469.8 94.1h0M468.6 82.5h0M455.7 92.7h0M472.1 93.1h0M464.9 96.6h0M468.3 100.5h0M467.6 92.3h0M463.4 83.7h0M461.3 94.5h0M467.2 84h0M464.2 87.7h0M460.7 86.2h0M455.8 97.7h0M470.8 95.9h0M470.8 99.5h0M466.5 92.7h0M467.9 87.9h0M462 92.9h0M473 91.4h0M460.6 99.5h0M472.4 94.5h0M472 98.4h0M466.5 82h0M465.3 88.6h0M471.8 97.5h0M457.7 91h0M468.4 90.5h0M464.1 87.1h0M467.6 86.4h0M457.2 90.7h0M468.2 99.4h0M473.2 91.4h0M474.2 93.7h0M468.8 86.1h0M465.8 97h0M461.6 88.2h0M473.3 92.7h0M460 86.6h0M464.9 87.4h0M470.4 95.7h0M463.1 84.7h0M472.9 92.3h0M473.1 97.7h0M471 97.5h0M472.3 91.2h0M458.2 88.5h0M455.5 97h0M469 99.1h0M459.2 85.8h0M469.1 94h0M461.1 90.1h0M463.1 96.4h0M466.4 86.2h0M463.6 95.1h0M469.4 100h0M454.6 90.1h0M466.6 92.5h0M467 83h0M454 92h0M465.2 89.4h0M465.5 84h0M470.8 88.8h0M473.8 97.8h0M465.7 91.4h0M471.4 88h0M461.9 97.3h0M466.1 100.1h0M471.7 92.3h0M469.8 96.3h0M463.1 89.5h0M470.9 84.9h0M454.5 95.4h0M465.9 86.6h0M462.2 84.5h0M468.7 97.5h0M457.1 96.5h0M467.5 97.2h0M468.4 80.2h0M470.2 92.4h0M464.1 87.5h0M455.4 90.1h0M453.4 94.6h0M469.3 100.1h0M463.2 86.6h0M471.3 99.2h0M466 84h0M460 94.7h0M462.3 87.5h0M473.5 89.5h0M456.3 92h0M455 96.1h0M466.3 91.1h0M457.2 95h0M472.9 96.9h0M457 96.6h0M473.2 88.4h0M460.7 88.9h0M467 93.4h0M470.8 91.3h0M467.6 89.4h0M471 88.6h0M460.3 86.1h0M462 93.4h0M473.1 95.2h0M460.6 92.8h0M465.8 93.5h0M474.4 96.2h0M462.4 86.7h0M461.4 84.8h0M463 84.1h0M471.6 94.3h0M460.2 94.7h0M470 95.9h0M473 89.3h0M459.7 92.3h0M460.6 95.9h0M474.8 92.5h0M473.9 96h0M464 86h0M463.7 87h0M453.7 93.3h0M456.5 91.8h0M456.5 90.8h0M467.9 82h0M464.9 92.8h0M471 88.2h0M464.8 82.1h0M462.9 92.9h0M465.9 88.4h0M461.6 97.4h0M462.4 99h0M462.7 92h0M464.4 83.7h0M455.6 90.6h0M462.8 94.7h0M469.2 85.1h0M473.2 97.9h0M469.4 95h0M464.2 96.9h0M455.6 88.6h0M466.5 95.4h0M458.6 88.9h0M463.3 91.3h0M454.3 91.5h0M468 81.6h0M470.7 100h0M463.4 90.3h0M462.4 100.2h0M461.8 94.7h0M462.6 89.7h0M455.4 94.6h0M468.1 89.5h0M470.1 92.5h0M456.8 91h0M464.3 87.9h0M465 85.7h0M461.6 94.8h0M457.2 94.3h0M471.4 87.1h0M458.4 94.8h0M461.9 90.6h0M454.2 92.2h0M469.4 89h0M472.7 95.7h0M470.1 93h0M462 92.8h0M470.3 85.2h0M473.1 98.2h0M469.5 96.2h0M470 82.9h0M473 94.2h0M460.5 98.9h0M456.4 96.4h0M469.5 83.7h0M468.6 100.5h0M457.6 87.2h0M468.7 98.6h0M472.4 87.6h0M463.8 96.1h0M471.3 86.9h0M468.7 90.4h0M461.5 92.2h0M457.1 92.1h0M458.3 86.8h0M464.8 83.5h0M465.7 93.7h0M464.8 83.7h0M467.2 88.9h0M458.7 96.7h0M466.1 84.5h0M470.4 86.5h0M458.9 93.4h0M460.1 97.4h0M466.2 91.9h0M458.8 93.2h0M458.9 90h0M464.8 90.6h0M455.4 96.3h0M468.2 96.8h0M472.3 92.1h0M460.6 87.7h0M465.6 93.4h0M457.7 93.8h0M474.2 96.5h0M462.8 99h0M464.9 84.8h0M457 91.5h0M462.6 87.9h0M460.8 95.6h0M454.8 92.6h0M464.1 84.2h0M467.4 95.7h0M462.1 100.1h0M470.3 99.6h0M467.7 98.8h0M471.1 97.2h0M466.4 90.9h0M459.1 98.7h0M457.6 92.8h0M470.2 92.4h0M462.3 90.9h0M458.5 97.8h0M464 94.2h0M464 93h0M462.2 89.4h0M458.3 96.7h0M470.9 92.9h0M472 98.2h0M464.9 83.1h0M466.5 98.6h0M465.6 85.1h0M463.1 88.7h0M458.7 95.4h0M461.7 85h0M463.5 94h0M473.2 88.9h0M454.3 96.6h0M455.2 91.2h0M473.9 92.3h0M466 92.5h0M457.9 98h0M463.2 86.2h0M459.1 97.2h0M467.2 96.5h0M464 90.3h0M470.8 100h0M463.7 99.4h0M471.5 87.9h0M465 96.8h0M465.2 85.9h0M473.6 89.9h0M457.3 87.5h0M465.7 89.2h0M457.3 92.9h0M462.4 89.3h0M467 89.1h0M456.7 88.4h0M467 91h0M456 96.5h0M460.4 96.4h0M471.3 95.1h0M463.2 83.5h0M461.7 100h0M472.6 89.7h0M462.3 90.1h0M454.2 95.5h0M469.5 92.1h0M461.7 99.4h0M465.4 95.2h0M457.1 93.9h0M464.7 87.3h0M459 92.7h0M468.7 88.6h0M458.2 85.7h0M457.6 98.8h0M466.5 90.7h0M471 86.7h0M465.9 88.5h0M464 94.8h0M466.6 93.9h0M459.3 87.7h0M468.1 96.9h0M457.6 87.9h0M467.4 89.4h0M464.1 85.4h0M461.3 100.7h0M462.5 91.6h0M466.4 87.8h0M467.4 94.5h0M454.7 92.1h0M469.2 93.7h0M469.9 98.4h0M469.2 83.4h0M457.3 98h0M466 91.8h0M466.3 94.1h0M465.9 98.3h0M471.7 93.2h0M465 95.3h0M472.2 90.9h0M461.6 98.9h0M467.4 98.2h0M464.9 91.1h0M469.5 97.2h0M456.2 98h0M462 89h0M474.9 97.3h0M466.1 88.5h0M467.9 92h0" stroke="#1CB5F0" stroke-width="2" stroke-linecap="round" fill="none"/>
<path d="M471.7 61.3h0M461.3 80.2h0M468.2 76.9h0M485.8 82.2h0M485.8 85.1h0M496.2 79.3h0M455.1 87.5h0M453.1 95.9h0" stroke="#1CB5F0" stroke-width="2" stroke-linecap="round" fill="none"/>
<path d="M544.6 81.9h0M544.9 74.9h0M546.2 88.3h0M551.9 84.4h0M552.8 88h0M541 84.2h0M553.7 85.3h0M544.7 87.1h0M537.7 80.8h0M549 81.4h0M541.2 73.7h0M545.6 81.6h0M541.9 85.8h0M544.3 81.2h0M549.4 85h0M546.4 88.7h0M537.6 77.3h0M539.9 73.7h0M540.2 84.5h0M545.1 89.3h0M548.5 85.5h0M549.1 84.1h0M540.4 74.5h0M544.4 82.7h0M545.8 77.1h0M548.3 81.3h0M542.7 73.2h0M549.9 88.3h0M550.5 82.5h0M545.8 90h0M546.6 90.2h0M544 73.6h0M537 75h0M542.2 77.8h0M542.3 77.9h0M552.6 87.9h0M539.2 76h0M545.1 87.2h0M541.5 76.6h0M549.4 89.5h0M539.6 85.1h0M542.6 86.1h0M549.4 82.4h0M550.8 91.1h0M543.2 80.7h0M545 85.1h0M539.8 74.2h0M548.3 91.2h0M544.5 88.2h0M542 74.4h0M545.5 82.6h0M546.3 89.4h0M550.7 89.8h0M552.3 87.6h0M542.8 76.1h0M547.7 90.8h0M545.5 85.8h0M542.2 77.5h0M540.4 77.1h0M540.5 85.3h0M538.3 83.3h0M549 81.4h0M549.3 91.3h0M540.6 84.9h0M543.4 84.1h0M542.9 77h0M546.3 83.8h0M542.7 79h0M548.7 89.6h0M551.9 89.5h0M537.4 78.8h0M547.5 89h0M544.1 86h0M545.7 83h0M537.4 79.1h0M540.6 82.8h0M544.6 86h0M551.7 91h0M536.1 77.9h0M540.5 74.3h0M545.7 77.3h0M540.9 81.3h0M543.9 77.1h0M547.9 87.2h0M538.3 78.7h0M550.9 88.1h0M542.9 87.4h0M541.5 82.2h0M543.1 79h0M550.9 86.2h0M550.8 83.2h0M547.5 82.6h0M550 85.1h0M547.2 88.4h0M544.3 89h0M548.7 83.5h0M549.7 88.5h0M541.3 77.4h0M546.8 84.6h0M548.1 86.7h0M545.8 77.1h0M537.4 82.5h0M546 86.7h0M549.3 83.1h0M542.5 84.9h0M546.1 83.2h0M540.7 83.3h0M543.4 77.4h0M547.2 86.5h0M542.6 81h0M546.2 90.1h0M545.3 81h0M542.9 73.4h0M543.9 77.7h0M548.9 80.9h0M548.3 81.1h0M552.5 88.6h0M551.8 91.1h0M541.2 81.9h0M546.8 87.2h0M546.3 79.4h0M543.7 84.5h0M551.4 83h0M549.3 81.9h0M536.9 81.6h0M546.8 87.1h0M544.1 83.5h0M546.4 83.8h0M536.3 78.6h0M542 75.2h0M549.9 84.5h0M542.2 82.1h0M545.1 86.5h0M538.1 83.3h0M544.9 85.8h0M552.5 85.8h0M552.3 89.9h0M549.5 91.9h0M546.6 77.2h0M551.9 90.2h0M547.7 91.5h0M536 76.8h0M552.6 86.8h0M542.3 79.1h0M539.2 79.8h0M545.5 83.6h0M545 82.7h0M540.3 83.7h0M537 80.1h0M542 74.4h0M539.1 78.8h0M545.2 86.3h0M549 84.9h0M546.6 82.7h0M545.8 76.4h0M550.3 85.6h0M535.2 76.6h0M540.2 76.1h0M537.6 74.7h0M542.9 80.6h0M550 89.8h0M546.6 84.6h0M547.7 85.9h0M543.5 84.9h0M538.8 83.5h0M553.1 87.8h0M537.7 75.5h0M544.4 86.7h0M544.1 88.3h0M537.3 74.9h0M543.2 86.3h0M543.8 76.5h0M548.9 79.8h0M539.9 85.6h0M539.6 85.3h0M551.7 85h0M543.5 82.8h0M546.1 76.9h0M537.3 74.2h0M545.7 78.1h0M541.6 77.6h0M549 91.2h0M543.1 80.3h0M547.4 83.3h0M546 85.3h0M539.6 75.1h0M542.1 74.8h0M552.2 91.3h0M543.2 76.5h0M544.3 85.2h0M541.3 86.4h0M542.1 75.9h0M544.5 75.5h0M538.1 83.5h0M544.9 88.5h0M553.1 89.5h0M535.9 75.8h0M546 83.4h0M537.6 82.3h0M549 85.1h0M542.9 83.1h0M544.6 85.5h0M552 91.7h0M546.4 84.6h0M539 81.1h0M547.7 88.8h0M551.1 82.6h0M553 85.6h0M543.3 73.3h0M544.1 75.4h0M546.1 78.8h0M539.4 76.3h0M543.6 77.2h0M537.7 80.3h0M549.5 88.2h0M550.9 82.8h0M538.4 83.1h0M541.8 73.9h0M548.2 81h0M539.1 83.5h0M550.7 82.8h0M545.9 76.5h0M539.9 85.2h0M548.1 83.3h0M540.6 82.1h0M541.1 75.2h0M545 75.9h0M540.9 84.7h0M541.5 83.4h0M551.2 84.6h0M541.6 80.1h0M546.1 87.5h0M552.9 87.5h0M546.9 78.7h0M541.1 86.9h0M542.1 74.3h0M539 78.5h0M548.2 80.7h0M552.9 90.2h0M539.8 81.8h0M548.6 91.3h0M541.1 80.8h0M542.5 74h0M543.3 73.7h0M552.1 83.4h0M544.7 75.6h0M544 76.9h0M549.9 83.3h0M546.7 78.3h0M540.8 79h0M540.2 76.8h0M551.9 87h0M542.5 83.3h0M548.1 85.5h0M536 78.5h0M540.5 74.7h0M549.5 88.8h0M541.7 78.6h0M548.4 87.1h0M542.7 83.9h0M545.9 86.5h0M548 76.9h0M547.1 79.3h0M547.2 90.6h0M550.8 83h0M541.9 79.9h0M542.2 82.1h0M544.2 84.9h0M543.3 84.5h0M545 77.1h0M544 88.6h0M538.1 80.7h0M542.3 85.5h0M544.2 79.9h0M553.5 86.5h0M542.6 80.2h0M537.3 76.1h0M535.7 77.9h0M550.1 91.3h0M548.6 82.3h0M538.2 76.4h0M546.5 79.2h0M542.3 87.6h0M543.3 75.2h0M541.9 81h0M547.8 86h0M550.7 91.5h0M541.5 84.5h0M549.5 86.9h0M544.5 77.4h0M536.2 78.8h0M539.5 78.5h0M541 86.4h0M552.3 90h0M548.2 79.4h0M544.8 73.5h0M547.1 77.9h0M547.7 85.6h0M539.4 74.4h0M554.1 86.7h0M548.4 80h0M548 83.3h0M550 85h0" stroke="#93A8F4" stroke-width="2" stroke-linecap="round" fill="none"/>
<path d="M514.7 64.6h0M503.4 75.9h0M508.9 92h0M527.9 69.5h0M530.8 70.9h0M533.7 71.4h0M542.5 68.9h0M545.1 71.4h0M549.4 74.4h0M552.9 73.4h0M527.9 81.2h0M533.7 83.8h0" stroke="#8098F2" stroke-width="2" stroke-linecap="round" fill="none"/>
<path d="M549.4 87.5h0M550.5 88.1h0" stroke="#fff" stroke-width="1.8" stroke-linecap="round" fill="none"/>
<rect x="371.8" y="121" width="191.1" height="125.2" fill="#fff" stroke="#8a8a8a" stroke-width="1"/><path d="M371.8 184H562.9M435.5 121V246.2M499.3 121V246.2" stroke="#666" stroke-width="0.9"/><text x="403.6" y="126.2" font-size="3.4" font-weight="normal" fill="#555" text-anchor="middle" >Cluster 1</text><text x="467.4" y="126.2" font-size="3.4" font-weight="normal" fill="#555" text-anchor="middle" >Cluster 2</text><text x="531.1" y="126.2" font-size="3.4" font-weight="normal" fill="#555" text-anchor="middle" >Cluster 3</text><text x="403.6" y="189.6" font-size="3.4" font-weight="normal" fill="#555" text-anchor="middle" >Cluster 4</text><text x="467.4" y="189.6" font-size="3.4" font-weight="normal" fill="#555" text-anchor="middle" >Unassigned</text>
<path d="M377.5 157.3h0M375.4 160.4h0M380.6 159h0M381.5 156.1h0M381.6 160.2h0M376.7 158.3h0M378.7 158.5h0M380.9 158.9h0M379.4 161.4h0M376.9 155.4h0M376.7 161.4h0M381.1 157.8h0M378.6 161.2h0M380.4 155.3h0M381.9 159.3h0M380.9 157.3h0M376.9 157h0M381.5 158.5h0M382.9 157.4h0M382.6 157.7h0M378.4 155.4h0M379.1 160.5h0M376.3 161h0M381.7 161.4h0M380.2 159.2h0M375.2 158.3h0M382 156.8h0M375 159.1h0M379.2 158h0M381.8 160.3h0M378.8 156.2h0M376.9 155.6h0M380.1 159h0M378.8 157.5h0M375.9 160.3h0M380.4 159.9h0M381.6 158.2h0M379.1 156.9h0M380.5 156.8h0M380.8 156.4h0M381.2 161h0M379.8 156.8h0M380.1 156.6h0M378.3 159.2h0M382 156.3h0" stroke="#F58263" stroke-width="2" stroke-linecap="round" fill="none"/>
<path d="M415.9 149.9h0M421.5 147.8h0M410 150h0M417.5 147.4h0M407 152.4h0M418.3 150h0M411.4 154.2h0M416.6 147.3h0M417.1 149.6h0M417.5 149.2h0M406.5 155.2h0M418.9 147.4h0M417.4 152.2h0M414 148.7h0M412.5 151h0M404.9 154.2h0M406.4 156.6h0M407.1 152.7h0M408 151.4h0M403.8 155.1h0M414.1 148.4h0M410.4 153.7h0M414.3 151.1h0M415.2 151.3h0M405.4 155.3h0M412.7 148.2h0M411.5 153.7h0M415.1 150.1h0M406.9 156.6h0M417.9 146.1h0M416.2 146.8h0M409.4 155.2h0M410.6 152h0M417.4 150.3h0M404.3 153.9h0M420.1 150.3h0M410.2 152.1h0M410 154.7h0M414.7 152.1h0M421 148.1h0M406 156.3h0M416.7 151.7h0M418.8 146.4h0M411.1 149.5h0M412.1 150h0M416.1 146.8h0M409.6 152.4h0" stroke="#F58263" stroke-width="2.7" stroke-linecap="round" fill="none"/>
<path d="M394.3 151.6h0M397.2 148.7h0M399.5 145.7h0M401.6 156h0M397.2 161.8h0M400.1 163.3h0M404.5 161.8h0M407.4 160.3h0M403 166.2h0M403.6 170.6h0M402.5 174.9h0M400.7 177.9h0M402.5 179.9h0M399.5 179.9h0M398.7 164.7h0M405.4 158.9h0M400.7 158.9h0" stroke="#F58263" stroke-width="2.7" stroke-linecap="round" fill="none"/>
<path d="M476.1 171.5h0M474.8 172.3h0M471.1 176h0M469.7 173.4h0M476.1 174.2h0M477.1 176.1h0M475.3 174h0M477.7 173.6h0M476.9 176.3h0M472.5 170.7h0M471.1 176.9h0M473.7 173h0M474.3 177.8h0M478.3 174.2h0M476.7 175.4h0M473.9 171.6h0M470.2 178h0M474.9 176h0M479.3 174.7h0M477.3 173.2h0M472.2 176.4h0M477.2 172.9h0M474 172.3h0M477.7 172.2h0M479.3 176.9h0M471.3 178.3h0M479.5 176.5h0M471.9 173h0M478.2 177.6h0M475.8 177.8h0M473.5 177.2h0M469.8 176.7h0M471.4 172.2h0M471.6 176.7h0" stroke="#8DB635" stroke-width="2.7" stroke-linecap="round" fill="none"/>
<path d="M481.7 166.1h0M482.5 162.8h0M481.9 163.3h0M480.8 165.9h0M481.5 164.9h0M481.4 160.6h0M484 166.2h0M482.6 163h0M484 164h0M478.1 164.1h0M481 160h0M480.1 165.6h0M483.8 163.6h0M486 161.8h0M483.6 165h0M482.1 166.2h0M484.7 164.1h0M480.7 161.5h0M481.5 166.5h0M477.7 161.9h0M480.3 163.7h0M484 164.9h0M480.2 160.7h0M482.9 166.1h0M480.9 166.2h0" stroke="#8DB635" stroke-width="2.7" stroke-linecap="round" fill="none"/>
<path d="M465.8 161.8h0M470.2 163.3h0M474.6 161.8h0M476 156h0M480.4 157.4h0M484.8 154.5h0M487.7 151.6h0M492.1 150.7h0M493.5 155.4h0M490.6 158.9h0M495 162.4h0M489.2 166.2h0M483.3 170.6h0M484.8 174.9h0M473.1 166.2h0M476.6 168.2h0" stroke="#8DB635" stroke-width="2.7" stroke-linecap="round" fill="none"/>
<path d="M553 133.9h0M549.6 141.6h0M557 136.1h0M555 139.7h0M553.8 135.4h0M547.3 141h0M548.4 148h0M552.2 130.8h0M554.4 132.3h0M554.5 129.8h0M553.1 152.8h0M555.1 128.1h0M558.7 131.7h0M553.7 149.4h0M552.5 142.7h0M551.3 148.1h0M558.6 129.5h0M552 152.3h0M556.3 126.6h0M553.6 128h0M559 136.3h0M551.3 149.2h0M548.8 146h0M555 128.3h0M552.9 140.3h0M553.7 128.7h0M549.6 145.5h0M554.9 126.7h0M549.9 148.2h0M553.6 139.1h0M553.6 136.2h0M550.8 143.3h0M549.5 141.8h0M546.8 144.4h0M548.4 147.5h0M555.6 132.1h0M549 146.7h0M550.5 147.8h0M555.8 126.5h0M549.8 142.7h0M547.9 147.6h0M554.7 143.2h0M556.9 137.6h0M558.8 130.3h0M554.3 140.1h0M557.1 141.9h0M552.8 128.7h0M550.8 147.3h0M551.3 141.8h0M549 136.9h0M547.2 145.9h0M557.4 130.1h0M546.6 145.3h0M556.1 139.8h0M547.9 143.6h0M549.5 152.2h0M552.3 133.7h0M554.3 132.4h0M552.1 151.5h0M548.1 145.9h0M550.8 145.1h0M552 140.1h0M551.4 152.1h0M553.5 127.4h0M554.6 145.8h0M558.4 138.3h0M552.7 152.2h0M555.3 142.3h0M554.1 145h0M553 135.4h0M558.6 131.8h0M551.4 132.9h0M553.2 127.6h0M552 136.4h0M555.7 130.7h0M549.4 138.3h0M548.9 149h0M553.3 135.1h0M552 147h0M548.3 145.7h0M554.8 136.2h0M553.8 126.8h0M554.1 133.3h0M554.6 128.1h0M556.6 129.7h0M549.5 136.2h0M556.3 132.4h0M550.7 148.6h0M557.2 135.5h0M552.3 146.1h0M555 133.8h0M554.9 149.1h0M558.9 137.3h0M555.1 140h0M558.5 140.7h0M548.9 146.7h0M548.8 150.2h0M553.5 142.4h0M556.5 143.9h0" stroke="#1DBFC2" stroke-width="2.7" stroke-linecap="round" fill="none"/>
<path d="M535 137.6h0M538.8 142.8h0M503.2 155.1h0M507.6 153.9h0" stroke="#1DBFC2" stroke-width="2.6" stroke-linecap="round" fill="none"/>
<path d="M401.4 203.8h0M405.6 204.6h0M398.4 209.4h0M398.7 205.8h0M404.7 212.2h0M409.1 205.8h0M407.9 206.6h0M406.2 209.8h0M405.5 205.9h0M400.4 210.4h0M398.4 207.3h0M398.8 209.1h0M399 209.6h0M401.5 208.8h0M403.5 207.7h0M406.6 203.3h0M406.6 206.9h0M407.9 208.3h0M403.7 205.1h0M407 203.9h0M404.8 203.7h0M398.1 208h0M407.5 207.4h0M407.7 205.4h0M400.8 204.1h0M397.7 206h0M401.4 206h0M407.9 206.2h0M405.3 207.5h0M403 206.9h0M400.3 211.6h0M398.1 206.8h0M406.8 208.5h0M400.4 204.3h0M404.3 212.6h0M404.5 205.7h0M406 206.5h0M406.1 201.2h0M406.8 203h0M410.1 204.5h0M402.6 207.4h0M398.1 207.6h0M409.3 207.7h0M400.9 204.6h0M408 202.8h0M404.4 206.3h0M401.2 208.3h0M398.3 208.8h0M401.3 205.1h0M397.7 208.1h0M402.5 204.5h0M399 211.2h0M408.2 203.8h0" stroke="#3F9DF5" stroke-width="2.7" stroke-linecap="round" fill="none"/>
<path d="M394.9 212.9h0M398.7 218.7h0M400.7 220.2h0M404.5 220.8h0M411.8 205.6h0M406 230.4h0M417.6 220.8h0M419.1 218.7h0M422 220.2h0M423.5 222.5h0M424.9 224h0M422 218.7h0M432.2 226.6h0" stroke="#3F9DF5" stroke-width="2.7" stroke-linecap="round" fill="none"/>
<rect x="371.9" y="249.4" width="191" height="125.1" fill="#fff" stroke="#8a8a8a" stroke-width="1"/><path d="M371.9 312.3H562.9M435.5 249.4V374.5M499.2 249.4V374.5" stroke="#666" stroke-width="0.9"/><text x="403.7" y="254.6" font-size="3.4" font-weight="normal" fill="#555" text-anchor="middle" >Cluster 1</text><text x="467.4" y="254.6" font-size="3.4" font-weight="normal" fill="#555" text-anchor="middle" >Cluster 2</text><text x="531" y="254.6" font-size="3.4" font-weight="normal" fill="#555" text-anchor="middle" >Cluster 3</text><text x="403.7" y="317.9" font-size="3.4" font-weight="normal" fill="#555" text-anchor="middle" >Cluster 4</text><text x="467.4" y="317.9" font-size="3.4" font-weight="normal" fill="#555" text-anchor="middle" >Cluster 5</text><text x="531" y="317.9" font-size="3.4" font-weight="normal" fill="#555" text-anchor="middle" >Unassigned</text>
<path d="M427.2 268.5h0M430.3 275.7h0M423.2 255.5h0M423.4 259.4h0M428.2 270.7h0M406.9 267.1h0M426.7 270.3h0M410.5 271.8h0M423.1 262.8h0M411.3 266.5h0M404.3 266.5h0M412 259.8h0M415.3 270.3h0M426.9 273.6h0M410.3 269h0M408.7 261.2h0M414.6 262.2h0M424 262.4h0M410.7 263.2h0M426.6 260.9h0M419 259.9h0M408.6 264.7h0M410.7 270.8h0M414.9 268.6h0M417.3 267.2h0M414.6 258.6h0M416.8 267.1h0M422.4 261.2h0M421.3 271.1h0M415.7 273.1h0M412.5 270.3h0M426.2 266.8h0M410.6 264h0M424.3 270.7h0M423.8 262.9h0M409.2 271.5h0M408.2 261.8h0M414.6 261.8h0M419.9 271.7h0M404.5 263.6h0M417.5 260.4h0M426.7 267.4h0M428.8 274.9h0M424.2 263.7h0M416.4 255.9h0M420.3 264.7h0M423.1 271.1h0M429.3 278.4h0M426.1 278.6h0M419.3 263.1h0M417.4 272.2h0M404 264.3h0M428 276.1h0M410.4 270.7h0M424.9 266.5h0M428.5 266.6h0M422.6 272.6h0M414.3 266.9h0M422.8 256.3h0M422.4 273.1h0M425.6 277.3h0M420.1 264.2h0M415.9 271.8h0M411.8 258h0M430.3 272.4h0M427.2 268.6h0M418.2 264.2h0M426.1 272.4h0M405.9 269h0M425.7 274.4h0M424.2 260.2h0M411.3 267.8h0M419.3 272.3h0M411.6 263.8h0M422.4 273.9h0M428.6 277.3h0M414.9 255.8h0M404.8 263.8h0M416.1 270.9h0M432.1 271.1h0M411.5 260.6h0M416.2 267.5h0M420.6 258h0M429.2 270h0M421.4 254.8h0M414.1 262.1h0M430.2 273.4h0M413.3 268.8h0M430.2 278.5h0M403.1 266.1h0M408.8 266.6h0M418.2 257.5h0M412.3 268.6h0M415.4 258.8h0M429.1 275.9h0M416 264.8h0M423.5 262.9h0M412.2 271.8h0M423.9 256.7h0M422.1 262.3h0M428 275.3h0M426.9 266.5h0M421.1 272.7h0M425.2 260.5h0M420.5 267.1h0M415.3 272.3h0M424.2 269.8h0M411.6 266.1h0M424 264.2h0M423.9 271.1h0M418.2 257.3h0M413 272.6h0M422.7 259.2h0M419.2 271.4h0M420.9 260.3h0M420.1 260h0M416.3 270.6h0M410.1 259.9h0M424.8 261.7h0M413.4 266.1h0M425.6 265.8h0M413.7 263.4h0M413.1 260.5h0M416.2 274h0M415.9 256.4h0M410.6 270.4h0M424.2 272.8h0M405.6 262.4h0M406.7 270.2h0M413.3 266.7h0M418.6 257.2h0M419.2 255.6h0M423.3 263.8h0M424.1 260.4h0M414.7 273.1h0M424.3 264.6h0M419.9 262.2h0M415.9 264.3h0M431.1 276.2h0M418.1 267.4h0M420.1 268.5h0M430 274.8h0M420 275.8h0M405.4 269.9h0M407.7 267.8h0M417.6 259.4h0M432.3 272.6h0M408.1 268.7h0M417.3 258.7h0M423.6 255.7h0M417.1 272.9h0M419.1 255.8h0M425 260.6h0M412.4 268.9h0M419.9 257.6h0M421 258.4h0M431 275.8h0M410.3 265.2h0M427.6 279.4h0M424.7 265.1h0M416.2 258.3h0M416.1 271.4h0M414.2 257.4h0M423.6 271.4h0M427.7 264.1h0M426.2 261.7h0M424.7 277.1h0M413.9 262.3h0M419.3 262.8h0M407.4 271.2h0M418.8 267.2h0M430.7 275.5h0M424.9 265.7h0M418.4 267.1h0M408.1 266h0M409.5 264.4h0M414 267.8h0M416.5 264.4h0M408.9 262h0M429.3 268.7h0M425.5 263.4h0M425.9 265.9h0M417.7 269.2h0M417.6 271.8h0M428.6 273.3h0M419.5 261.7h0M406.4 267.1h0M415.8 260.7h0M424.2 273.8h0M408.6 268.8h0M410.8 269.5h0M413.9 257.1h0M413.5 273.3h0M417.4 266.6h0M407.8 264.3h0M422.5 262.5h0M409.7 272.2h0M426.8 268.8h0M422.4 261.1h0M415.5 262.3h0M424.9 268.5h0M418.9 257.4h0M419 268.7h0M424.6 272.2h0M418.1 265.4h0M412.2 265.5h0M424.5 267.2h0M407.2 267h0M426.2 278.4h0M420.6 269.4h0M433.2 274.4h0M424.4 277h0M430.6 269.1h0M425.2 270h0M407.3 265.1h0M424.7 270.4h0M421.7 274.5h0M419 267.7h0M409.4 266.3h0M428.6 266.9h0M408.4 264.9h0M422 268.5h0M423 272.1h0M427.5 278h0M421.5 261.1h0M419.4 257.5h0M419.1 271.2h0M425.9 275.8h0M432.2 274.2h0M410.8 263.2h0M424.1 268h0M415.7 270.2h0M417.6 270.1h0M429.8 275.6h0M406.4 269.2h0M422.7 266.7h0M419.4 270.5h0M422.2 266.1h0M405.5 268.7h0M418.9 258.7h0M416.5 265.6h0M419.5 258.4h0M426.9 272.3h0M426 277.4h0M421.7 274.7h0M413.9 272.4h0M416 269.1h0M409.7 260.6h0M432.9 277.7h0M411 260h0M424.2 271.1h0M418.3 270.2h0M423.8 265.7h0M414.8 265.6h0M431.7 278.9h0M425 262.2h0M426.4 266.5h0M417.6 273.9h0M419.5 257.2h0M427.1 278.5h0M425.8 263.9h0M424.6 276.2h0M427 271h0M418.5 264.4h0M423.6 274.7h0M426.4 272.5h0M408.1 266.5h0M418 254.1h0M411.8 262.7h0M421.8 266.1h0M415.3 259.2h0M433.1 273h0M422.2 255.4h0M422.9 271.1h0M417.2 265.5h0M418.9 256.7h0M417.3 264.9h0M418 267.9h0M425.3 260.7h0M413.5 262.9h0M427.8 271.4h0M405.9 265h0M424.3 269.5h0M419.1 266.1h0M419.1 256.5h0M423.8 273.8h0" stroke="#F4827A" stroke-width="2.4" stroke-linecap="round" fill="none"/>
<path d="M384.6 265h0M395.7 264.1h0M398.7 265.9h0M400.7 263.5h0" stroke="#F4827A" stroke-width="2.5" stroke-linecap="round" fill="none"/>
<path d="M467.9 297.2h0M470 292.8h0M467.4 279.2h0M472.4 295.7h0M470.6 286.1h0M474.6 296h0M466.9 280.5h0M459.3 290.8h0M471.3 295.3h0M469.1 290.8h0M463.4 284.5h0M458.4 283.1h0M460.7 288.7h0M469 294.8h0M461.8 292h0M458.1 284.3h0M463.9 289.7h0M466.8 296.3h0M461.4 296.4h0M472.5 287.5h0M460.6 296.1h0M467.8 290.7h0M460.6 281.4h0M456.8 288.4h0M470.6 280h0M474.3 291.3h0M473.3 292.2h0M469.1 284.9h0M476 285.6h0M456.8 287.5h0M473.1 283.6h0M462 292.5h0M470.3 282.2h0M469.8 290.5h0M466.2 291.3h0M468.4 279.3h0M459.7 287.9h0M468.1 295h0M475.2 297.3h0M468.6 279.8h0M474.7 292.5h0M468.8 281.4h0M461.9 297.5h0M460.6 294.2h0M468.8 281h0M467.1 277.4h0M476.5 295.8h0M466.2 288.4h0M470.7 287.4h0M471.1 287.8h0M461 289.6h0M469.9 288.1h0M469.4 286.2h0M466.6 287.9h0M473.4 283.9h0M473.8 288.9h0M465.6 284.3h0M462.6 293h0M465.8 288.5h0M467.5 287.4h0M461.8 297.6h0M469.4 284.6h0M466.8 292.7h0M477.4 291.3h0M459.1 294h0M475.2 291.2h0M469.2 281.8h0M463 280.4h0M459.1 292.7h0M468.9 279.5h0M469.5 288.6h0M461.9 285.3h0M460.7 281.8h0M471.8 286.2h0M464.3 284.3h0M466.9 288.3h0M472.7 282.3h0M467.8 287.2h0M464.4 277h0M473.1 293.7h0M471.2 293.4h0M473 288.6h0M465.2 284.8h0M459.3 287.6h0M470.7 283.5h0M472.1 292.6h0M457.5 289.6h0M467.9 298.4h0M473 287.9h0M458.9 285.8h0M469.5 297.1h0M470.2 280.8h0M465.6 283.6h0M462.9 294.1h0M474.3 297.8h0M469 291.9h0M467.4 288.8h0M472.5 282.1h0M468.1 296.4h0M461.1 288h0M475.2 292.5h0M457.2 284.2h0M471.8 295.8h0M470.7 294.5h0M472.4 296.3h0M466 293.3h0M468.4 293.3h0M474.4 290.5h0M470.6 297.6h0M464.7 293.9h0M473.6 285.4h0M466.2 293.1h0M471.9 285.5h0M464.3 282.1h0M467.2 295.8h0M466.4 289.5h0M476.7 292.2h0M463.2 280.6h0M468.9 298.3h0M476.8 292.4h0M475.9 293.7h0M459.8 292.8h0M462.3 284.1h0M463.4 290.3h0M471.7 287.3h0M468.1 296h0M472.5 293.8h0M464.8 287.4h0M474.5 283.1h0M467.5 280.3h0M462.4 279.4h0M466 278.7h0M472.3 288.2h0M464.3 298.3h0M467.9 282.9h0M464.6 281h0M469.7 282.8h0M463.6 292.2h0M456.2 289h0M475.3 288.1h0M468.1 279.1h0M471 298.1h0M468.5 297h0M464.3 280.2h0M472 295.2h0M472.1 295.9h0M475.5 296.5h0M474 294.4h0M468.9 294.5h0M470.6 290.1h0M462 297.1h0M462.6 290.6h0M476.3 294.4h0M465 288.5h0M462.8 279.1h0M464.5 288.8h0M466.9 296.8h0M467 281h0M465 292h0M467.1 281.8h0M467.1 293.1h0M473.9 283.4h0M460.8 288.7h0M462.4 294.9h0M467.8 278.7h0M474.8 288.5h0M460.2 293h0M463.5 291.2h0M476.2 294.1h0M473.5 295.8h0M458.5 287.3h0M470.9 286.1h0M459.4 289.3h0M457.2 285.5h0M465.4 278h0M472.9 281.4h0M462.1 288.3h0M473.5 287.2h0M474.4 291.7h0M459.9 280.8h0M464.9 288.8h0M473.2 284.2h0M468.8 293.2h0M473.1 290.8h0M459.8 282.5h0M477.7 290.4h0M463.4 291.1h0M467.8 291.9h0M460.7 284.4h0M475.3 284.6h0M465.2 277.7h0M476.5 290.6h0M473.8 285.9h0M462.9 291.6h0M477 293.7h0M461 286.4h0M465.1 287.6h0M473.9 296.1h0M477.5 290.6h0M458.8 286.2h0M469.7 290.5h0M460.8 292.8h0M460.1 281h0M469.4 297.5h0M461.5 280.5h0M477 293.6h0M469.1 281.5h0M469.2 284.9h0M472.7 295.3h0M475.6 296.2h0M468.7 297.9h0M464.2 290.6h0M470.1 289.6h0M465 294.1h0M466.4 284.5h0M464 296.8h0M462.9 295.1h0M469.7 278.4h0M465.2 279h0M472.2 284.2h0M466.2 298.1h0M458.2 285h0" stroke="#C0A234" stroke-width="2.4" stroke-linecap="round" fill="none"/>
<path d="M460 269.4h0M458.9 265.8h0M461.8 274.3h0M457.8 270.3h0M460.8 274.3h0M458.9 270.9h0M460.7 273.9h0M458.6 271.5h0M459.5 265.9h0M458.3 266.1h0M456.8 265h0M461.1 272.6h0M459.6 270h0M460.1 268.8h0M460.4 274.8h0M458.2 268.1h0M459.7 267.3h0M459.5 266.5h0M456.9 266.3h0M458.7 267.5h0M459.9 265.9h0M457.2 266.6h0M458.3 265h0M458 266.8h0M457.9 270.7h0M458.2 268h0M456.3 265.4h0" stroke="#C0A234" stroke-width="2" stroke-linecap="round" fill="none"/>
<path d="M460.5 304.4h0M459.3 306.8h0M458.2 303.9h0M459.7 304.9h0M457.1 308.2h0M458.5 306.1h0M456.4 304.8h0M456.8 305.6h0M460.9 309h0M455.7 306.4h0M458.6 306.8h0M458.2 303.1h0M461.2 304.6h0M459 304.3h0M458.5 308.6h0M457.2 305.8h0M460 306h0M457.7 310h0M456 305.9h0M455.9 306.7h0M457.3 307.8h0M458.5 304.7h0M459.2 307.5h0M458.3 306.4h0M457.7 305.8h0M458.4 309.3h0M455.4 305.8h0M459.7 304.2h0M456.9 307.2h0M460.3 308.1h0" stroke="#C0A234" stroke-width="2" stroke-linecap="round" fill="none"/>
<path d="M448.3 264.1h0M469.6 267h0M465.8 271.7h0M468.7 273.7h0M473.1 274.6h0M495.6 280.5h0M441.6 280.5h0M446.8 288.3h0M451.2 286.9h0M453.3 281.6h0M480.4 287.5h0M464.4 273.7h0M467.3 275.2h0" stroke="#C0A234" stroke-width="2.5" stroke-linecap="round" fill="none"/>
<path d="M537.6 275.6h0M539.1 282.5h0M551.3 274.3h0M533.7 272.5h0M549.9 285.2h0M541.4 284.1h0M551.9 277.4h0M553.2 278.6h0M545.9 280.2h0M539.8 286.7h0M544 287h0M541.7 276.4h0M543.2 289.4h0M530.8 277.1h0M544.8 275.6h0M548.5 273.3h0M535.8 273.8h0M552.7 277.7h0M547 277.9h0M543.3 286h0M540.2 284.6h0M547.2 280.6h0M534.8 277h0M552.6 274.6h0M531.1 277.8h0M551.8 277.8h0M546.3 283.1h0M550 276.1h0M531.3 278.2h0M543.4 290.1h0M549.9 277.2h0M554 279.5h0M549.9 274.3h0M551.2 276.1h0M546.9 279.6h0M546.2 276.2h0M539.3 288h0M545.3 280h0M541.7 287.8h0M536.4 274.9h0M551.5 274.2h0M550.1 272.4h0M547.3 285.3h0M533.9 284.2h0M540.4 287.2h0M531.2 277.4h0M541 276.9h0M549.5 272.3h0M549.5 280h0M549.7 284h0M533.7 281.7h0M542.9 288.5h0M551 279h0M536.5 284.9h0M541.1 289.7h0M550.4 274.3h0M534.8 278.4h0M541 284.2h0M536.8 280.1h0M548.6 275.7h0M536.6 285.6h0M547 283.2h0M535 274.6h0M539.2 286.7h0M537 277.6h0M535.9 283.3h0M536.5 273.6h0M547.7 276.6h0M535.9 277.5h0M541.5 274.5h0M540.9 291.8h0M539.4 288.5h0M541.4 277h0M553.6 275.1h0M548.4 281.4h0M537.5 282.2h0M543.6 274.6h0M540.8 283.7h0M540.4 288.4h0M543.1 290.2h0M543.4 287.2h0M547.3 286.2h0M532.9 278.8h0M547.2 278.2h0M540.8 276.6h0M531.3 280.4h0M549.3 273.4h0M539.9 275.9h0M552.8 276h0M552.2 275.4h0M546.3 282h0M530.3 277.8h0M536.7 285.4h0M549.6 278.6h0M536.2 275.8h0M547 279.3h0M538.1 276.6h0M535.8 285.7h0M550.9 279.7h0M533.6 279.9h0M541 290.9h0M539.3 278.7h0M537.1 283.6h0M546.2 279.8h0M551.7 278.9h0M548.3 272.8h0M533 276.2h0M544.7 278.9h0M543.8 286.5h0M542.7 277.6h0M546.4 286.7h0M549.8 284.9h0M536.5 281.4h0M536.5 285.8h0M535.1 277h0M536.5 272.8h0M547.6 284.7h0M541.6 280h0M531.6 281.9h0M537.4 276.7h0M537.3 278.6h0M539.4 283.7h0M531.9 275.6h0M544.7 279.8h0M541.9 274.2h0M537.7 274.6h0M541.3 288.7h0M538.9 277.9h0M537.5 283h0M543.7 283.1h0M532.2 278.1h0M544.9 279.5h0M535.3 279.9h0M532.7 276.9h0M541.9 283.1h0M542.6 277.2h0M541.2 286.8h0M535.5 283.7h0M552.7 276h0M545.2 285.2h0M540.1 285.3h0M544.4 278.1h0M545.1 289.7h0M534.2 279h0M534.4 282.8h0M531 275.6h0M542.9 284.8h0M550.4 274.5h0M548.3 283.8h0M553.6 278.5h0M549.3 277h0M544.5 276.6h0M551.3 274h0M549.9 281.1h0M549.7 274.7h0M542.3 283.1h0M551.7 278.6h0M540.2 283.9h0M548.7 272.3h0M547.7 275.3h0M544.7 280.9h0M542.1 279.4h0M532.8 277.2h0M540.1 285.5h0M551.8 277.7h0M551.1 281.4h0M536.5 282.5h0M544.9 287.7h0M548.4 279.3h0M548.6 280.2h0M543.5 276h0M551.9 276.4h0M533.5 276.1h0M547.2 288h0M544.4 284h0M539.7 277.9h0M551.6 276.7h0M534.6 277.6h0M537.7 286h0M542.2 277.3h0M540.9 278.4h0M535.8 284.2h0M546.7 283.6h0M540.1 282.3h0M534.4 284.4h0M545.7 281h0M548.5 280.5h0M537.9 274.9h0M540 288.7h0M549 279.8h0M537.3 280.9h0M541.7 287.9h0M541.4 285.3h0M547.2 278.9h0M542.9 289.1h0M541.8 275.6h0M537.3 278.6h0M548.3 282.7h0M531.7 274.1h0" stroke="#2DBC70" stroke-width="2.4" stroke-linecap="round" fill="none"/>
<path d="M522.8 266.2h0M527.6 269.6h0M523.8 267.6h0M524.8 267.7h0M524.6 268.3h0M521.4 270.8h0M525.7 272.5h0M521.1 270.5h0M525.5 268.1h0M527.6 270h0M521.5 267.1h0M526.4 270.3h0M520.7 269h0M523.4 268.6h0M521.7 272.3h0M521.5 272.7h0M520.9 276.6h0M522.2 273.1h0M521.8 268.9h0M523.4 271.7h0M524.1 268.7h0" stroke="#2DBC70" stroke-width="2.2" stroke-linecap="round" fill="none"/>
<path d="M511.1 265.9h0M546.1 264.1h0M547.6 266.4h0M557.8 276.7h0M556.3 280.5h0M540.3 295.6h0M531.5 270.8h0" stroke="#2DBC70" stroke-width="2.5" stroke-linecap="round" fill="none"/>
<path d="M387.5 341.7h0M385.7 336h0M379.8 345.4h0M381.6 338.2h0M382.2 336h0M383.2 339.1h0M388 345h0M385.2 334.2h0M377.6 337.6h0M377.1 337.4h0M389.5 343.6h0M388.7 344.8h0M378.5 342.9h0M379.6 341.3h0M377.6 339.5h0M377.4 340h0M386.4 341h0M378.8 340.6h0M386.5 346.9h0M387.8 346.3h0M378.6 344.9h0M385.4 341.2h0M384.7 334.9h0M380.1 343.8h0M379 344.3h0M380.1 338.2h0M382.7 346.2h0M387.2 345.2h0M382.8 337.8h0M382.7 348.6h0M382.6 344.8h0M386.3 335.4h0M384.1 337.7h0M382.4 340.9h0M388.2 346.9h0M379.1 338.3h0M383.4 342.4h0M378.3 338.5h0M386.2 341.5h0M381.6 340.3h0M388.2 345.3h0M378.8 342.8h0M384.8 347h0M384.3 339.1h0M385.5 349.5h0M386.1 345.3h0M389.3 347.1h0M379.7 343.8h0M381.5 346.6h0M386.5 340.5h0M382 337.1h0M388.7 343.3h0M381.4 337.6h0M384.6 340.4h0M383.9 340.1h0M383.4 347.7h0M379 335.3h0M385.5 338.9h0M385.9 348.5h0M386.4 345.1h0M381.3 345.6h0M378.6 337.7h0M381.1 339.1h0M387.1 337.6h0M388.7 338.2h0M380.2 345h0M381.7 335.5h0M383.7 333.9h0M388.6 344.3h0M375.8 337.4h0M375.2 338.8h0M374.9 338.7h0M384.2 344.8h0M384.9 335.9h0M383.7 335.3h0M386 337.8h0M383.5 336.9h0M385.6 334.7h0M387.4 340h0M385.2 347.2h0M379 339h0M383.5 342.3h0M381.8 340.4h0M378.8 335.6h0M381.4 333.5h0M379.9 338.9h0M380.6 342.2h0M384.3 345.1h0M380.7 343.1h0M376.2 339.2h0M388.4 347.9h0M379 334.8h0M389.8 340.2h0M386.2 343.7h0M385.4 348.5h0M380.1 337.4h0M387.8 342.4h0M388.9 340.8h0M385.6 335.2h0M388.4 343.5h0M380.6 335.7h0M378.8 337.7h0M379.4 343.1h0M383.7 344.6h0M386.3 337.3h0M378.2 336.6h0M382.5 340.9h0M378 337.3h0M384.8 345.3h0M381.7 343.3h0M387.3 345.6h0M383.8 341.1h0M380.6 342.6h0M384.5 336h0M384.1 334.5h0M384.7 339.7h0" stroke="#1DB9F0" stroke-width="2.4" stroke-linecap="round" fill="none"/>
<path d="M419.1 316.1h0M389.9 320.5h0M384.1 327.2h0M392.8 329.2h0M395.7 335.9h0M393.7 340h0M394.9 345.3h0M396.6 349.6h0M395.7 354h0M394.3 365.7h0M391.4 333.6h0" stroke="#1DB9F0" stroke-width="2.5" stroke-linecap="round" fill="none"/>
<path d="M456.9 317.5h0M457.2 322h0M459.7 320.9h0M457.6 319.3h0M456.7 323.3h0M454.7 318.4h0M452.5 318.1h0M459.6 319.6h0M459.7 320.1h0M455.5 320.6h0M454.9 316.5h0M455.5 320h0M455.5 316.4h0M453.8 319.6h0M456.2 324.5h0M454.1 319.2h0M453.4 321h0M453.3 318.6h0M457.5 324.8h0M454.7 320h0M455.4 322.4h0M456.2 320.4h0M454.2 317.5h0M459.2 318h0M454.5 316.8h0M453.4 318.9h0M460.3 319.4h0M455.7 320.3h0M456.6 323.9h0M457.8 323.3h0M458.5 321.1h0M453.9 320.8h0M456.3 317.6h0M455.6 323.3h0M458.3 317.2h0M457.1 323.5h0M458.7 317.7h0M453.8 320.7h0M456.6 316.6h0M459.9 317.6h0M459.8 317.9h0M454.6 319.7h0M460.4 321.1h0M457.4 316.7h0M452.7 319h0M453.2 317.9h0M459.5 319.3h0M457.8 321.4h0M456.1 324h0M456.8 323.5h0" stroke="#7BA3F5" stroke-width="2.1" stroke-linecap="round" fill="none"/>
<path d="M448.3 326.3h0M457.9 330.1h0M460.8 330.7h0M462.9 329.2h0M467.9 325.4h0M468.7 331.3h0M466.7 336.5h0M478.4 337.4h0" stroke="#7BA3F5" stroke-width="2.5" stroke-linecap="round" fill="none"/>
<rect x="573.4" y="1.4" width="9.6" height="9.6" rx="1.2" fill="#F47C7E"/><path d="M575.70 6.20L577.53 7.93L580.79 4.57" stroke="#fff" stroke-width="1.1" fill="none" stroke-linecap="round" stroke-linejoin="round"/><text transform="translate(590.3 11.9) scale(1.03 1)" font-size="11.2" fill="#222">Cluster 1 (1083)</text><rect x="573.4" y="23.1" width="9.6" height="9.6" rx="1.2" fill="#E2A233"/><path d="M575.70 27.90L577.53 29.63L580.79 26.27" stroke="#fff" stroke-width="1.1" fill="none" stroke-linecap="round" stroke-linejoin="round"/><text transform="translate(590.3 33.6) scale(1.03 1)" font-size="11.2" fill="#222">Cluster 2 (1003)</text><rect x="573.4" y="45" width="9.6" height="9.6" rx="1.2" fill="#6CBD4D"/><path d="M575.70 49.80L577.53 51.53L580.79 48.17" stroke="#fff" stroke-width="1.1" fill="none" stroke-linecap="round" stroke-linejoin="round"/><text transform="translate(590.3 55.5) scale(1.03 1)" font-size="11.2" fill="#222">Cluster 3 (961)</text><rect x="573.4" y="66.6" width="9.6" height="9.6" rx="1.2" fill="#1DBA96"/><path d="M575.70 71.40L577.53 73.13L580.79 69.77" stroke="#fff" stroke-width="1.1" fill="none" stroke-linecap="round" stroke-linejoin="round"/><text transform="translate(590.3 77.1) scale(1.03 1)" font-size="11.2" fill="#222">Cluster 4 (1083)</text><rect x="573.4" y="88.1" width="9.6" height="9.6" rx="1.2" fill="#1CB5F2"/><path d="M575.70 92.90L577.53 94.63L580.79 91.27" stroke="#fff" stroke-width="1.1" fill="none" stroke-linecap="round" stroke-linejoin="round"/><text transform="translate(590.3 98.6) scale(1.03 1)" font-size="11.2" fill="#222">Cluster 5 (1003)</text><rect x="573.4" y="109.8" width="9.6" height="9.6" rx="1.2" fill="#8FA9F7"/><path d="M575.70 114.60L577.53 116.33L580.79 112.97" stroke="#fff" stroke-width="1.1" fill="none" stroke-linecap="round" stroke-linejoin="round"/><text transform="translate(590.3 120.3) scale(1.03 1)" font-size="11.2" fill="#222">Cluster 6 (961)</text>
<rect x="573.8" y="142" width="10.2" height="10.2" rx="1.2" fill="#FA8262"/><path d="M576.25 147.10L578.19 148.94L581.65 145.37" stroke="#fff" stroke-width="1.1" fill="none" stroke-linecap="round" stroke-linejoin="round"/><text transform="translate(590.2 152.3) scale(1.065 1)" font-size="11.5" fill="#222">Cluster 1 (146)</text><rect x="573.8" y="166.2" width="10.2" height="10.2" rx="1.2" fill="#8DB93B"/><path d="M576.25 171.30L578.19 173.14L581.65 169.57" stroke="#fff" stroke-width="1.1" fill="none" stroke-linecap="round" stroke-linejoin="round"/><text transform="translate(590.2 176.5) scale(1.065 1)" font-size="11.5" fill="#222">Cluster 2 (127)</text><rect x="573.8" y="190.3" width="10.2" height="10.2" rx="1.2" fill="#1FC6C6"/><path d="M576.25 195.40L578.19 197.24L581.65 193.67" stroke="#fff" stroke-width="1.1" fill="none" stroke-linecap="round" stroke-linejoin="round"/><text transform="translate(590.2 200.6) scale(1.065 1)" font-size="11.5" fill="#222">Cluster 3 (122)</text><rect x="573.8" y="214.7" width="10.2" height="10.2" rx="1.2" fill="#40A2FA"/><path d="M576.25 219.80L578.19 221.64L581.65 218.07" stroke="#fff" stroke-width="1.1" fill="none" stroke-linecap="round" stroke-linejoin="round"/><text transform="translate(590.2 225) scale(1.065 1)" font-size="11.5" fill="#222">Cluster 4 (96)</text>
<rect x="572.9" y="257.9" width="10.2" height="10.2" rx="1.2" fill="#FA7D72"/><path d="M575.35 263.00L577.29 264.84L580.75 261.27" stroke="#fff" stroke-width="1.1" fill="none" stroke-linecap="round" stroke-linejoin="round"/><text transform="translate(589.3 267.7) scale(1.075 1)" font-size="11.5" fill="#222">Cluster 1 (590)</text><rect x="572.9" y="282" width="10.2" height="10.2" rx="1.2" fill="#C5A830"/><path d="M575.35 287.10L577.29 288.94L580.75 285.37" stroke="#fff" stroke-width="1.1" fill="none" stroke-linecap="round" stroke-linejoin="round"/><text transform="translate(589.3 291.8) scale(1.075 1)" font-size="11.5" fill="#222">Cluster 2 (575)</text><rect x="572.9" y="306.6" width="10.2" height="10.2" rx="1.2" fill="#2EC272"/><path d="M575.35 311.70L577.29 313.54L580.75 309.97" stroke="#fff" stroke-width="1.1" fill="none" stroke-linecap="round" stroke-linejoin="round"/><text transform="translate(589.3 316.4) scale(1.075 1)" font-size="11.5" fill="#222">Cluster 3 (486)</text><rect x="572.9" y="330.9" width="10.2" height="10.2" rx="1.2" fill="#1DBEF6"/><path d="M575.35 336.00L577.29 337.84L580.75 334.27" stroke="#fff" stroke-width="1.1" fill="none" stroke-linecap="round" stroke-linejoin="round"/><text transform="translate(589.3 340.7) scale(1.075 1)" font-size="11.5" fill="#222">Cluster 4 (377)</text><rect x="572.9" y="355.1" width="10.2" height="10.2" rx="1.2" fill="#70A4FB"/><path d="M575.35 360.20L577.29 362.04L580.75 358.47" stroke="#fff" stroke-width="1.1" fill="none" stroke-linecap="round" stroke-linejoin="round"/><text transform="translate(589.3 364.9) scale(1.075 1)" font-size="11.5" fill="#222">Cluster 5 (151)</text>
<text x="5.8" y="440.8" font-size="24.5" font-weight="bold" fill="#000" text-anchor="start" textLength="15.5" lengthAdjust="spacingAndGlyphs">B</text>
<path d="M167.00 520.00L184.70 520.00A40.7 40.7 0 0 1 184.40 524.91L166.83 522.77A23 23 0 0 0 167.00 520.00Z" fill="#F1E9FC" stroke="#F1E9FC" stroke-width="0.7"/>
<path d="M166.83 522.77L184.40 524.91A40.7 40.7 0 0 1 183.52 529.74L166.33 525.51A23 23 0 0 0 166.83 522.77Z" fill="#F1E9FD" stroke="#F1E9FD" stroke-width="0.7"/>
<path d="M166.33 525.51L183.52 529.74A40.7 40.7 0 0 1 182.05 534.44L165.50 528.16A23 23 0 0 0 166.33 525.51Z" fill="#F5EDFF" stroke="#F5EDFF" stroke-width="0.7"/>
<path d="M165.50 528.16L182.05 534.44A40.7 40.7 0 0 1 180.03 538.92L164.36 530.69A23 23 0 0 0 165.50 528.16Z" fill="#F1E8FD" stroke="#F1E8FD" stroke-width="0.7"/>
<path d="M164.36 530.69L180.03 538.92A40.7 40.7 0 0 1 177.49 543.13L162.93 533.07A23 23 0 0 0 164.36 530.69Z" fill="#F1E9FE" stroke="#F1E9FE" stroke-width="0.7"/>
<path d="M162.93 533.07L177.49 543.13A40.7 40.7 0 0 1 174.46 547.00L161.21 535.26A23 23 0 0 0 162.93 533.07Z" fill="#F3EAFF" stroke="#F3EAFF" stroke-width="0.7"/>
<path d="M161.21 535.26L174.46 547.00A40.7 40.7 0 0 1 170.98 550.47L159.25 537.22A23 23 0 0 0 161.21 535.26Z" fill="#EDE4FA" stroke="#EDE4FA" stroke-width="0.7"/>
<path d="M159.25 537.22L170.98 550.47A40.7 40.7 0 0 1 167.11 553.50L157.06 538.93A23 23 0 0 0 159.25 537.22Z" fill="#EDE3FA" stroke="#EDE3FA" stroke-width="0.7"/>
<path d="M157.06 538.93L167.11 553.50A40.7 40.7 0 0 1 162.90 556.05L154.68 540.37A23 23 0 0 0 157.06 538.93Z" fill="#F2E9FF" stroke="#F2E9FF" stroke-width="0.7"/>
<path d="M154.68 540.37L162.90 556.05A40.7 40.7 0 0 1 158.41 558.06L152.14 541.51A23 23 0 0 0 154.68 540.37Z" fill="#F1E7FF" stroke="#F1E7FF" stroke-width="0.7"/>
<path d="M152.14 541.51L158.41 558.06A40.7 40.7 0 0 1 153.72 559.52L149.49 542.33A23 23 0 0 0 152.14 541.51Z" fill="#EBE2FA" stroke="#EBE2FA" stroke-width="0.7"/>
<path d="M149.49 542.33L153.72 559.52A40.7 40.7 0 0 1 148.88 560.41L146.76 542.83A23 23 0 0 0 149.49 542.33Z" fill="#EAE0FA" stroke="#EAE0FA" stroke-width="0.7"/>
<path d="M146.76 542.83L148.88 560.41A40.7 40.7 0 0 1 143.97 560.70L143.98 543.00A23 23 0 0 0 146.76 542.83Z" fill="#EEE4FE" stroke="#EEE4FE" stroke-width="0.7"/>
<path d="M143.98 543.00L143.97 560.70A40.7 40.7 0 0 1 139.07 560.40L141.21 542.83A23 23 0 0 0 143.98 543.00Z" fill="#F0E6FF" stroke="#F0E6FF" stroke-width="0.7"/>
<path d="M141.21 542.83L139.07 560.40A40.7 40.7 0 0 1 134.23 559.51L138.48 542.33A23 23 0 0 0 141.21 542.83Z" fill="#EAE1FA" stroke="#EAE1FA" stroke-width="0.7"/>
<path d="M138.48 542.33L134.23 559.51A40.7 40.7 0 0 1 129.54 558.04L135.83 541.50A23 23 0 0 0 138.48 542.33Z" fill="#F1E7FF" stroke="#F1E7FF" stroke-width="0.7"/>
<path d="M135.83 541.50L129.54 558.04A40.7 40.7 0 0 1 125.05 556.02L133.29 540.36A23 23 0 0 0 135.83 541.50Z" fill="#F0E7FF" stroke="#F0E7FF" stroke-width="0.7"/>
<path d="M133.29 540.36L125.05 556.02A40.7 40.7 0 0 1 120.85 553.47L130.92 538.92A23 23 0 0 0 133.29 540.36Z" fill="#EEE5FD" stroke="#EEE5FD" stroke-width="0.7"/>
<path d="M130.92 538.92L120.85 553.47A40.7 40.7 0 0 1 116.98 550.44L128.73 537.20A23 23 0 0 0 130.92 538.92Z" fill="#EDE4FB" stroke="#EDE4FB" stroke-width="0.7"/>
<path d="M128.73 537.20L116.98 550.44A40.7 40.7 0 0 1 113.51 546.96L126.77 535.23A23 23 0 0 0 128.73 537.20Z" fill="#EBE3F9" stroke="#EBE3F9" stroke-width="0.7"/>
<path d="M126.77 535.23L113.51 546.96A40.7 40.7 0 0 1 110.48 543.08L125.06 533.05A23 23 0 0 0 126.77 535.23Z" fill="#ECE4F9" stroke="#ECE4F9" stroke-width="0.7"/>
<path d="M125.06 533.05L110.48 543.08A40.7 40.7 0 0 1 107.94 538.87L123.62 530.67A23 23 0 0 0 125.06 533.05Z" fill="#F4EDFF" stroke="#F4EDFF" stroke-width="0.7"/>
<path d="M123.62 530.67L107.94 538.87A40.7 40.7 0 0 1 105.93 534.39L122.49 528.13A23 23 0 0 0 123.62 530.67Z" fill="#EFE8FB" stroke="#EFE8FB" stroke-width="0.7"/>
<path d="M122.49 528.13L105.93 534.39A40.7 40.7 0 0 1 104.47 529.69L121.66 525.48A23 23 0 0 0 122.49 528.13Z" fill="#F3EDFE" stroke="#F3EDFE" stroke-width="0.7"/>
<path d="M121.66 525.48L104.47 529.69A40.7 40.7 0 0 1 103.59 524.85L121.16 522.74A23 23 0 0 0 121.66 525.48Z" fill="#F0EBFB" stroke="#F0EBFB" stroke-width="0.7"/>
<path d="M121.16 522.74L103.59 524.85A40.7 40.7 0 0 1 103.30 519.95L121.00 519.97A23 23 0 0 0 121.16 522.74Z" fill="#F3EDFF" stroke="#F3EDFF" stroke-width="0.7"/>
<path d="M121.00 519.97L103.30 519.95A40.7 40.7 0 0 1 103.60 515.04L121.17 517.20A23 23 0 0 0 121.00 519.97Z" fill="#EFE9FD" stroke="#EFE9FD" stroke-width="0.7"/>
<path d="M121.17 517.20L103.60 515.04A40.7 40.7 0 0 1 104.50 510.20L121.68 514.46A23 23 0 0 0 121.17 517.20Z" fill="#EBE5FA" stroke="#EBE5FA" stroke-width="0.7"/>
<path d="M121.68 514.46L104.50 510.20A40.7 40.7 0 0 1 105.97 505.51L122.51 511.81A23 23 0 0 0 121.68 514.46Z" fill="#E9E2F9" stroke="#E9E2F9" stroke-width="0.7"/>
<path d="M122.51 511.81L105.97 505.51A40.7 40.7 0 0 1 107.99 501.03L123.65 509.28A23 23 0 0 0 122.51 511.81Z" fill="#EBE4FD" stroke="#EBE4FD" stroke-width="0.7"/>
<path d="M123.65 509.28L107.99 501.03A40.7 40.7 0 0 1 110.54 496.83L125.09 506.90A23 23 0 0 0 123.65 509.28Z" fill="#E5DDF8" stroke="#E5DDF8" stroke-width="0.7"/>
<path d="M125.09 506.90L110.54 496.83A40.7 40.7 0 0 1 113.58 492.96L126.81 504.72A23 23 0 0 0 125.09 506.90Z" fill="#E0D7F8" stroke="#E0D7F8" stroke-width="0.7"/>
<path d="M126.81 504.72L113.58 492.96A40.7 40.7 0 0 1 117.06 489.49L128.78 502.76A23 23 0 0 0 126.81 504.72Z" fill="#DDD2FA" stroke="#DDD2FA" stroke-width="0.7"/>
<path d="M128.78 502.76L117.06 489.49A40.7 40.7 0 0 1 120.94 486.46L130.97 501.05A23 23 0 0 0 128.78 502.76Z" fill="#DACEFC" stroke="#DACEFC" stroke-width="0.7"/>
<path d="M130.97 501.05L120.94 486.46A40.7 40.7 0 0 1 125.15 483.93L133.35 499.62A23 23 0 0 0 130.97 501.05Z" fill="#D3C5F9" stroke="#D3C5F9" stroke-width="0.7"/>
<path d="M133.35 499.62L125.15 483.93A40.7 40.7 0 0 1 129.64 481.92L135.88 498.48A23 23 0 0 0 133.35 499.62Z" fill="#CEBFF6" stroke="#CEBFF6" stroke-width="0.7"/>
<path d="M135.88 498.48L129.64 481.92A40.7 40.7 0 0 1 134.33 480.46L138.54 497.66A23 23 0 0 0 135.88 498.48Z" fill="#D0C2FB" stroke="#D0C2FB" stroke-width="0.7"/>
<path d="M138.54 497.66L134.33 480.46A40.7 40.7 0 0 1 139.17 479.59L141.27 497.16A23 23 0 0 0 138.54 497.66Z" fill="#C8B9F5" stroke="#C8B9F5" stroke-width="0.7"/>
<path d="M141.27 497.16L139.17 479.59A40.7 40.7 0 0 1 144.08 479.30L144.05 497.00A23 23 0 0 0 141.27 497.16Z" fill="#C4B5F3" stroke="#C4B5F3" stroke-width="0.7"/>
<path d="M144.05 497.00L144.08 479.30A40.7 40.7 0 0 1 148.99 479.61L146.82 497.17A23 23 0 0 0 144.05 497.00Z" fill="#C8B9F5" stroke="#C8B9F5" stroke-width="0.7"/>
<path d="M146.82 497.17L148.99 479.61A40.7 40.7 0 0 1 153.82 480.50L149.55 497.68A23 23 0 0 0 146.82 497.17Z" fill="#CCBDF7" stroke="#CCBDF7" stroke-width="0.7"/>
<path d="M149.55 497.68L153.82 480.50A40.7 40.7 0 0 1 158.51 481.98L152.20 498.51A23 23 0 0 0 149.55 497.68Z" fill="#CABCF4" stroke="#CABCF4" stroke-width="0.7"/>
<path d="M152.20 498.51L158.51 481.98A40.7 40.7 0 0 1 162.99 484.00L154.73 499.66A23 23 0 0 0 152.20 498.51Z" fill="#D5C9F7" stroke="#D5C9F7" stroke-width="0.7"/>
<path d="M154.73 499.66L162.99 484.00A40.7 40.7 0 0 1 167.20 486.56L157.11 501.10A23 23 0 0 0 154.73 499.66Z" fill="#E1D7FA" stroke="#E1D7FA" stroke-width="0.7"/>
<path d="M157.11 501.10L167.20 486.56A40.7 40.7 0 0 1 171.06 489.60L159.29 502.82A23 23 0 0 0 157.11 501.10Z" fill="#DDD1FB" stroke="#DDD1FB" stroke-width="0.7"/>
<path d="M159.29 502.82L171.06 489.60A40.7 40.7 0 0 1 174.53 493.08L161.25 504.79A23 23 0 0 0 159.29 502.82Z" fill="#D3C5F6" stroke="#D3C5F6" stroke-width="0.7"/>
<path d="M161.25 504.79L174.53 493.08A40.7 40.7 0 0 1 177.55 496.96L162.96 506.98A23 23 0 0 0 161.25 504.79Z" fill="#BDA9F5" stroke="#BDA9F5" stroke-width="0.7"/>
<path d="M162.96 506.98L177.55 496.96A40.7 40.7 0 0 1 180.08 501.17L164.39 509.36A23 23 0 0 0 162.96 506.98Z" fill="#A387F6" stroke="#A387F6" stroke-width="0.7"/>
<path d="M164.39 509.36L180.08 501.17A40.7 40.7 0 0 1 182.09 505.66L165.53 511.90A23 23 0 0 0 164.39 509.36Z" fill="#8468F4" stroke="#8468F4" stroke-width="0.7"/>
<path d="M165.53 511.90L182.09 505.66A40.7 40.7 0 0 1 183.54 510.36L166.35 514.55A23 23 0 0 0 165.53 511.90Z" fill="#0B0BF3" stroke="#0B0BF3" stroke-width="0.7"/>
<path d="M184.70 520.00L201.80 520.00A57.8 57.8 0 0 1 201.38 526.97L184.40 524.91A40.7 40.7 0 0 0 184.70 520.00Z" fill="#E7D4F7" stroke="#E7D4F7" stroke-width="0.7"/>
<path d="M184.40 524.91L201.38 526.97A57.8 57.8 0 0 1 200.12 533.84L183.52 529.74A40.7 40.7 0 0 0 184.40 524.91Z" fill="#E8D5F9" stroke="#E8D5F9" stroke-width="0.7"/>
<path d="M183.52 529.74L200.12 533.84A57.8 57.8 0 0 1 198.04 540.50L182.05 534.44A40.7 40.7 0 0 0 183.52 529.74Z" fill="#EDDAFE" stroke="#EDDAFE" stroke-width="0.7"/>
<path d="M182.05 534.44L198.04 540.50A57.8 57.8 0 0 1 195.17 546.87L180.03 538.92A40.7 40.7 0 0 0 182.05 534.44Z" fill="#E9D6FA" stroke="#E9D6FA" stroke-width="0.7"/>
<path d="M180.03 538.92L195.17 546.87A57.8 57.8 0 0 1 191.56 552.85L177.49 543.13A40.7 40.7 0 0 0 180.03 538.92Z" fill="#EDD9FE" stroke="#EDD9FE" stroke-width="0.7"/>
<path d="M177.49 543.13L191.56 552.85A57.8 57.8 0 0 1 187.25 558.34L174.46 547.00A40.7 40.7 0 0 0 177.49 543.13Z" fill="#E8D3FA" stroke="#E8D3FA" stroke-width="0.7"/>
<path d="M174.46 547.00L187.25 558.34A57.8 57.8 0 0 1 182.31 563.28L170.98 550.47A40.7 40.7 0 0 0 174.46 547.00Z" fill="#E5D0F7" stroke="#E5D0F7" stroke-width="0.7"/>
<path d="M170.98 550.47L182.31 563.28A57.8 57.8 0 0 1 176.81 567.58L167.11 553.50A40.7 40.7 0 0 0 170.98 550.47Z" fill="#E9D4FB" stroke="#E9D4FB" stroke-width="0.7"/>
<path d="M167.11 553.50L176.81 567.58A57.8 57.8 0 0 1 170.84 571.19L162.90 556.05A40.7 40.7 0 0 0 167.11 553.50Z" fill="#E9D4FC" stroke="#E9D4FC" stroke-width="0.7"/>
<path d="M162.90 556.05L170.84 571.19A57.8 57.8 0 0 1 164.47 574.05L158.41 558.06A40.7 40.7 0 0 0 162.90 556.05Z" fill="#E3CDF8" stroke="#E3CDF8" stroke-width="0.7"/>
<path d="M158.41 558.06L164.47 574.05A57.8 57.8 0 0 1 157.80 576.13L153.72 559.52A40.7 40.7 0 0 0 158.41 558.06Z" fill="#DFC9F6" stroke="#DFC9F6" stroke-width="0.7"/>
<path d="M153.72 559.52L157.80 576.13A57.8 57.8 0 0 1 150.93 577.38L148.88 560.41A40.7 40.7 0 0 0 153.72 559.52Z" fill="#DEC8F7" stroke="#DEC8F7" stroke-width="0.7"/>
<path d="M148.88 560.41L150.93 577.38A57.8 57.8 0 0 1 143.96 577.80L143.97 560.70A40.7 40.7 0 0 0 148.88 560.41Z" fill="#E1CAFC" stroke="#E1CAFC" stroke-width="0.7"/>
<path d="M143.97 560.70L143.96 577.80A57.8 57.8 0 0 1 136.99 577.37L139.07 560.40A40.7 40.7 0 0 0 143.97 560.70Z" fill="#DEC7FA" stroke="#DEC7FA" stroke-width="0.7"/>
<path d="M139.07 560.40L136.99 577.37A57.8 57.8 0 0 1 130.12 576.11L134.23 559.51A40.7 40.7 0 0 0 139.07 560.40Z" fill="#D8C1F5" stroke="#D8C1F5" stroke-width="0.7"/>
<path d="M134.23 559.51L130.12 576.11A57.8 57.8 0 0 1 123.46 574.03L129.54 558.04A40.7 40.7 0 0 0 134.23 559.51Z" fill="#D9C1F6" stroke="#D9C1F6" stroke-width="0.7"/>
<path d="M129.54 558.04L123.46 574.03A57.8 57.8 0 0 1 117.09 571.16L125.05 556.02A40.7 40.7 0 0 0 129.54 558.04Z" fill="#D7BFF4" stroke="#D7BFF4" stroke-width="0.7"/>
<path d="M125.05 556.02L117.09 571.16A57.8 57.8 0 0 1 111.12 567.54L120.85 553.47A40.7 40.7 0 0 0 125.05 556.02Z" fill="#D6BDF4" stroke="#D6BDF4" stroke-width="0.7"/>
<path d="M120.85 553.47L111.12 567.54A57.8 57.8 0 0 1 105.63 563.23L116.98 550.44A40.7 40.7 0 0 0 120.85 553.47Z" fill="#DBC2FA" stroke="#DBC2FA" stroke-width="0.7"/>
<path d="M116.98 550.44L105.63 563.23A57.8 57.8 0 0 1 100.70 558.28L113.51 546.96A40.7 40.7 0 0 0 116.98 550.44Z" fill="#D5BCF5" stroke="#D5BCF5" stroke-width="0.7"/>
<path d="M113.51 546.96L100.70 558.28A57.8 57.8 0 0 1 96.40 552.78L110.48 543.08A40.7 40.7 0 0 0 113.51 546.96Z" fill="#D7BEF7" stroke="#D7BEF7" stroke-width="0.7"/>
<path d="M110.48 543.08L96.40 552.78A57.8 57.8 0 0 1 92.79 546.80L107.94 538.87A40.7 40.7 0 0 0 110.48 543.08Z" fill="#D5BCF6" stroke="#D5BCF6" stroke-width="0.7"/>
<path d="M107.94 538.87L92.79 546.80A57.8 57.8 0 0 1 89.93 540.43L105.93 534.39A40.7 40.7 0 0 0 107.94 538.87Z" fill="#D1B8F4" stroke="#D1B8F4" stroke-width="0.7"/>
<path d="M105.93 534.39L89.93 540.43A57.8 57.8 0 0 1 87.86 533.76L104.47 529.69A40.7 40.7 0 0 0 105.93 534.39Z" fill="#D4BBF8" stroke="#D4BBF8" stroke-width="0.7"/>
<path d="M104.47 529.69L87.86 533.76A57.8 57.8 0 0 1 86.61 526.89L103.59 524.85A40.7 40.7 0 0 0 104.47 529.69Z" fill="#CDB4F3" stroke="#CDB4F3" stroke-width="0.7"/>
<path d="M103.59 524.85L86.61 526.89A57.8 57.8 0 0 1 86.20 519.92L103.30 519.95A40.7 40.7 0 0 0 103.59 524.85Z" fill="#D0B7F7" stroke="#D0B7F7" stroke-width="0.7"/>
<path d="M103.30 519.95L86.20 519.92A57.8 57.8 0 0 1 86.63 512.95L103.60 515.04A40.7 40.7 0 0 0 103.30 519.95Z" fill="#C3B3F3" stroke="#C3B3F3" stroke-width="0.7"/>
<path d="M103.60 515.04L86.63 512.95A57.8 57.8 0 0 1 87.90 506.09L104.50 510.20A40.7 40.7 0 0 0 103.60 515.04Z" fill="#CBB1F5" stroke="#CBB1F5" stroke-width="0.7"/>
<path d="M104.50 510.20L87.90 506.09A57.8 57.8 0 0 1 89.99 499.42L105.97 505.51A40.7 40.7 0 0 0 104.50 510.20Z" fill="#C1AFF3" stroke="#C1AFF3" stroke-width="0.7"/>
<path d="M105.97 505.51L89.99 499.42A57.8 57.8 0 0 1 92.86 493.06L107.99 501.03A40.7 40.7 0 0 0 105.97 505.51Z" fill="#BFADF4" stroke="#BFADF4" stroke-width="0.7"/>
<path d="M107.99 501.03L92.86 493.06A57.8 57.8 0 0 1 96.48 487.09L110.54 496.83A40.7 40.7 0 0 0 107.99 501.03Z" fill="#C3B0F9" stroke="#C3B0F9" stroke-width="0.7"/>
<path d="M110.54 496.83L96.48 487.09A57.8 57.8 0 0 1 100.80 481.60L113.58 492.96A40.7 40.7 0 0 0 110.54 496.83Z" fill="#C0ACF7" stroke="#C0ACF7" stroke-width="0.7"/>
<path d="M113.58 492.96L100.80 481.60A57.8 57.8 0 0 1 105.74 476.67L117.06 489.49A40.7 40.7 0 0 0 113.58 492.96Z" fill="#BFACF4" stroke="#BFACF4" stroke-width="0.7"/>
<path d="M117.06 489.49L105.74 476.67A57.8 57.8 0 0 1 111.25 472.37L120.94 486.46A40.7 40.7 0 0 0 117.06 489.49Z" fill="#CDB2F9" stroke="#CDB2F9" stroke-width="0.7"/>
<path d="M120.94 486.46L111.25 472.37A57.8 57.8 0 0 1 117.23 468.77L125.15 483.93A40.7 40.7 0 0 0 120.94 486.46Z" fill="#C3B2F3" stroke="#C3B2F3" stroke-width="0.7"/>
<path d="M125.15 483.93L117.23 468.77A57.8 57.8 0 0 1 123.60 465.92L129.64 481.92A40.7 40.7 0 0 0 125.15 483.93Z" fill="#CEB5F5" stroke="#CEB5F5" stroke-width="0.7"/>
<path d="M129.64 481.92L123.60 465.92A57.8 57.8 0 0 1 130.27 463.85L134.33 480.46A40.7 40.7 0 0 0 129.64 481.92Z" fill="#E0CBFB" stroke="#E0CBFB" stroke-width="0.7"/>
<path d="M134.33 480.46L130.27 463.85A57.8 57.8 0 0 1 137.14 462.61L139.17 479.59A40.7 40.7 0 0 0 134.33 480.46Z" fill="#ECDBFC" stroke="#ECDBFC" stroke-width="0.7"/>
<path d="M139.17 479.59L137.14 462.61A57.8 57.8 0 0 1 144.12 462.20L144.08 479.30A40.7 40.7 0 0 0 139.17 479.59Z" fill="#F8EBFA" stroke="#F8EBFA" stroke-width="0.7"/>
<path d="M144.08 479.30L144.12 462.20A57.8 57.8 0 0 1 151.08 462.64L148.99 479.61A40.7 40.7 0 0 0 144.08 479.30Z" fill="#F9F6FF" stroke="#F9F6FF" stroke-width="0.7"/>
<path d="M148.99 479.61L151.08 462.64A57.8 57.8 0 0 1 157.95 463.91L153.82 480.50A40.7 40.7 0 0 0 148.99 479.61Z" fill="#FCEFFB" stroke="#FCEFFB" stroke-width="0.7"/>
<path d="M153.82 480.50L157.95 463.91A57.8 57.8 0 0 1 164.61 466.00L158.51 481.98A40.7 40.7 0 0 0 153.82 480.50Z" fill="#FEF1FC" stroke="#FEF1FC" stroke-width="0.7"/>
<path d="M158.51 481.98L164.61 466.00A57.8 57.8 0 0 1 170.97 468.88L162.99 484.00A40.7 40.7 0 0 0 158.51 481.98Z" fill="#FCF9FF" stroke="#FCF9FF" stroke-width="0.7"/>
<path d="M162.99 484.00L170.97 468.88A57.8 57.8 0 0 1 176.94 472.51L167.20 486.56A40.7 40.7 0 0 0 162.99 484.00Z" fill="#FCEDFB" stroke="#FCEDFB" stroke-width="0.7"/>
<path d="M167.20 486.56L176.94 472.51A57.8 57.8 0 0 1 182.43 476.82L171.06 489.60A40.7 40.7 0 0 0 167.20 486.56Z" fill="#A385F0" stroke="#A385F0" stroke-width="0.7"/>
<path d="M171.06 489.60L182.43 476.82A57.8 57.8 0 0 1 187.35 481.77L174.53 493.08A40.7 40.7 0 0 0 171.06 489.60Z" fill="#9373ED" stroke="#9373ED" stroke-width="0.7"/>
<path d="M174.53 493.08L187.35 481.77A57.8 57.8 0 0 1 191.65 487.28L177.55 496.96A40.7 40.7 0 0 0 174.53 493.08Z" fill="#9272ED" stroke="#9272ED" stroke-width="0.7"/>
<path d="M177.55 496.96L191.65 487.28A57.8 57.8 0 0 1 195.24 493.26L180.08 501.17A40.7 40.7 0 0 0 177.55 496.96Z" fill="#9575F1" stroke="#9575F1" stroke-width="0.7"/>
<path d="M180.08 501.17L195.24 493.26A57.8 57.8 0 0 1 198.10 499.64L182.09 505.66A40.7 40.7 0 0 0 180.08 501.17Z" fill="#A688F0" stroke="#A688F0" stroke-width="0.7"/>
<path d="M182.09 505.66L198.10 499.64A57.8 57.8 0 0 1 200.16 506.31L183.54 510.36A40.7 40.7 0 0 0 182.09 505.66Z" fill="#FBEFF9" stroke="#FBEFF9" stroke-width="0.7"/>
<path d="M201.80 520.00L219.00 520.00A75 75 0 0 1 218.45 529.04L201.38 526.97A57.8 57.8 0 0 0 201.80 520.00Z" fill="#FDA387" stroke="#FDA387" stroke-width="0.7"/>
<path d="M201.38 526.97L218.45 529.04A75 75 0 0 1 216.82 537.96L200.12 533.84A57.8 57.8 0 0 0 201.38 526.97Z" fill="#FDA286" stroke="#FDA286" stroke-width="0.7"/>
<path d="M200.12 533.84L216.82 537.96A75 75 0 0 1 214.12 546.61L198.04 540.50A57.8 57.8 0 0 0 200.12 533.84Z" fill="#FFA387" stroke="#FFA387" stroke-width="0.7"/>
<path d="M198.04 540.50L214.12 546.61A75 75 0 0 1 210.40 554.87L195.17 546.87A57.8 57.8 0 0 0 198.04 540.50Z" fill="#FDA084" stroke="#FDA084" stroke-width="0.7"/>
<path d="M195.17 546.87L210.40 554.87A75 75 0 0 1 205.71 562.62L191.56 552.85A57.8 57.8 0 0 0 195.17 546.87Z" fill="#FDA083" stroke="#FDA083" stroke-width="0.7"/>
<path d="M191.56 552.85L205.71 562.62A75 75 0 0 1 200.12 569.75L187.25 558.34A57.8 57.8 0 0 0 191.56 552.85Z" fill="#FD9F82" stroke="#FD9F82" stroke-width="0.7"/>
<path d="M187.25 558.34L200.12 569.75A75 75 0 0 1 193.71 576.16L182.31 563.28A57.8 57.8 0 0 0 187.25 558.34Z" fill="#FB9C7F" stroke="#FB9C7F" stroke-width="0.7"/>
<path d="M182.31 563.28L193.71 576.16A75 75 0 0 1 186.58 581.74L176.81 567.58A57.8 57.8 0 0 0 182.31 563.28Z" fill="#FD9B7F" stroke="#FD9B7F" stroke-width="0.7"/>
<path d="M176.81 567.58L186.58 581.74A75 75 0 0 1 178.82 586.43L170.84 571.19A57.8 57.8 0 0 0 176.81 567.58Z" fill="#FD9A7D" stroke="#FD9A7D" stroke-width="0.7"/>
<path d="M170.84 571.19L178.82 586.43A75 75 0 0 1 170.56 590.14L164.47 574.05A57.8 57.8 0 0 0 170.84 571.19Z" fill="#FD987C" stroke="#FD987C" stroke-width="0.7"/>
<path d="M164.47 574.05L170.56 590.14A75 75 0 0 1 161.91 592.83L157.80 576.13A57.8 57.8 0 0 0 164.47 574.05Z" fill="#FA9175" stroke="#FA9175" stroke-width="0.7"/>
<path d="M157.80 576.13L161.91 592.83A75 75 0 0 1 152.99 594.46L150.93 577.38A57.8 57.8 0 0 0 157.80 576.13Z" fill="#FA8E72" stroke="#FA8E72" stroke-width="0.7"/>
<path d="M150.93 577.38L152.99 594.46A75 75 0 0 1 143.95 595.00L143.96 577.80A57.8 57.8 0 0 0 150.93 577.38Z" fill="#F8896C" stroke="#F8896C" stroke-width="0.7"/>
<path d="M143.96 577.80L143.95 595.00A75 75 0 0 1 134.91 594.45L136.99 577.37A57.8 57.8 0 0 0 143.96 577.80Z" fill="#FB8B6E" stroke="#FB8B6E" stroke-width="0.7"/>
<path d="M136.99 577.37L134.91 594.45A75 75 0 0 1 126.00 592.81L130.12 576.11A57.8 57.8 0 0 0 136.99 577.37Z" fill="#FA8A6D" stroke="#FA8A6D" stroke-width="0.7"/>
<path d="M130.12 576.11L126.00 592.81A75 75 0 0 1 117.35 590.10L123.46 574.03A57.8 57.8 0 0 0 130.12 576.11Z" fill="#F78669" stroke="#F78669" stroke-width="0.7"/>
<path d="M123.46 574.03L117.35 590.10A75 75 0 0 1 109.09 586.38L117.09 571.16A57.8 57.8 0 0 0 123.46 574.03Z" fill="#FB896C" stroke="#FB896C" stroke-width="0.7"/>
<path d="M117.09 571.16L109.09 586.38A75 75 0 0 1 101.34 581.68L111.12 567.54A57.8 57.8 0 0 0 117.09 571.16Z" fill="#FA8265" stroke="#FA8265" stroke-width="0.7"/>
<path d="M111.12 567.54L101.34 581.68A75 75 0 0 1 94.21 576.09L105.63 563.23A57.8 57.8 0 0 0 111.12 567.54Z" fill="#F87A5E" stroke="#F87A5E" stroke-width="0.7"/>
<path d="M105.63 563.23L94.21 576.09A75 75 0 0 1 87.81 569.68L100.70 558.28A57.8 57.8 0 0 0 105.63 563.23Z" fill="#F7795D" stroke="#F7795D" stroke-width="0.7"/>
<path d="M100.70 558.28L87.81 569.68A75 75 0 0 1 82.23 562.54L96.40 552.78A57.8 57.8 0 0 0 100.70 558.28Z" fill="#F98A6D" stroke="#F98A6D" stroke-width="0.7"/>
<path d="M96.40 552.78L82.23 562.54A75 75 0 0 1 77.55 554.78L92.79 546.80A57.8 57.8 0 0 0 96.40 552.78Z" fill="#F88A6D" stroke="#F88A6D" stroke-width="0.7"/>
<path d="M92.79 546.80L77.55 554.78A75 75 0 0 1 73.84 546.51L89.93 540.43A57.8 57.8 0 0 0 92.79 546.80Z" fill="#FA8C6F" stroke="#FA8C6F" stroke-width="0.7"/>
<path d="M89.93 540.43L73.84 546.51A75 75 0 0 1 71.16 537.86L87.86 533.76A57.8 57.8 0 0 0 89.93 540.43Z" fill="#F98B6E" stroke="#F98B6E" stroke-width="0.7"/>
<path d="M87.86 533.76L71.16 537.86A75 75 0 0 1 69.54 528.95L86.61 526.89A57.8 57.8 0 0 0 87.86 533.76Z" fill="#F98C6F" stroke="#F98C6F" stroke-width="0.7"/>
<path d="M86.61 526.89L69.54 528.95A75 75 0 0 1 69.00 519.90L86.20 519.92A57.8 57.8 0 0 0 86.61 526.89Z" fill="#FA8D70" stroke="#FA8D70" stroke-width="0.7"/>
<path d="M86.20 519.92L69.00 519.90A75 75 0 0 1 69.56 510.86L86.63 512.95A57.8 57.8 0 0 0 86.20 519.92Z" fill="#F98D70" stroke="#F98D70" stroke-width="0.7"/>
<path d="M86.63 512.95L69.56 510.86A75 75 0 0 1 71.21 501.95L87.90 506.09A57.8 57.8 0 0 0 86.63 512.95Z" fill="#FB8F72" stroke="#FB8F72" stroke-width="0.7"/>
<path d="M87.90 506.09L71.21 501.95A75 75 0 0 1 73.91 493.30L89.99 499.42A57.8 57.8 0 0 0 87.90 506.09Z" fill="#F97B5E" stroke="#F97B5E" stroke-width="0.7"/>
<path d="M89.99 499.42L73.91 493.30A75 75 0 0 1 77.64 485.04L92.86 493.06A57.8 57.8 0 0 0 89.99 499.42Z" fill="#FA7B5E" stroke="#FA7B5E" stroke-width="0.7"/>
<path d="M92.86 493.06L77.64 485.04A75 75 0 0 1 82.34 477.30L96.48 487.09A57.8 57.8 0 0 0 92.86 493.06Z" fill="#F8785B" stroke="#F8785B" stroke-width="0.7"/>
<path d="M96.48 487.09L82.34 477.30A75 75 0 0 1 87.94 470.17L100.80 481.60A57.8 57.8 0 0 0 96.48 487.09Z" fill="#F9775A" stroke="#F9775A" stroke-width="0.7"/>
<path d="M100.80 481.60L87.94 470.17A75 75 0 0 1 94.36 463.78L105.74 476.67A57.8 57.8 0 0 0 100.80 481.60Z" fill="#F87559" stroke="#F87559" stroke-width="0.7"/>
<path d="M105.74 476.67L94.36 463.78A75 75 0 0 1 101.50 458.20L111.25 472.37A57.8 57.8 0 0 0 105.74 476.67Z" fill="#F97659" stroke="#F97659" stroke-width="0.7"/>
<path d="M111.25 472.37L101.50 458.20A75 75 0 0 1 109.26 453.53L117.23 468.77A57.8 57.8 0 0 0 111.25 472.37Z" fill="#F87458" stroke="#F87458" stroke-width="0.7"/>
<path d="M117.23 468.77L109.26 453.53A75 75 0 0 1 117.53 449.83L123.60 465.92A57.8 57.8 0 0 0 117.23 468.77Z" fill="#F77357" stroke="#F77357" stroke-width="0.7"/>
<path d="M123.60 465.92L117.53 449.83A75 75 0 0 1 126.19 447.15L130.27 463.85A57.8 57.8 0 0 0 123.60 465.92Z" fill="#FA7B5F" stroke="#FA7B5F" stroke-width="0.7"/>
<path d="M130.27 463.85L126.19 447.15A75 75 0 0 1 135.10 445.53L137.14 462.61A57.8 57.8 0 0 0 130.27 463.85Z" fill="#FB8164" stroke="#FB8164" stroke-width="0.7"/>
<path d="M137.14 462.61L135.10 445.53A75 75 0 0 1 144.15 445.00L144.12 462.20A57.8 57.8 0 0 0 137.14 462.61Z" fill="#FB8A6D" stroke="#FB8A6D" stroke-width="0.7"/>
<path d="M144.12 462.20L144.15 445.00A75 75 0 0 1 153.19 445.57L151.08 462.64A57.8 57.8 0 0 0 144.12 462.20Z" fill="#FD987F" stroke="#FD987F" stroke-width="0.7"/>
<path d="M151.08 462.64L153.19 445.57A75 75 0 0 1 162.10 447.22L157.95 463.91A57.8 57.8 0 0 0 151.08 462.64Z" fill="#FB967D" stroke="#FB967D" stroke-width="0.7"/>
<path d="M157.95 463.91L162.10 447.22A75 75 0 0 1 170.75 449.93L164.61 466.00A57.8 57.8 0 0 0 157.95 463.91Z" fill="#FB967D" stroke="#FB967D" stroke-width="0.7"/>
<path d="M164.61 466.00L170.75 449.93A75 75 0 0 1 179.00 453.67L170.97 468.88A57.8 57.8 0 0 0 164.61 466.00Z" fill="#F9886B" stroke="#F9886B" stroke-width="0.7"/>
<path d="M170.97 468.88L179.00 453.67A75 75 0 0 1 186.74 458.37L176.94 472.51A57.8 57.8 0 0 0 170.97 468.88Z" fill="#F88568" stroke="#F88568" stroke-width="0.7"/>
<path d="M176.94 472.51L186.74 458.37A75 75 0 0 1 193.86 463.98L182.43 476.82A57.8 57.8 0 0 0 176.94 472.51Z" fill="#FA7A61" stroke="#FA7A61" stroke-width="0.7"/>
<path d="M182.43 476.82L193.86 463.98A75 75 0 0 1 200.25 470.40L187.35 481.77A57.8 57.8 0 0 0 182.43 476.82Z" fill="#F9775E" stroke="#F9775E" stroke-width="0.7"/>
<path d="M187.35 481.77L200.25 470.40A75 75 0 0 1 205.83 477.54L191.65 487.28A57.8 57.8 0 0 0 187.35 481.77Z" fill="#F96A51" stroke="#F96A51" stroke-width="0.7"/>
<path d="M191.65 487.28L205.83 477.54A75 75 0 0 1 210.49 485.31L195.24 493.26A57.8 57.8 0 0 0 191.65 487.28Z" fill="#FA120A" stroke="#FA120A" stroke-width="0.7"/>
<path d="M195.24 493.26L210.49 485.31A75 75 0 0 1 214.19 493.58L198.10 499.64A57.8 57.8 0 0 0 195.24 493.26Z" fill="#FE0606" stroke="#FE0606" stroke-width="0.7"/>
<path d="M198.10 499.64L214.19 493.58A75 75 0 0 1 216.87 502.24L200.16 506.31A57.8 57.8 0 0 0 198.10 499.64Z" fill="#F84935" stroke="#F84935" stroke-width="0.7"/>
<text transform="translate(220.66 524.64) rotate(3.5)" font-size="6.8" text-anchor="start" dy="0.35em" fill="#222">Sf3a3</text>
<text transform="translate(219.54 533.85) rotate(10.4)" font-size="6.8" text-anchor="start" dy="0.35em" fill="#222">Cks1b</text>
<text transform="translate(217.32 542.86) rotate(17.3)" font-size="6.8" text-anchor="start" dy="0.35em" fill="#222">Mrto4</text>
<text transform="translate(214.03 551.53) rotate(24.2)" font-size="6.8" text-anchor="start" dy="0.35em" fill="#222">Ak2</text>
<text transform="translate(209.71 559.75) rotate(31.2)" font-size="6.8" text-anchor="start" dy="0.35em" fill="#222">Iars</text>
<text transform="translate(204.44 567.38) rotate(38.1)" font-size="6.8" text-anchor="start" dy="0.35em" fill="#222">Gmps</text>
<text transform="translate(198.29 574.32) rotate(45.0)" font-size="6.8" text-anchor="start" dy="0.35em" fill="#222">Gar1</text>
<text transform="translate(191.34 580.47) rotate(51.9)" font-size="6.8" text-anchor="start" dy="0.35em" fill="#222">Ebna1bp2</text>
<text transform="translate(183.70 585.74) rotate(58.9)" font-size="6.8" text-anchor="start" dy="0.35em" fill="#222">Ctps</text>
<text transform="translate(175.49 590.05) rotate(65.8)" font-size="6.8" text-anchor="start" dy="0.35em" fill="#222">Yrdc</text>
<text transform="translate(166.81 593.33) rotate(72.7)" font-size="6.8" text-anchor="start" dy="0.35em" fill="#222">Cdk1</text>
<text transform="translate(157.80 595.55) rotate(79.6)" font-size="6.8" text-anchor="start" dy="0.35em" fill="#222">Utp11</text>
<text transform="translate(148.59 596.66) rotate(86.6)" font-size="6.8" text-anchor="start" dy="0.35em" fill="#222">Ppa1</text>
<text transform="translate(139.31 596.66) rotate(273.5)" font-size="6.8" text-anchor="end" dy="0.35em" fill="#222">Pabpc4</text>
<text transform="translate(130.10 595.53) rotate(280.4)" font-size="6.8" text-anchor="end" dy="0.35em" fill="#222">Ifrd1</text>
<text transform="translate(121.09 593.30) rotate(287.4)" font-size="6.8" text-anchor="end" dy="0.35em" fill="#222">Acot7</text>
<text transform="translate(112.42 590.01) rotate(294.3)" font-size="6.8" text-anchor="end" dy="0.35em" fill="#222">Timm8a1</text>
<text transform="translate(104.21 585.69) rotate(301.2)" font-size="6.8" text-anchor="end" dy="0.35em" fill="#222">Ppih</text>
<text transform="translate(96.58 580.41) rotate(308.1)" font-size="6.8" text-anchor="end" dy="0.35em" fill="#222">Ppid</text>
<text transform="translate(89.64 574.25) rotate(315.1)" font-size="6.8" text-anchor="end" dy="0.35em" fill="#222">Pmepa1</text>
<text transform="translate(83.49 567.30) rotate(322.0)" font-size="6.8" text-anchor="end" dy="0.35em" fill="#222">Exosc10</text>
<text transform="translate(78.23 559.66) rotate(328.9)" font-size="6.8" text-anchor="end" dy="0.35em" fill="#222">Hspd1</text>
<text transform="translate(73.93 551.44) rotate(335.8)" font-size="6.8" text-anchor="end" dy="0.35em" fill="#222">Ube4b</text>
<text transform="translate(70.65 542.76) rotate(342.8)" font-size="6.8" text-anchor="end" dy="0.35em" fill="#222">Lars</text>
<text transform="translate(68.44 533.75) rotate(349.7)" font-size="6.8" text-anchor="end" dy="0.35em" fill="#222">Ddx21</text>
<text transform="translate(67.33 524.54) rotate(356.6)" font-size="6.8" text-anchor="end" dy="0.35em" fill="#222">Tcof1</text>
<text transform="translate(67.35 515.26) rotate(363.5)" font-size="6.8" text-anchor="end" dy="0.35em" fill="#222">Clspn</text>
<text transform="translate(68.48 506.05) rotate(370.5)" font-size="6.8" text-anchor="end" dy="0.35em" fill="#222">Psph</text>
<text transform="translate(70.71 497.05) rotate(377.4)" font-size="6.8" text-anchor="end" dy="0.35em" fill="#222">Noc2l</text>
<text transform="translate(74.01 488.37) rotate(384.3)" font-size="6.8" text-anchor="end" dy="0.35em" fill="#222">Lyar</text>
<text transform="translate(78.34 480.17) rotate(391.2)" font-size="6.8" text-anchor="end" dy="0.35em" fill="#222">Hmgn5</text>
<text transform="translate(83.62 472.54) rotate(398.2)" font-size="6.8" text-anchor="end" dy="0.35em" fill="#222">Rcc2</text>
<text transform="translate(89.78 465.60) rotate(405.1)" font-size="6.8" text-anchor="end" dy="0.35em" fill="#222">Srm</text>
<text transform="translate(96.74 459.46) rotate(412.0)" font-size="6.8" text-anchor="end" dy="0.35em" fill="#222">Pgd</text>
<text transform="translate(104.38 454.21) rotate(418.9)" font-size="6.8" text-anchor="end" dy="0.35em" fill="#222">Lbh</text>
<text transform="translate(112.61 449.91) rotate(425.9)" font-size="6.8" text-anchor="end" dy="0.35em" fill="#222">Gstp1</text>
<text transform="translate(121.29 446.64) rotate(432.8)" font-size="6.8" text-anchor="end" dy="0.35em" fill="#222">Mtm3</text>
<text transform="translate(130.30 444.43) rotate(439.7)" font-size="6.8" text-anchor="end" dy="0.35em" fill="#222">Aff1</text>
<text transform="translate(139.51 443.33) rotate(446.7)" font-size="6.8" text-anchor="end" dy="0.35em" fill="#222">Plk2</text>
<text transform="translate(148.79 443.35) rotate(273.6)" font-size="6.8" text-anchor="start" dy="0.35em" fill="#222">4930461G14Rik</text>
<text transform="translate(158.00 444.49) rotate(280.5)" font-size="6.8" text-anchor="start" dy="0.35em" fill="#222">Id2</text>
<text transform="translate(167.00 446.73) rotate(287.4)" font-size="6.8" text-anchor="start" dy="0.35em" fill="#222">Magohb</text>
<text transform="translate(175.67 450.03) rotate(294.4)" font-size="6.8" text-anchor="start" dy="0.35em" fill="#222">Tinagl1</text>
<text transform="translate(183.88 454.36) rotate(301.3)" font-size="6.8" text-anchor="start" dy="0.35em" fill="#222">Scd2</text>
<text transform="translate(191.50 459.65) rotate(308.2)" font-size="6.8" text-anchor="start" dy="0.35em" fill="#222">Mthfd2</text>
<text transform="translate(198.43 465.82) rotate(315.1)" font-size="6.8" text-anchor="start" dy="0.35em" fill="#222">Asns</text>
<text transform="translate(204.57 472.78) rotate(322.1)" font-size="6.8" text-anchor="start" dy="0.35em" fill="#222">Nasp</text>
<text transform="translate(209.82 480.43) rotate(329.0)" font-size="6.8" text-anchor="start" dy="0.35em" fill="#222">Cdkn2a</text>
<text transform="translate(214.11 488.65) rotate(335.9)" font-size="6.8" text-anchor="start" dy="0.35em" fill="#222">Edn1</text>
<text transform="translate(217.38 497.34) rotate(342.8)" font-size="6.8" text-anchor="start" dy="0.35em" fill="#222">Ccl2</text>
<text transform="translate(182.40 517.18) rotate(77.8)" font-size="7.0" text-anchor="middle" dy="0.35em" fill="#222">Lav</text>
<text transform="translate(200.15 514.69) rotate(76.6)" font-size="7.0" text-anchor="middle" dy="0.35em" fill="#222">CTC</text>
<text transform="translate(216.00 509.24) rotate(73.5)" font-size="7.0" text-anchor="middle" dy="0.35em" fill="#222">CC</text>
<circle cx="144" cy="520" r="23" fill="#fff"/>
<path d="M165.19 522.98A21.4 21.4 0 1 1 160.86 506.82" fill="none" stroke="#111" stroke-width="1.25"/>
<path d="M159.47 532.98A20.2 20.2 0 1 1 154.10 502.51" fill="none" stroke="#111" stroke-width="0.5"/>
<path d="M160.86 527.86A18.6 18.6 0 1 1 151.86 503.14" fill="none" stroke="#111" stroke-width="0.7"/>
<path d="M142.54 536.74A16.8 16.8 0 0 1 141.66 503.36" fill="none" stroke="#111" stroke-width="0.5"/>
<path d="M151.40 507.18A14.8 14.8 0 0 1 158.30 516.17" fill="none" stroke="#111" stroke-width="0.5"/>
<path d="M158.18 508.92A18 18 0 0 1 161.73 516.87" fill="none" stroke="#111" stroke-width="0.5"/>
<path d="M155.82 510.77L161.34 506.46" stroke="#111" stroke-width="0.5"/>
<path d="M156.99 512.50L163.05 509.00" stroke="#111" stroke-width="0.5"/>
<path d="M157.91 514.38L164.40 511.76" stroke="#111" stroke-width="0.5"/>
<path d="M158.55 516.37L165.35 514.68" stroke="#111" stroke-width="0.5"/>
<path d="M151.50 507.01L155.00 500.95" stroke="#111" stroke-width="0.5"/>
<path d="M154.04 508.85L158.72 503.65" stroke="#111" stroke-width="0.5"/>
<path d="M163.90 524.51L165.85 524.95" stroke="#111" stroke-width="0.6"/>
<path d="M163.00 527.42L164.86 528.15" stroke="#111" stroke-width="0.6"/>
<path d="M161.92 529.75L163.67 530.71" stroke="#111" stroke-width="0.6"/>
<path d="M160.26 532.32L161.86 533.52" stroke="#111" stroke-width="0.6"/>
<path d="M158.15 534.69L159.54 536.13" stroke="#111" stroke-width="0.6"/>
<path d="M154.62 537.42L155.66 539.13" stroke="#111" stroke-width="0.6"/>
<path d="M152.04 538.75L152.82 540.59" stroke="#111" stroke-width="0.6"/>
<path d="M148.64 539.87L149.10 541.81" stroke="#111" stroke-width="0.6"/>
<path d="M146.81 540.21L147.08 542.19" stroke="#111" stroke-width="0.6"/>
<path d="M142.74 540.36L142.62 542.36" stroke="#111" stroke-width="0.6"/>
<path d="M139.78 539.96L139.37 541.92" stroke="#111" stroke-width="0.6"/>
<path d="M136.38 538.92L135.64 540.78" stroke="#111" stroke-width="0.6"/>
<path d="M134.02 537.79L133.05 539.54" stroke="#111" stroke-width="0.6"/>
<path d="M130.62 535.40L129.31 536.91" stroke="#111" stroke-width="0.6"/>
<path d="M129.25 534.09L127.81 535.48" stroke="#111" stroke-width="0.6"/>
<path d="M126.86 531.06L125.17 532.14" stroke="#111" stroke-width="0.6"/>
<path d="M125.23 527.99L123.39 528.77" stroke="#111" stroke-width="0.6"/>
<path d="M124.16 524.73L122.21 525.19" stroke="#111" stroke-width="0.6"/>
<path d="M123.68 521.80L121.69 521.97" stroke="#111" stroke-width="0.6"/>
<path d="M123.65 518.64L121.65 518.51" stroke="#111" stroke-width="0.6"/>
<path d="M124.14 515.35L122.19 514.90" stroke="#111" stroke-width="0.6"/>
<path d="M125.17 512.14L123.33 511.37" stroke="#111" stroke-width="0.6"/>
<path d="M126.23 509.98L124.49 509.00" stroke="#111" stroke-width="0.6"/>
<path d="M128.31 506.96L126.78 505.68" stroke="#111" stroke-width="0.6"/>
<path d="M130.78 504.46L129.48 502.94" stroke="#111" stroke-width="0.6"/>
<path d="M133.34 502.61L132.29 500.90" stroke="#111" stroke-width="0.6"/>
<path d="M135.59 501.41L134.77 499.59" stroke="#111" stroke-width="0.6"/>
<path d="M139.12 500.19L138.64 498.25" stroke="#111" stroke-width="0.6"/>
<path d="M142.38 499.66L142.22 497.67" stroke="#111" stroke-width="0.6"/>
<path d="M145.17 499.63L145.29 497.64" stroke="#111" stroke-width="0.6"/>
<path d="M148.42 500.08L148.85 498.13" stroke="#111" stroke-width="0.6"/>
<path d="M151.15 500.90L151.86 499.02" stroke="#111" stroke-width="0.6"/>
<path d="M154.30 502.39L155.31 500.67" stroke="#111" stroke-width="0.6"/>
<path d="M156.96 504.24L158.23 502.70" stroke="#111" stroke-width="0.6"/>
<path d="M148.0 511.0L154.0 516.0L165.0 514.0" fill="none" stroke="#111" stroke-width="0.5"/>
<defs><linearGradient id="lg1350" x1="0" y1="0" x2="0" y2="1"><stop offset="0" stop-color="#FF0000"/><stop offset="0.1" stop-color="#FF0000"/><stop offset="0.43" stop-color="#FFFFFF"/><stop offset="0.9" stop-color="#0000FF"/><stop offset="1" stop-color="#0000FF"/></linearGradient></defs><rect x="135" y="499.8" width="8.4" height="48.9" fill="url(#lg1350)"/><text x="144.7" y="504.6" font-size="6.4" font-weight="normal" fill="#111" text-anchor="start" >4</text><path d="M135 502.3h1M143.4 502.3h-1" stroke="#fff" stroke-width="0.4"/><text x="144.7" y="513.9" font-size="6.4" font-weight="normal" fill="#111" text-anchor="start" >2</text><path d="M135 511.6h1M143.4 511.6h-1" stroke="#fff" stroke-width="0.4"/><text x="144.7" y="523.3" font-size="6.4" font-weight="normal" fill="#111" text-anchor="start" >0</text><path d="M135 521h1M143.4 521h-1" stroke="#fff" stroke-width="0.4"/><text x="144.7" y="532.5" font-size="6.4" font-weight="normal" fill="#111" text-anchor="start" >−2</text><path d="M135 530.2h1M143.4 530.2h-1" stroke="#fff" stroke-width="0.4"/><text x="144.7" y="550.6" font-size="6.4" font-weight="normal" fill="#111" text-anchor="start" >−6</text><path d="M135 548.3h1M143.4 548.3h-1" stroke="#fff" stroke-width="0.4"/><text x="135.3" y="497.3" font-size="6.6000000000000005" font-weight="bold" fill="#000" text-anchor="start" >mat1</text>
<path d="M399.00 519.20L414.00 519.20A49.5 49.5 0 0 1 413.64 525.14L398.75 523.34A34.5 34.5 0 0 0 399.00 519.20Z" fill="#F6E5FB" stroke="#F6E5FB" stroke-width="0.7"/>
<path d="M398.75 523.34L413.64 525.14A49.5 49.5 0 0 1 412.58 530.99L398.01 527.42A34.5 34.5 0 0 0 398.75 523.34Z" fill="#F9E9FC" stroke="#F9E9FC" stroke-width="0.7"/>
<path d="M398.01 527.42L412.58 530.99A49.5 49.5 0 0 1 410.81 536.67L396.78 531.38A34.5 34.5 0 0 0 398.01 527.42Z" fill="#FCEDFE" stroke="#FCEDFE" stroke-width="0.7"/>
<path d="M396.78 531.38L410.81 536.67A49.5 49.5 0 0 1 408.38 542.10L395.09 535.16A34.5 34.5 0 0 0 396.78 531.38Z" fill="#FAF6FC" stroke="#FAF6FC" stroke-width="0.7"/>
<path d="M395.09 535.16L408.38 542.10A49.5 49.5 0 0 1 405.32 547.20L392.95 538.72A34.5 34.5 0 0 0 395.09 535.16Z" fill="#FDFBF8" stroke="#FDFBF8" stroke-width="0.7"/>
<path d="M392.95 538.72L405.32 547.20A49.5 49.5 0 0 1 401.66 551.90L390.40 541.99A34.5 34.5 0 0 0 392.95 538.72Z" fill="#FDFBF7" stroke="#FDFBF7" stroke-width="0.7"/>
<path d="M390.40 541.99L401.66 551.90A49.5 49.5 0 0 1 397.47 556.12L387.48 544.93A34.5 34.5 0 0 0 390.40 541.99Z" fill="#FFFCF8" stroke="#FFFCF8" stroke-width="0.7"/>
<path d="M387.48 544.93L397.47 556.12A49.5 49.5 0 0 1 392.81 559.81L384.23 547.50A34.5 34.5 0 0 0 387.48 544.93Z" fill="#FFFBF6" stroke="#FFFBF6" stroke-width="0.7"/>
<path d="M384.23 547.50L392.81 559.81A49.5 49.5 0 0 1 387.73 562.91L380.69 549.66A34.5 34.5 0 0 0 384.23 547.50Z" fill="#FFFBF6" stroke="#FFFBF6" stroke-width="0.7"/>
<path d="M380.69 549.66L387.73 562.91A49.5 49.5 0 0 1 382.32 565.38L376.92 551.39A34.5 34.5 0 0 0 380.69 549.66Z" fill="#FEF9F3" stroke="#FEF9F3" stroke-width="0.7"/>
<path d="M376.92 551.39L382.32 565.38A49.5 49.5 0 0 1 376.65 567.19L372.97 552.64A34.5 34.5 0 0 0 376.92 551.39Z" fill="#FFFAF3" stroke="#FFFAF3" stroke-width="0.7"/>
<path d="M372.97 552.64L376.65 567.19A49.5 49.5 0 0 1 370.81 568.30L368.90 553.42A34.5 34.5 0 0 0 372.97 552.64Z" fill="#FDF8F1" stroke="#FDF8F1" stroke-width="0.7"/>
<path d="M368.90 553.42L370.81 568.30A49.5 49.5 0 0 1 364.87 568.70L364.76 553.70A34.5 34.5 0 0 0 368.90 553.42Z" fill="#FFFAF4" stroke="#FFFAF4" stroke-width="0.7"/>
<path d="M364.76 553.70L364.87 568.70A49.5 49.5 0 0 1 358.93 568.39L360.62 553.48A34.5 34.5 0 0 0 364.76 553.70Z" fill="#FFFBF4" stroke="#FFFBF4" stroke-width="0.7"/>
<path d="M360.62 553.48L358.93 568.39A49.5 49.5 0 0 1 353.07 567.36L356.53 552.77A34.5 34.5 0 0 0 360.62 553.48Z" fill="#FFFAF4" stroke="#FFFAF4" stroke-width="0.7"/>
<path d="M356.53 552.77L353.07 567.36A49.5 49.5 0 0 1 347.38 565.64L352.56 551.57A34.5 34.5 0 0 0 356.53 552.77Z" fill="#FFFBF5" stroke="#FFFBF5" stroke-width="0.7"/>
<path d="M352.56 551.57L347.38 565.64A49.5 49.5 0 0 1 341.93 563.25L348.77 549.90A34.5 34.5 0 0 0 352.56 551.57Z" fill="#FDF9F3" stroke="#FDF9F3" stroke-width="0.7"/>
<path d="M348.77 549.90L341.93 563.25A49.5 49.5 0 0 1 336.81 560.23L345.20 547.80A34.5 34.5 0 0 0 348.77 549.90Z" fill="#FFFCF6" stroke="#FFFCF6" stroke-width="0.7"/>
<path d="M345.20 547.80L336.81 560.23A49.5 49.5 0 0 1 332.08 556.61L341.91 545.27A34.5 34.5 0 0 0 345.20 547.80Z" fill="#FFFCF7" stroke="#FFFCF7" stroke-width="0.7"/>
<path d="M341.91 545.27L332.08 556.61A49.5 49.5 0 0 1 327.83 552.45L338.94 542.37A34.5 34.5 0 0 0 341.91 545.27Z" fill="#FFFDF7" stroke="#FFFDF7" stroke-width="0.7"/>
<path d="M338.94 542.37L327.83 552.45A49.5 49.5 0 0 1 324.11 547.81L336.35 539.14A34.5 34.5 0 0 0 338.94 542.37Z" fill="#FFFBF6" stroke="#FFFBF6" stroke-width="0.7"/>
<path d="M336.35 539.14L324.11 547.81A49.5 49.5 0 0 1 320.97 542.76L334.16 535.62A34.5 34.5 0 0 0 336.35 539.14Z" fill="#FFFCF8" stroke="#FFFCF8" stroke-width="0.7"/>
<path d="M334.16 535.62L320.97 542.76A49.5 49.5 0 0 1 318.45 537.37L332.41 531.86A34.5 34.5 0 0 0 334.16 535.62Z" fill="#FEFBF6" stroke="#FEFBF6" stroke-width="0.7"/>
<path d="M332.41 531.86L318.45 537.37A49.5 49.5 0 0 1 316.61 531.71L331.12 527.92A34.5 34.5 0 0 0 332.41 531.86Z" fill="#FFFDF9" stroke="#FFFDF9" stroke-width="0.7"/>
<path d="M331.12 527.92L316.61 531.71A49.5 49.5 0 0 1 315.45 525.88L330.32 523.85A34.5 34.5 0 0 0 331.12 527.92Z" fill="#FFFDF9" stroke="#FFFDF9" stroke-width="0.7"/>
<path d="M330.32 523.85L315.45 525.88A49.5 49.5 0 0 1 315.01 519.94L330.00 519.72A34.5 34.5 0 0 0 330.32 523.85Z" fill="#FEFCF8" stroke="#FEFCF8" stroke-width="0.7"/>
<path d="M330.00 519.72L315.01 519.94A49.5 49.5 0 0 1 315.27 514.00L330.19 515.58A34.5 34.5 0 0 0 330.00 519.72Z" fill="#FDFBF7" stroke="#FDFBF7" stroke-width="0.7"/>
<path d="M330.19 515.58L315.27 514.00A49.5 49.5 0 0 1 316.25 508.13L330.87 511.49A34.5 34.5 0 0 0 330.19 515.58Z" fill="#FFFCF9" stroke="#FFFCF9" stroke-width="0.7"/>
<path d="M330.87 511.49L316.25 508.13A49.5 49.5 0 0 1 317.93 502.42L332.04 507.51A34.5 34.5 0 0 0 330.87 511.49Z" fill="#FFFDF9" stroke="#FFFDF9" stroke-width="0.7"/>
<path d="M332.04 507.51L317.93 502.42A49.5 49.5 0 0 1 320.28 496.96L333.68 503.70A34.5 34.5 0 0 0 332.04 507.51Z" fill="#FFFEFA" stroke="#FFFEFA" stroke-width="0.7"/>
<path d="M333.68 503.70L320.28 496.96A49.5 49.5 0 0 1 323.27 491.81L335.76 500.11A34.5 34.5 0 0 0 333.68 503.70Z" fill="#FFFDF9" stroke="#FFFDF9" stroke-width="0.7"/>
<path d="M335.76 500.11L323.27 491.81A49.5 49.5 0 0 1 326.85 487.07L338.26 496.80A34.5 34.5 0 0 0 335.76 500.11Z" fill="#FDFBF8" stroke="#FDFBF8" stroke-width="0.7"/>
<path d="M338.26 496.80L326.85 487.07A49.5 49.5 0 0 1 330.98 482.78L341.13 493.82A34.5 34.5 0 0 0 338.26 496.80Z" fill="#FFFEFB" stroke="#FFFEFB" stroke-width="0.7"/>
<path d="M341.13 493.82L330.98 482.78A49.5 49.5 0 0 1 335.59 479.02L344.35 491.20A34.5 34.5 0 0 0 341.13 493.82Z" fill="#FDFBF8" stroke="#FDFBF8" stroke-width="0.7"/>
<path d="M344.35 491.20L335.59 479.02A49.5 49.5 0 0 1 340.62 475.84L347.85 488.98A34.5 34.5 0 0 0 344.35 491.20Z" fill="#FFFEFA" stroke="#FFFEFA" stroke-width="0.7"/>
<path d="M347.85 488.98L340.62 475.84A49.5 49.5 0 0 1 345.99 473.29L351.60 487.20A34.5 34.5 0 0 0 347.85 488.98Z" fill="#FEFBF7" stroke="#FEFBF7" stroke-width="0.7"/>
<path d="M351.60 487.20L345.99 473.29A49.5 49.5 0 0 1 351.63 471.40L355.53 485.89A34.5 34.5 0 0 0 351.60 487.20Z" fill="#FEFCF7" stroke="#FEFCF7" stroke-width="0.7"/>
<path d="M355.53 485.89L351.63 471.40A49.5 49.5 0 0 1 357.46 470.20L359.59 485.05A34.5 34.5 0 0 0 355.53 485.89Z" fill="#FFFDF8" stroke="#FFFDF8" stroke-width="0.7"/>
<path d="M359.59 485.05L357.46 470.20A49.5 49.5 0 0 1 363.39 469.71L363.72 484.71A34.5 34.5 0 0 0 359.59 485.05Z" fill="#FEFBF5" stroke="#FEFBF5" stroke-width="0.7"/>
<path d="M363.72 484.71L363.39 469.71A49.5 49.5 0 0 1 369.33 469.94L367.87 484.86A34.5 34.5 0 0 0 363.72 484.71Z" fill="#FDFBF6" stroke="#FDFBF6" stroke-width="0.7"/>
<path d="M367.87 484.86L369.33 469.94A49.5 49.5 0 0 1 375.21 470.87L371.96 485.52A34.5 34.5 0 0 0 367.87 484.86Z" fill="#FFFCF8" stroke="#FFFCF8" stroke-width="0.7"/>
<path d="M371.96 485.52L375.21 470.87A49.5 49.5 0 0 1 380.93 472.50L375.95 486.65A34.5 34.5 0 0 0 371.96 485.52Z" fill="#FFFDFA" stroke="#FFFDFA" stroke-width="0.7"/>
<path d="M375.95 486.65L380.93 472.50A49.5 49.5 0 0 1 386.41 474.81L379.77 488.26A34.5 34.5 0 0 0 375.95 486.65Z" fill="#FFFDFB" stroke="#FFFDFB" stroke-width="0.7"/>
<path d="M379.77 488.26L386.41 474.81A49.5 49.5 0 0 1 391.58 477.76L383.37 490.32A34.5 34.5 0 0 0 379.77 488.26Z" fill="#F0DBFC" stroke="#F0DBFC" stroke-width="0.7"/>
<path d="M383.37 490.32L391.58 477.76A49.5 49.5 0 0 1 396.35 481.31L386.70 492.79A34.5 34.5 0 0 0 383.37 490.32Z" fill="#8E70F3" stroke="#8E70F3" stroke-width="0.7"/>
<path d="M386.70 492.79L396.35 481.31A49.5 49.5 0 0 1 400.67 485.40L389.71 495.64A34.5 34.5 0 0 0 386.70 492.79Z" fill="#8264F0" stroke="#8264F0" stroke-width="0.7"/>
<path d="M389.71 495.64L400.67 485.40A49.5 49.5 0 0 1 404.46 489.99L392.35 498.84A34.5 34.5 0 0 0 389.71 495.64Z" fill="#886AF2" stroke="#886AF2" stroke-width="0.7"/>
<path d="M392.35 498.84L404.46 489.99A49.5 49.5 0 0 1 407.68 494.99L394.59 502.33A34.5 34.5 0 0 0 392.35 498.84Z" fill="#9678F0" stroke="#9678F0" stroke-width="0.7"/>
<path d="M394.59 502.33L407.68 494.99A49.5 49.5 0 0 1 410.27 500.35L396.40 506.06A34.5 34.5 0 0 0 394.59 502.33Z" fill="#B39AF4" stroke="#B39AF4" stroke-width="0.7"/>
<path d="M396.40 506.06L410.27 500.35A49.5 49.5 0 0 1 412.20 505.97L397.75 509.98A34.5 34.5 0 0 0 396.40 506.06Z" fill="#D5B8F8" stroke="#D5B8F8" stroke-width="0.7"/>
<path d="M414.00 519.20L427.90 519.20A63.4 63.4 0 0 1 427.44 526.81L413.64 525.14A49.5 49.5 0 0 0 414.00 519.20Z" fill="#F8A689" stroke="#F8A689" stroke-width="0.7"/>
<path d="M413.64 525.14L427.44 526.81A63.4 63.4 0 0 1 426.08 534.30L412.58 530.99A49.5 49.5 0 0 0 413.64 525.14Z" fill="#F9A98C" stroke="#F9A98C" stroke-width="0.7"/>
<path d="M412.58 530.99L426.08 534.30A63.4 63.4 0 0 1 423.82 541.58L410.81 536.67A49.5 49.5 0 0 0 412.58 530.99Z" fill="#FBAD90" stroke="#FBAD90" stroke-width="0.7"/>
<path d="M410.81 536.67L423.82 541.58A63.4 63.4 0 0 1 420.71 548.53L408.38 542.10A49.5 49.5 0 0 0 410.81 536.67Z" fill="#FAAE91" stroke="#FAAE91" stroke-width="0.7"/>
<path d="M408.38 542.10L420.71 548.53A63.4 63.4 0 0 1 416.78 555.06L405.32 547.20A49.5 49.5 0 0 0 408.38 542.10Z" fill="#F9AF92" stroke="#F9AF92" stroke-width="0.7"/>
<path d="M405.32 547.20L416.78 555.06A63.4 63.4 0 0 1 412.10 561.08L401.66 551.90A49.5 49.5 0 0 0 405.32 547.20Z" fill="#FCBCA1" stroke="#FCBCA1" stroke-width="0.7"/>
<path d="M401.66 551.90L412.10 561.08A63.4 63.4 0 0 1 406.73 566.49L397.47 556.12A49.5 49.5 0 0 0 401.66 551.90Z" fill="#FDC7AE" stroke="#FDC7AE" stroke-width="0.7"/>
<path d="M397.47 556.12L406.73 566.49A63.4 63.4 0 0 1 400.76 571.21L392.81 559.81A49.5 49.5 0 0 0 397.47 556.12Z" fill="#FAC8AF" stroke="#FAC8AF" stroke-width="0.7"/>
<path d="M392.81 559.81L400.76 571.21A63.4 63.4 0 0 1 394.25 575.18L387.73 562.91A49.5 49.5 0 0 0 392.81 559.81Z" fill="#F8C9B2" stroke="#F8C9B2" stroke-width="0.7"/>
<path d="M387.73 562.91L394.25 575.18A63.4 63.4 0 0 1 387.32 578.35L382.32 565.38A49.5 49.5 0 0 0 387.73 562.91Z" fill="#F8CDBF" stroke="#F8CDBF" stroke-width="0.7"/>
<path d="M382.32 565.38L387.32 578.35A63.4 63.4 0 0 1 380.06 580.66L376.65 567.19A49.5 49.5 0 0 0 382.32 565.38Z" fill="#FDD4C6" stroke="#FDD4C6" stroke-width="0.7"/>
<path d="M376.65 567.19L380.06 580.66A63.4 63.4 0 0 1 372.58 582.08L370.81 568.30A49.5 49.5 0 0 0 376.65 567.19Z" fill="#F8D0C2" stroke="#F8D0C2" stroke-width="0.7"/>
<path d="M370.81 568.30L372.58 582.08A63.4 63.4 0 0 1 364.98 582.60L364.87 568.70A49.5 49.5 0 0 0 370.81 568.30Z" fill="#FCD6C8" stroke="#FCD6C8" stroke-width="0.7"/>
<path d="M364.87 568.70L364.98 582.60A63.4 63.4 0 0 1 357.37 582.20L358.93 568.39A49.5 49.5 0 0 0 364.87 568.70Z" fill="#FBD7C9" stroke="#FBD7C9" stroke-width="0.7"/>
<path d="M358.93 568.39L357.37 582.20A63.4 63.4 0 0 1 349.86 580.89L353.07 567.36A49.5 49.5 0 0 0 358.93 568.39Z" fill="#FAD7C9" stroke="#FAD7C9" stroke-width="0.7"/>
<path d="M353.07 567.36L349.86 580.89A63.4 63.4 0 0 1 342.57 578.69L347.38 565.64A49.5 49.5 0 0 0 353.07 567.36Z" fill="#FDDACD" stroke="#FDDACD" stroke-width="0.7"/>
<path d="M347.38 565.64L342.57 578.69A63.4 63.4 0 0 1 335.59 575.62L341.93 563.25A49.5 49.5 0 0 0 347.38 565.64Z" fill="#F8D7C9" stroke="#F8D7C9" stroke-width="0.7"/>
<path d="M341.93 563.25L335.59 575.62A63.4 63.4 0 0 1 329.03 571.75L336.81 560.23A49.5 49.5 0 0 0 341.93 563.25Z" fill="#F9D8CB" stroke="#F9D8CB" stroke-width="0.7"/>
<path d="M336.81 560.23L329.03 571.75A63.4 63.4 0 0 1 322.98 567.11L332.08 556.61A49.5 49.5 0 0 0 336.81 560.23Z" fill="#FBDBCE" stroke="#FBDBCE" stroke-width="0.7"/>
<path d="M332.08 556.61L322.98 567.11A63.4 63.4 0 0 1 317.53 561.79L327.83 552.45A49.5 49.5 0 0 0 332.08 556.61Z" fill="#F9D9CC" stroke="#F9D9CC" stroke-width="0.7"/>
<path d="M327.83 552.45L317.53 561.79A63.4 63.4 0 0 1 312.76 555.85L324.11 547.81A49.5 49.5 0 0 0 327.83 552.45Z" fill="#FEDED2" stroke="#FEDED2" stroke-width="0.7"/>
<path d="M324.11 547.81L312.76 555.85A63.4 63.4 0 0 1 308.74 549.37L320.97 542.76A49.5 49.5 0 0 0 324.11 547.81Z" fill="#FADCCF" stroke="#FADCCF" stroke-width="0.7"/>
<path d="M320.97 542.76L308.74 549.37A63.4 63.4 0 0 1 305.52 542.47L318.45 537.37A49.5 49.5 0 0 0 320.97 542.76Z" fill="#FADCD0" stroke="#FADCD0" stroke-width="0.7"/>
<path d="M318.45 537.37L305.52 542.47A63.4 63.4 0 0 1 303.16 535.22L316.61 531.71A49.5 49.5 0 0 0 318.45 537.37Z" fill="#F9DBCF" stroke="#F9DBCF" stroke-width="0.7"/>
<path d="M316.61 531.71L303.16 535.22A63.4 63.4 0 0 1 301.68 527.75L315.45 525.88A49.5 49.5 0 0 0 316.61 531.71Z" fill="#FDDED2" stroke="#FDDED2" stroke-width="0.7"/>
<path d="M315.45 525.88L301.68 527.75A63.4 63.4 0 0 1 301.11 520.15L315.01 519.94A49.5 49.5 0 0 0 315.45 525.88Z" fill="#FCDDD1" stroke="#FCDDD1" stroke-width="0.7"/>
<path d="M315.01 519.94L301.11 520.15A63.4 63.4 0 0 1 301.45 512.54L315.27 514.00A49.5 49.5 0 0 0 315.01 519.94Z" fill="#FDDDD1" stroke="#FDDDD1" stroke-width="0.7"/>
<path d="M315.27 514.00L301.45 512.54A63.4 63.4 0 0 1 302.71 505.02L316.25 508.13A49.5 49.5 0 0 0 315.27 514.00Z" fill="#FDDDD1" stroke="#FDDDD1" stroke-width="0.7"/>
<path d="M316.25 508.13L302.71 505.02A63.4 63.4 0 0 1 304.85 497.71L317.93 502.42A49.5 49.5 0 0 0 316.25 508.13Z" fill="#FEDED2" stroke="#FEDED2" stroke-width="0.7"/>
<path d="M317.93 502.42L304.85 497.71A63.4 63.4 0 0 1 307.86 490.71L320.28 496.96A49.5 49.5 0 0 0 317.93 502.42Z" fill="#FFDDD0" stroke="#FFDDD0" stroke-width="0.7"/>
<path d="M320.28 496.96L307.86 490.71A63.4 63.4 0 0 1 311.69 484.12L323.27 491.81A49.5 49.5 0 0 0 320.28 496.96Z" fill="#FDD9CC" stroke="#FDD9CC" stroke-width="0.7"/>
<path d="M323.27 491.81L311.69 484.12A63.4 63.4 0 0 1 316.28 478.04L326.85 487.07A49.5 49.5 0 0 0 323.27 491.81Z" fill="#FAD4C7" stroke="#FAD4C7" stroke-width="0.7"/>
<path d="M326.85 487.07L316.28 478.04A63.4 63.4 0 0 1 321.56 472.55L330.98 482.78A49.5 49.5 0 0 0 326.85 487.07Z" fill="#FBD4C6" stroke="#FBD4C6" stroke-width="0.7"/>
<path d="M330.98 482.78L321.56 472.55A63.4 63.4 0 0 1 327.47 467.74L335.59 479.02A49.5 49.5 0 0 0 330.98 482.78Z" fill="#F9D0C2" stroke="#F9D0C2" stroke-width="0.7"/>
<path d="M335.59 479.02L327.47 467.74A63.4 63.4 0 0 1 333.91 463.67L340.62 475.84A49.5 49.5 0 0 0 335.59 479.02Z" fill="#F8D0C2" stroke="#F8D0C2" stroke-width="0.7"/>
<path d="M340.62 475.84L333.91 463.67A63.4 63.4 0 0 1 340.79 460.40L345.99 473.29A49.5 49.5 0 0 0 340.62 475.84Z" fill="#FBD3C5" stroke="#FBD3C5" stroke-width="0.7"/>
<path d="M345.99 473.29L340.79 460.40A63.4 63.4 0 0 1 348.02 457.98L351.63 471.40A49.5 49.5 0 0 0 345.99 473.29Z" fill="#FCD6C8" stroke="#FCD6C8" stroke-width="0.7"/>
<path d="M351.63 471.40L348.02 457.98A63.4 63.4 0 0 1 355.48 456.45L357.46 470.20A49.5 49.5 0 0 0 351.63 471.40Z" fill="#F9D3C5" stroke="#F9D3C5" stroke-width="0.7"/>
<path d="M357.46 470.20L355.48 456.45A63.4 63.4 0 0 1 363.07 455.82L363.39 469.71A49.5 49.5 0 0 0 357.46 470.20Z" fill="#FAD5C7" stroke="#FAD5C7" stroke-width="0.7"/>
<path d="M363.39 469.71L363.07 455.82A63.4 63.4 0 0 1 370.69 456.10L369.33 469.94A49.5 49.5 0 0 0 363.39 469.71Z" fill="#FAD4C6" stroke="#FAD4C6" stroke-width="0.7"/>
<path d="M369.33 469.94L370.69 456.10A63.4 63.4 0 0 1 378.21 457.30L375.21 470.87A49.5 49.5 0 0 0 369.33 469.94Z" fill="#FCD4C6" stroke="#FCD4C6" stroke-width="0.7"/>
<path d="M375.21 470.87L378.21 457.30A63.4 63.4 0 0 1 385.54 459.39L380.93 472.50A49.5 49.5 0 0 0 375.21 470.87Z" fill="#FBD2C4" stroke="#FBD2C4" stroke-width="0.7"/>
<path d="M380.93 472.50L385.54 459.39A63.4 63.4 0 0 1 392.56 462.35L386.41 474.81A49.5 49.5 0 0 0 380.93 472.50Z" fill="#FCD1C3" stroke="#FCD1C3" stroke-width="0.7"/>
<path d="M386.41 474.81L392.56 462.35A63.4 63.4 0 0 1 399.18 466.12L391.58 477.76A49.5 49.5 0 0 0 386.41 474.81Z" fill="#FCB89B" stroke="#FCB89B" stroke-width="0.7"/>
<path d="M391.58 477.76L399.18 466.12A63.4 63.4 0 0 1 405.30 470.67L396.35 481.31A49.5 49.5 0 0 0 391.58 477.76Z" fill="#F41D13" stroke="#F41D13" stroke-width="0.7"/>
<path d="M396.35 481.31L405.30 470.67A63.4 63.4 0 0 1 410.82 475.91L400.67 485.40A49.5 49.5 0 0 0 396.35 481.31Z" fill="#F7160C" stroke="#F7160C" stroke-width="0.7"/>
<path d="M400.67 485.40L410.82 475.91A63.4 63.4 0 0 1 415.68 481.78L404.46 489.99A49.5 49.5 0 0 0 400.67 485.40Z" fill="#FA3E2A" stroke="#FA3E2A" stroke-width="0.7"/>
<path d="M404.46 489.99L415.68 481.78A63.4 63.4 0 0 1 419.80 488.19L407.68 494.99A49.5 49.5 0 0 0 404.46 489.99Z" fill="#F64E36" stroke="#F64E36" stroke-width="0.7"/>
<path d="M407.68 494.99L419.80 488.19A63.4 63.4 0 0 1 423.12 495.05L410.27 500.35A49.5 49.5 0 0 0 407.68 494.99Z" fill="#FB5941" stroke="#FB5941" stroke-width="0.7"/>
<path d="M410.27 500.35L423.12 495.05A63.4 63.4 0 0 1 425.59 502.26L412.20 505.97A49.5 49.5 0 0 0 410.27 500.35Z" fill="#FB8562" stroke="#FB8562" stroke-width="0.7"/>
<path d="M427.90 519.20L441.90 519.20A77.4 77.4 0 0 1 441.34 528.49L427.44 526.81A63.4 63.4 0 0 0 427.90 519.20Z" fill="#3B1FED" stroke="#3B1FED" stroke-width="0.7"/>
<path d="M427.44 526.81L441.34 528.49A77.4 77.4 0 0 1 439.67 537.64L426.08 534.30A63.4 63.4 0 0 0 427.44 526.81Z" fill="#4125F1" stroke="#4125F1" stroke-width="0.7"/>
<path d="M426.08 534.30L439.67 537.64A77.4 77.4 0 0 1 436.92 546.52L423.82 541.58A63.4 63.4 0 0 0 426.08 534.30Z" fill="#3B1FF3" stroke="#3B1FF3" stroke-width="0.7"/>
<path d="M423.82 541.58L436.92 546.52A77.4 77.4 0 0 1 433.12 555.01L420.71 548.53A63.4 63.4 0 0 0 423.82 541.58Z" fill="#0C02FA" stroke="#0C02FA" stroke-width="0.7"/>
<path d="M420.71 548.53L433.12 555.01A77.4 77.4 0 0 1 428.33 562.98L416.78 555.06A63.4 63.4 0 0 0 420.71 548.53Z" fill="#5339F1" stroke="#5339F1" stroke-width="0.7"/>
<path d="M416.78 555.06L428.33 562.98A77.4 77.4 0 0 1 422.61 570.32L412.10 561.08A63.4 63.4 0 0 0 416.78 555.06Z" fill="#755BEF" stroke="#755BEF" stroke-width="0.7"/>
<path d="M412.10 561.08L422.61 570.32A77.4 77.4 0 0 1 416.06 576.93L406.73 566.49A63.4 63.4 0 0 0 412.10 561.08Z" fill="#957BF3" stroke="#957BF3" stroke-width="0.7"/>
<path d="M406.73 566.49L416.06 576.93A77.4 77.4 0 0 1 408.76 582.70L400.76 571.21A63.4 63.4 0 0 0 406.73 566.49Z" fill="#A58CF3" stroke="#A58CF3" stroke-width="0.7"/>
<path d="M400.76 571.21L408.76 582.70A77.4 77.4 0 0 1 400.83 587.55L394.25 575.18A63.4 63.4 0 0 0 400.76 571.21Z" fill="#B69EF5" stroke="#B69EF5" stroke-width="0.7"/>
<path d="M394.25 575.18L400.83 587.55A77.4 77.4 0 0 1 392.36 591.41L387.32 578.35A63.4 63.4 0 0 0 394.25 575.18Z" fill="#D7BEFA" stroke="#D7BEFA" stroke-width="0.7"/>
<path d="M387.32 578.35L392.36 591.41A77.4 77.4 0 0 1 383.50 594.23L380.06 580.66A63.4 63.4 0 0 0 387.32 578.35Z" fill="#CFB6F5" stroke="#CFB6F5" stroke-width="0.7"/>
<path d="M380.06 580.66L383.50 594.23A77.4 77.4 0 0 1 374.36 595.97L372.58 582.08A63.4 63.4 0 0 0 380.06 580.66Z" fill="#D5BDF9" stroke="#D5BDF9" stroke-width="0.7"/>
<path d="M372.58 582.08L374.36 595.97A77.4 77.4 0 0 1 365.08 596.60L364.98 582.60A63.4 63.4 0 0 0 372.58 582.08Z" fill="#D3BBF5" stroke="#D3BBF5" stroke-width="0.7"/>
<path d="M364.98 582.60L365.08 596.60A77.4 77.4 0 0 1 355.79 596.11L357.37 582.20A63.4 63.4 0 0 0 364.98 582.60Z" fill="#D9C2F9" stroke="#D9C2F9" stroke-width="0.7"/>
<path d="M357.37 582.20L355.79 596.11A77.4 77.4 0 0 1 346.63 594.51L349.86 580.89A63.4 63.4 0 0 0 357.37 582.20Z" fill="#DBC4F9" stroke="#DBC4F9" stroke-width="0.7"/>
<path d="M349.86 580.89L346.63 594.51A77.4 77.4 0 0 1 337.72 591.82L342.57 578.69A63.4 63.4 0 0 0 349.86 580.89Z" fill="#DCC5F8" stroke="#DCC5F8" stroke-width="0.7"/>
<path d="M342.57 578.69L337.72 591.82A77.4 77.4 0 0 1 329.20 588.08L335.59 575.62A63.4 63.4 0 0 0 342.57 578.69Z" fill="#E1CBFB" stroke="#E1CBFB" stroke-width="0.7"/>
<path d="M335.59 575.62L329.20 588.08A77.4 77.4 0 0 1 321.20 583.35L329.03 571.75A63.4 63.4 0 0 0 335.59 575.62Z" fill="#E2CDFA" stroke="#E2CDFA" stroke-width="0.7"/>
<path d="M329.03 571.75L321.20 583.35A77.4 77.4 0 0 1 313.81 577.69L322.98 567.11A63.4 63.4 0 0 0 329.03 571.75Z" fill="#E5D1FB" stroke="#E5D1FB" stroke-width="0.7"/>
<path d="M322.98 567.11L313.81 577.69A77.4 77.4 0 0 1 307.16 571.19L317.53 561.79A63.4 63.4 0 0 0 322.98 567.11Z" fill="#E9D6FD" stroke="#E9D6FD" stroke-width="0.7"/>
<path d="M317.53 561.79L307.16 571.19A77.4 77.4 0 0 1 301.34 563.94L312.76 555.85A63.4 63.4 0 0 0 317.53 561.79Z" fill="#E8D5FA" stroke="#E8D5FA" stroke-width="0.7"/>
<path d="M312.76 555.85L301.34 563.94A77.4 77.4 0 0 1 296.43 556.04L308.74 549.37A63.4 63.4 0 0 0 312.76 555.85Z" fill="#E8D5F8" stroke="#E8D5F8" stroke-width="0.7"/>
<path d="M308.74 549.37L296.43 556.04A77.4 77.4 0 0 1 292.50 547.60L305.52 542.47A63.4 63.4 0 0 0 308.74 549.37Z" fill="#EBD9FA" stroke="#EBD9FA" stroke-width="0.7"/>
<path d="M305.52 542.47L292.50 547.60A77.4 77.4 0 0 1 289.61 538.76L303.16 535.22A63.4 63.4 0 0 0 305.52 542.47Z" fill="#EFDEFD" stroke="#EFDEFD" stroke-width="0.7"/>
<path d="M303.16 535.22L289.61 538.76A77.4 77.4 0 0 1 287.81 529.64L301.68 527.75A63.4 63.4 0 0 0 303.16 535.22Z" fill="#EEDDFA" stroke="#EEDDFA" stroke-width="0.7"/>
<path d="M301.68 527.75L287.81 529.64A77.4 77.4 0 0 1 287.11 520.36L301.11 520.15A63.4 63.4 0 0 0 301.68 527.75Z" fill="#EFDFFA" stroke="#EFDFFA" stroke-width="0.7"/>
<path d="M301.11 520.15L287.11 520.36A77.4 77.4 0 0 1 287.53 511.07L301.45 512.54A63.4 63.4 0 0 0 301.11 520.15Z" fill="#F5E5FE" stroke="#F5E5FE" stroke-width="0.7"/>
<path d="M301.45 512.54L287.53 511.07A77.4 77.4 0 0 1 289.06 501.89L302.71 505.02A63.4 63.4 0 0 0 301.45 512.54Z" fill="#F5E5FD" stroke="#F5E5FD" stroke-width="0.7"/>
<path d="M302.71 505.02L289.06 501.89A77.4 77.4 0 0 1 291.68 492.97L304.85 497.71A63.4 63.4 0 0 0 302.71 505.02Z" fill="#F4E5FC" stroke="#F4E5FC" stroke-width="0.7"/>
<path d="M304.85 497.71L291.68 492.97A77.4 77.4 0 0 1 295.35 484.42L307.86 490.71A63.4 63.4 0 0 0 304.85 497.71Z" fill="#F8E8FF" stroke="#F8E8FF" stroke-width="0.7"/>
<path d="M307.86 490.71L295.35 484.42A77.4 77.4 0 0 1 300.02 476.38L311.69 484.12A63.4 63.4 0 0 0 307.86 490.71Z" fill="#F5E6FC" stroke="#F5E6FC" stroke-width="0.7"/>
<path d="M311.69 484.12L300.02 476.38A77.4 77.4 0 0 1 305.63 468.95L316.28 478.04A63.4 63.4 0 0 0 311.69 484.12Z" fill="#F8E9FE" stroke="#F8E9FE" stroke-width="0.7"/>
<path d="M316.28 478.04L305.63 468.95A77.4 77.4 0 0 1 312.08 462.25L321.56 472.55A63.4 63.4 0 0 0 316.28 478.04Z" fill="#F5E6FB" stroke="#F5E6FB" stroke-width="0.7"/>
<path d="M321.56 472.55L312.08 462.25A77.4 77.4 0 0 1 319.29 456.38L327.47 467.74A63.4 63.4 0 0 0 321.56 472.55Z" fill="#F7E7FD" stroke="#F7E7FD" stroke-width="0.7"/>
<path d="M327.47 467.74L319.29 456.38A77.4 77.4 0 0 1 327.15 451.41L333.91 463.67A63.4 63.4 0 0 0 327.47 467.74Z" fill="#F9E9FF" stroke="#F9E9FF" stroke-width="0.7"/>
<path d="M333.91 463.67L327.15 451.41A77.4 77.4 0 0 1 335.56 447.42L340.79 460.40A63.4 63.4 0 0 0 333.91 463.67Z" fill="#FEF0FF" stroke="#FEF0FF" stroke-width="0.7"/>
<path d="M340.79 460.40L335.56 447.42A77.4 77.4 0 0 1 344.38 444.46L348.02 457.98A63.4 63.4 0 0 0 340.79 460.40Z" fill="#FBF8FF" stroke="#FBF8FF" stroke-width="0.7"/>
<path d="M348.02 457.98L344.38 444.46A77.4 77.4 0 0 1 353.49 442.59L355.48 456.45A63.4 63.4 0 0 0 348.02 457.98Z" fill="#F9F7FE" stroke="#F9F7FE" stroke-width="0.7"/>
<path d="M355.48 456.45L353.49 442.59A77.4 77.4 0 0 1 362.76 441.82L363.07 455.82A63.4 63.4 0 0 0 355.48 456.45Z" fill="#FBF9FF" stroke="#FBF9FF" stroke-width="0.7"/>
<path d="M363.07 455.82L362.76 441.82A77.4 77.4 0 0 1 372.05 442.17L370.69 456.10A63.4 63.4 0 0 0 363.07 455.82Z" fill="#FBF9FE" stroke="#FBF9FE" stroke-width="0.7"/>
<path d="M370.69 456.10L372.05 442.17A77.4 77.4 0 0 1 381.24 443.63L378.21 457.30A63.4 63.4 0 0 0 370.69 456.10Z" fill="#FBECFB" stroke="#FBECFB" stroke-width="0.7"/>
<path d="M378.21 457.30L381.24 443.63A77.4 77.4 0 0 1 390.18 446.19L385.54 459.39A63.4 63.4 0 0 0 378.21 457.30Z" fill="#FFF2FD" stroke="#FFF2FD" stroke-width="0.7"/>
<path d="M385.54 459.39L390.18 446.19A77.4 77.4 0 0 1 398.76 449.79L392.56 462.35A63.4 63.4 0 0 0 385.54 459.39Z" fill="#FDFAFF" stroke="#FDFAFF" stroke-width="0.7"/>
<path d="M392.56 462.35L398.76 449.79A77.4 77.4 0 0 1 406.84 454.40L399.18 466.12A63.4 63.4 0 0 0 392.56 462.35Z" fill="#F5E2FD" stroke="#F5E2FD" stroke-width="0.7"/>
<path d="M399.18 466.12L406.84 454.40A77.4 77.4 0 0 1 414.30 459.95L405.30 470.67A63.4 63.4 0 0 0 399.18 466.12Z" fill="#7D5FF1" stroke="#7D5FF1" stroke-width="0.7"/>
<path d="M405.30 470.67L414.30 459.95A77.4 77.4 0 0 1 421.05 466.35L410.82 475.91A63.4 63.4 0 0 0 405.30 470.67Z" fill="#795BF3" stroke="#795BF3" stroke-width="0.7"/>
<path d="M410.82 475.91L421.05 466.35A77.4 77.4 0 0 1 426.98 473.52L415.68 481.78A63.4 63.4 0 0 0 410.82 475.91Z" fill="#6F51EF" stroke="#6F51EF" stroke-width="0.7"/>
<path d="M415.68 481.78L426.98 473.52A77.4 77.4 0 0 1 432.01 481.35L419.80 488.19A63.4 63.4 0 0 0 415.68 481.78Z" fill="#7052EE" stroke="#7052EE" stroke-width="0.7"/>
<path d="M419.80 488.19L432.01 481.35A77.4 77.4 0 0 1 436.07 489.72L423.12 495.05A63.4 63.4 0 0 0 419.80 488.19Z" fill="#7456F0" stroke="#7456F0" stroke-width="0.7"/>
<path d="M423.12 495.05L436.07 489.72A77.4 77.4 0 0 1 439.08 498.52L425.59 502.26A63.4 63.4 0 0 0 423.12 495.05Z" fill="#CCA7F5" stroke="#CCA7F5" stroke-width="0.7"/>
<text transform="translate(443.66 523.97) rotate(3.4)" font-size="5.8" text-anchor="start" dy="0.35em" fill="#222">Hbb-bt</text>
<text transform="translate(442.51 533.43) rotate(10.3)" font-size="5.8" text-anchor="start" dy="0.35em" fill="#222">Hba-a1</text>
<text transform="translate(440.24 542.68) rotate(17.2)" font-size="5.8" text-anchor="start" dy="0.35em" fill="#222">Hba-a2</text>
<text transform="translate(436.88 551.60) rotate(24.1)" font-size="5.8" text-anchor="start" dy="0.35em" fill="#222">Hbb-bs</text>
<text transform="translate(432.47 560.05) rotate(31.0)" font-size="5.8" text-anchor="start" dy="0.35em" fill="#222">Pf4</text>
<text transform="translate(427.08 567.91) rotate(37.9)" font-size="5.8" text-anchor="start" dy="0.35em" fill="#222">Plek</text>
<text transform="translate(420.78 575.06) rotate(44.8)" font-size="5.8" text-anchor="start" dy="0.35em" fill="#222">Srgn</text>
<text transform="translate(413.68 581.41) rotate(51.7)" font-size="5.8" text-anchor="start" dy="0.35em" fill="#222">Ptgfs</text>
<text transform="translate(405.86 586.86) rotate(58.6)" font-size="5.8" text-anchor="start" dy="0.35em" fill="#222">Ckmt1</text>
<text transform="translate(397.44 591.33) rotate(65.5)" font-size="5.8" text-anchor="start" dy="0.35em" fill="#222">Tmsf5</text>
<text transform="translate(388.55 594.76) rotate(72.3)" font-size="5.8" text-anchor="start" dy="0.35em" fill="#222">C2</text>
<text transform="translate(379.31 597.10) rotate(79.2)" font-size="5.8" text-anchor="start" dy="0.35em" fill="#222">Aqp1</text>
<text transform="translate(369.86 598.32) rotate(86.1)" font-size="5.8" text-anchor="start" dy="0.35em" fill="#222">Cldn10</text>
<text transform="translate(360.33 598.39) rotate(273.0)" font-size="5.8" text-anchor="end" dy="0.35em" fill="#222">Wfdc1</text>
<text transform="translate(350.86 597.32) rotate(279.9)" font-size="5.8" text-anchor="end" dy="0.35em" fill="#222">Spock2</text>
<text transform="translate(341.59 595.12) rotate(286.8)" font-size="5.8" text-anchor="end" dy="0.35em" fill="#222">Serping1</text>
<text transform="translate(332.64 591.82) rotate(293.7)" font-size="5.8" text-anchor="end" dy="0.35em" fill="#222">C4</text>
<text transform="translate(324.16 587.47) rotate(300.6)" font-size="5.8" text-anchor="end" dy="0.35em" fill="#222">Gng13</text>
<text transform="translate(316.26 582.14) rotate(307.5)" font-size="5.8" text-anchor="end" dy="0.35em" fill="#222">Myo5b</text>
<text transform="translate(309.06 575.90) rotate(314.4)" font-size="5.8" text-anchor="end" dy="0.35em" fill="#222">Nrgn</text>
<text transform="translate(302.66 568.84) rotate(321.2)" font-size="5.8" text-anchor="end" dy="0.35em" fill="#222">Hist1h2bc</text>
<text transform="translate(297.15 561.06) rotate(328.1)" font-size="5.8" text-anchor="end" dy="0.35em" fill="#222">Cfb</text>
<text transform="translate(292.62 552.68) rotate(335.0)" font-size="5.8" text-anchor="end" dy="0.35em" fill="#222">Lgals2</text>
<text transform="translate(289.12 543.82) rotate(341.9)" font-size="5.8" text-anchor="end" dy="0.35em" fill="#222">Cryl1</text>
<text transform="translate(286.71 534.60) rotate(348.8)" font-size="5.8" text-anchor="end" dy="0.35em" fill="#222">Cd55</text>
<text transform="translate(285.42 525.15) rotate(355.7)" font-size="5.8" text-anchor="end" dy="0.35em" fill="#222">C1ra</text>
<text transform="translate(285.28 515.62) rotate(362.6)" font-size="5.8" text-anchor="end" dy="0.35em" fill="#222">Msln</text>
<text transform="translate(286.28 506.15) rotate(369.5)" font-size="5.8" text-anchor="end" dy="0.35em" fill="#222">Selenop</text>
<text transform="translate(288.41 496.86) rotate(376.4)" font-size="5.8" text-anchor="end" dy="0.35em" fill="#222">Hspb1</text>
<text transform="translate(291.64 487.89) rotate(383.3)" font-size="5.8" text-anchor="end" dy="0.35em" fill="#222">Tnfsf13os</text>
<text transform="translate(295.92 479.38) rotate(390.1)" font-size="5.8" text-anchor="end" dy="0.35em" fill="#222">Cela1</text>
<text transform="translate(301.20 471.44) rotate(397.0)" font-size="5.8" text-anchor="end" dy="0.35em" fill="#222">C1s1</text>
<text transform="translate(307.38 464.19) rotate(403.9)" font-size="5.8" text-anchor="end" dy="0.35em" fill="#222">Gas6</text>
<text transform="translate(314.40 457.73) rotate(410.8)" font-size="5.8" text-anchor="end" dy="0.35em" fill="#222">Fos</text>
<text transform="translate(322.13 452.17) rotate(417.7)" font-size="5.8" text-anchor="end" dy="0.35em" fill="#222">Dusp1</text>
<text transform="translate(330.48 447.57) rotate(424.6)" font-size="5.8" text-anchor="end" dy="0.35em" fill="#222">Myl7</text>
<text transform="translate(339.32 444.00) rotate(431.5)" font-size="5.8" text-anchor="end" dy="0.35em" fill="#222">Ier2</text>
<text transform="translate(348.52 441.53) rotate(438.4)" font-size="5.8" text-anchor="end" dy="0.35em" fill="#222">Cd9</text>
<text transform="translate(357.95 440.17) rotate(445.3)" font-size="5.8" text-anchor="end" dy="0.35em" fill="#222">Jun</text>
<text transform="translate(367.48 439.96) rotate(272.2)" font-size="5.8" text-anchor="start" dy="0.35em" fill="#222">Btg2</text>
<text transform="translate(376.97 440.89) rotate(279.0)" font-size="5.8" text-anchor="start" dy="0.35em" fill="#222">Clic3</text>
<text transform="translate(386.27 442.95) rotate(285.9)" font-size="5.8" text-anchor="start" dy="0.35em" fill="#222">Fxyd3</text>
<text transform="translate(395.26 446.11) rotate(292.8)" font-size="5.8" text-anchor="start" dy="0.35em" fill="#222">Gstp1</text>
<text transform="translate(403.81 450.33) rotate(299.7)" font-size="5.8" text-anchor="start" dy="0.35em" fill="#222">Dmkn</text>
<text transform="translate(411.79 455.54) rotate(306.6)" font-size="5.8" text-anchor="start" dy="0.35em" fill="#222">Myl9</text>
<text transform="translate(419.08 461.67) rotate(313.5)" font-size="5.8" text-anchor="start" dy="0.35em" fill="#222">Ppbp</text>
<text transform="translate(425.59 468.64) rotate(320.4)" font-size="5.8" text-anchor="start" dy="0.35em" fill="#222">Gp9</text>
<text transform="translate(431.21 476.33) rotate(327.3)" font-size="5.8" text-anchor="start" dy="0.35em" fill="#222">Gng11</text>
<text transform="translate(435.87 484.64) rotate(334.2)" font-size="5.8" text-anchor="start" dy="0.35em" fill="#222">Clec1b</text>
<text transform="translate(439.50 493.45) rotate(341.1)" font-size="5.8" text-anchor="start" dy="0.35em" fill="#222">Ctla2a</text>
<text transform="translate(410.78 511.62) rotate(72.7)" font-size="6.0" text-anchor="middle" dy="0.35em" fill="#222">Lav</text>
<text transform="translate(424.21 510.06) rotate(73.3)" font-size="6.0" text-anchor="middle" dy="0.35em" fill="#222">CTC</text>
<text transform="translate(438.81 505.83) rotate(71.8)" font-size="6.0" text-anchor="middle" dy="0.35em" fill="#222">CC</text>
<circle cx="364.5" cy="519.2" r="34.5" fill="#fff"/>
<path d="M386.53 542.82A32.3 32.3 0 1 1 384.83 494.10" fill="none" stroke="#111" stroke-width="1.0"/>
<path d="M375.10 548.33A31 31 0 1 1 375.10 490.07" fill="none" stroke="#111" stroke-width="0.5"/>
<path d="M347.29 543.77A30 30 0 0 1 351.35 492.24" fill="none" stroke="#111" stroke-width="0.7"/>
<path d="M344.43 538.58A27.9 27.9 0 1 1 388.66 505.25" fill="none" stroke="#111" stroke-width="0.6"/>
<path d="M382.46 537.16A25.4 25.4 0 0 1 346.23 536.84" fill="none" stroke="#111" stroke-width="0.6"/>
<path d="M378.85 536.92A22.8 22.8 0 1 1 385.49 510.29" fill="none" stroke="#111" stroke-width="0.6"/>
<path d="M383.76 495.42A30.6 30.6 0 0 1 389.57 501.65" fill="none" stroke="#111" stroke-width="0.6"/>
<path d="M391.87 503.40A31.6 31.6 0 0 1 394.72 509.96" fill="none" stroke="#111" stroke-width="0.5"/>
<path d="M388.75 502.22A29.6 29.6 0 0 1 391.75 507.63" fill="none" stroke="#111" stroke-width="0.5"/>
<path d="M395.79 523.60A31.6 31.6 0 0 1 391.87 535.00" fill="none" stroke="#111" stroke-width="0.5"/>
<path d="M392.65 528.35A29.6 29.6 0 0 1 387.17 538.23" fill="none" stroke="#111" stroke-width="0.5"/>
<path d="M388.92 533.30A28.2 28.2 0 0 1 383.73 539.82" fill="none" stroke="#111" stroke-width="0.5"/>
<path d="M346.23 536.84L344.43 538.58" stroke="#111" stroke-width="0.5"/>
<path d="M352.27 494.12L351.35 492.24" stroke="#111" stroke-width="0.5"/>
<path d="M385.49 510.29L391.75 507.63" stroke="#111" stroke-width="0.5"/>
<path d="M378.85 536.92L382.25 541.12" stroke="#111" stroke-width="0.5"/>
<path d="M387.35 503.20L389.57 501.65" stroke="#111" stroke-width="0.5"/>
<path d="M391.87 503.40L393.60 502.40" stroke="#111" stroke-width="0.5"/>
<path d="M393.37 506.35L395.20 505.53" stroke="#111" stroke-width="0.5"/>
<path d="M394.72 509.96L396.63 509.38" stroke="#111" stroke-width="0.5"/>
<path d="M390.87 505.76L392.66 504.85" stroke="#111" stroke-width="0.5"/>
<path d="M395.79 523.60L397.77 523.88" stroke="#111" stroke-width="0.5"/>
<path d="M395.16 526.84L397.10 527.33" stroke="#111" stroke-width="0.5"/>
<path d="M393.80 531.04L395.65 531.79" stroke="#111" stroke-width="0.5"/>
<path d="M391.87 535.00L393.60 536.00" stroke="#111" stroke-width="0.5"/>
<path d="M392.65 528.35L394.55 528.96" stroke="#111" stroke-width="0.5"/>
<path d="M386.10 537.33L387.17 538.23" stroke="#111" stroke-width="0.5"/>
<path d="M381.82 537.78L386.53 542.82" stroke="#111" stroke-width="0.5"/>
<path d="M383.76 495.42L385.39 493.40" stroke="#111" stroke-width="0.5"/>
<path d="M384.44 543.97L385.63 545.45" stroke="#111" stroke-width="0.55"/>
<path d="M380.44 546.72L381.39 548.36" stroke="#111" stroke-width="0.55"/>
<path d="M377.15 548.37L377.91 550.12" stroke="#111" stroke-width="0.55"/>
<path d="M373.75 549.63L374.30 551.44" stroke="#111" stroke-width="0.55"/>
<path d="M369.27 550.64L369.55 552.52" stroke="#111" stroke-width="0.55"/>
<path d="M366.03 550.96L366.12 552.86" stroke="#111" stroke-width="0.55"/>
<path d="M362.70 550.95L362.59 552.85" stroke="#111" stroke-width="0.55"/>
<path d="M358.69 550.46L358.34 552.33" stroke="#111" stroke-width="0.55"/>
<path d="M353.95 549.20L353.32 550.99" stroke="#111" stroke-width="0.55"/>
<path d="M350.26 547.63L349.41 549.33" stroke="#111" stroke-width="0.55"/>
<path d="M348.20 546.51L347.23 548.14" stroke="#111" stroke-width="0.55"/>
<path d="M343.89 543.42L342.66 544.86" stroke="#111" stroke-width="0.55"/>
<path d="M340.91 540.53L339.51 541.80" stroke="#111" stroke-width="0.55"/>
<path d="M339.07 538.29L337.55 539.44" stroke="#111" stroke-width="0.55"/>
<path d="M336.88 534.96L335.23 535.90" stroke="#111" stroke-width="0.55"/>
<path d="M335.49 532.23L333.76 533.01" stroke="#111" stroke-width="0.55"/>
<path d="M333.91 527.89L332.08 528.41" stroke="#111" stroke-width="0.55"/>
<path d="M333.09 524.17L331.21 524.46" stroke="#111" stroke-width="0.55"/>
<path d="M332.71 520.08L330.81 520.13" stroke="#111" stroke-width="0.55"/>
<path d="M332.75 517.47L330.85 517.37" stroke="#111" stroke-width="0.55"/>
<path d="M333.63 511.57L331.78 511.12" stroke="#111" stroke-width="0.55"/>
<path d="M334.44 508.81L332.65 508.19" stroke="#111" stroke-width="0.55"/>
<path d="M335.82 505.46L334.11 504.64" stroke="#111" stroke-width="0.55"/>
<path d="M338.20 501.32L336.63 500.26" stroke="#111" stroke-width="0.55"/>
<path d="M340.23 498.65L338.78 497.42" stroke="#111" stroke-width="0.55"/>
<path d="M342.80 495.96L341.50 494.57" stroke="#111" stroke-width="0.55"/>
<path d="M346.15 493.23L345.06 491.67" stroke="#111" stroke-width="0.55"/>
<path d="M348.25 491.87L347.28 490.23" stroke="#111" stroke-width="0.55"/>
<path d="M352.67 489.68L351.96 487.92" stroke="#111" stroke-width="0.55"/>
<path d="M356.08 488.53L355.58 486.70" stroke="#111" stroke-width="0.55"/>
<path d="M361.08 487.58L360.88 485.70" stroke="#111" stroke-width="0.55"/>
<path d="M364.88 487.40L364.91 485.50" stroke="#111" stroke-width="0.55"/>
<path d="M367.31 487.52L367.48 485.63" stroke="#111" stroke-width="0.55"/>
<path d="M371.60 488.20L372.02 486.35" stroke="#111" stroke-width="0.55"/>
<path d="M374.59 489.04L375.20 487.24" stroke="#111" stroke-width="0.55"/>
<path d="M378.81 490.80L379.66 489.10" stroke="#111" stroke-width="0.55"/>
<path d="M382.86 493.23L383.96 491.68" stroke="#111" stroke-width="0.55"/>
<defs><linearGradient id="lg3551" x1="0" y1="0" x2="0" y2="1"><stop offset="0" stop-color="#FF0000"/><stop offset="0.12" stop-color="#FF0000"/><stop offset="0.5" stop-color="#FFFFFF"/><stop offset="0.88" stop-color="#0000FF"/><stop offset="1" stop-color="#0000FF"/></linearGradient></defs><rect x="355.1" y="505.9" width="7.3" height="33.7" fill="url(#lg3551)"/><text x="363.7" y="509.1" font-size="5.5" font-weight="normal" fill="#111" text-anchor="start" >20</text><path d="M355.1 507.1h1M362.4 507.1h-1" stroke="#fff" stroke-width="0.4"/><text x="363.7" y="516.7" font-size="5.5" font-weight="normal" fill="#111" text-anchor="start" >10</text><path d="M355.1 514.7h1M362.4 514.7h-1" stroke="#fff" stroke-width="0.4"/><text x="363.7" y="524.9" font-size="5.5" font-weight="normal" fill="#111" text-anchor="start" >0</text><path d="M355.1 522.9h1M362.4 522.9h-1" stroke="#fff" stroke-width="0.4"/><text x="363.7" y="532.5" font-size="5.5" font-weight="normal" fill="#111" text-anchor="start" >−10</text><path d="M355.1 530.5h1M362.4 530.5h-1" stroke="#fff" stroke-width="0.4"/><text x="363.7" y="540" font-size="5.5" font-weight="normal" fill="#111" text-anchor="start" >−20</text><path d="M355.1 538h1M362.4 538h-1" stroke="#fff" stroke-width="0.4"/><text x="355.5" y="503.4" font-size="5.7" font-weight="bold" fill="#000" text-anchor="start" >mat1</text>
<path d="M611.30 521.00L625.20 521.00A47.6 47.6 0 0 1 624.86 526.72L611.06 525.05A33.7 33.7 0 0 0 611.30 521.00Z" fill="#FDE3D5" stroke="#FDE3D5" stroke-width="0.7"/>
<path d="M611.06 525.05L624.86 526.72A47.6 47.6 0 0 1 623.83 532.35L610.33 529.04A33.7 33.7 0 0 0 611.06 525.05Z" fill="#FDEBDE" stroke="#FDEBDE" stroke-width="0.7"/>
<path d="M610.33 529.04L623.83 532.35A47.6 47.6 0 0 1 622.13 537.83L609.12 532.91A33.7 33.7 0 0 0 610.33 529.04Z" fill="#FBC7B3" stroke="#FBC7B3" stroke-width="0.7"/>
<path d="M609.12 532.91L622.13 537.83A47.6 47.6 0 0 1 619.78 543.05L607.47 536.61A33.7 33.7 0 0 0 609.12 532.91Z" fill="#FAC6B2" stroke="#FAC6B2" stroke-width="0.7"/>
<path d="M607.47 536.61L619.78 543.05A47.6 47.6 0 0 1 616.83 547.96L605.37 540.09A33.7 33.7 0 0 0 607.47 536.61Z" fill="#FBD6C6" stroke="#FBD6C6" stroke-width="0.7"/>
<path d="M605.37 540.09L616.83 547.96A47.6 47.6 0 0 1 613.31 552.48L602.88 543.29A33.7 33.7 0 0 0 605.37 540.09Z" fill="#FCE0D2" stroke="#FCE0D2" stroke-width="0.7"/>
<path d="M602.88 543.29L613.31 552.48A47.6 47.6 0 0 1 609.26 556.54L600.02 546.16A33.7 33.7 0 0 0 602.88 543.29Z" fill="#FCE0D2" stroke="#FCE0D2" stroke-width="0.7"/>
<path d="M600.02 546.16L609.26 556.54A47.6 47.6 0 0 1 604.77 560.09L596.83 548.67A33.7 33.7 0 0 0 600.02 546.16Z" fill="#FBD3C1" stroke="#FBD3C1" stroke-width="0.7"/>
<path d="M596.83 548.67L604.77 560.09A47.6 47.6 0 0 1 599.87 563.07L593.37 550.78A33.7 33.7 0 0 0 596.83 548.67Z" fill="#FCDFCF" stroke="#FCDFCF" stroke-width="0.7"/>
<path d="M593.37 550.78L599.87 563.07A47.6 47.6 0 0 1 594.66 565.44L589.68 552.46A33.7 33.7 0 0 0 593.37 550.78Z" fill="#FBDFD0" stroke="#FBDFD0" stroke-width="0.7"/>
<path d="M589.68 552.46L594.66 565.44A47.6 47.6 0 0 1 589.20 567.17L585.81 553.68A33.7 33.7 0 0 0 589.68 552.46Z" fill="#FDE2D3" stroke="#FDE2D3" stroke-width="0.7"/>
<path d="M585.81 553.68L589.20 567.17A47.6 47.6 0 0 1 583.57 568.22L581.82 554.43A33.7 33.7 0 0 0 585.81 553.68Z" fill="#FACDB9" stroke="#FACDB9" stroke-width="0.7"/>
<path d="M581.82 554.43L583.57 568.22A47.6 47.6 0 0 1 577.85 568.60L577.78 554.70A33.7 33.7 0 0 0 581.82 554.43Z" fill="#FDE3D5" stroke="#FDE3D5" stroke-width="0.7"/>
<path d="M577.78 554.70L577.85 568.60A47.6 47.6 0 0 1 572.13 568.28L573.73 554.48A33.7 33.7 0 0 0 577.78 554.70Z" fill="#FDE3D5" stroke="#FDE3D5" stroke-width="0.7"/>
<path d="M573.73 554.48L572.13 568.28A47.6 47.6 0 0 1 566.49 567.28L569.73 553.77A33.7 33.7 0 0 0 573.73 554.48Z" fill="#FBD6C4" stroke="#FBD6C4" stroke-width="0.7"/>
<path d="M569.73 553.77L566.49 567.28A47.6 47.6 0 0 1 561.01 565.61L565.85 552.59A33.7 33.7 0 0 0 569.73 553.77Z" fill="#FCD7C5" stroke="#FCD7C5" stroke-width="0.7"/>
<path d="M565.85 552.59L561.01 565.61A47.6 47.6 0 0 1 555.77 563.30L562.14 550.95A33.7 33.7 0 0 0 565.85 552.59Z" fill="#FCD7C5" stroke="#FCD7C5" stroke-width="0.7"/>
<path d="M562.14 550.95L555.77 563.30A47.6 47.6 0 0 1 550.84 560.37L558.66 548.87A33.7 33.7 0 0 0 562.14 550.95Z" fill="#FCE8DC" stroke="#FCE8DC" stroke-width="0.7"/>
<path d="M558.66 548.87L550.84 560.37A47.6 47.6 0 0 1 546.31 556.87L555.45 546.40A33.7 33.7 0 0 0 558.66 548.87Z" fill="#FDE9DD" stroke="#FDE9DD" stroke-width="0.7"/>
<path d="M555.45 546.40L546.31 556.87A47.6 47.6 0 0 1 542.23 552.85L552.56 543.55A33.7 33.7 0 0 0 555.45 546.40Z" fill="#FDE9DD" stroke="#FDE9DD" stroke-width="0.7"/>
<path d="M552.56 543.55L542.23 552.85A47.6 47.6 0 0 1 538.66 548.37L550.03 540.38A33.7 33.7 0 0 0 552.56 543.55Z" fill="#FCE2D4" stroke="#FCE2D4" stroke-width="0.7"/>
<path d="M550.03 540.38L538.66 548.37A47.6 47.6 0 0 1 535.65 543.49L547.90 536.92A33.7 33.7 0 0 0 550.03 540.38Z" fill="#FCE2D4" stroke="#FCE2D4" stroke-width="0.7"/>
<path d="M547.90 536.92L535.65 543.49A47.6 47.6 0 0 1 533.25 538.29L546.20 533.24A33.7 33.7 0 0 0 547.90 536.92Z" fill="#FBE1D3" stroke="#FBE1D3" stroke-width="0.7"/>
<path d="M546.20 533.24L533.25 538.29A47.6 47.6 0 0 1 531.50 532.84L544.96 529.38A33.7 33.7 0 0 0 546.20 533.24Z" fill="#FBE2D4" stroke="#FBE2D4" stroke-width="0.7"/>
<path d="M544.96 529.38L531.50 532.84A47.6 47.6 0 0 1 530.41 527.21L544.19 525.40A33.7 33.7 0 0 0 544.96 529.38Z" fill="#FCE2D4" stroke="#FCE2D4" stroke-width="0.7"/>
<path d="M544.19 525.40L530.41 527.21A47.6 47.6 0 0 1 530.00 521.50L543.90 521.35A33.7 33.7 0 0 0 544.19 525.40Z" fill="#FBE1D3" stroke="#FBE1D3" stroke-width="0.7"/>
<path d="M543.90 521.35L530.00 521.50A47.6 47.6 0 0 1 530.29 515.78L544.10 517.30A33.7 33.7 0 0 0 543.90 521.35Z" fill="#FBE2D4" stroke="#FBE2D4" stroke-width="0.7"/>
<path d="M544.10 517.30L530.29 515.78A47.6 47.6 0 0 1 531.26 510.13L544.79 513.30A33.7 33.7 0 0 0 544.10 517.30Z" fill="#FCE2D4" stroke="#FCE2D4" stroke-width="0.7"/>
<path d="M544.79 513.30L531.26 510.13A47.6 47.6 0 0 1 532.90 504.64L545.95 509.42A33.7 33.7 0 0 0 544.79 513.30Z" fill="#FBE2D4" stroke="#FBE2D4" stroke-width="0.7"/>
<path d="M545.95 509.42L532.90 504.64A47.6 47.6 0 0 1 535.19 499.39L547.57 505.70A33.7 33.7 0 0 0 545.95 509.42Z" fill="#FBE1D3" stroke="#FBE1D3" stroke-width="0.7"/>
<path d="M547.57 505.70L535.19 499.39A47.6 47.6 0 0 1 538.09 494.45L549.63 502.20A33.7 33.7 0 0 0 547.57 505.70Z" fill="#FCE3D5" stroke="#FCE3D5" stroke-width="0.7"/>
<path d="M549.63 502.20L538.09 494.45A47.6 47.6 0 0 1 541.57 489.90L552.09 498.98A33.7 33.7 0 0 0 549.63 502.20Z" fill="#FBE2D4" stroke="#FBE2D4" stroke-width="0.7"/>
<path d="M552.09 498.98L541.57 489.90A47.6 47.6 0 0 1 545.56 485.79L554.92 496.07A33.7 33.7 0 0 0 552.09 498.98Z" fill="#FBE1D3" stroke="#FBE1D3" stroke-width="0.7"/>
<path d="M554.92 496.07L545.56 485.79A47.6 47.6 0 0 1 550.03 482.20L558.08 493.53A33.7 33.7 0 0 0 554.92 496.07Z" fill="#FBE1D3" stroke="#FBE1D3" stroke-width="0.7"/>
<path d="M558.08 493.53L550.03 482.20A47.6 47.6 0 0 1 554.89 479.17L561.52 491.38A33.7 33.7 0 0 0 558.08 493.53Z" fill="#FBE0D2" stroke="#FBE0D2" stroke-width="0.7"/>
<path d="M561.52 491.38L554.89 479.17A47.6 47.6 0 0 1 560.08 476.74L565.19 489.67A33.7 33.7 0 0 0 561.52 491.38Z" fill="#FBE0D2" stroke="#FBE0D2" stroke-width="0.7"/>
<path d="M565.19 489.67L560.08 476.74A47.6 47.6 0 0 1 565.52 474.96L569.05 488.40A33.7 33.7 0 0 0 565.19 489.67Z" fill="#FBDFD1" stroke="#FBDFD1" stroke-width="0.7"/>
<path d="M569.05 488.40L565.52 474.96A47.6 47.6 0 0 1 571.14 473.84L573.03 487.61A33.7 33.7 0 0 0 569.05 488.40Z" fill="#FCDFD1" stroke="#FCDFD1" stroke-width="0.7"/>
<path d="M573.03 487.61L571.14 473.84A47.6 47.6 0 0 1 576.85 473.41L577.07 487.30A33.7 33.7 0 0 0 573.03 487.61Z" fill="#FBDED0" stroke="#FBDED0" stroke-width="0.7"/>
<path d="M577.07 487.30L576.85 473.41A47.6 47.6 0 0 1 582.58 473.66L581.12 487.48A33.7 33.7 0 0 0 577.07 487.30Z" fill="#FBDECF" stroke="#FBDECF" stroke-width="0.7"/>
<path d="M581.12 487.48L582.58 473.66A47.6 47.6 0 0 1 588.23 474.60L585.12 488.15A33.7 33.7 0 0 0 581.12 487.48Z" fill="#FCDDCE" stroke="#FCDDCE" stroke-width="0.7"/>
<path d="M585.12 488.15L588.23 474.60A47.6 47.6 0 0 1 593.72 476.21L589.02 489.29A33.7 33.7 0 0 0 585.12 488.15Z" fill="#FCDDCD" stroke="#FCDDCD" stroke-width="0.7"/>
<path d="M589.02 489.29L593.72 476.21A47.6 47.6 0 0 1 598.99 478.48L592.74 490.89A33.7 33.7 0 0 0 589.02 489.29Z" fill="#FADACA" stroke="#FADACA" stroke-width="0.7"/>
<path d="M592.74 490.89L598.99 478.48A47.6 47.6 0 0 1 603.94 481.35L596.25 492.93A33.7 33.7 0 0 0 592.74 490.89Z" fill="#FBDACA" stroke="#FBDACA" stroke-width="0.7"/>
<path d="M596.25 492.93L603.94 481.35A47.6 47.6 0 0 1 608.51 484.80L599.49 495.37A33.7 33.7 0 0 0 596.25 492.93Z" fill="#FACCB8" stroke="#FACCB8" stroke-width="0.7"/>
<path d="M599.49 495.37L608.51 484.80A47.6 47.6 0 0 1 612.64 488.78L602.41 498.19A33.7 33.7 0 0 0 599.49 495.37Z" fill="#FAD1BF" stroke="#FAD1BF" stroke-width="0.7"/>
<path d="M602.41 498.19L612.64 488.78A47.6 47.6 0 0 1 616.26 493.22L604.97 501.33A33.7 33.7 0 0 0 602.41 498.19Z" fill="#FBD6C6" stroke="#FBD6C6" stroke-width="0.7"/>
<path d="M604.97 501.33L616.26 493.22A47.6 47.6 0 0 1 619.31 498.07L607.13 504.76A33.7 33.7 0 0 0 604.97 501.33Z" fill="#F70705" stroke="#F70705" stroke-width="0.7"/>
<path d="M607.13 504.76L619.31 498.07A47.6 47.6 0 0 1 621.77 503.25L608.87 508.43A33.7 33.7 0 0 0 607.13 504.76Z" fill="#F70705" stroke="#F70705" stroke-width="0.7"/>
<path d="M608.87 508.43L621.77 503.25A47.6 47.6 0 0 1 623.58 508.68L610.15 512.28A33.7 33.7 0 0 0 608.87 508.43Z" fill="#FA6C4E" stroke="#FA6C4E" stroke-width="0.7"/>
<path d="M625.20 521.00L638.60 521.00A61 61 0 0 1 638.16 528.33L624.86 526.72A47.6 47.6 0 0 0 625.20 521.00Z" fill="#FDF5EC" stroke="#FDF5EC" stroke-width="0.7"/>
<path d="M624.86 526.72L638.16 528.33A61 61 0 0 1 636.84 535.55L623.83 532.35A47.6 47.6 0 0 0 624.86 526.72Z" fill="#FDF3EA" stroke="#FDF3EA" stroke-width="0.7"/>
<path d="M623.83 532.35L636.84 535.55A61 61 0 0 1 634.66 542.56L622.13 537.83A47.6 47.6 0 0 0 623.83 532.35Z" fill="#FBEFE5" stroke="#FBEFE5" stroke-width="0.7"/>
<path d="M622.13 537.83L634.66 542.56A61 61 0 0 1 631.66 549.26L619.78 543.05A47.6 47.6 0 0 0 622.13 537.83Z" fill="#FFFEFD" stroke="#FFFEFD" stroke-width="0.7"/>
<path d="M619.78 543.05L631.66 549.26A61 61 0 0 1 627.87 555.55L616.83 547.96A47.6 47.6 0 0 0 619.78 543.05Z" fill="#FFFDFD" stroke="#FFFDFD" stroke-width="0.7"/>
<path d="M616.83 547.96L627.87 555.55A61 61 0 0 1 623.36 561.34L613.31 552.48A47.6 47.6 0 0 0 616.83 547.96Z" fill="#FDFBFB" stroke="#FDFBFB" stroke-width="0.7"/>
<path d="M613.31 552.48L623.36 561.34A61 61 0 0 1 618.18 566.54L609.26 556.54A47.6 47.6 0 0 0 613.31 552.48Z" fill="#F9F5FC" stroke="#F9F5FC" stroke-width="0.7"/>
<path d="M609.26 556.54L618.18 566.54A61 61 0 0 1 612.41 571.09L604.77 560.09A47.6 47.6 0 0 0 609.26 556.54Z" fill="#FCF5F5" stroke="#FCF5F5" stroke-width="0.7"/>
<path d="M604.77 560.09L612.41 571.09A61 61 0 0 1 606.14 574.91L599.87 563.07A47.6 47.6 0 0 0 604.77 560.09Z" fill="#FEF5ED" stroke="#FEF5ED" stroke-width="0.7"/>
<path d="M599.87 563.07L606.14 574.91A61 61 0 0 1 599.46 577.95L594.66 565.44A47.6 47.6 0 0 0 599.87 563.07Z" fill="#FFF5EB" stroke="#FFF5EB" stroke-width="0.7"/>
<path d="M594.66 565.44L599.46 577.95A61 61 0 0 1 592.46 580.16L589.20 567.17A47.6 47.6 0 0 0 594.66 565.44Z" fill="#FEFCFA" stroke="#FEFCFA" stroke-width="0.7"/>
<path d="M589.20 567.17L592.46 580.16A61 61 0 0 1 585.25 581.52L583.57 568.22A47.6 47.6 0 0 0 589.20 567.17Z" fill="#FEF4EA" stroke="#FEF4EA" stroke-width="0.7"/>
<path d="M583.57 568.22L585.25 581.52A61 61 0 0 1 577.92 582.00L577.85 568.60A47.6 47.6 0 0 0 583.57 568.22Z" fill="#FFF4EA" stroke="#FFF4EA" stroke-width="0.7"/>
<path d="M577.85 568.60L577.92 582.00A61 61 0 0 1 570.59 581.60L572.13 568.28A47.6 47.6 0 0 0 577.85 568.60Z" fill="#FEF3E9" stroke="#FEF3E9" stroke-width="0.7"/>
<path d="M572.13 568.28L570.59 581.60A61 61 0 0 1 563.36 580.31L566.49 567.28A47.6 47.6 0 0 0 572.13 568.28Z" fill="#FEF3E8" stroke="#FEF3E8" stroke-width="0.7"/>
<path d="M566.49 567.28L563.36 580.31A61 61 0 0 1 556.34 578.17L561.01 565.61A47.6 47.6 0 0 0 566.49 567.28Z" fill="#FEFCFA" stroke="#FEFCFA" stroke-width="0.7"/>
<path d="M561.01 565.61L556.34 578.17A61 61 0 0 1 549.62 575.21L555.77 563.30A47.6 47.6 0 0 0 561.01 565.61Z" fill="#FEFBF9" stroke="#FEFBF9" stroke-width="0.7"/>
<path d="M555.77 563.30L549.62 575.21A61 61 0 0 1 543.31 571.45L550.84 560.37A47.6 47.6 0 0 0 555.77 563.30Z" fill="#FDEFE1" stroke="#FDEFE1" stroke-width="0.7"/>
<path d="M550.84 560.37L543.31 571.45A61 61 0 0 1 537.50 566.97L546.31 556.87A47.6 47.6 0 0 0 550.84 560.37Z" fill="#FDF0E2" stroke="#FDF0E2" stroke-width="0.7"/>
<path d="M546.31 556.87L537.50 566.97A61 61 0 0 1 532.27 561.82L542.23 552.85A47.6 47.6 0 0 0 546.31 556.87Z" fill="#FEF1E4" stroke="#FEF1E4" stroke-width="0.7"/>
<path d="M542.23 552.85L532.27 561.82A61 61 0 0 1 527.69 556.08L538.66 548.37A47.6 47.6 0 0 0 542.23 552.85Z" fill="#FFFDFC" stroke="#FFFDFC" stroke-width="0.7"/>
<path d="M538.66 548.37L527.69 556.08A61 61 0 0 1 523.84 549.83L535.65 543.49A47.6 47.6 0 0 0 538.66 548.37Z" fill="#FFFDFC" stroke="#FFFDFC" stroke-width="0.7"/>
<path d="M535.65 543.49L523.84 549.83A61 61 0 0 1 520.77 543.16L533.25 538.29A47.6 47.6 0 0 0 535.65 543.49Z" fill="#FEFCFB" stroke="#FEFCFB" stroke-width="0.7"/>
<path d="M533.25 538.29L520.77 543.16A61 61 0 0 1 518.52 536.17L531.50 532.84A47.6 47.6 0 0 0 533.25 538.29Z" fill="#FEFCFB" stroke="#FEFCFB" stroke-width="0.7"/>
<path d="M531.50 532.84L518.52 536.17A61 61 0 0 1 517.12 528.96L530.41 527.21A47.6 47.6 0 0 0 531.50 532.84Z" fill="#FEFCFB" stroke="#FEFCFB" stroke-width="0.7"/>
<path d="M530.41 527.21L517.12 528.96A61 61 0 0 1 516.60 521.64L530.00 521.50A47.6 47.6 0 0 0 530.41 527.21Z" fill="#FFFBF7" stroke="#FFFBF7" stroke-width="0.7"/>
<path d="M530.00 521.50L516.60 521.64A61 61 0 0 1 516.97 514.31L530.29 515.78A47.6 47.6 0 0 0 530.00 521.50Z" fill="#FFF9F1" stroke="#FFF9F1" stroke-width="0.7"/>
<path d="M530.29 515.78L516.97 514.31A61 61 0 0 1 518.21 507.07L531.26 510.13A47.6 47.6 0 0 0 530.29 515.78Z" fill="#FFF9F1" stroke="#FFF9F1" stroke-width="0.7"/>
<path d="M531.26 510.13L518.21 507.07A61 61 0 0 1 520.32 500.04L532.90 504.64A47.6 47.6 0 0 0 531.26 510.13Z" fill="#FDF8F0" stroke="#FDF8F0" stroke-width="0.7"/>
<path d="M532.90 504.64L520.32 500.04A61 61 0 0 1 523.25 493.31L535.19 499.39A47.6 47.6 0 0 0 532.90 504.64Z" fill="#FDF8F1" stroke="#FDF8F1" stroke-width="0.7"/>
<path d="M535.19 499.39L523.25 493.31A61 61 0 0 1 526.97 486.98L538.09 494.45A47.6 47.6 0 0 0 535.19 499.39Z" fill="#FFFAF3" stroke="#FFFAF3" stroke-width="0.7"/>
<path d="M538.09 494.45L526.97 486.98A61 61 0 0 1 531.42 481.14L541.57 489.90A47.6 47.6 0 0 0 538.09 494.45Z" fill="#FEF9F2" stroke="#FEF9F2" stroke-width="0.7"/>
<path d="M541.57 489.90L531.42 481.14A61 61 0 0 1 536.55 475.88L545.56 485.79A47.6 47.6 0 0 0 541.57 489.90Z" fill="#FFFAF4" stroke="#FFFAF4" stroke-width="0.7"/>
<path d="M545.56 485.79L536.55 475.88A61 61 0 0 1 542.26 471.28L550.03 482.20A47.6 47.6 0 0 0 545.56 485.79Z" fill="#FEF9F3" stroke="#FEF9F3" stroke-width="0.7"/>
<path d="M550.03 482.20L542.26 471.28A61 61 0 0 1 548.49 467.39L554.89 479.17A47.6 47.6 0 0 0 550.03 482.20Z" fill="#FEFAF4" stroke="#FEFAF4" stroke-width="0.7"/>
<path d="M554.89 479.17L548.49 467.39A61 61 0 0 1 555.14 464.28L560.08 476.74A47.6 47.6 0 0 0 554.89 479.17Z" fill="#FEFAF4" stroke="#FEFAF4" stroke-width="0.7"/>
<path d="M560.08 476.74L555.14 464.28A61 61 0 0 1 562.12 462.00L565.52 474.96A47.6 47.6 0 0 0 560.08 476.74Z" fill="#FEF9F3" stroke="#FEF9F3" stroke-width="0.7"/>
<path d="M565.52 474.96L562.12 462.00A61 61 0 0 1 569.32 460.56L571.14 473.84A47.6 47.6 0 0 0 565.52 474.96Z" fill="#FEF9F3" stroke="#FEF9F3" stroke-width="0.7"/>
<path d="M571.14 473.84L569.32 460.56A61 61 0 0 1 576.64 460.01L576.85 473.41A47.6 47.6 0 0 0 571.14 473.84Z" fill="#FDF8F2" stroke="#FDF8F2" stroke-width="0.7"/>
<path d="M576.85 473.41L576.64 460.01A61 61 0 0 1 583.98 460.33L582.58 473.66A47.6 47.6 0 0 0 576.85 473.41Z" fill="#FEF9F3" stroke="#FEF9F3" stroke-width="0.7"/>
<path d="M582.58 473.66L583.98 460.33A61 61 0 0 1 591.22 461.54L588.23 474.60A47.6 47.6 0 0 0 582.58 473.66Z" fill="#FFF9F3" stroke="#FFF9F3" stroke-width="0.7"/>
<path d="M588.23 474.60L591.22 461.54A61 61 0 0 1 598.26 463.61L593.72 476.21A47.6 47.6 0 0 0 588.23 474.60Z" fill="#FDF9F4" stroke="#FDF9F4" stroke-width="0.7"/>
<path d="M593.72 476.21L598.26 463.61A61 61 0 0 1 605.01 466.50L598.99 478.48A47.6 47.6 0 0 0 593.72 476.21Z" fill="#FDFBF7" stroke="#FDFBF7" stroke-width="0.7"/>
<path d="M598.99 478.48L605.01 466.50A61 61 0 0 1 611.36 470.19L603.94 481.35A47.6 47.6 0 0 0 598.99 478.48Z" fill="#FDFCFA" stroke="#FDFCFA" stroke-width="0.7"/>
<path d="M603.94 481.35L611.36 470.19A61 61 0 0 1 617.22 474.62L608.51 484.80A47.6 47.6 0 0 0 603.94 481.35Z" fill="#F3E0FC" stroke="#F3E0FC" stroke-width="0.7"/>
<path d="M608.51 484.80L617.22 474.62A61 61 0 0 1 622.50 479.71L612.64 488.78A47.6 47.6 0 0 0 608.51 484.80Z" fill="#EDD8FA" stroke="#EDD8FA" stroke-width="0.7"/>
<path d="M612.64 488.78L622.50 479.71A61 61 0 0 1 627.14 485.40L616.26 493.22A47.6 47.6 0 0 0 612.64 488.78Z" fill="#E8D1F9" stroke="#E8D1F9" stroke-width="0.7"/>
<path d="M616.26 493.22L627.14 485.40A61 61 0 0 1 631.05 491.61L619.31 498.07A47.6 47.6 0 0 0 616.26 493.22Z" fill="#7E5AF1" stroke="#7E5AF1" stroke-width="0.7"/>
<path d="M619.31 498.07L631.05 491.61A61 61 0 0 1 634.20 498.25L621.77 503.25A47.6 47.6 0 0 0 619.31 498.07Z" fill="#7955EF" stroke="#7955EF" stroke-width="0.7"/>
<path d="M621.77 503.25L634.20 498.25A61 61 0 0 1 636.52 505.21L623.58 508.68A47.6 47.6 0 0 0 621.77 503.25Z" fill="#D0A9F9" stroke="#D0A9F9" stroke-width="0.7"/>
<path d="M638.60 521.00L652.30 521.00A74.7 74.7 0 0 1 651.76 529.97L638.16 528.33A61 61 0 0 0 638.60 521.00Z" fill="#B18EFA" stroke="#B18EFA" stroke-width="0.7"/>
<path d="M638.16 528.33L651.76 529.97A74.7 74.7 0 0 1 650.14 538.82L636.84 535.55A61 61 0 0 0 638.16 528.33Z" fill="#AC89F7" stroke="#AC89F7" stroke-width="0.7"/>
<path d="M636.84 535.55L650.14 538.82A74.7 74.7 0 0 1 647.48 547.40L634.66 542.56A61 61 0 0 0 636.84 535.55Z" fill="#A986F6" stroke="#A986F6" stroke-width="0.7"/>
<path d="M634.66 542.56L647.48 547.40A74.7 74.7 0 0 1 643.80 555.61L631.66 549.26A61 61 0 0 0 634.66 542.56Z" fill="#865FF4" stroke="#865FF4" stroke-width="0.7"/>
<path d="M631.66 549.26L643.80 555.61A74.7 74.7 0 0 1 639.16 563.31L627.87 555.55A61 61 0 0 0 631.66 549.26Z" fill="#A582F7" stroke="#A582F7" stroke-width="0.7"/>
<path d="M627.87 555.55L639.16 563.31A74.7 74.7 0 0 1 633.63 570.40L623.36 561.34A61 61 0 0 0 627.87 555.55Z" fill="#0804F2" stroke="#0804F2" stroke-width="0.7"/>
<path d="M623.36 561.34L633.63 570.40A74.7 74.7 0 0 1 627.29 576.77L618.18 566.54A61 61 0 0 0 623.36 561.34Z" fill="#DCBFF9" stroke="#DCBFF9" stroke-width="0.7"/>
<path d="M618.18 566.54L627.29 576.77A74.7 74.7 0 0 1 620.23 582.34L612.41 571.09A61 61 0 0 0 618.18 566.54Z" fill="#D4B3F9" stroke="#D4B3F9" stroke-width="0.7"/>
<path d="M612.41 571.09L620.23 582.34A74.7 74.7 0 0 1 612.55 587.02L606.14 574.91A61 61 0 0 0 612.41 571.09Z" fill="#CFB0F6" stroke="#CFB0F6" stroke-width="0.7"/>
<path d="M606.14 574.91L612.55 587.02A74.7 74.7 0 0 1 604.37 590.74L599.46 577.95A61 61 0 0 0 606.14 574.91Z" fill="#D2B4F7" stroke="#D2B4F7" stroke-width="0.7"/>
<path d="M599.46 577.95L604.37 590.74A74.7 74.7 0 0 1 595.80 593.45L592.46 580.16A61 61 0 0 0 599.46 577.95Z" fill="#D5B8F7" stroke="#D5B8F7" stroke-width="0.7"/>
<path d="M592.46 580.16L595.80 593.45A74.7 74.7 0 0 1 586.96 595.11L585.25 581.52A61 61 0 0 0 592.46 580.16Z" fill="#D4B7F8" stroke="#D4B7F8" stroke-width="0.7"/>
<path d="M585.25 581.52L586.96 595.11A74.7 74.7 0 0 1 577.99 595.70L577.92 582.00A61 61 0 0 0 585.25 581.52Z" fill="#DEC2F9" stroke="#DEC2F9" stroke-width="0.7"/>
<path d="M577.92 582.00L577.99 595.70A74.7 74.7 0 0 1 569.01 595.20L570.59 581.60A61 61 0 0 0 577.92 582.00Z" fill="#DEC2F9" stroke="#DEC2F9" stroke-width="0.7"/>
<path d="M570.59 581.60L569.01 595.20A74.7 74.7 0 0 1 560.16 593.64L563.36 580.31A61 61 0 0 0 570.59 581.60Z" fill="#E5CCFA" stroke="#E5CCFA" stroke-width="0.7"/>
<path d="M563.36 580.31L560.16 593.64A74.7 74.7 0 0 1 551.56 591.01L556.34 578.17A61 61 0 0 0 563.36 580.31Z" fill="#E5CCFA" stroke="#E5CCFA" stroke-width="0.7"/>
<path d="M556.34 578.17L551.56 591.01A74.7 74.7 0 0 1 543.34 587.38L549.62 575.21A61 61 0 0 0 556.34 578.17Z" fill="#D9BCF8" stroke="#D9BCF8" stroke-width="0.7"/>
<path d="M549.62 575.21L543.34 587.38A74.7 74.7 0 0 1 535.61 582.78L543.31 571.45A61 61 0 0 0 549.62 575.21Z" fill="#DBBEF8" stroke="#DBBEF8" stroke-width="0.7"/>
<path d="M543.31 571.45L535.61 582.78A74.7 74.7 0 0 1 528.49 577.29L537.50 566.97A61 61 0 0 0 543.31 571.45Z" fill="#E8CEFA" stroke="#E8CEFA" stroke-width="0.7"/>
<path d="M537.50 566.97L528.49 577.29A74.7 74.7 0 0 1 522.09 570.98L532.27 561.82A61 61 0 0 0 537.50 566.97Z" fill="#E9D0FA" stroke="#E9D0FA" stroke-width="0.7"/>
<path d="M532.27 561.82L522.09 570.98A74.7 74.7 0 0 1 516.48 563.95L527.69 556.08A61 61 0 0 0 532.27 561.82Z" fill="#EAD5FA" stroke="#EAD5FA" stroke-width="0.7"/>
<path d="M527.69 556.08L516.48 563.95A74.7 74.7 0 0 1 511.77 556.30L523.84 549.83A61 61 0 0 0 527.69 556.08Z" fill="#EDD9FB" stroke="#EDD9FB" stroke-width="0.7"/>
<path d="M523.84 549.83L511.77 556.30A74.7 74.7 0 0 1 508.00 548.13L520.77 543.16A61 61 0 0 0 523.84 549.83Z" fill="#EEDBFB" stroke="#EEDBFB" stroke-width="0.7"/>
<path d="M520.77 543.16L508.00 548.13A74.7 74.7 0 0 1 505.25 539.58L518.52 536.17A61 61 0 0 0 520.77 543.16Z" fill="#F0DDFC" stroke="#F0DDFC" stroke-width="0.7"/>
<path d="M518.52 536.17L505.25 539.58A74.7 74.7 0 0 1 503.54 530.75L517.12 528.96A61 61 0 0 0 518.52 536.17Z" fill="#F1E0FC" stroke="#F1E0FC" stroke-width="0.7"/>
<path d="M517.12 528.96L503.54 530.75A74.7 74.7 0 0 1 502.90 521.78L516.60 521.64A61 61 0 0 0 517.12 528.96Z" fill="#F3E3FD" stroke="#F3E3FD" stroke-width="0.7"/>
<path d="M516.60 521.64L502.90 521.78A74.7 74.7 0 0 1 503.35 512.80L516.97 514.31A61 61 0 0 0 516.60 521.64Z" fill="#F4E4FC" stroke="#F4E4FC" stroke-width="0.7"/>
<path d="M516.97 514.31L503.35 512.80A74.7 74.7 0 0 1 504.87 503.94L518.21 507.07A61 61 0 0 0 516.97 514.31Z" fill="#F5E5FC" stroke="#F5E5FC" stroke-width="0.7"/>
<path d="M518.21 507.07L504.87 503.94A74.7 74.7 0 0 1 507.45 495.33L520.32 500.04A61 61 0 0 0 518.21 507.07Z" fill="#F7E8FE" stroke="#F7E8FE" stroke-width="0.7"/>
<path d="M520.32 500.04L507.45 495.33A74.7 74.7 0 0 1 511.04 487.09L523.25 493.31A61 61 0 0 0 520.32 500.04Z" fill="#F8E9FE" stroke="#F8E9FE" stroke-width="0.7"/>
<path d="M523.25 493.31L511.04 487.09A74.7 74.7 0 0 1 515.60 479.34L526.97 486.98A61 61 0 0 0 523.25 493.31Z" fill="#F8E9FE" stroke="#F8E9FE" stroke-width="0.7"/>
<path d="M526.97 486.98L515.60 479.34A74.7 74.7 0 0 1 521.05 472.19L531.42 481.14A61 61 0 0 0 526.97 486.98Z" fill="#FBEBFF" stroke="#FBEBFF" stroke-width="0.7"/>
<path d="M531.42 481.14L521.05 472.19A74.7 74.7 0 0 1 527.33 465.75L536.55 475.88A61 61 0 0 0 531.42 481.14Z" fill="#FAEBFE" stroke="#FAEBFE" stroke-width="0.7"/>
<path d="M536.55 475.88L527.33 465.75A74.7 74.7 0 0 1 534.33 460.11L542.26 471.28A61 61 0 0 0 536.55 475.88Z" fill="#FCEDFF" stroke="#FCEDFF" stroke-width="0.7"/>
<path d="M542.26 471.28L534.33 460.11A74.7 74.7 0 0 1 541.96 455.35L548.49 467.39A61 61 0 0 0 542.26 471.28Z" fill="#FAEBFD" stroke="#FAEBFD" stroke-width="0.7"/>
<path d="M548.49 467.39L541.96 455.35A74.7 74.7 0 0 1 550.10 451.55L555.14 464.28A61 61 0 0 0 548.49 467.39Z" fill="#FCEEFF" stroke="#FCEEFF" stroke-width="0.7"/>
<path d="M555.14 464.28L550.10 451.55A74.7 74.7 0 0 1 558.64 448.75L562.12 462.00A61 61 0 0 0 555.14 464.28Z" fill="#FDEFFF" stroke="#FDEFFF" stroke-width="0.7"/>
<path d="M562.12 462.00L558.64 448.75A74.7 74.7 0 0 1 567.46 446.99L569.32 460.56A61 61 0 0 0 562.12 462.00Z" fill="#FEF0FF" stroke="#FEF0FF" stroke-width="0.7"/>
<path d="M569.32 460.56L567.46 446.99A74.7 74.7 0 0 1 576.43 446.31L576.64 460.01A61 61 0 0 0 569.32 460.56Z" fill="#E8D1F9" stroke="#E8D1F9" stroke-width="0.7"/>
<path d="M576.64 460.01L576.43 446.31A74.7 74.7 0 0 1 585.41 446.71L583.98 460.33A61 61 0 0 0 576.64 460.01Z" fill="#E8D1F9" stroke="#E8D1F9" stroke-width="0.7"/>
<path d="M583.98 460.33L585.41 446.71A74.7 74.7 0 0 1 594.28 448.19L591.22 461.54A61 61 0 0 0 583.98 460.33Z" fill="#EBD4FC" stroke="#EBD4FC" stroke-width="0.7"/>
<path d="M591.22 461.54L594.28 448.19A74.7 74.7 0 0 1 602.90 450.72L598.26 463.61A61 61 0 0 0 591.22 461.54Z" fill="#FAEBFC" stroke="#FAEBFC" stroke-width="0.7"/>
<path d="M598.26 463.61L602.90 450.72A74.7 74.7 0 0 1 611.16 454.27L605.01 466.50A61 61 0 0 0 598.26 463.61Z" fill="#FFF2FF" stroke="#FFF2FF" stroke-width="0.7"/>
<path d="M605.01 466.50L611.16 454.27A74.7 74.7 0 0 1 618.94 458.78L611.36 470.19A61 61 0 0 0 605.01 466.50Z" fill="#EBD4FC" stroke="#EBD4FC" stroke-width="0.7"/>
<path d="M611.36 470.19L618.94 458.78A74.7 74.7 0 0 1 626.11 464.20L617.22 474.62A61 61 0 0 0 611.36 470.19Z" fill="#E6CDF9" stroke="#E6CDF9" stroke-width="0.7"/>
<path d="M617.22 474.62L626.11 464.20A74.7 74.7 0 0 1 632.59 470.44L622.50 479.71A61 61 0 0 0 617.22 474.62Z" fill="#F2DFFB" stroke="#F2DFFB" stroke-width="0.7"/>
<path d="M622.50 479.71L632.59 470.44A74.7 74.7 0 0 1 638.26 477.41L627.14 485.40A61 61 0 0 0 622.50 479.71Z" fill="#F4DFFC" stroke="#F4DFFC" stroke-width="0.7"/>
<path d="M627.14 485.40L638.26 477.41A74.7 74.7 0 0 1 643.06 485.01L631.05 491.61A61 61 0 0 0 627.14 485.40Z" fill="#270FEF" stroke="#270FEF" stroke-width="0.7"/>
<path d="M631.05 491.61L643.06 485.01A74.7 74.7 0 0 1 646.91 493.14L634.20 498.25A61 61 0 0 0 631.05 491.61Z" fill="#260EEE" stroke="#260EEE" stroke-width="0.7"/>
<path d="M634.20 498.25L646.91 493.14A74.7 74.7 0 0 1 649.75 501.67L636.52 505.21A61 61 0 0 0 634.20 498.25Z" fill="#5537F2" stroke="#5537F2" stroke-width="0.7"/>
<text transform="translate(653.76 525.59) rotate(3.5)" font-size="5.5" text-anchor="start" dy="0.35em" fill="#222">Igfbp5</text>
<text transform="translate(652.66 534.71) rotate(10.4)" font-size="5.5" text-anchor="start" dy="0.35em" fill="#222">Eln</text>
<text transform="translate(650.47 543.63) rotate(17.2)" font-size="5.5" text-anchor="start" dy="0.35em" fill="#222">Rarres2</text>
<text transform="translate(647.22 552.22) rotate(24.2)" font-size="5.5" text-anchor="start" dy="0.35em" fill="#222">Col6</text>
<text transform="translate(642.97 560.35) rotate(31.1)" font-size="5.5" text-anchor="start" dy="0.35em" fill="#222">Apoe</text>
<text transform="translate(637.77 567.92) rotate(38.0)" font-size="5.5" text-anchor="start" dy="0.35em" fill="#222">Lyz2</text>
<text transform="translate(631.69 574.81) rotate(44.9)" font-size="5.5" text-anchor="start" dy="0.35em" fill="#222">Acta2</text>
<text transform="translate(624.84 580.92) rotate(51.8)" font-size="5.5" text-anchor="start" dy="0.35em" fill="#222">Unc45b</text>
<text transform="translate(617.30 586.16) rotate(58.7)" font-size="5.5" text-anchor="start" dy="0.35em" fill="#222">Lgals7</text>
<text transform="translate(609.18 590.46) rotate(65.5)" font-size="5.5" text-anchor="start" dy="0.35em" fill="#222">Wipf3</text>
<text transform="translate(600.61 593.75) rotate(72.5)" font-size="5.5" text-anchor="start" dy="0.35em" fill="#222">Carp2</text>
<text transform="translate(591.70 595.99) rotate(79.4)" font-size="5.5" text-anchor="start" dy="0.35em" fill="#222">Cdh11</text>
<text transform="translate(582.59 597.14) rotate(86.2)" font-size="5.5" text-anchor="start" dy="0.35em" fill="#222">Adam33</text>
<text transform="translate(573.41 597.18) rotate(273.1)" font-size="5.5" text-anchor="end" dy="0.35em" fill="#222">H2-K1</text>
<text transform="translate(564.29 596.13) rotate(280.1)" font-size="5.5" text-anchor="end" dy="0.35em" fill="#222">Klf2</text>
<text transform="translate(555.36 593.99) rotate(286.9)" font-size="5.5" text-anchor="end" dy="0.35em" fill="#222">Ptmn8</text>
<text transform="translate(546.75 590.78) rotate(293.9)" font-size="5.5" text-anchor="end" dy="0.35em" fill="#222">Col3a1</text>
<text transform="translate(538.59 586.57) rotate(300.8)" font-size="5.5" text-anchor="end" dy="0.35em" fill="#222">Muc16</text>
<text transform="translate(530.99 581.41) rotate(307.6)" font-size="5.5" text-anchor="end" dy="0.35em" fill="#222">H2-D1</text>
<text transform="translate(524.07 575.37) rotate(314.6)" font-size="5.5" text-anchor="end" dy="0.35em" fill="#222">Ramp8</text>
<text transform="translate(517.93 568.55) rotate(321.5)" font-size="5.5" text-anchor="end" dy="0.35em" fill="#222">Acaa2</text>
<text transform="translate(512.65 561.04) rotate(328.4)" font-size="5.5" text-anchor="end" dy="0.35em" fill="#222">Rhou</text>
<text transform="translate(508.31 552.94) rotate(335.2)" font-size="5.5" text-anchor="end" dy="0.35em" fill="#222">Ucp2</text>
<text transform="translate(504.97 544.39) rotate(342.1)" font-size="5.5" text-anchor="end" dy="0.35em" fill="#222">Cd44</text>
<text transform="translate(502.69 535.49) rotate(349.1)" font-size="5.5" text-anchor="end" dy="0.35em" fill="#222">Rbp1</text>
<text transform="translate(501.49 526.39) rotate(356.0)" font-size="5.5" text-anchor="end" dy="0.35em" fill="#222">Ptprd</text>
<text transform="translate(501.39 517.21) rotate(362.9)" font-size="5.5" text-anchor="end" dy="0.35em" fill="#222">Aldh1a2</text>
<text transform="translate(502.40 508.08) rotate(369.8)" font-size="5.5" text-anchor="end" dy="0.35em" fill="#222">Plce1</text>
<text transform="translate(504.50 499.14) rotate(376.6)" font-size="5.5" text-anchor="end" dy="0.35em" fill="#222">Arhgef12</text>
<text transform="translate(507.65 490.51) rotate(383.6)" font-size="5.5" text-anchor="end" dy="0.35em" fill="#222">Emp2</text>
<text transform="translate(511.82 482.33) rotate(390.5)" font-size="5.5" text-anchor="end" dy="0.35em" fill="#222">Nfix</text>
<text transform="translate(516.95 474.71) rotate(397.4)" font-size="5.5" text-anchor="end" dy="0.35em" fill="#222">Igp</text>
<text transform="translate(522.95 467.76) rotate(404.2)" font-size="5.5" text-anchor="end" dy="0.35em" fill="#222">Ifi5</text>
<text transform="translate(529.74 461.58) rotate(411.1)" font-size="5.5" text-anchor="end" dy="0.35em" fill="#222">Fbln1</text>
<text transform="translate(537.22 456.26) rotate(418.1)" font-size="5.5" text-anchor="end" dy="0.35em" fill="#222">Fbln2</text>
<text transform="translate(545.29 451.88) rotate(425.0)" font-size="5.5" text-anchor="end" dy="0.35em" fill="#222">Lgals1</text>
<text transform="translate(553.83 448.50) rotate(431.9)" font-size="5.5" text-anchor="end" dy="0.35em" fill="#222">Slc39a10</text>
<text transform="translate(562.71 446.17) rotate(438.8)" font-size="5.5" text-anchor="end" dy="0.35em" fill="#222">S100a16</text>
<text transform="translate(571.81 444.92) rotate(445.7)" font-size="5.5" text-anchor="end" dy="0.35em" fill="#222">Spon2</text>
<text transform="translate(580.99 444.78) rotate(272.6)" font-size="5.5" text-anchor="start" dy="0.35em" fill="#222">Zfp704</text>
<text transform="translate(590.13 445.74) rotate(279.4)" font-size="5.5" text-anchor="start" dy="0.35em" fill="#222">Ccnd4</text>
<text transform="translate(599.08 447.79) rotate(286.4)" font-size="5.5" text-anchor="start" dy="0.35em" fill="#222">Col8a2</text>
<text transform="translate(607.72 450.90) rotate(293.2)" font-size="5.5" text-anchor="start" dy="0.35em" fill="#222">Fn1</text>
<text transform="translate(615.92 455.02) rotate(300.2)" font-size="5.5" text-anchor="start" dy="0.35em" fill="#222">Ccdc80</text>
<text transform="translate(623.57 460.10) rotate(307.1)" font-size="5.5" text-anchor="start" dy="0.35em" fill="#222">Cd74</text>
<text transform="translate(630.55 466.07) rotate(313.9)" font-size="5.5" text-anchor="start" dy="0.35em" fill="#222">Tppp3</text>
<text transform="translate(636.77 472.83) rotate(320.9)" font-size="5.5" text-anchor="start" dy="0.35em" fill="#222">Saa3</text>
<text transform="translate(642.13 480.29) rotate(327.8)" font-size="5.5" text-anchor="start" dy="0.35em" fill="#222">C1qb</text>
<text transform="translate(646.55 488.33) rotate(334.7)" font-size="5.5" text-anchor="start" dy="0.35em" fill="#222">C1qa</text>
<text transform="translate(649.98 496.85) rotate(341.6)" font-size="5.5" text-anchor="start" dy="0.35em" fill="#222">Wfdc17</text>
<text transform="translate(623.34 514.49) rotate(73.9)" font-size="5.7" text-anchor="middle" dy="0.35em" fill="#222">Lav</text>
<text transform="translate(636.87 513.09) rotate(74.4)" font-size="5.7" text-anchor="middle" dy="0.35em" fill="#222">CTC</text>
<text transform="translate(648.84 508.69) rotate(72.2)" font-size="5.7" text-anchor="middle" dy="0.35em" fill="#222">CC</text>
<circle cx="577.6" cy="521" r="33.7" fill="#fff"/>
<path d="M599.63 544.62A32.3 32.3 0 1 1 597.93 495.90" fill="none" stroke="#111" stroke-width="1.0"/>
<path d="M588.20 550.13A31 31 0 1 1 588.20 491.87" fill="none" stroke="#111" stroke-width="0.5"/>
<path d="M560.39 545.57A30 30 0 0 1 564.45 494.04" fill="none" stroke="#111" stroke-width="0.7"/>
<path d="M557.53 540.38A27.9 27.9 0 1 1 601.76 507.05" fill="none" stroke="#111" stroke-width="0.6"/>
<path d="M595.56 538.96A25.4 25.4 0 0 1 559.33 538.64" fill="none" stroke="#111" stroke-width="0.6"/>
<path d="M591.95 538.72A22.8 22.8 0 1 1 598.59 512.09" fill="none" stroke="#111" stroke-width="0.6"/>
<path d="M596.86 497.22A30.6 30.6 0 0 1 602.67 503.45" fill="none" stroke="#111" stroke-width="0.6"/>
<path d="M604.97 505.20A31.6 31.6 0 0 1 607.82 511.76" fill="none" stroke="#111" stroke-width="0.5"/>
<path d="M601.85 504.02A29.6 29.6 0 0 1 604.85 509.43" fill="none" stroke="#111" stroke-width="0.5"/>
<path d="M608.89 525.40A31.6 31.6 0 0 1 604.97 536.80" fill="none" stroke="#111" stroke-width="0.5"/>
<path d="M605.75 530.15A29.6 29.6 0 0 1 600.27 540.03" fill="none" stroke="#111" stroke-width="0.5"/>
<path d="M602.02 535.10A28.2 28.2 0 0 1 596.83 541.62" fill="none" stroke="#111" stroke-width="0.5"/>
<path d="M559.33 538.64L557.53 540.38" stroke="#111" stroke-width="0.5"/>
<path d="M565.37 495.92L564.45 494.04" stroke="#111" stroke-width="0.5"/>
<path d="M598.59 512.09L604.85 509.43" stroke="#111" stroke-width="0.5"/>
<path d="M591.95 538.72L595.35 542.92" stroke="#111" stroke-width="0.5"/>
<path d="M600.45 505.00L602.67 503.45" stroke="#111" stroke-width="0.5"/>
<path d="M604.97 505.20L606.70 504.20" stroke="#111" stroke-width="0.5"/>
<path d="M606.47 508.15L608.30 507.33" stroke="#111" stroke-width="0.5"/>
<path d="M607.82 511.76L609.73 511.18" stroke="#111" stroke-width="0.5"/>
<path d="M603.97 507.56L605.76 506.65" stroke="#111" stroke-width="0.5"/>
<path d="M608.89 525.40L610.87 525.68" stroke="#111" stroke-width="0.5"/>
<path d="M608.26 528.64L610.20 529.13" stroke="#111" stroke-width="0.5"/>
<path d="M606.90 532.84L608.75 533.59" stroke="#111" stroke-width="0.5"/>
<path d="M604.97 536.80L606.70 537.80" stroke="#111" stroke-width="0.5"/>
<path d="M605.75 530.15L607.65 530.76" stroke="#111" stroke-width="0.5"/>
<path d="M599.20 539.13L600.27 540.03" stroke="#111" stroke-width="0.5"/>
<path d="M594.92 539.58L599.63 544.62" stroke="#111" stroke-width="0.5"/>
<path d="M596.86 497.22L598.49 495.20" stroke="#111" stroke-width="0.5"/>
<path d="M597.87 545.50L599.08 546.96" stroke="#111" stroke-width="0.55"/>
<path d="M594.45 547.97L595.46 549.58" stroke="#111" stroke-width="0.55"/>
<path d="M589.71 550.41L590.43 552.16" stroke="#111" stroke-width="0.55"/>
<path d="M586.79 551.44L587.34 553.26" stroke="#111" stroke-width="0.55"/>
<path d="M583.10 552.32L583.43 554.19" stroke="#111" stroke-width="0.55"/>
<path d="M578.23 552.79L578.27 554.69" stroke="#111" stroke-width="0.55"/>
<path d="M575.23 552.71L575.09 554.61" stroke="#111" stroke-width="0.55"/>
<path d="M570.46 551.99L570.03 553.84" stroke="#111" stroke-width="0.55"/>
<path d="M567.48 551.15L566.88 552.95" stroke="#111" stroke-width="0.55"/>
<path d="M563.54 549.52L562.70 551.23" stroke="#111" stroke-width="0.55"/>
<path d="M561.55 548.45L560.59 550.10" stroke="#111" stroke-width="0.55"/>
<path d="M557.42 545.58L556.21 547.04" stroke="#111" stroke-width="0.55"/>
<path d="M554.33 542.67L552.94 543.97" stroke="#111" stroke-width="0.55"/>
<path d="M552.82 540.93L551.34 542.13" stroke="#111" stroke-width="0.55"/>
<path d="M549.60 536.07L547.92 536.97" stroke="#111" stroke-width="0.55"/>
<path d="M548.63 534.12L546.90 534.90" stroke="#111" stroke-width="0.55"/>
<path d="M547.05 529.83L545.22 530.35" stroke="#111" stroke-width="0.55"/>
<path d="M546.31 526.70L544.45 527.04" stroke="#111" stroke-width="0.55"/>
<path d="M545.82 522.12L543.92 522.19" stroke="#111" stroke-width="0.55"/>
<path d="M545.94 517.98L544.05 517.80" stroke="#111" stroke-width="0.55"/>
<path d="M546.31 515.35L544.44 515.01" stroke="#111" stroke-width="0.55"/>
<path d="M547.87 509.72L546.09 509.04" stroke="#111" stroke-width="0.55"/>
<path d="M548.94 507.22L547.23 506.39" stroke="#111" stroke-width="0.55"/>
<path d="M550.96 503.63L549.37 502.59" stroke="#111" stroke-width="0.55"/>
<path d="M553.38 500.39L551.93 499.16" stroke="#111" stroke-width="0.55"/>
<path d="M555.70 497.95L554.39 496.57" stroke="#111" stroke-width="0.55"/>
<path d="M558.53 495.56L557.39 494.04" stroke="#111" stroke-width="0.55"/>
<path d="M562.49 493.02L561.58 491.35" stroke="#111" stroke-width="0.55"/>
<path d="M565.81 491.47L565.11 489.70" stroke="#111" stroke-width="0.55"/>
<path d="M568.91 490.41L568.39 488.58" stroke="#111" stroke-width="0.55"/>
<path d="M573.65 489.45L573.42 487.56" stroke="#111" stroke-width="0.55"/>
<path d="M576.59 489.22L576.53 487.32" stroke="#111" stroke-width="0.55"/>
<path d="M579.85 489.28L579.98 487.38" stroke="#111" stroke-width="0.55"/>
<path d="M584.20 489.89L584.60 488.03" stroke="#111" stroke-width="0.55"/>
<path d="M587.52 490.79L588.11 488.98" stroke="#111" stroke-width="0.55"/>
<path d="M591.35 492.33L592.18 490.61" stroke="#111" stroke-width="0.55"/>
<path d="M595.85 494.96L596.94 493.40" stroke="#111" stroke-width="0.55"/>
<defs><linearGradient id="lg5689" x1="0" y1="0" x2="0" y2="1"><stop offset="0" stop-color="#FF0000"/><stop offset="0.12" stop-color="#FF0000"/><stop offset="0.5" stop-color="#FFFFFF"/><stop offset="0.88" stop-color="#0000FF"/><stop offset="1" stop-color="#0000FF"/></linearGradient></defs><rect x="568.9" y="509" width="6.7" height="31.8" fill="url(#lg5689)"/><text x="576.9" y="513" font-size="5.5" font-weight="normal" fill="#111" text-anchor="start" >20</text><path d="M568.9 511h1M575.6 511h-1" stroke="#fff" stroke-width="0.4"/><text x="576.9" y="520.1" font-size="5.5" font-weight="normal" fill="#111" text-anchor="start" >10</text><path d="M568.9 518.1h1M575.6 518.1h-1" stroke="#fff" stroke-width="0.4"/><text x="576.9" y="527.1" font-size="5.5" font-weight="normal" fill="#111" text-anchor="start" >0</text><path d="M568.9 525.1h1M575.6 525.1h-1" stroke="#fff" stroke-width="0.4"/><text x="576.9" y="534" font-size="5.5" font-weight="normal" fill="#111" text-anchor="start" >−10</text><path d="M568.9 532h1M575.6 532h-1" stroke="#fff" stroke-width="0.4"/><text x="576.9" y="541.6" font-size="5.5" font-weight="normal" fill="#111" text-anchor="start" >−20</text><path d="M568.9 539.6h1M575.6 539.6h-1" stroke="#fff" stroke-width="0.4"/><text x="569.2" y="506.3" font-size="5.7" font-weight="bold" fill="#000" text-anchor="start" >mat1</text>
<text x="2.6" y="660.4" font-size="25" font-weight="bold" fill="#000" text-anchor="start" textLength="15.3" lengthAdjust="spacingAndGlyphs">C</text>
<rect x="53.5" y="634.4" width="10.2" height="10.2" fill="#0000FF"/>
<rect x="63.6" y="634.4" width="10.2" height="10.2" fill="#8080FF"/>
<rect x="73.8" y="634.4" width="10.2" height="10.2" fill="#0000FF"/>
<rect x="83.9" y="634.4" width="10.2" height="10.2" fill="#4040FF"/>
<rect x="94" y="634.4" width="10.2" height="10.2" fill="#4040FF"/>
<rect x="104.1" y="634.4" width="10.2" height="10.2" fill="#4040FF"/>
<rect x="114.2" y="634.4" width="10.2" height="10.2" fill="#4040FF"/>
<rect x="124.4" y="634.4" width="10.2" height="10.2" fill="#0000FF"/>
<rect x="134.5" y="634.4" width="10.2" height="10.2" fill="#4040FF"/>
<rect x="144.6" y="634.4" width="10.2" height="10.2" fill="#4040FF"/>
<rect x="154.8" y="634.4" width="10.2" height="10.2" fill="#4040FF"/>
<rect x="164.9" y="634.4" width="10.2" height="10.2" fill="#BFBFFF"/>
<rect x="175" y="634.4" width="10.2" height="10.2" fill="#4040FF"/>
<rect x="185.1" y="634.4" width="10.2" height="10.2" fill="#FFFFFF"/>
<rect x="195.2" y="634.4" width="10.2" height="10.2" fill="#0000FF"/>
<rect x="205.4" y="634.4" width="10.2" height="10.2" fill="#BFBFFF"/>
<rect x="215.5" y="634.4" width="10.2" height="10.2" fill="#BFBFFF"/>
<rect x="225.6" y="634.4" width="10.2" height="10.2" fill="#FF8080"/>
<rect x="235.8" y="634.4" width="10.2" height="10.2" fill="#FFDFDF"/>
<rect x="245.9" y="634.4" width="10.2" height="10.2" fill="#0000FF"/>
<rect x="256" y="634.4" width="10.2" height="10.2" fill="#0000FF"/>
<rect x="266.1" y="634.4" width="10.2" height="10.2" fill="#4040FF"/>
<rect x="276.2" y="634.4" width="10.2" height="10.2" fill="#0000FF"/>
<rect x="286.4" y="634.4" width="10.2" height="10.2" fill="#8080FF"/>
<rect x="296.5" y="634.4" width="10.2" height="10.2" fill="#0000FF"/>
<rect x="306.6" y="634.4" width="10.2" height="10.2" fill="#0000FF"/>
<rect x="316.8" y="634.4" width="10.2" height="10.2" fill="#4040FF"/>
<rect x="326.9" y="634.4" width="10.2" height="10.2" fill="#D2D2FF"/>
<rect x="337" y="634.4" width="10.2" height="10.2" fill="#0000FF"/>
<rect x="347.1" y="634.4" width="10.2" height="10.2" fill="#0000FF"/>
<rect x="357.2" y="634.4" width="10.2" height="10.2" fill="#E6E6FF"/>
<rect x="367.4" y="634.4" width="10.2" height="10.2" fill="#BFBFFF"/>
<rect x="377.5" y="634.4" width="10.2" height="10.2" fill="#FFFFFF"/>
<rect x="387.6" y="634.4" width="10.2" height="10.2" fill="#8080FF"/>
<rect x="397.8" y="634.4" width="10.2" height="10.2" fill="#FFBFBF"/>
<rect x="407.9" y="634.4" width="10.2" height="10.2" fill="#BFBFFF"/>
<rect x="418" y="634.4" width="10.2" height="10.2" fill="#FFE6E6"/>
<rect x="428.1" y="634.4" width="10.2" height="10.2" fill="#FFBFBF"/>
<rect x="438.2" y="634.4" width="10.2" height="10.2" fill="#FFFFFF"/>
<rect x="448.4" y="634.4" width="10.2" height="10.2" fill="#BFBFFF"/>
<rect x="458.5" y="634.4" width="10.2" height="10.2" fill="#BFBFFF"/>
<rect x="468.6" y="634.4" width="10.2" height="10.2" fill="#BFBFFF"/>
<rect x="478.8" y="634.4" width="10.2" height="10.2" fill="#BFBFFF"/>
<rect x="488.9" y="634.4" width="10.2" height="10.2" fill="#FFBFBF"/>
<rect x="499" y="634.4" width="10.2" height="10.2" fill="#FFFFFF"/>
<rect x="509.1" y="634.4" width="10.2" height="10.2" fill="#BFBFFF"/>
<rect x="519.2" y="634.4" width="10.2" height="10.2" fill="#FFFFFF"/>
<rect x="529.4" y="634.4" width="10.2" height="10.2" fill="#D9D9FF"/>
<rect x="539.5" y="634.4" width="10.2" height="10.2" fill="#BFBFFF"/>
<rect x="549.6" y="634.4" width="10.2" height="10.2" fill="#8080FF"/>
<rect x="559.8" y="634.4" width="10.2" height="10.2" fill="#0000FF"/>
<rect x="569.9" y="634.4" width="10.2" height="10.2" fill="#0000FF"/>
<rect x="580" y="634.4" width="10.2" height="10.2" fill="#6060FF"/>
<rect x="590.1" y="634.4" width="10.2" height="10.2" fill="#0000FF"/>
<rect x="600.2" y="634.4" width="10.2" height="10.2" fill="#0000FF"/>
<rect x="610.4" y="634.4" width="10.2" height="10.2" fill="#0000FF"/>
<rect x="620.5" y="634.4" width="10.2" height="10.2" fill="#BFBFFF"/>
<rect x="630.6" y="634.4" width="10.2" height="10.2" fill="#0000FF"/>
<rect x="640.8" y="634.4" width="10.2" height="10.2" fill="#8080FF"/>
<rect x="650.9" y="634.4" width="10.2" height="10.2" fill="#0000FF"/>
<rect x="53.5" y="644.5" width="10.2" height="10.2" fill="#4040FF"/>
<rect x="63.6" y="644.5" width="10.2" height="10.2" fill="#4040FF"/>
<rect x="73.8" y="644.5" width="10.2" height="10.2" fill="#0000FF"/>
<rect x="83.9" y="644.5" width="10.2" height="10.2" fill="#0000FF"/>
<rect x="94" y="644.5" width="10.2" height="10.2" fill="#0000FF"/>
<rect x="104.1" y="644.5" width="10.2" height="10.2" fill="#0000FF"/>
<rect x="114.2" y="644.5" width="10.2" height="10.2" fill="#4040FF"/>
<rect x="124.4" y="644.5" width="10.2" height="10.2" fill="#0000FF"/>
<rect x="134.5" y="644.5" width="10.2" height="10.2" fill="#0000FF"/>
<rect x="144.6" y="644.5" width="10.2" height="10.2" fill="#0000FF"/>
<rect x="154.8" y="644.5" width="10.2" height="10.2" fill="#4040FF"/>
<rect x="164.9" y="644.5" width="10.2" height="10.2" fill="#BFBFFF"/>
<rect x="175" y="644.5" width="10.2" height="10.2" fill="#4040FF"/>
<rect x="185.1" y="644.5" width="10.2" height="10.2" fill="#FFD9D9"/>
<rect x="195.2" y="644.5" width="10.2" height="10.2" fill="#BFBFFF"/>
<rect x="205.4" y="644.5" width="10.2" height="10.2" fill="#8080FF"/>
<rect x="215.5" y="644.5" width="10.2" height="10.2" fill="#FFE6E6"/>
<rect x="225.6" y="644.5" width="10.2" height="10.2" fill="#FF8080"/>
<rect x="235.8" y="644.5" width="10.2" height="10.2" fill="#FFBFBF"/>
<rect x="245.9" y="644.5" width="10.2" height="10.2" fill="#4040FF"/>
<rect x="256" y="644.5" width="10.2" height="10.2" fill="#0000FF"/>
<rect x="266.1" y="644.5" width="10.2" height="10.2" fill="#4040FF"/>
<rect x="276.2" y="644.5" width="10.2" height="10.2" fill="#4040FF"/>
<rect x="286.4" y="644.5" width="10.2" height="10.2" fill="#4040FF"/>
<rect x="296.5" y="644.5" width="10.2" height="10.2" fill="#0000FF"/>
<rect x="306.6" y="644.5" width="10.2" height="10.2" fill="#0000FF"/>
<rect x="316.8" y="644.5" width="10.2" height="10.2" fill="#0000FF"/>
<rect x="326.9" y="644.5" width="10.2" height="10.2" fill="#BFBFFF"/>
<rect x="337" y="644.5" width="10.2" height="10.2" fill="#0000FF"/>
<rect x="347.1" y="644.5" width="10.2" height="10.2" fill="#0000FF"/>
<rect x="357.2" y="644.5" width="10.2" height="10.2" fill="#FF0000"/>
<rect x="367.4" y="644.5" width="10.2" height="10.2" fill="#FF0000"/>
<rect x="377.5" y="644.5" width="10.2" height="10.2" fill="#FF0000"/>
<rect x="387.6" y="644.5" width="10.2" height="10.2" fill="#FF0000"/>
<rect x="397.8" y="644.5" width="10.2" height="10.2" fill="#FF0000"/>
<rect x="407.9" y="644.5" width="10.2" height="10.2" fill="#FF0000"/>
<rect x="418" y="644.5" width="10.2" height="10.2" fill="#FF0000"/>
<rect x="428.1" y="644.5" width="10.2" height="10.2" fill="#FF0000"/>
<rect x="438.2" y="644.5" width="10.2" height="10.2" fill="#FF0000"/>
<rect x="448.4" y="644.5" width="10.2" height="10.2" fill="#FF0000"/>
<rect x="458.5" y="644.5" width="10.2" height="10.2" fill="#FF0000"/>
<rect x="468.6" y="644.5" width="10.2" height="10.2" fill="#FF0000"/>
<rect x="478.8" y="644.5" width="10.2" height="10.2" fill="#FF0000"/>
<rect x="488.9" y="644.5" width="10.2" height="10.2" fill="#FF0000"/>
<rect x="499" y="644.5" width="10.2" height="10.2" fill="#FF0000"/>
<rect x="509.1" y="644.5" width="10.2" height="10.2" fill="#FF0000"/>
<rect x="519.2" y="644.5" width="10.2" height="10.2" fill="#FF0000"/>
<rect x="529.4" y="644.5" width="10.2" height="10.2" fill="#FF0000"/>
<rect x="539.5" y="644.5" width="10.2" height="10.2" fill="#FF0000"/>
<rect x="549.6" y="644.5" width="10.2" height="10.2" fill="#FF0000"/>
<rect x="559.8" y="644.5" width="10.2" height="10.2" fill="#0000FF"/>
<rect x="569.9" y="644.5" width="10.2" height="10.2" fill="#FF4040"/>
<rect x="580" y="644.5" width="10.2" height="10.2" fill="#0000FF"/>
<rect x="590.1" y="644.5" width="10.2" height="10.2" fill="#FFD9D9"/>
<rect x="600.2" y="644.5" width="10.2" height="10.2" fill="#BFBFFF"/>
<rect x="610.4" y="644.5" width="10.2" height="10.2" fill="#4040FF"/>
<rect x="620.5" y="644.5" width="10.2" height="10.2" fill="#FF0000"/>
<rect x="630.6" y="644.5" width="10.2" height="10.2" fill="#8080FF"/>
<rect x="640.8" y="644.5" width="10.2" height="10.2" fill="#FF0000"/>
<rect x="650.9" y="644.5" width="10.2" height="10.2" fill="#FF8080"/>
<rect x="53.5" y="654.7" width="10.2" height="10.2" fill="#0000FF"/>
<rect x="63.6" y="654.7" width="10.2" height="10.2" fill="#0000FF"/>
<rect x="73.8" y="654.7" width="10.2" height="10.2" fill="#4040FF"/>
<rect x="83.9" y="654.7" width="10.2" height="10.2" fill="#4040FF"/>
<rect x="94" y="654.7" width="10.2" height="10.2" fill="#0000FF"/>
<rect x="104.1" y="654.7" width="10.2" height="10.2" fill="#0000FF"/>
<rect x="114.2" y="654.7" width="10.2" height="10.2" fill="#4040FF"/>
<rect x="124.4" y="654.7" width="10.2" height="10.2" fill="#4040FF"/>
<rect x="134.5" y="654.7" width="10.2" height="10.2" fill="#0000FF"/>
<rect x="144.6" y="654.7" width="10.2" height="10.2" fill="#0000FF"/>
<rect x="154.8" y="654.7" width="10.2" height="10.2" fill="#4040FF"/>
<rect x="164.9" y="654.7" width="10.2" height="10.2" fill="#4040FF"/>
<rect x="175" y="654.7" width="10.2" height="10.2" fill="#0000FF"/>
<rect x="185.1" y="654.7" width="10.2" height="10.2" fill="#FFFFFF"/>
<rect x="195.2" y="654.7" width="10.2" height="10.2" fill="#8080FF"/>
<rect x="205.4" y="654.7" width="10.2" height="10.2" fill="#8080FF"/>
<rect x="215.5" y="654.7" width="10.2" height="10.2" fill="#8080FF"/>
<rect x="225.6" y="654.7" width="10.2" height="10.2" fill="#FFBFBF"/>
<rect x="235.8" y="654.7" width="10.2" height="10.2" fill="#FFFFFF"/>
<rect x="245.9" y="654.7" width="10.2" height="10.2" fill="#0000FF"/>
<rect x="256" y="654.7" width="10.2" height="10.2" fill="#4040FF"/>
<rect x="266.1" y="654.7" width="10.2" height="10.2" fill="#8080FF"/>
<rect x="276.2" y="654.7" width="10.2" height="10.2" fill="#4040FF"/>
<rect x="286.4" y="654.7" width="10.2" height="10.2" fill="#4040FF"/>
<rect x="296.5" y="654.7" width="10.2" height="10.2" fill="#0000FF"/>
<rect x="306.6" y="654.7" width="10.2" height="10.2" fill="#0000FF"/>
<rect x="316.8" y="654.7" width="10.2" height="10.2" fill="#0000FF"/>
<rect x="326.9" y="654.7" width="10.2" height="10.2" fill="#8080FF"/>
<rect x="337" y="654.7" width="10.2" height="10.2" fill="#0000FF"/>
<rect x="347.1" y="654.7" width="10.2" height="10.2" fill="#0000FF"/>
<rect x="357.2" y="654.7" width="10.2" height="10.2" fill="#8080FF"/>
<rect x="367.4" y="654.7" width="10.2" height="10.2" fill="#4040FF"/>
<rect x="377.5" y="654.7" width="10.2" height="10.2" fill="#8080FF"/>
<rect x="387.6" y="654.7" width="10.2" height="10.2" fill="#4040FF"/>
<rect x="397.8" y="654.7" width="10.2" height="10.2" fill="#8080FF"/>
<rect x="407.9" y="654.7" width="10.2" height="10.2" fill="#0000FF"/>
<rect x="418" y="654.7" width="10.2" height="10.2" fill="#8080FF"/>
<rect x="428.1" y="654.7" width="10.2" height="10.2" fill="#8080FF"/>
<rect x="438.2" y="654.7" width="10.2" height="10.2" fill="#8080FF"/>
<rect x="448.4" y="654.7" width="10.2" height="10.2" fill="#8080FF"/>
<rect x="458.5" y="654.7" width="10.2" height="10.2" fill="#0000FF"/>
<rect x="468.6" y="654.7" width="10.2" height="10.2" fill="#BFBFFF"/>
<rect x="478.8" y="654.7" width="10.2" height="10.2" fill="#BFBFFF"/>
<rect x="488.9" y="654.7" width="10.2" height="10.2" fill="#4040FF"/>
<rect x="499" y="654.7" width="10.2" height="10.2" fill="#8080FF"/>
<rect x="509.1" y="654.7" width="10.2" height="10.2" fill="#6060FF"/>
<rect x="519.2" y="654.7" width="10.2" height="10.2" fill="#8080FF"/>
<rect x="529.4" y="654.7" width="10.2" height="10.2" fill="#8080FF"/>
<rect x="539.5" y="654.7" width="10.2" height="10.2" fill="#4040FF"/>
<rect x="549.6" y="654.7" width="10.2" height="10.2" fill="#4040FF"/>
<rect x="559.8" y="654.7" width="10.2" height="10.2" fill="#2020FF"/>
<rect x="569.9" y="654.7" width="10.2" height="10.2" fill="#FFBFBF"/>
<rect x="580" y="654.7" width="10.2" height="10.2" fill="#0000FF"/>
<rect x="590.1" y="654.7" width="10.2" height="10.2" fill="#FFBFBF"/>
<rect x="600.2" y="654.7" width="10.2" height="10.2" fill="#D9D9FF"/>
<rect x="610.4" y="654.7" width="10.2" height="10.2" fill="#4040FF"/>
<rect x="620.5" y="654.7" width="10.2" height="10.2" fill="#FF4040"/>
<rect x="630.6" y="654.7" width="10.2" height="10.2" fill="#8080FF"/>
<rect x="640.8" y="654.7" width="10.2" height="10.2" fill="#4040FF"/>
<rect x="650.9" y="654.7" width="10.2" height="10.2" fill="#FFDFDF"/>
<rect x="53.5" y="664.9" width="10.2" height="10.2" fill="#FFD9D9"/>
<rect x="63.6" y="664.9" width="10.2" height="10.2" fill="#8080FF"/>
<rect x="73.8" y="664.9" width="10.2" height="10.2" fill="#FF0000"/>
<rect x="83.9" y="664.9" width="10.2" height="10.2" fill="#FFBFBF"/>
<rect x="94" y="664.9" width="10.2" height="10.2" fill="#FF0000"/>
<rect x="104.1" y="664.9" width="10.2" height="10.2" fill="#FFFFFF"/>
<rect x="114.2" y="664.9" width="10.2" height="10.2" fill="#FFCCCC"/>
<rect x="124.4" y="664.9" width="10.2" height="10.2" fill="#FFFFFF"/>
<rect x="134.5" y="664.9" width="10.2" height="10.2" fill="#FF2020"/>
<rect x="144.6" y="664.9" width="10.2" height="10.2" fill="#FFBFBF"/>
<rect x="154.8" y="664.9" width="10.2" height="10.2" fill="#0000FF"/>
<rect x="164.9" y="664.9" width="10.2" height="10.2" fill="#4040FF"/>
<rect x="175" y="664.9" width="10.2" height="10.2" fill="#0000FF"/>
<rect x="185.1" y="664.9" width="10.2" height="10.2" fill="#0000FF"/>
<rect x="195.2" y="664.9" width="10.2" height="10.2" fill="#BFBFFF"/>
<rect x="205.4" y="664.9" width="10.2" height="10.2" fill="#0000FF"/>
<rect x="215.5" y="664.9" width="10.2" height="10.2" fill="#4040FF"/>
<rect x="225.6" y="664.9" width="10.2" height="10.2" fill="#0000FF"/>
<rect x="235.8" y="664.9" width="10.2" height="10.2" fill="#4040FF"/>
<rect x="245.9" y="664.9" width="10.2" height="10.2" fill="#FFFFFF"/>
<rect x="256" y="664.9" width="10.2" height="10.2" fill="#FF0000"/>
<rect x="266.1" y="664.9" width="10.2" height="10.2" fill="#FF0000"/>
<rect x="276.2" y="664.9" width="10.2" height="10.2" fill="#FF0000"/>
<rect x="286.4" y="664.9" width="10.2" height="10.2" fill="#FF0000"/>
<rect x="296.5" y="664.9" width="10.2" height="10.2" fill="#FF0000"/>
<rect x="306.6" y="664.9" width="10.2" height="10.2" fill="#FF0000"/>
<rect x="316.8" y="664.9" width="10.2" height="10.2" fill="#FF0000"/>
<rect x="326.9" y="664.9" width="10.2" height="10.2" fill="#FF0000"/>
<rect x="337" y="664.9" width="10.2" height="10.2" fill="#FF0000"/>
<rect x="347.1" y="664.9" width="10.2" height="10.2" fill="#FF0000"/>
<rect x="357.2" y="664.9" width="10.2" height="10.2" fill="#FFBFBF"/>
<rect x="367.4" y="664.9" width="10.2" height="10.2" fill="#FFFFFF"/>
<rect x="377.5" y="664.9" width="10.2" height="10.2" fill="#FFBFBF"/>
<rect x="387.6" y="664.9" width="10.2" height="10.2" fill="#FFBFBF"/>
<rect x="397.8" y="664.9" width="10.2" height="10.2" fill="#FFBFBF"/>
<rect x="407.9" y="664.9" width="10.2" height="10.2" fill="#BFBFFF"/>
<rect x="418" y="664.9" width="10.2" height="10.2" fill="#FFBFBF"/>
<rect x="428.1" y="664.9" width="10.2" height="10.2" fill="#FFBFBF"/>
<rect x="438.2" y="664.9" width="10.2" height="10.2" fill="#8080FF"/>
<rect x="448.4" y="664.9" width="10.2" height="10.2" fill="#FFFFFF"/>
<rect x="458.5" y="664.9" width="10.2" height="10.2" fill="#BFBFFF"/>
<rect x="468.6" y="664.9" width="10.2" height="10.2" fill="#FFBFBF"/>
<rect x="478.8" y="664.9" width="10.2" height="10.2" fill="#FFBFBF"/>
<rect x="488.9" y="664.9" width="10.2" height="10.2" fill="#FFE6E6"/>
<rect x="499" y="664.9" width="10.2" height="10.2" fill="#FFBFBF"/>
<rect x="509.1" y="664.9" width="10.2" height="10.2" fill="#FFFFFF"/>
<rect x="519.2" y="664.9" width="10.2" height="10.2" fill="#8080FF"/>
<rect x="529.4" y="664.9" width="10.2" height="10.2" fill="#FFBFBF"/>
<rect x="539.5" y="664.9" width="10.2" height="10.2" fill="#FFFFFF"/>
<rect x="549.6" y="664.9" width="10.2" height="10.2" fill="#FFCCCC"/>
<rect x="559.8" y="664.9" width="10.2" height="10.2" fill="#FF0000"/>
<rect x="569.9" y="664.9" width="10.2" height="10.2" fill="#FFA6A6"/>
<rect x="580" y="664.9" width="10.2" height="10.2" fill="#FFBFBF"/>
<rect x="590.1" y="664.9" width="10.2" height="10.2" fill="#FF8080"/>
<rect x="600.2" y="664.9" width="10.2" height="10.2" fill="#6060FF"/>
<rect x="610.4" y="664.9" width="10.2" height="10.2" fill="#FF0000"/>
<rect x="620.5" y="664.9" width="10.2" height="10.2" fill="#FF0000"/>
<rect x="630.6" y="664.9" width="10.2" height="10.2" fill="#FF2020"/>
<rect x="640.8" y="664.9" width="10.2" height="10.2" fill="#FFCCCC"/>
<rect x="650.9" y="664.9" width="10.2" height="10.2" fill="#FFBFBF"/>
<rect x="53.5" y="675" width="10.2" height="10.2" fill="#8080FF"/>
<rect x="63.6" y="675" width="10.2" height="10.2" fill="#BFBFFF"/>
<rect x="73.8" y="675" width="10.2" height="10.2" fill="#4040FF"/>
<rect x="83.9" y="675" width="10.2" height="10.2" fill="#BFBFFF"/>
<rect x="94" y="675" width="10.2" height="10.2" fill="#4040FF"/>
<rect x="104.1" y="675" width="10.2" height="10.2" fill="#4040FF"/>
<rect x="114.2" y="675" width="10.2" height="10.2" fill="#0000FF"/>
<rect x="124.4" y="675" width="10.2" height="10.2" fill="#8080FF"/>
<rect x="134.5" y="675" width="10.2" height="10.2" fill="#4040FF"/>
<rect x="144.6" y="675" width="10.2" height="10.2" fill="#8080FF"/>
<rect x="154.8" y="675" width="10.2" height="10.2" fill="#FF0000"/>
<rect x="164.9" y="675" width="10.2" height="10.2" fill="#FF0000"/>
<rect x="175" y="675" width="10.2" height="10.2" fill="#FF0000"/>
<rect x="185.1" y="675" width="10.2" height="10.2" fill="#FF0000"/>
<rect x="195.2" y="675" width="10.2" height="10.2" fill="#FF0000"/>
<rect x="205.4" y="675" width="10.2" height="10.2" fill="#FF0000"/>
<rect x="215.5" y="675" width="10.2" height="10.2" fill="#FF0000"/>
<rect x="225.6" y="675" width="10.2" height="10.2" fill="#FF0000"/>
<rect x="235.8" y="675" width="10.2" height="10.2" fill="#FF0000"/>
<rect x="245.9" y="675" width="10.2" height="10.2" fill="#FF0000"/>
<rect x="256" y="675" width="10.2" height="10.2" fill="#BFBFFF"/>
<rect x="266.1" y="675" width="10.2" height="10.2" fill="#0000FF"/>
<rect x="276.2" y="675" width="10.2" height="10.2" fill="#FFFFFF"/>
<rect x="286.4" y="675" width="10.2" height="10.2" fill="#BFBFFF"/>
<rect x="296.5" y="675" width="10.2" height="10.2" fill="#4040FF"/>
<rect x="306.6" y="675" width="10.2" height="10.2" fill="#4040FF"/>
<rect x="316.8" y="675" width="10.2" height="10.2" fill="#4040FF"/>
<rect x="326.9" y="675" width="10.2" height="10.2" fill="#FFDFDF"/>
<rect x="337" y="675" width="10.2" height="10.2" fill="#4040FF"/>
<rect x="347.1" y="675" width="10.2" height="10.2" fill="#4040FF"/>
<rect x="357.2" y="675" width="10.2" height="10.2" fill="#0000FF"/>
<rect x="367.4" y="675" width="10.2" height="10.2" fill="#0000FF"/>
<rect x="377.5" y="675" width="10.2" height="10.2" fill="#0000FF"/>
<rect x="387.6" y="675" width="10.2" height="10.2" fill="#0000FF"/>
<rect x="397.8" y="675" width="10.2" height="10.2" fill="#0000FF"/>
<rect x="407.9" y="675" width="10.2" height="10.2" fill="#0000FF"/>
<rect x="418" y="675" width="10.2" height="10.2" fill="#0000FF"/>
<rect x="428.1" y="675" width="10.2" height="10.2" fill="#0000FF"/>
<rect x="438.2" y="675" width="10.2" height="10.2" fill="#0000FF"/>
<rect x="448.4" y="675" width="10.2" height="10.2" fill="#0000FF"/>
<rect x="458.5" y="675" width="10.2" height="10.2" fill="#0000FF"/>
<rect x="468.6" y="675" width="10.2" height="10.2" fill="#0000FF"/>
<rect x="478.8" y="675" width="10.2" height="10.2" fill="#0000FF"/>
<rect x="488.9" y="675" width="10.2" height="10.2" fill="#0000FF"/>
<rect x="499" y="675" width="10.2" height="10.2" fill="#0000FF"/>
<rect x="509.1" y="675" width="10.2" height="10.2" fill="#0000FF"/>
<rect x="519.2" y="675" width="10.2" height="10.2" fill="#0000FF"/>
<rect x="529.4" y="675" width="10.2" height="10.2" fill="#0000FF"/>
<rect x="539.5" y="675" width="10.2" height="10.2" fill="#0000FF"/>
<rect x="549.6" y="675" width="10.2" height="10.2" fill="#0000FF"/>
<rect x="559.8" y="675" width="10.2" height="10.2" fill="#4040FF"/>
<rect x="569.9" y="675" width="10.2" height="10.2" fill="#FF0000"/>
<rect x="580" y="675" width="10.2" height="10.2" fill="#8080FF"/>
<rect x="590.1" y="675" width="10.2" height="10.2" fill="#FF0000"/>
<rect x="600.2" y="675" width="10.2" height="10.2" fill="#FFBFBF"/>
<rect x="610.4" y="675" width="10.2" height="10.2" fill="#FFFFFF"/>
<rect x="620.5" y="675" width="10.2" height="10.2" fill="#0000FF"/>
<rect x="630.6" y="675" width="10.2" height="10.2" fill="#FFBFBF"/>
<rect x="640.8" y="675" width="10.2" height="10.2" fill="#0000FF"/>
<rect x="650.9" y="675" width="10.2" height="10.2" fill="#FF0000"/>
<rect x="53.5" y="685.1" width="10.2" height="10.2" fill="#FF0000"/>
<rect x="63.6" y="685.1" width="10.2" height="10.2" fill="#FF0000"/>
<rect x="73.8" y="685.1" width="10.2" height="10.2" fill="#FF4040"/>
<rect x="83.9" y="685.1" width="10.2" height="10.2" fill="#FF0000"/>
<rect x="94" y="685.1" width="10.2" height="10.2" fill="#FF8080"/>
<rect x="104.1" y="685.1" width="10.2" height="10.2" fill="#FF0000"/>
<rect x="114.2" y="685.1" width="10.2" height="10.2" fill="#FF0000"/>
<rect x="124.4" y="685.1" width="10.2" height="10.2" fill="#FF0000"/>
<rect x="134.5" y="685.1" width="10.2" height="10.2" fill="#FF0000"/>
<rect x="144.6" y="685.1" width="10.2" height="10.2" fill="#FF0000"/>
<rect x="154.8" y="685.1" width="10.2" height="10.2" fill="#4040FF"/>
<rect x="164.9" y="685.1" width="10.2" height="10.2" fill="#0000FF"/>
<rect x="175" y="685.1" width="10.2" height="10.2" fill="#4040FF"/>
<rect x="185.1" y="685.1" width="10.2" height="10.2" fill="#8080FF"/>
<rect x="195.2" y="685.1" width="10.2" height="10.2" fill="#0000FF"/>
<rect x="205.4" y="685.1" width="10.2" height="10.2" fill="#0000FF"/>
<rect x="215.5" y="685.1" width="10.2" height="10.2" fill="#0000FF"/>
<rect x="225.6" y="685.1" width="10.2" height="10.2" fill="#0000FF"/>
<rect x="235.8" y="685.1" width="10.2" height="10.2" fill="#0000FF"/>
<rect x="245.9" y="685.1" width="10.2" height="10.2" fill="#4040FF"/>
<rect x="256" y="685.1" width="10.2" height="10.2" fill="#FF8080"/>
<rect x="266.1" y="685.1" width="10.2" height="10.2" fill="#8080FF"/>
<rect x="276.2" y="685.1" width="10.2" height="10.2" fill="#FFBFBF"/>
<rect x="286.4" y="685.1" width="10.2" height="10.2" fill="#0000FF"/>
<rect x="296.5" y="685.1" width="10.2" height="10.2" fill="#FF4040"/>
<rect x="306.6" y="685.1" width="10.2" height="10.2" fill="#FFE6E6"/>
<rect x="316.8" y="685.1" width="10.2" height="10.2" fill="#FF0000"/>
<rect x="326.9" y="685.1" width="10.2" height="10.2" fill="#0000FF"/>
<rect x="337" y="685.1" width="10.2" height="10.2" fill="#FF6060"/>
<rect x="347.1" y="685.1" width="10.2" height="10.2" fill="#FFBFBF"/>
<rect x="357.2" y="685.1" width="10.2" height="10.2" fill="#FFBFBF"/>
<rect x="367.4" y="685.1" width="10.2" height="10.2" fill="#FFBFBF"/>
<rect x="377.5" y="685.1" width="10.2" height="10.2" fill="#FFBFBF"/>
<rect x="387.6" y="685.1" width="10.2" height="10.2" fill="#FFD9D9"/>
<rect x="397.8" y="685.1" width="10.2" height="10.2" fill="#FF8080"/>
<rect x="407.9" y="685.1" width="10.2" height="10.2" fill="#FFBFBF"/>
<rect x="418" y="685.1" width="10.2" height="10.2" fill="#FF8080"/>
<rect x="428.1" y="685.1" width="10.2" height="10.2" fill="#FF4040"/>
<rect x="438.2" y="685.1" width="10.2" height="10.2" fill="#FFBFBF"/>
<rect x="448.4" y="685.1" width="10.2" height="10.2" fill="#FFFFFF"/>
<rect x="458.5" y="685.1" width="10.2" height="10.2" fill="#FFBFBF"/>
<rect x="468.6" y="685.1" width="10.2" height="10.2" fill="#FF8080"/>
<rect x="478.8" y="685.1" width="10.2" height="10.2" fill="#FFBFBF"/>
<rect x="488.9" y="685.1" width="10.2" height="10.2" fill="#FFBFBF"/>
<rect x="499" y="685.1" width="10.2" height="10.2" fill="#FFBFBF"/>
<rect x="509.1" y="685.1" width="10.2" height="10.2" fill="#FFFFFF"/>
<rect x="519.2" y="685.1" width="10.2" height="10.2" fill="#FFCCCC"/>
<rect x="529.4" y="685.1" width="10.2" height="10.2" fill="#FFA6A6"/>
<rect x="539.5" y="685.1" width="10.2" height="10.2" fill="#FFBFBF"/>
<rect x="549.6" y="685.1" width="10.2" height="10.2" fill="#FFCCCC"/>
<rect x="559.8" y="685.1" width="10.2" height="10.2" fill="#FF4040"/>
<rect x="569.9" y="685.1" width="10.2" height="10.2" fill="#FF9F9F"/>
<rect x="580" y="685.1" width="10.2" height="10.2" fill="#FF0000"/>
<rect x="590.1" y="685.1" width="10.2" height="10.2" fill="#FFBFBF"/>
<rect x="600.2" y="685.1" width="10.2" height="10.2" fill="#FF0000"/>
<rect x="610.4" y="685.1" width="10.2" height="10.2" fill="#FFBFBF"/>
<rect x="620.5" y="685.1" width="10.2" height="10.2" fill="#FF0000"/>
<rect x="630.6" y="685.1" width="10.2" height="10.2" fill="#FF0000"/>
<rect x="640.8" y="685.1" width="10.2" height="10.2" fill="#FFDFDF"/>
<rect x="650.9" y="685.1" width="10.2" height="10.2" fill="#FFBFBF"/>
<path d="M63.6 634.4V695.3M73.8 634.4V695.3M83.9 634.4V695.3M94 634.4V695.3M104.1 634.4V695.3M114.2 634.4V695.3M124.4 634.4V695.3M134.5 634.4V695.3M144.6 634.4V695.3M154.8 634.4V695.3M164.9 634.4V695.3M175 634.4V695.3M185.1 634.4V695.3M195.2 634.4V695.3M205.4 634.4V695.3M215.5 634.4V695.3M225.6 634.4V695.3M235.8 634.4V695.3M245.9 634.4V695.3M256 634.4V695.3M266.1 634.4V695.3M276.2 634.4V695.3M286.4 634.4V695.3M296.5 634.4V695.3M306.6 634.4V695.3M316.8 634.4V695.3M326.9 634.4V695.3M337 634.4V695.3M347.1 634.4V695.3M357.2 634.4V695.3M367.4 634.4V695.3M377.5 634.4V695.3M387.6 634.4V695.3M397.8 634.4V695.3M407.9 634.4V695.3M418 634.4V695.3M428.1 634.4V695.3M438.2 634.4V695.3M448.4 634.4V695.3M458.5 634.4V695.3M468.6 634.4V695.3M478.8 634.4V695.3M488.9 634.4V695.3M499 634.4V695.3M509.1 634.4V695.3M519.2 634.4V695.3M529.4 634.4V695.3M539.5 634.4V695.3M549.6 634.4V695.3M559.8 634.4V695.3M569.9 634.4V695.3M580 634.4V695.3M590.1 634.4V695.3M600.2 634.4V695.3M610.4 634.4V695.3M620.5 634.4V695.3M630.6 634.4V695.3M640.8 634.4V695.3M650.9 634.4V695.3M53.5 644.5H661M53.5 654.7H661M53.5 664.9H661M53.5 675H661M53.5 685.1H661" stroke="#606070" stroke-opacity="0.45" stroke-width="0.5" fill="none"/>
<path d="M53.8 698.5V766M63.9 698.5V766M74 698.5V766M84.2 698.5V766M94.3 698.5V766M104.4 698.5V766M114.5 698.5V766M124.7 698.5V766M134.8 698.5V766M144.9 698.5V766M155.1 698.5V766M165.2 698.5V766M175.3 698.5V766M185.4 698.5V766M195.6 698.5V766M205.7 698.5V766M215.8 698.5V766M225.9 698.5V766M236.1 698.5V766M246.2 698.5V766M256.3 698.5V766M266.4 698.5V766M276.6 698.5V766M286.7 698.5V766M296.8 698.5V766M306.9 698.5V766M317.1 698.5V766M327.2 698.5V766M337.3 698.5V766M347.4 698.5V766M357.6 698.5V766M367.7 698.5V766M377.8 698.5V766M387.9 698.5V766M398.1 698.5V766M408.2 698.5V766M418.3 698.5V766M428.4 698.5V766M438.6 698.5V766M448.7 698.5V766M458.8 698.5V766M468.9 698.5V766M479.1 698.5V766M489.2 698.5V766M499.3 698.5V766M509.4 698.5V766M519.5 698.5V766M529.7 698.5V766M539.8 698.5V766M549.9 698.5V766M560 698.5V766M570.2 698.5V766M580.3 698.5V766M590.4 698.5V766M600.5 698.5V766M610.7 698.5V766M620.8 698.5V766M630.9 698.5V766M641 698.5V766M651.2 698.5V766" stroke="#cfcfcf" stroke-width="0.8" fill="none"/>
<text transform="translate(55.3 700.3) rotate(90) scale(1 1.0)" font-size="8.4" fill="#1c1c1c" stroke="#1c1c1c" stroke-width="0.18">Jak1</text>
<text transform="translate(65.4 700.3) rotate(90) scale(1 1.0)" font-size="8.4" fill="#1c1c1c" stroke="#1c1c1c" stroke-width="0.18">Plin2</text>
<text transform="translate(75.5 700.3) rotate(90) scale(1 1.0)" font-size="8.4" fill="#1c1c1c" stroke="#1c1c1c" stroke-width="0.18">Meis2</text>
<text transform="translate(85.7 700.3) rotate(90) scale(1 1.0)" font-size="8.4" fill="#1c1c1c" stroke="#1c1c1c" stroke-width="0.18">Cxcl12</text>
<text transform="translate(95.8 700.3) rotate(90) scale(1 1.0)" font-size="8.4" fill="#1c1c1c" stroke="#1c1c1c" stroke-width="0.18">Aldh1a2</text>
<text transform="translate(105.9 700.3) rotate(90) scale(1 1.0)" font-size="8.4" fill="#1c1c1c" stroke="#1c1c1c" stroke-width="0.18">Gpx7</text>
<text transform="translate(116 700.3) rotate(90) scale(1 1.0)" font-size="8.4" fill="#1c1c1c" stroke="#1c1c1c" stroke-width="0.18">Mtap</text>
<text transform="translate(126.2 700.3) rotate(90) scale(1 1.0)" font-size="8.4" fill="#1c1c1c" stroke="#1c1c1c" stroke-width="0.18">Plod2</text>
<text transform="translate(136.3 700.3) rotate(90) scale(1 1.0)" font-size="8.4" fill="#1c1c1c" stroke="#1c1c1c" stroke-width="0.18">Arhgdib</text>
<text transform="translate(146.4 700.3) rotate(90) scale(1 1.0)" font-size="8.4" fill="#1c1c1c" stroke="#1c1c1c" stroke-width="0.18">Prph</text>
<text transform="translate(156.6 700.3) rotate(90) scale(1 1.0)" font-size="8.4" fill="#1c1c1c" stroke="#1c1c1c" stroke-width="0.18">Trf</text>
<text transform="translate(166.7 700.3) rotate(90) scale(1 1.0)" font-size="8.4" fill="#1c1c1c" stroke="#1c1c1c" stroke-width="0.18">Rras</text>
<text transform="translate(176.8 700.3) rotate(90) scale(1 1.0)" font-size="8.4" fill="#1c1c1c" stroke="#1c1c1c" stroke-width="0.18">Bsg</text>
<text transform="translate(186.9 700.3) rotate(90) scale(1 1.0)" font-size="8.4" fill="#1c1c1c" stroke="#1c1c1c" stroke-width="0.18">Clu</text>
<text transform="translate(197.1 700.3) rotate(90) scale(1 1.0)" font-size="8.4" fill="#1c1c1c" stroke="#1c1c1c" stroke-width="0.18">C430049B03Rik</text>
<text transform="translate(207.2 700.3) rotate(90) scale(1 1.0)" font-size="8.4" fill="#1c1c1c" stroke="#1c1c1c" stroke-width="0.18">Lgals7</text>
<text transform="translate(217.3 700.3) rotate(90) scale(1 1.0)" font-size="8.4" fill="#1c1c1c" stroke="#1c1c1c" stroke-width="0.18">Fxyd3</text>
<text transform="translate(227.4 700.3) rotate(90) scale(1 1.0)" font-size="8.4" fill="#1c1c1c" stroke="#1c1c1c" stroke-width="0.18">Dmkn</text>
<text transform="translate(237.6 700.3) rotate(90) scale(1 1.0)" font-size="8.4" fill="#1c1c1c" stroke="#1c1c1c" stroke-width="0.18">C3</text>
<text transform="translate(247.7 700.3) rotate(90) scale(1 1.0)" font-size="8.4" fill="#1c1c1c" stroke="#1c1c1c" stroke-width="0.18">Saa3</text>
<text transform="translate(257.8 700.3) rotate(90) scale(1 1.0)" font-size="8.4" fill="#1c1c1c" stroke="#1c1c1c" stroke-width="0.18">Tacc1</text>
<text transform="translate(267.9 700.3) rotate(90) scale(1 1.0)" font-size="8.4" fill="#1c1c1c" stroke="#1c1c1c" stroke-width="0.18">Anxa8</text>
<text transform="translate(278.1 700.3) rotate(90) scale(1 1.0)" font-size="8.4" fill="#1c1c1c" stroke="#1c1c1c" stroke-width="0.18">Lox</text>
<text transform="translate(288.2 700.3) rotate(90) scale(1 1.0)" font-size="8.4" fill="#1c1c1c" stroke="#1c1c1c" stroke-width="0.18">S100a4</text>
<text transform="translate(298.3 700.3) rotate(90) scale(1 1.0)" font-size="8.4" fill="#1c1c1c" stroke="#1c1c1c" stroke-width="0.18">Meis2</text>
<text transform="translate(308.4 700.3) rotate(90) scale(1 1.0)" font-size="8.4" fill="#1c1c1c" stroke="#1c1c1c" stroke-width="0.18">Prss23</text>
<text transform="translate(318.6 700.3) rotate(90) scale(1 1.0)" font-size="8.4" fill="#1c1c1c" stroke="#1c1c1c" stroke-width="0.18">Arhgdib</text>
<text transform="translate(328.7 700.3) rotate(90) scale(1 1.0)" font-size="8.4" fill="#1c1c1c" stroke="#1c1c1c" stroke-width="0.18">Myl7</text>
<text transform="translate(338.8 700.3) rotate(90) scale(1 1.0)" font-size="8.4" fill="#1c1c1c" stroke="#1c1c1c" stroke-width="0.18">Aldh1a2</text>
<text transform="translate(348.9 700.3) rotate(90) scale(1 1.0)" font-size="8.4" fill="#1c1c1c" stroke="#1c1c1c" stroke-width="0.18">Col3a1</text>
<text transform="translate(359.1 700.3) rotate(90) scale(1 1.0)" font-size="8.4" fill="#1c1c1c" stroke="#1c1c1c" stroke-width="0.18">Prc1</text>
<text transform="translate(369.2 700.3) rotate(90) scale(1 1.0)" font-size="8.4" fill="#1c1c1c" stroke="#1c1c1c" stroke-width="0.18">Cenpf</text>
<text transform="translate(379.3 700.3) rotate(90) scale(1 1.0)" font-size="8.4" fill="#1c1c1c" stroke="#1c1c1c" stroke-width="0.18">Nusap1</text>
<text transform="translate(389.4 700.3) rotate(90) scale(1 1.0)" font-size="8.4" fill="#1c1c1c" stroke="#1c1c1c" stroke-width="0.18">Aspm</text>
<text transform="translate(399.6 700.3) rotate(90) scale(1 1.0)" font-size="8.4" fill="#1c1c1c" stroke="#1c1c1c" stroke-width="0.18">Plk1</text>
<text transform="translate(409.7 700.3) rotate(90) scale(1 1.0)" font-size="8.4" fill="#1c1c1c" stroke="#1c1c1c" stroke-width="0.18">Arl6ip1</text>
<text transform="translate(419.8 700.3) rotate(90) scale(1 1.0)" font-size="8.4" fill="#1c1c1c" stroke="#1c1c1c" stroke-width="0.18">Ccnb1</text>
<text transform="translate(429.9 700.3) rotate(90) scale(1 1.0)" font-size="8.4" fill="#1c1c1c" stroke="#1c1c1c" stroke-width="0.18">H2afx</text>
<text transform="translate(440.1 700.3) rotate(90) scale(1 1.0)" font-size="8.4" fill="#1c1c1c" stroke="#1c1c1c" stroke-width="0.18">Kif2c</text>
<text transform="translate(450.2 700.3) rotate(90) scale(1 1.0)" font-size="8.4" fill="#1c1c1c" stroke="#1c1c1c" stroke-width="0.18">Cenpe</text>
<text transform="translate(460.3 700.3) rotate(90) scale(1 1.0)" font-size="8.4" fill="#1c1c1c" stroke="#1c1c1c" stroke-width="0.18">Arl6ip1</text>
<text transform="translate(470.4 700.3) rotate(90) scale(1 1.0)" font-size="8.4" fill="#1c1c1c" stroke="#1c1c1c" stroke-width="0.18">Kif11</text>
<text transform="translate(480.6 700.3) rotate(90) scale(1 1.0)" font-size="8.4" fill="#1c1c1c" stroke="#1c1c1c" stroke-width="0.18">Kif20b</text>
<text transform="translate(490.7 700.3) rotate(90) scale(1 1.0)" font-size="8.4" fill="#1c1c1c" stroke="#1c1c1c" stroke-width="0.18">Ube2c</text>
<text transform="translate(500.8 700.3) rotate(90) scale(1 1.0)" font-size="8.4" fill="#1c1c1c" stroke="#1c1c1c" stroke-width="0.18">Nusap1</text>
<text transform="translate(510.9 700.3) rotate(90) scale(1 1.0)" font-size="8.4" fill="#1c1c1c" stroke="#1c1c1c" stroke-width="0.18">Cenpe</text>
<text transform="translate(521 700.3) rotate(90) scale(1 1.0)" font-size="8.4" fill="#1c1c1c" stroke="#1c1c1c" stroke-width="0.18">Kif2c</text>
<text transform="translate(531.2 700.3) rotate(90) scale(1 1.0)" font-size="8.4" fill="#1c1c1c" stroke="#1c1c1c" stroke-width="0.18">Prc1</text>
<text transform="translate(541.3 700.3) rotate(90) scale(1 1.0)" font-size="8.4" fill="#1c1c1c" stroke="#1c1c1c" stroke-width="0.18">Cenpf</text>
<text transform="translate(551.4 700.3) rotate(90) scale(1 1.0)" font-size="8.4" fill="#1c1c1c" stroke="#1c1c1c" stroke-width="0.18">Aspm</text>
<text transform="translate(561.5 700.3) rotate(90) scale(1 1.0)" font-size="8.4" fill="#1c1c1c" stroke="#1c1c1c" stroke-width="0.18">Meis2</text>
<text transform="translate(571.7 700.3) rotate(90) scale(1 1.0)" font-size="8.4" fill="#1c1c1c" stroke="#1c1c1c" stroke-width="0.18">Malat1</text>
<text transform="translate(581.8 700.3) rotate(90) scale(1 1.0)" font-size="8.4" fill="#1c1c1c" stroke="#1c1c1c" stroke-width="0.18">Prph</text>
<text transform="translate(591.9 700.3) rotate(90) scale(1 1.0)" font-size="8.4" fill="#1c1c1c" stroke="#1c1c1c" stroke-width="0.18">Neat1</text>
<text transform="translate(602 700.3) rotate(90) scale(1 1.0)" font-size="8.4" fill="#1c1c1c" stroke="#1c1c1c" stroke-width="0.18">Myh10</text>
<text transform="translate(612.2 700.3) rotate(90) scale(1 1.0)" font-size="8.4" fill="#1c1c1c" stroke="#1c1c1c" stroke-width="0.18">Lox</text>
<text transform="translate(622.3 700.3) rotate(90) scale(1 1.0)" font-size="8.4" fill="#1c1c1c" stroke="#1c1c1c" stroke-width="0.18">Hist1h4d</text>
<text transform="translate(632.4 700.3) rotate(90) scale(1 1.0)" font-size="8.4" fill="#1c1c1c" stroke="#1c1c1c" stroke-width="0.18">Col5a2</text>
<text transform="translate(642.5 700.3) rotate(90) scale(1 1.0)" font-size="8.4" fill="#1c1c1c" stroke="#1c1c1c" stroke-width="0.18">Aspm</text>
<text transform="translate(652.7 700.3) rotate(90) scale(1 1.0)" font-size="8.4" fill="#1c1c1c" stroke="#1c1c1c" stroke-width="0.18">Syne2</text>
<path d="M663 644.5H680M663 654.7H680M663 664.9H680M663 675H680M663 685.1H680M663 695.3H680" stroke="#d4d4d4" stroke-width="0.7" fill="none"/>
<text x="665.6" y="642.3" font-size="7.9" font-weight="normal" fill="#222" text-anchor="start" >C1</text>
<text x="665.6" y="652.5" font-size="7.9" font-weight="normal" fill="#222" text-anchor="start" >C2</text>
<text x="665.6" y="662.6" font-size="7.9" font-weight="normal" fill="#222" text-anchor="start" >C3</text>
<text x="665.6" y="672.8" font-size="7.9" font-weight="normal" fill="#222" text-anchor="start" >C4</text>
<text x="665.6" y="682.9" font-size="7.9" font-weight="normal" fill="#222" text-anchor="start" >C5</text>
<text x="665.6" y="693.1" font-size="7.9" font-weight="normal" fill="#222" text-anchor="start" >C6</text>
<text transform="translate(665 699.5) rotate(90)" font-size="7.3" fill="#333">id</text>
<text transform="translate(660.8 732.2) rotate(90)" font-size="16" font-weight="bold" textLength="18" lengthAdjust="spacingAndGlyphs" fill="#000">CC</text>
<rect x="53.5" y="783.7" width="15" height="14.9" fill="#FFFFFF"/>
<rect x="68.5" y="783.7" width="15" height="14.9" fill="#4040FF"/>
<rect x="83.5" y="783.7" width="15" height="14.9" fill="#FF8080"/>
<rect x="98.5" y="783.7" width="15" height="14.9" fill="#2020FF"/>
<rect x="113.5" y="783.7" width="15" height="14.9" fill="#9F9FFF"/>
<rect x="128.4" y="783.7" width="15" height="14.9" fill="#0000FF"/>
<rect x="143.4" y="783.7" width="15" height="14.9" fill="#4040FF"/>
<rect x="158.4" y="783.7" width="15" height="14.9" fill="#0000FF"/>
<rect x="173.4" y="783.7" width="15" height="14.9" fill="#0000FF"/>
<rect x="188.4" y="783.7" width="15" height="14.9" fill="#0000FF"/>
<rect x="203.4" y="783.7" width="15" height="14.9" fill="#2020FF"/>
<rect x="218.4" y="783.7" width="15" height="14.9" fill="#2020FF"/>
<rect x="233.4" y="783.7" width="15" height="14.9" fill="#4040FF"/>
<rect x="248.4" y="783.7" width="15" height="14.9" fill="#0000FF"/>
<rect x="263.4" y="783.7" width="15" height="14.9" fill="#2020FF"/>
<rect x="278.4" y="783.7" width="15" height="14.9" fill="#0000FF"/>
<rect x="293.3" y="783.7" width="15" height="14.9" fill="#6060FF"/>
<rect x="308.3" y="783.7" width="15" height="14.9" fill="#2020FF"/>
<rect x="323.3" y="783.7" width="15" height="14.9" fill="#0000FF"/>
<rect x="338.3" y="783.7" width="15" height="14.9" fill="#2020FF"/>
<rect x="353.3" y="783.7" width="15" height="14.9" fill="#8080FF"/>
<rect x="368.3" y="783.7" width="15" height="14.9" fill="#FF8080"/>
<rect x="383.3" y="783.7" width="15" height="14.9" fill="#FF9F9F"/>
<rect x="398.3" y="783.7" width="15" height="14.9" fill="#FF8080"/>
<rect x="413.3" y="783.7" width="15" height="14.9" fill="#FF4040"/>
<rect x="428.2" y="783.7" width="15" height="14.9" fill="#FF9F9F"/>
<rect x="443.2" y="783.7" width="15" height="14.9" fill="#FFDFDF"/>
<rect x="458.2" y="783.7" width="15" height="14.9" fill="#FFBFBF"/>
<rect x="473.2" y="783.7" width="15" height="14.9" fill="#FF8080"/>
<rect x="488.2" y="783.7" width="15" height="14.9" fill="#FFDFDF"/>
<rect x="503.2" y="783.7" width="15" height="14.9" fill="#FF0000"/>
<rect x="518.2" y="783.7" width="15" height="14.9" fill="#FF0000"/>
<rect x="533.2" y="783.7" width="15" height="14.9" fill="#FF0000"/>
<rect x="548.2" y="783.7" width="15" height="14.9" fill="#FF0000"/>
<rect x="563.2" y="783.7" width="15" height="14.9" fill="#FF0000"/>
<rect x="578.1" y="783.7" width="15" height="14.9" fill="#FF0000"/>
<rect x="593.1" y="783.7" width="15" height="14.9" fill="#FF0000"/>
<rect x="608.1" y="783.7" width="15" height="14.9" fill="#FF0000"/>
<rect x="623.1" y="783.7" width="15" height="14.9" fill="#FF0000"/>
<rect x="638.1" y="783.7" width="15" height="14.9" fill="#FF0000"/>
<rect x="53.5" y="798.6" width="15" height="14.9" fill="#2020FF"/>
<rect x="68.5" y="798.6" width="15" height="14.9" fill="#0000FF"/>
<rect x="83.5" y="798.6" width="15" height="14.9" fill="#8080FF"/>
<rect x="98.5" y="798.6" width="15" height="14.9" fill="#0000FF"/>
<rect x="113.5" y="798.6" width="15" height="14.9" fill="#0000FF"/>
<rect x="128.4" y="798.6" width="15" height="14.9" fill="#FF6060"/>
<rect x="143.4" y="798.6" width="15" height="14.9" fill="#0000FF"/>
<rect x="158.4" y="798.6" width="15" height="14.9" fill="#9F9FFF"/>
<rect x="173.4" y="798.6" width="15" height="14.9" fill="#4040FF"/>
<rect x="188.4" y="798.6" width="15" height="14.9" fill="#9F9FFF"/>
<rect x="203.4" y="798.6" width="15" height="14.9" fill="#0000FF"/>
<rect x="218.4" y="798.6" width="15" height="14.9" fill="#0000FF"/>
<rect x="233.4" y="798.6" width="15" height="14.9" fill="#2020FF"/>
<rect x="248.4" y="798.6" width="15" height="14.9" fill="#2020FF"/>
<rect x="263.4" y="798.6" width="15" height="14.9" fill="#0000FF"/>
<rect x="278.4" y="798.6" width="15" height="14.9" fill="#2020FF"/>
<rect x="293.3" y="798.6" width="15" height="14.9" fill="#0000FF"/>
<rect x="308.3" y="798.6" width="15" height="14.9" fill="#0000FF"/>
<rect x="323.3" y="798.6" width="15" height="14.9" fill="#0000FF"/>
<rect x="338.3" y="798.6" width="15" height="14.9" fill="#0000FF"/>
<rect x="353.3" y="798.6" width="15" height="14.9" fill="#FF0000"/>
<rect x="368.3" y="798.6" width="15" height="14.9" fill="#FF0000"/>
<rect x="383.3" y="798.6" width="15" height="14.9" fill="#FF0000"/>
<rect x="398.3" y="798.6" width="15" height="14.9" fill="#FF0000"/>
<rect x="413.3" y="798.6" width="15" height="14.9" fill="#FF0000"/>
<rect x="428.2" y="798.6" width="15" height="14.9" fill="#FF0000"/>
<rect x="443.2" y="798.6" width="15" height="14.9" fill="#FF0000"/>
<rect x="458.2" y="798.6" width="15" height="14.9" fill="#FF0000"/>
<rect x="473.2" y="798.6" width="15" height="14.9" fill="#FF0000"/>
<rect x="488.2" y="798.6" width="15" height="14.9" fill="#FF0000"/>
<rect x="503.2" y="798.6" width="15" height="14.9" fill="#0000FF"/>
<rect x="518.2" y="798.6" width="15" height="14.9" fill="#8080FF"/>
<rect x="533.2" y="798.6" width="15" height="14.9" fill="#FF6060"/>
<rect x="548.2" y="798.6" width="15" height="14.9" fill="#6060FF"/>
<rect x="563.2" y="798.6" width="15" height="14.9" fill="#FFECEC"/>
<rect x="578.1" y="798.6" width="15" height="14.9" fill="#4040FF"/>
<rect x="593.1" y="798.6" width="15" height="14.9" fill="#FF2020"/>
<rect x="608.1" y="798.6" width="15" height="14.9" fill="#8080FF"/>
<rect x="623.1" y="798.6" width="15" height="14.9" fill="#4040FF"/>
<rect x="638.1" y="798.6" width="15" height="14.9" fill="#FFD2D2"/>
<rect x="53.5" y="813.5" width="15" height="14.9" fill="#0000FF"/>
<rect x="68.5" y="813.5" width="15" height="14.9" fill="#FF6060"/>
<rect x="83.5" y="813.5" width="15" height="14.9" fill="#0000FF"/>
<rect x="98.5" y="813.5" width="15" height="14.9" fill="#FFFFFF"/>
<rect x="113.5" y="813.5" width="15" height="14.9" fill="#8080FF"/>
<rect x="128.4" y="813.5" width="15" height="14.9" fill="#2020FF"/>
<rect x="143.4" y="813.5" width="15" height="14.9" fill="#DFDFFF"/>
<rect x="158.4" y="813.5" width="15" height="14.9" fill="#FFF9F9"/>
<rect x="173.4" y="813.5" width="15" height="14.9" fill="#0000FF"/>
<rect x="188.4" y="813.5" width="15" height="14.9" fill="#2020FF"/>
<rect x="203.4" y="813.5" width="15" height="14.9" fill="#FF0000"/>
<rect x="218.4" y="813.5" width="15" height="14.9" fill="#FF0000"/>
<rect x="233.4" y="813.5" width="15" height="14.9" fill="#FF0000"/>
<rect x="248.4" y="813.5" width="15" height="14.9" fill="#FF0000"/>
<rect x="263.4" y="813.5" width="15" height="14.9" fill="#FF0000"/>
<rect x="278.4" y="813.5" width="15" height="14.9" fill="#FF0000"/>
<rect x="293.3" y="813.5" width="15" height="14.9" fill="#FF0000"/>
<rect x="308.3" y="813.5" width="15" height="14.9" fill="#FF0000"/>
<rect x="323.3" y="813.5" width="15" height="14.9" fill="#FF0000"/>
<rect x="338.3" y="813.5" width="15" height="14.9" fill="#FF0000"/>
<rect x="353.3" y="813.5" width="15" height="14.9" fill="#0000FF"/>
<rect x="368.3" y="813.5" width="15" height="14.9" fill="#0000FF"/>
<rect x="383.3" y="813.5" width="15" height="14.9" fill="#0000FF"/>
<rect x="398.3" y="813.5" width="15" height="14.9" fill="#0000FF"/>
<rect x="413.3" y="813.5" width="15" height="14.9" fill="#0000FF"/>
<rect x="428.2" y="813.5" width="15" height="14.9" fill="#0000FF"/>
<rect x="443.2" y="813.5" width="15" height="14.9" fill="#0000FF"/>
<rect x="458.2" y="813.5" width="15" height="14.9" fill="#0000FF"/>
<rect x="473.2" y="813.5" width="15" height="14.9" fill="#0000FF"/>
<rect x="488.2" y="813.5" width="15" height="14.9" fill="#0000FF"/>
<rect x="503.2" y="813.5" width="15" height="14.9" fill="#FFFFFF"/>
<rect x="518.2" y="813.5" width="15" height="14.9" fill="#0000FF"/>
<rect x="533.2" y="813.5" width="15" height="14.9" fill="#FFBFBF"/>
<rect x="548.2" y="813.5" width="15" height="14.9" fill="#4040FF"/>
<rect x="563.2" y="813.5" width="15" height="14.9" fill="#FFBFBF"/>
<rect x="578.1" y="813.5" width="15" height="14.9" fill="#0000FF"/>
<rect x="593.1" y="813.5" width="15" height="14.9" fill="#FFFFFF"/>
<rect x="608.1" y="813.5" width="15" height="14.9" fill="#0000FF"/>
<rect x="623.1" y="813.5" width="15" height="14.9" fill="#4040FF"/>
<rect x="638.1" y="813.5" width="15" height="14.9" fill="#0000FF"/>
<rect x="53.5" y="828.3" width="15" height="14.9" fill="#FF0000"/>
<rect x="68.5" y="828.3" width="15" height="14.9" fill="#FF0000"/>
<rect x="83.5" y="828.3" width="15" height="14.9" fill="#FF0000"/>
<rect x="98.5" y="828.3" width="15" height="14.9" fill="#FF0000"/>
<rect x="113.5" y="828.3" width="15" height="14.9" fill="#FF0000"/>
<rect x="128.4" y="828.3" width="15" height="14.9" fill="#FF0000"/>
<rect x="143.4" y="828.3" width="15" height="14.9" fill="#FF0000"/>
<rect x="158.4" y="828.3" width="15" height="14.9" fill="#FF0000"/>
<rect x="173.4" y="828.3" width="15" height="14.9" fill="#FF0000"/>
<rect x="188.4" y="828.3" width="15" height="14.9" fill="#FF0000"/>
<rect x="203.4" y="828.3" width="15" height="14.9" fill="#0000FF"/>
<rect x="218.4" y="828.3" width="15" height="14.9" fill="#2020FF"/>
<rect x="233.4" y="828.3" width="15" height="14.9" fill="#0000FF"/>
<rect x="248.4" y="828.3" width="15" height="14.9" fill="#0000FF"/>
<rect x="263.4" y="828.3" width="15" height="14.9" fill="#4040FF"/>
<rect x="278.4" y="828.3" width="15" height="14.9" fill="#0000FF"/>
<rect x="293.3" y="828.3" width="15" height="14.9" fill="#4040FF"/>
<rect x="308.3" y="828.3" width="15" height="14.9" fill="#4040FF"/>
<rect x="323.3" y="828.3" width="15" height="14.9" fill="#2020FF"/>
<rect x="338.3" y="828.3" width="15" height="14.9" fill="#0000FF"/>
<rect x="353.3" y="828.3" width="15" height="14.9" fill="#BFBFFF"/>
<rect x="368.3" y="828.3" width="15" height="14.9" fill="#4040FF"/>
<rect x="383.3" y="828.3" width="15" height="14.9" fill="#FFBFBF"/>
<rect x="398.3" y="828.3" width="15" height="14.9" fill="#FFBFBF"/>
<rect x="413.3" y="828.3" width="15" height="14.9" fill="#4040FF"/>
<rect x="428.2" y="828.3" width="15" height="14.9" fill="#FFDFDF"/>
<rect x="443.2" y="828.3" width="15" height="14.9" fill="#4040FF"/>
<rect x="458.2" y="828.3" width="15" height="14.9" fill="#8080FF"/>
<rect x="473.2" y="828.3" width="15" height="14.9" fill="#8080FF"/>
<rect x="488.2" y="828.3" width="15" height="14.9" fill="#BFBFFF"/>
<rect x="503.2" y="828.3" width="15" height="14.9" fill="#FFBFBF"/>
<rect x="518.2" y="828.3" width="15" height="14.9" fill="#9F9FFF"/>
<rect x="533.2" y="828.3" width="15" height="14.9" fill="#0000FF"/>
<rect x="548.2" y="828.3" width="15" height="14.9" fill="#0000FF"/>
<rect x="563.2" y="828.3" width="15" height="14.9" fill="#0000FF"/>
<rect x="578.1" y="828.3" width="15" height="14.9" fill="#8080FF"/>
<rect x="593.1" y="828.3" width="15" height="14.9" fill="#0000FF"/>
<rect x="608.1" y="828.3" width="15" height="14.9" fill="#6060FF"/>
<rect x="623.1" y="828.3" width="15" height="14.9" fill="#0000FF"/>
<rect x="638.1" y="828.3" width="15" height="14.9" fill="#8080FF"/>
<path d="M68.5 783.7V843.2M83.5 783.7V843.2M98.5 783.7V843.2M113.5 783.7V843.2M128.4 783.7V843.2M143.4 783.7V843.2M158.4 783.7V843.2M173.4 783.7V843.2M188.4 783.7V843.2M203.4 783.7V843.2M218.4 783.7V843.2M233.4 783.7V843.2M248.4 783.7V843.2M263.4 783.7V843.2M278.4 783.7V843.2M293.3 783.7V843.2M308.3 783.7V843.2M323.3 783.7V843.2M338.3 783.7V843.2M353.3 783.7V843.2M368.3 783.7V843.2M383.3 783.7V843.2M398.3 783.7V843.2M413.3 783.7V843.2M428.2 783.7V843.2M443.2 783.7V843.2M458.2 783.7V843.2M473.2 783.7V843.2M488.2 783.7V843.2M503.2 783.7V843.2M518.2 783.7V843.2M533.2 783.7V843.2M548.2 783.7V843.2M563.2 783.7V843.2M578.1 783.7V843.2M593.1 783.7V843.2M608.1 783.7V843.2M623.1 783.7V843.2M638.1 783.7V843.2M53.5 798.6H653.1M53.5 813.5H653.1M53.5 828.3H653.1" stroke="#606070" stroke-opacity="0.45" stroke-width="0.5" fill="none"/>
<path d="M53.8 846.5V921M68.8 846.5V921M83.8 846.5V921M98.8 846.5V921M113.8 846.5V921M128.8 846.5V921M143.7 846.5V921M158.7 846.5V921M173.7 846.5V921M188.7 846.5V921M203.7 846.5V921M218.7 846.5V921M233.7 846.5V921M248.7 846.5V921M263.7 846.5V921M278.7 846.5V921M293.6 846.5V921M308.6 846.5V921M323.6 846.5V921M338.6 846.5V921M353.6 846.5V921M368.6 846.5V921M383.6 846.5V921M398.6 846.5V921M413.6 846.5V921M428.6 846.5V921M443.5 846.5V921M458.5 846.5V921M473.5 846.5V921M488.5 846.5V921M503.5 846.5V921M518.5 846.5V921M533.5 846.5V921M548.5 846.5V921M563.5 846.5V921M578.4 846.5V921M593.4 846.5V921M608.4 846.5V921M623.4 846.5V921M638.4 846.5V921" stroke="#cfcfcf" stroke-width="0.8" fill="none"/>
<text transform="translate(57.2 852) rotate(90) scale(1 1.07)" font-size="12.2" fill="#1c1c1c" stroke="#1c1c1c" stroke-width="0.18">Wipf3</text>
<text transform="translate(72.2 852) rotate(90) scale(1 1.07)" font-size="12.2" fill="#1c1c1c" stroke="#1c1c1c" stroke-width="0.18">Creb5</text>
<text transform="translate(87.2 852) rotate(90) scale(1 1.07)" font-size="12.2" fill="#1c1c1c" stroke="#1c1c1c" stroke-width="0.18">Rnf150</text>
<text transform="translate(102.2 852) rotate(90) scale(1 1.07)" font-size="12.2" fill="#1c1c1c" stroke="#1c1c1c" stroke-width="0.18">F2r</text>
<text transform="translate(117.2 852) rotate(90) scale(1 1.07)" font-size="12.2" fill="#1c1c1c" stroke="#1c1c1c" stroke-width="0.18">Zfp704</text>
<text transform="translate(132.1 852) rotate(90) scale(1 1.07)" font-size="12.2" fill="#1c1c1c" stroke="#1c1c1c" stroke-width="0.18">Cxcl1</text>
<text transform="translate(147.1 852) rotate(90) scale(1 1.07)" font-size="12.2" fill="#1c1c1c" stroke="#1c1c1c" stroke-width="0.18">Adamts5</text>
<text transform="translate(162.1 852) rotate(90) scale(1 1.07)" font-size="12.2" fill="#1c1c1c" stroke="#1c1c1c" stroke-width="0.18">Apela</text>
<text transform="translate(177.1 852) rotate(90) scale(1 1.07)" font-size="12.2" fill="#1c1c1c" stroke="#1c1c1c" stroke-width="0.18">Flrt3</text>
<text transform="translate(192.1 852) rotate(90) scale(1 1.07)" font-size="12.2" fill="#1c1c1c" stroke="#1c1c1c" stroke-width="0.18">Sfrp2</text>
<text transform="translate(207.1 852) rotate(90) scale(1 1.07)" font-size="12.2" fill="#1c1c1c" stroke="#1c1c1c" stroke-width="0.18">Hist1h3c</text>
<text transform="translate(222.1 852) rotate(90) scale(1 1.07)" font-size="12.2" fill="#1c1c1c" stroke="#1c1c1c" stroke-width="0.18">Tpx2</text>
<text transform="translate(237.1 852) rotate(90) scale(1 1.07)" font-size="12.2" fill="#1c1c1c" stroke="#1c1c1c" stroke-width="0.18">Pimreg</text>
<text transform="translate(252.1 852) rotate(90) scale(1 1.07)" font-size="12.2" fill="#1c1c1c" stroke="#1c1c1c" stroke-width="0.18">Aurkb</text>
<text transform="translate(267.1 852) rotate(90) scale(1 1.07)" font-size="12.2" fill="#1c1c1c" stroke="#1c1c1c" stroke-width="0.18">Plk1</text>
<text transform="translate(282.1 852) rotate(90) scale(1 1.07)" font-size="12.2" fill="#1c1c1c" stroke="#1c1c1c" stroke-width="0.18">Ska1</text>
<text transform="translate(297 852) rotate(90) scale(1 1.07)" font-size="12.2" fill="#1c1c1c" stroke="#1c1c1c" stroke-width="0.18">Hmmr</text>
<text transform="translate(312 852) rotate(90) scale(1 1.07)" font-size="12.2" fill="#1c1c1c" stroke="#1c1c1c" stroke-width="0.18">Ccnb1</text>
<text transform="translate(327 852) rotate(90) scale(1 1.07)" font-size="12.2" fill="#1c1c1c" stroke="#1c1c1c" stroke-width="0.18">Depdc1a</text>
<text transform="translate(342 852) rotate(90) scale(1 1.07)" font-size="12.2" fill="#1c1c1c" stroke="#1c1c1c" stroke-width="0.18">Pbk</text>
<text transform="translate(357 852) rotate(90) scale(1 1.07)" font-size="12.2" fill="#1c1c1c" stroke="#1c1c1c" stroke-width="0.18">Cpz</text>
<text transform="translate(372 852) rotate(90) scale(1 1.07)" font-size="12.2" fill="#1c1c1c" stroke="#1c1c1c" stroke-width="0.18">Alcam</text>
<text transform="translate(387 852) rotate(90) scale(1 1.07)" font-size="12.2" fill="#1c1c1c" stroke="#1c1c1c" stroke-width="0.18">Phyhd1</text>
<text transform="translate(402 852) rotate(90) scale(1 1.07)" font-size="12.2" fill="#1c1c1c" stroke="#1c1c1c" stroke-width="0.18">Islr</text>
<text transform="translate(417 852) rotate(90) scale(1 1.07)" font-size="12.2" fill="#1c1c1c" stroke="#1c1c1c" stroke-width="0.18">Selenbp1</text>
<text transform="translate(431.9 852) rotate(90) scale(1 1.07)" font-size="12.2" fill="#1c1c1c" stroke="#1c1c1c" stroke-width="0.18">Fxyd1</text>
<text transform="translate(446.9 852) rotate(90) scale(1 1.07)" font-size="12.2" fill="#1c1c1c" stroke="#1c1c1c" stroke-width="0.18">Lcn2</text>
<text transform="translate(461.9 852) rotate(90) scale(1 1.07)" font-size="12.2" fill="#1c1c1c" stroke="#1c1c1c" stroke-width="0.18">Mt2</text>
<text transform="translate(476.9 852) rotate(90) scale(1 1.07)" font-size="12.2" fill="#1c1c1c" stroke="#1c1c1c" stroke-width="0.18">Cdkn2a</text>
<text transform="translate(491.9 852) rotate(90) scale(1 1.07)" font-size="12.2" fill="#1c1c1c" stroke="#1c1c1c" stroke-width="0.18">Hp</text>
<text transform="translate(506.9 852) rotate(90) scale(1 1.07)" font-size="12.2" fill="#1c1c1c" stroke="#1c1c1c" stroke-width="0.18">mt-Nd6</text>
<text transform="translate(521.9 852) rotate(90) scale(1 1.07)" font-size="12.2" fill="#1c1c1c" stroke="#1c1c1c" stroke-width="0.18">Ahnak2</text>
<text transform="translate(536.9 852) rotate(90) scale(1 1.07)" font-size="12.2" fill="#1c1c1c" stroke="#1c1c1c" stroke-width="0.18">AU021092</text>
<text transform="translate(551.9 852) rotate(90) scale(1 1.07)" font-size="12.2" fill="#1c1c1c" stroke="#1c1c1c" stroke-width="0.18">Ndst1</text>
<text transform="translate(566.9 852) rotate(90) scale(1 1.07)" font-size="12.2" fill="#1c1c1c" stroke="#1c1c1c" stroke-width="0.18">Cpn1</text>
<text transform="translate(581.9 852) rotate(90) scale(1 1.07)" font-size="12.2" fill="#1c1c1c" stroke="#1c1c1c" stroke-width="0.18">Flrt1</text>
<text transform="translate(596.8 852) rotate(90) scale(1 1.07)" font-size="12.2" fill="#1c1c1c" stroke="#1c1c1c" stroke-width="0.18">Slc4a8</text>
<text transform="translate(611.8 852) rotate(90) scale(1 1.07)" font-size="12.2" fill="#1c1c1c" stroke="#1c1c1c" stroke-width="0.18">Sulf1</text>
<text transform="translate(626.8 852) rotate(90) scale(1 1.07)" font-size="12.2" fill="#1c1c1c" stroke="#1c1c1c" stroke-width="0.18">Col4a4</text>
<text transform="translate(641.8 852) rotate(90) scale(1 1.07)" font-size="12.2" fill="#1c1c1c" stroke="#1c1c1c" stroke-width="0.18">Fmo2</text>
<path d="M655.1 798.6H680M655.1 813.5H680M655.1 828.3H680M655.1 843.2H680" stroke="#d4d4d4" stroke-width="0.7" fill="none"/>
<text x="660.8" y="795.2" font-size="11.3" font-weight="normal" fill="#222" text-anchor="start" >C1</text>
<text x="660.8" y="810.1" font-size="11.3" font-weight="normal" fill="#222" text-anchor="start" >C2</text>
<text x="660.8" y="825" font-size="11.3" font-weight="normal" fill="#222" text-anchor="start" >C3</text>
<text x="660.8" y="839.8" font-size="11.3" font-weight="normal" fill="#222" text-anchor="start" >C4</text>
<text transform="translate(659.8 850.8) rotate(90) scale(1 1.2)" font-size="9" fill="#333">id</text>
<text transform="translate(661.3 875.3) rotate(90)" font-size="13" font-weight="bold" fill="#000">CTC</text>
<rect x="53.5" y="935.2" width="12.2" height="12.1" fill="#2020FF"/>
<rect x="65.6" y="935.2" width="12.2" height="12.1" fill="#0000FF"/>
<rect x="77.8" y="935.2" width="12.2" height="12.1" fill="#0000FF"/>
<rect x="89.9" y="935.2" width="12.2" height="12.1" fill="#6060FF"/>
<rect x="102.1" y="935.2" width="12.2" height="12.1" fill="#2020FF"/>
<rect x="114.2" y="935.2" width="12.2" height="12.1" fill="#0000FF"/>
<rect x="126.3" y="935.2" width="12.2" height="12.1" fill="#2020FF"/>
<rect x="138.5" y="935.2" width="12.2" height="12.1" fill="#2020FF"/>
<rect x="150.6" y="935.2" width="12.2" height="12.1" fill="#0000FF"/>
<rect x="162.8" y="935.2" width="12.2" height="12.1" fill="#2020FF"/>
<rect x="174.9" y="935.2" width="12.2" height="12.1" fill="#0000FF"/>
<rect x="187" y="935.2" width="12.2" height="12.1" fill="#4040FF"/>
<rect x="199.2" y="935.2" width="12.2" height="12.1" fill="#0000FF"/>
<rect x="211.3" y="935.2" width="12.2" height="12.1" fill="#4040FF"/>
<rect x="223.5" y="935.2" width="12.2" height="12.1" fill="#2020FF"/>
<rect x="235.6" y="935.2" width="12.2" height="12.1" fill="#2020FF"/>
<rect x="247.7" y="935.2" width="12.2" height="12.1" fill="#0000FF"/>
<rect x="259.9" y="935.2" width="12.2" height="12.1" fill="#0000FF"/>
<rect x="272" y="935.2" width="12.2" height="12.1" fill="#6060FF"/>
<rect x="284.2" y="935.2" width="12.2" height="12.1" fill="#6060FF"/>
<rect x="296.3" y="935.2" width="12.2" height="12.1" fill="#FFFFFF"/>
<rect x="308.4" y="935.2" width="12.2" height="12.1" fill="#FF8080"/>
<rect x="320.6" y="935.2" width="12.2" height="12.1" fill="#FF8080"/>
<rect x="332.7" y="935.2" width="12.2" height="12.1" fill="#FF8080"/>
<rect x="344.9" y="935.2" width="12.2" height="12.1" fill="#FF2020"/>
<rect x="357" y="935.2" width="12.2" height="12.1" fill="#FF8080"/>
<rect x="369.1" y="935.2" width="12.2" height="12.1" fill="#FF8080"/>
<rect x="381.3" y="935.2" width="12.2" height="12.1" fill="#FFBFBF"/>
<rect x="393.4" y="935.2" width="12.2" height="12.1" fill="#FF9F9F"/>
<rect x="405.6" y="935.2" width="12.2" height="12.1" fill="#FF9F9F"/>
<rect x="417.7" y="935.2" width="12.2" height="12.1" fill="#0000FF"/>
<rect x="429.8" y="935.2" width="12.2" height="12.1" fill="#0000FF"/>
<rect x="442" y="935.2" width="12.2" height="12.1" fill="#2020FF"/>
<rect x="454.1" y="935.2" width="12.2" height="12.1" fill="#0000FF"/>
<rect x="466.3" y="935.2" width="12.2" height="12.1" fill="#0000FF"/>
<rect x="478.4" y="935.2" width="12.2" height="12.1" fill="#0000FF"/>
<rect x="490.5" y="935.2" width="12.2" height="12.1" fill="#0000FF"/>
<rect x="502.7" y="935.2" width="12.2" height="12.1" fill="#0000FF"/>
<rect x="514.8" y="935.2" width="12.2" height="12.1" fill="#0000FF"/>
<rect x="527" y="935.2" width="12.2" height="12.1" fill="#0000FF"/>
<rect x="539.1" y="935.2" width="12.2" height="12.1" fill="#FF0000"/>
<rect x="551.2" y="935.2" width="12.2" height="12.1" fill="#FF0000"/>
<rect x="563.4" y="935.2" width="12.2" height="12.1" fill="#FF0000"/>
<rect x="575.5" y="935.2" width="12.2" height="12.1" fill="#FF0000"/>
<rect x="587.7" y="935.2" width="12.2" height="12.1" fill="#FF0000"/>
<rect x="599.8" y="935.2" width="12.2" height="12.1" fill="#FF0000"/>
<rect x="611.9" y="935.2" width="12.2" height="12.1" fill="#FF0000"/>
<rect x="624.1" y="935.2" width="12.2" height="12.1" fill="#FF0000"/>
<rect x="636.2" y="935.2" width="12.2" height="12.1" fill="#FF0000"/>
<rect x="648.4" y="935.2" width="12.2" height="12.1" fill="#FF0000"/>
<rect x="53.5" y="947.3" width="12.2" height="12.1" fill="#0000FF"/>
<rect x="65.6" y="947.3" width="12.2" height="12.1" fill="#2020FF"/>
<rect x="77.8" y="947.3" width="12.2" height="12.1" fill="#2020FF"/>
<rect x="89.9" y="947.3" width="12.2" height="12.1" fill="#2020FF"/>
<rect x="102.1" y="947.3" width="12.2" height="12.1" fill="#0000FF"/>
<rect x="114.2" y="947.3" width="12.2" height="12.1" fill="#2020FF"/>
<rect x="126.3" y="947.3" width="12.2" height="12.1" fill="#0000FF"/>
<rect x="138.5" y="947.3" width="12.2" height="12.1" fill="#2020FF"/>
<rect x="150.6" y="947.3" width="12.2" height="12.1" fill="#0000FF"/>
<rect x="162.8" y="947.3" width="12.2" height="12.1" fill="#4040FF"/>
<rect x="174.9" y="947.3" width="12.2" height="12.1" fill="#9F9FFF"/>
<rect x="187" y="947.3" width="12.2" height="12.1" fill="#9F9FFF"/>
<rect x="199.2" y="947.3" width="12.2" height="12.1" fill="#DFDFFF"/>
<rect x="211.3" y="947.3" width="12.2" height="12.1" fill="#8080FF"/>
<rect x="223.5" y="947.3" width="12.2" height="12.1" fill="#9F9FFF"/>
<rect x="235.6" y="947.3" width="12.2" height="12.1" fill="#9F9FFF"/>
<rect x="247.7" y="947.3" width="12.2" height="12.1" fill="#6060FF"/>
<rect x="259.9" y="947.3" width="12.2" height="12.1" fill="#8080FF"/>
<rect x="272" y="947.3" width="12.2" height="12.1" fill="#6060FF"/>
<rect x="284.2" y="947.3" width="12.2" height="12.1" fill="#6060FF"/>
<rect x="296.3" y="947.3" width="12.2" height="12.1" fill="#0000FF"/>
<rect x="308.4" y="947.3" width="12.2" height="12.1" fill="#9F9FFF"/>
<rect x="320.6" y="947.3" width="12.2" height="12.1" fill="#4040FF"/>
<rect x="332.7" y="947.3" width="12.2" height="12.1" fill="#0000FF"/>
<rect x="344.9" y="947.3" width="12.2" height="12.1" fill="#9F9FFF"/>
<rect x="357" y="947.3" width="12.2" height="12.1" fill="#4040FF"/>
<rect x="369.1" y="947.3" width="12.2" height="12.1" fill="#0000FF"/>
<rect x="381.3" y="947.3" width="12.2" height="12.1" fill="#4040FF"/>
<rect x="393.4" y="947.3" width="12.2" height="12.1" fill="#ECECFF"/>
<rect x="405.6" y="947.3" width="12.2" height="12.1" fill="#9F9FFF"/>
<rect x="417.7" y="947.3" width="12.2" height="12.1" fill="#FF8080"/>
<rect x="429.8" y="947.3" width="12.2" height="12.1" fill="#FF0000"/>
<rect x="442" y="947.3" width="12.2" height="12.1" fill="#FF0000"/>
<rect x="454.1" y="947.3" width="12.2" height="12.1" fill="#FF0000"/>
<rect x="466.3" y="947.3" width="12.2" height="12.1" fill="#FF0000"/>
<rect x="478.4" y="947.3" width="12.2" height="12.1" fill="#FF0000"/>
<rect x="490.5" y="947.3" width="12.2" height="12.1" fill="#FF0000"/>
<rect x="502.7" y="947.3" width="12.2" height="12.1" fill="#FF0000"/>
<rect x="514.8" y="947.3" width="12.2" height="12.1" fill="#FF0000"/>
<rect x="527" y="947.3" width="12.2" height="12.1" fill="#FF0000"/>
<rect x="539.1" y="947.3" width="12.2" height="12.1" fill="#4040FF"/>
<rect x="551.2" y="947.3" width="12.2" height="12.1" fill="#4040FF"/>
<rect x="563.4" y="947.3" width="12.2" height="12.1" fill="#6060FF"/>
<rect x="575.5" y="947.3" width="12.2" height="12.1" fill="#6060FF"/>
<rect x="587.7" y="947.3" width="12.2" height="12.1" fill="#6060FF"/>
<rect x="599.8" y="947.3" width="12.2" height="12.1" fill="#2020FF"/>
<rect x="611.9" y="947.3" width="12.2" height="12.1" fill="#4040FF"/>
<rect x="624.1" y="947.3" width="12.2" height="12.1" fill="#4040FF"/>
<rect x="636.2" y="947.3" width="12.2" height="12.1" fill="#6060FF"/>
<rect x="648.4" y="947.3" width="12.2" height="12.1" fill="#6060FF"/>
<rect x="53.5" y="959.4" width="12.2" height="12.1" fill="#2020FF"/>
<rect x="65.6" y="959.4" width="12.2" height="12.1" fill="#2020FF"/>
<rect x="77.8" y="959.4" width="12.2" height="12.1" fill="#0000FF"/>
<rect x="89.9" y="959.4" width="12.2" height="12.1" fill="#2020FF"/>
<rect x="102.1" y="959.4" width="12.2" height="12.1" fill="#0000FF"/>
<rect x="114.2" y="959.4" width="12.2" height="12.1" fill="#0000FF"/>
<rect x="126.3" y="959.4" width="12.2" height="12.1" fill="#0000FF"/>
<rect x="138.5" y="959.4" width="12.2" height="12.1" fill="#2020FF"/>
<rect x="150.6" y="959.4" width="12.2" height="12.1" fill="#2020FF"/>
<rect x="162.8" y="959.4" width="12.2" height="12.1" fill="#0000FF"/>
<rect x="174.9" y="959.4" width="12.2" height="12.1" fill="#4040FF"/>
<rect x="187" y="959.4" width="12.2" height="12.1" fill="#0000FF"/>
<rect x="199.2" y="959.4" width="12.2" height="12.1" fill="#0000FF"/>
<rect x="211.3" y="959.4" width="12.2" height="12.1" fill="#0000FF"/>
<rect x="223.5" y="959.4" width="12.2" height="12.1" fill="#0000FF"/>
<rect x="235.6" y="959.4" width="12.2" height="12.1" fill="#0000FF"/>
<rect x="247.7" y="959.4" width="12.2" height="12.1" fill="#0000FF"/>
<rect x="259.9" y="959.4" width="12.2" height="12.1" fill="#0000FF"/>
<rect x="272" y="959.4" width="12.2" height="12.1" fill="#0000FF"/>
<rect x="284.2" y="959.4" width="12.2" height="12.1" fill="#0000FF"/>
<rect x="296.3" y="959.4" width="12.2" height="12.1" fill="#FF0000"/>
<rect x="308.4" y="959.4" width="12.2" height="12.1" fill="#FF0000"/>
<rect x="320.6" y="959.4" width="12.2" height="12.1" fill="#FF0000"/>
<rect x="332.7" y="959.4" width="12.2" height="12.1" fill="#FF0000"/>
<rect x="344.9" y="959.4" width="12.2" height="12.1" fill="#FF0000"/>
<rect x="357" y="959.4" width="12.2" height="12.1" fill="#FF0000"/>
<rect x="369.1" y="959.4" width="12.2" height="12.1" fill="#FF0000"/>
<rect x="381.3" y="959.4" width="12.2" height="12.1" fill="#FF0000"/>
<rect x="393.4" y="959.4" width="12.2" height="12.1" fill="#FF0000"/>
<rect x="405.6" y="959.4" width="12.2" height="12.1" fill="#FF0000"/>
<rect x="417.7" y="959.4" width="12.2" height="12.1" fill="#0000FF"/>
<rect x="429.8" y="959.4" width="12.2" height="12.1" fill="#2020FF"/>
<rect x="442" y="959.4" width="12.2" height="12.1" fill="#2020FF"/>
<rect x="454.1" y="959.4" width="12.2" height="12.1" fill="#9F9FFF"/>
<rect x="466.3" y="959.4" width="12.2" height="12.1" fill="#6060FF"/>
<rect x="478.4" y="959.4" width="12.2" height="12.1" fill="#9F9FFF"/>
<rect x="490.5" y="959.4" width="12.2" height="12.1" fill="#9F9FFF"/>
<rect x="502.7" y="959.4" width="12.2" height="12.1" fill="#9F9FFF"/>
<rect x="514.8" y="959.4" width="12.2" height="12.1" fill="#6060FF"/>
<rect x="527" y="959.4" width="12.2" height="12.1" fill="#0000FF"/>
<rect x="539.1" y="959.4" width="12.2" height="12.1" fill="#8080FF"/>
<rect x="551.2" y="959.4" width="12.2" height="12.1" fill="#9F9FFF"/>
<rect x="563.4" y="959.4" width="12.2" height="12.1" fill="#9F9FFF"/>
<rect x="575.5" y="959.4" width="12.2" height="12.1" fill="#9F9FFF"/>
<rect x="587.7" y="959.4" width="12.2" height="12.1" fill="#9F9FFF"/>
<rect x="599.8" y="959.4" width="12.2" height="12.1" fill="#BFBFFF"/>
<rect x="611.9" y="959.4" width="12.2" height="12.1" fill="#9F9FFF"/>
<rect x="624.1" y="959.4" width="12.2" height="12.1" fill="#9F9FFF"/>
<rect x="636.2" y="959.4" width="12.2" height="12.1" fill="#BFBFFF"/>
<rect x="648.4" y="959.4" width="12.2" height="12.1" fill="#8080FF"/>
<rect x="53.5" y="971.4" width="12.2" height="12.1" fill="#2020FF"/>
<rect x="65.6" y="971.4" width="12.2" height="12.1" fill="#4040FF"/>
<rect x="77.8" y="971.4" width="12.2" height="12.1" fill="#4040FF"/>
<rect x="89.9" y="971.4" width="12.2" height="12.1" fill="#0000FF"/>
<rect x="102.1" y="971.4" width="12.2" height="12.1" fill="#4040FF"/>
<rect x="114.2" y="971.4" width="12.2" height="12.1" fill="#4040FF"/>
<rect x="126.3" y="971.4" width="12.2" height="12.1" fill="#4040FF"/>
<rect x="138.5" y="971.4" width="12.2" height="12.1" fill="#0000FF"/>
<rect x="150.6" y="971.4" width="12.2" height="12.1" fill="#4040FF"/>
<rect x="162.8" y="971.4" width="12.2" height="12.1" fill="#4040FF"/>
<rect x="174.9" y="971.4" width="12.2" height="12.1" fill="#FF0000"/>
<rect x="187" y="971.4" width="12.2" height="12.1" fill="#FF0000"/>
<rect x="199.2" y="971.4" width="12.2" height="12.1" fill="#FF0000"/>
<rect x="211.3" y="971.4" width="12.2" height="12.1" fill="#FF0000"/>
<rect x="223.5" y="971.4" width="12.2" height="12.1" fill="#FF0000"/>
<rect x="235.6" y="971.4" width="12.2" height="12.1" fill="#FF0000"/>
<rect x="247.7" y="971.4" width="12.2" height="12.1" fill="#FF0000"/>
<rect x="259.9" y="971.4" width="12.2" height="12.1" fill="#FF0000"/>
<rect x="272" y="971.4" width="12.2" height="12.1" fill="#FF0000"/>
<rect x="284.2" y="971.4" width="12.2" height="12.1" fill="#FF0000"/>
<rect x="296.3" y="971.4" width="12.2" height="12.1" fill="#8080FF"/>
<rect x="308.4" y="971.4" width="12.2" height="12.1" fill="#0000FF"/>
<rect x="320.6" y="971.4" width="12.2" height="12.1" fill="#0000FF"/>
<rect x="332.7" y="971.4" width="12.2" height="12.1" fill="#0000FF"/>
<rect x="344.9" y="971.4" width="12.2" height="12.1" fill="#0000FF"/>
<rect x="357" y="971.4" width="12.2" height="12.1" fill="#0000FF"/>
<rect x="369.1" y="971.4" width="12.2" height="12.1" fill="#0000FF"/>
<rect x="381.3" y="971.4" width="12.2" height="12.1" fill="#0000FF"/>
<rect x="393.4" y="971.4" width="12.2" height="12.1" fill="#0000FF"/>
<rect x="405.6" y="971.4" width="12.2" height="12.1" fill="#0000FF"/>
<rect x="417.7" y="971.4" width="12.2" height="12.1" fill="#FF0000"/>
<rect x="429.8" y="971.4" width="12.2" height="12.1" fill="#FF9F9F"/>
<rect x="442" y="971.4" width="12.2" height="12.1" fill="#0000FF"/>
<rect x="454.1" y="971.4" width="12.2" height="12.1" fill="#FF4040"/>
<rect x="466.3" y="971.4" width="12.2" height="12.1" fill="#FF6060"/>
<rect x="478.4" y="971.4" width="12.2" height="12.1" fill="#2020FF"/>
<rect x="490.5" y="971.4" width="12.2" height="12.1" fill="#8080FF"/>
<rect x="502.7" y="971.4" width="12.2" height="12.1" fill="#FFDFDF"/>
<rect x="514.8" y="971.4" width="12.2" height="12.1" fill="#FF9F9F"/>
<rect x="527" y="971.4" width="12.2" height="12.1" fill="#FFECEC"/>
<rect x="539.1" y="971.4" width="12.2" height="12.1" fill="#0000FF"/>
<rect x="551.2" y="971.4" width="12.2" height="12.1" fill="#0000FF"/>
<rect x="563.4" y="971.4" width="12.2" height="12.1" fill="#0000FF"/>
<rect x="575.5" y="971.4" width="12.2" height="12.1" fill="#0000FF"/>
<rect x="587.7" y="971.4" width="12.2" height="12.1" fill="#0000FF"/>
<rect x="599.8" y="971.4" width="12.2" height="12.1" fill="#0000FF"/>
<rect x="611.9" y="971.4" width="12.2" height="12.1" fill="#0000FF"/>
<rect x="624.1" y="971.4" width="12.2" height="12.1" fill="#0000FF"/>
<rect x="636.2" y="971.4" width="12.2" height="12.1" fill="#0000FF"/>
<rect x="648.4" y="971.4" width="12.2" height="12.1" fill="#0000FF"/>
<rect x="53.5" y="983.5" width="12.2" height="12.1" fill="#FF0000"/>
<rect x="65.6" y="983.5" width="12.2" height="12.1" fill="#FF0000"/>
<rect x="77.8" y="983.5" width="12.2" height="12.1" fill="#FF0000"/>
<rect x="89.9" y="983.5" width="12.2" height="12.1" fill="#FF0000"/>
<rect x="102.1" y="983.5" width="12.2" height="12.1" fill="#FF0000"/>
<rect x="114.2" y="983.5" width="12.2" height="12.1" fill="#FF0000"/>
<rect x="126.3" y="983.5" width="12.2" height="12.1" fill="#FF0000"/>
<rect x="138.5" y="983.5" width="12.2" height="12.1" fill="#FF0000"/>
<rect x="150.6" y="983.5" width="12.2" height="12.1" fill="#FF0000"/>
<rect x="162.8" y="983.5" width="12.2" height="12.1" fill="#FF0000"/>
<rect x="174.9" y="983.5" width="12.2" height="12.1" fill="#FFBFBF"/>
<rect x="187" y="983.5" width="12.2" height="12.1" fill="#9F9FFF"/>
<rect x="199.2" y="983.5" width="12.2" height="12.1" fill="#BFBFFF"/>
<rect x="211.3" y="983.5" width="12.2" height="12.1" fill="#FFECEC"/>
<rect x="223.5" y="983.5" width="12.2" height="12.1" fill="#FF8080"/>
<rect x="235.6" y="983.5" width="12.2" height="12.1" fill="#D2D2FF"/>
<rect x="247.7" y="983.5" width="12.2" height="12.1" fill="#D2D2FF"/>
<rect x="259.9" y="983.5" width="12.2" height="12.1" fill="#B2B2FF"/>
<rect x="272" y="983.5" width="12.2" height="12.1" fill="#DFDFFF"/>
<rect x="284.2" y="983.5" width="12.2" height="12.1" fill="#D2D2FF"/>
<rect x="296.3" y="983.5" width="12.2" height="12.1" fill="#FFFFFF"/>
<rect x="308.4" y="983.5" width="12.2" height="12.1" fill="#FF9F9F"/>
<rect x="320.6" y="983.5" width="12.2" height="12.1" fill="#FFDFDF"/>
<rect x="332.7" y="983.5" width="12.2" height="12.1" fill="#FFDFDF"/>
<rect x="344.9" y="983.5" width="12.2" height="12.1" fill="#FFBFBF"/>
<rect x="357" y="983.5" width="12.2" height="12.1" fill="#FFD2D2"/>
<rect x="369.1" y="983.5" width="12.2" height="12.1" fill="#B2B2FF"/>
<rect x="381.3" y="983.5" width="12.2" height="12.1" fill="#FFDFDF"/>
<rect x="393.4" y="983.5" width="12.2" height="12.1" fill="#FFECEC"/>
<rect x="405.6" y="983.5" width="12.2" height="12.1" fill="#ECECFF"/>
<rect x="417.7" y="983.5" width="12.2" height="12.1" fill="#9F9FFF"/>
<rect x="429.8" y="983.5" width="12.2" height="12.1" fill="#FFDFDF"/>
<rect x="442" y="983.5" width="12.2" height="12.1" fill="#8080FF"/>
<rect x="454.1" y="983.5" width="12.2" height="12.1" fill="#FFDFDF"/>
<rect x="466.3" y="983.5" width="12.2" height="12.1" fill="#FF9F9F"/>
<rect x="478.4" y="983.5" width="12.2" height="12.1" fill="#FF9F9F"/>
<rect x="490.5" y="983.5" width="12.2" height="12.1" fill="#FF9F9F"/>
<rect x="502.7" y="983.5" width="12.2" height="12.1" fill="#9F9FFF"/>
<rect x="514.8" y="983.5" width="12.2" height="12.1" fill="#BFBFFF"/>
<rect x="527" y="983.5" width="12.2" height="12.1" fill="#FF6060"/>
<rect x="539.1" y="983.5" width="12.2" height="12.1" fill="#FFE6E6"/>
<rect x="551.2" y="983.5" width="12.2" height="12.1" fill="#FFDFDF"/>
<rect x="563.4" y="983.5" width="12.2" height="12.1" fill="#FFD9D9"/>
<rect x="575.5" y="983.5" width="12.2" height="12.1" fill="#FFDFDF"/>
<rect x="587.7" y="983.5" width="12.2" height="12.1" fill="#FFDFDF"/>
<rect x="599.8" y="983.5" width="12.2" height="12.1" fill="#FFECEC"/>
<rect x="611.9" y="983.5" width="12.2" height="12.1" fill="#FFD2D2"/>
<rect x="624.1" y="983.5" width="12.2" height="12.1" fill="#FFDFDF"/>
<rect x="636.2" y="983.5" width="12.2" height="12.1" fill="#FFCCCC"/>
<rect x="648.4" y="983.5" width="12.2" height="12.1" fill="#FFDFDF"/>
<path d="M65.6 935.2V995.6M77.8 935.2V995.6M89.9 935.2V995.6M102.1 935.2V995.6M114.2 935.2V995.6M126.3 935.2V995.6M138.5 935.2V995.6M150.6 935.2V995.6M162.8 935.2V995.6M174.9 935.2V995.6M187 935.2V995.6M199.2 935.2V995.6M211.3 935.2V995.6M223.5 935.2V995.6M235.6 935.2V995.6M247.7 935.2V995.6M259.9 935.2V995.6M272 935.2V995.6M284.2 935.2V995.6M296.3 935.2V995.6M308.4 935.2V995.6M320.6 935.2V995.6M332.7 935.2V995.6M344.9 935.2V995.6M357 935.2V995.6M369.1 935.2V995.6M381.3 935.2V995.6M393.4 935.2V995.6M405.6 935.2V995.6M417.7 935.2V995.6M429.8 935.2V995.6M442 935.2V995.6M454.1 935.2V995.6M466.3 935.2V995.6M478.4 935.2V995.6M490.5 935.2V995.6M502.7 935.2V995.6M514.8 935.2V995.6M527 935.2V995.6M539.1 935.2V995.6M551.2 935.2V995.6M563.4 935.2V995.6M575.5 935.2V995.6M587.7 935.2V995.6M599.8 935.2V995.6M611.9 935.2V995.6M624.1 935.2V995.6M636.2 935.2V995.6M648.4 935.2V995.6M53.5 947.3H660.5M53.5 959.4H660.5M53.5 971.4H660.5M53.5 983.5H660.5" stroke="#606070" stroke-opacity="0.45" stroke-width="0.5" fill="none"/>
<path d="M53.8 998V1044M65.9 998V1044M78.1 998V1044M90.2 998V1044M102.4 998V1044M114.5 998V1044M126.6 998V1044M138.8 998V1044M150.9 998V1044M163.1 998V1044M175.2 998V1044M187.3 998V1044M199.5 998V1044M211.6 998V1044M223.8 998V1044M235.9 998V1044M248 998V1044M260.2 998V1044M272.3 998V1044M284.5 998V1044M296.6 998V1044M308.7 998V1044M320.9 998V1044M333 998V1044M345.2 998V1044M357.3 998V1044M369.4 998V1044M381.6 998V1044M393.7 998V1044M405.9 998V1044M418 998V1044M430.1 998V1044M442.3 998V1044M454.4 998V1044M466.6 998V1044M478.7 998V1044M490.8 998V1044M503 998V1044M515.1 998V1044M527.3 998V1044M539.4 998V1044M551.5 998V1044M563.7 998V1044M575.8 998V1044M588 998V1044M600.1 998V1044M612.2 998V1044M624.4 998V1044M636.5 998V1044M648.7 998V1044" stroke="#cfcfcf" stroke-width="0.8" fill="none"/>
<text transform="translate(56.1 1002.4) rotate(90) scale(1 1.12)" font-size="10.2" fill="#1c1c1c" stroke="#1c1c1c" stroke-width="0.18">Alox15</text>
<text transform="translate(68.2 1002.4) rotate(90) scale(1 1.12)" font-size="10.2" fill="#1c1c1c" stroke="#1c1c1c" stroke-width="0.18">Msr1</text>
<text transform="translate(80.4 1002.4) rotate(90) scale(1 1.12)" font-size="10.2" fill="#1c1c1c" stroke="#1c1c1c" stroke-width="0.18">Cybb</text>
<text transform="translate(92.5 1002.4) rotate(90) scale(1 1.12)" font-size="10.2" fill="#1c1c1c" stroke="#1c1c1c" stroke-width="0.18">Retnla</text>
<text transform="translate(104.7 1002.4) rotate(90) scale(1 1.12)" font-size="10.2" fill="#1c1c1c" stroke="#1c1c1c" stroke-width="0.18">Pygl</text>
<text transform="translate(116.8 1002.4) rotate(90) scale(1 1.12)" font-size="10.2" fill="#1c1c1c" stroke="#1c1c1c" stroke-width="0.18">Marco</text>
<text transform="translate(128.9 1002.4) rotate(90) scale(1 1.12)" font-size="10.2" fill="#1c1c1c" stroke="#1c1c1c" stroke-width="0.18">Prg4</text>
<text transform="translate(141.1 1002.4) rotate(90) scale(1 1.12)" font-size="10.2" fill="#1c1c1c" stroke="#1c1c1c" stroke-width="0.18">Ednrb</text>
<text transform="translate(153.2 1002.4) rotate(90) scale(1 1.12)" font-size="10.2" fill="#1c1c1c" stroke="#1c1c1c" stroke-width="0.18">Arg1</text>
<text transform="translate(165.4 1002.4) rotate(90) scale(1 1.12)" font-size="10.2" fill="#1c1c1c" stroke="#1c1c1c" stroke-width="0.18">F5</text>
<text transform="translate(177.5 1002.4) rotate(90) scale(1 1.12)" font-size="10.2" fill="#1c1c1c" stroke="#1c1c1c" stroke-width="0.18">Mt1</text>
<text transform="translate(189.6 1002.4) rotate(90) scale(1 1.12)" font-size="10.2" fill="#1c1c1c" stroke="#1c1c1c" stroke-width="0.18">Slc4a8</text>
<text transform="translate(201.8 1002.4) rotate(90) scale(1 1.12)" font-size="10.2" fill="#1c1c1c" stroke="#1c1c1c" stroke-width="0.18">C3</text>
<text transform="translate(213.9 1002.4) rotate(90) scale(1 1.12)" font-size="10.2" fill="#1c1c1c" stroke="#1c1c1c" stroke-width="0.18">Emb</text>
<text transform="translate(226.1 1002.4) rotate(90) scale(1 1.12)" font-size="10.2" fill="#1c1c1c" stroke="#1c1c1c" stroke-width="0.18">Alcam</text>
<text transform="translate(238.2 1002.4) rotate(90) scale(1 1.12)" font-size="10.2" fill="#1c1c1c" stroke="#1c1c1c" stroke-width="0.18">Hmgcs2</text>
<text transform="translate(250.3 1002.4) rotate(90) scale(1 1.12)" font-size="10.2" fill="#1c1c1c" stroke="#1c1c1c" stroke-width="0.18">Cpxm1</text>
<text transform="translate(262.5 1002.4) rotate(90) scale(1 1.12)" font-size="10.2" fill="#1c1c1c" stroke="#1c1c1c" stroke-width="0.18">Lcn2</text>
<text transform="translate(274.6 1002.4) rotate(90) scale(1 1.12)" font-size="10.2" fill="#1c1c1c" stroke="#1c1c1c" stroke-width="0.18">Cdkn2a</text>
<text transform="translate(286.8 1002.4) rotate(90) scale(1 1.12)" font-size="10.2" fill="#1c1c1c" stroke="#1c1c1c" stroke-width="0.18">Cadm1</text>
<text transform="translate(298.9 1002.4) rotate(90) scale(1 1.12)" font-size="10.2" fill="#1c1c1c" stroke="#1c1c1c" stroke-width="0.18">Srm</text>
<text transform="translate(311 1002.4) rotate(90) scale(1 1.12)" font-size="10.2" fill="#1c1c1c" stroke="#1c1c1c" stroke-width="0.18">Mcm6</text>
<text transform="translate(323.2 1002.4) rotate(90) scale(1 1.12)" font-size="10.2" fill="#1c1c1c" stroke="#1c1c1c" stroke-width="0.18">Atf5</text>
<text transform="translate(335.3 1002.4) rotate(90) scale(1 1.12)" font-size="10.2" fill="#1c1c1c" stroke="#1c1c1c" stroke-width="0.18">Psph</text>
<text transform="translate(347.5 1002.4) rotate(90) scale(1 1.12)" font-size="10.2" fill="#1c1c1c" stroke="#1c1c1c" stroke-width="0.18">Hells</text>
<text transform="translate(359.6 1002.4) rotate(90) scale(1 1.12)" font-size="10.2" fill="#1c1c1c" stroke="#1c1c1c" stroke-width="0.18">Mcm4</text>
<text transform="translate(371.7 1002.4) rotate(90) scale(1 1.12)" font-size="10.2" fill="#1c1c1c" stroke="#1c1c1c" stroke-width="0.18">Asns</text>
<text transform="translate(383.9 1002.4) rotate(90) scale(1 1.12)" font-size="10.2" fill="#1c1c1c" stroke="#1c1c1c" stroke-width="0.18">Mcm2</text>
<text transform="translate(396 1002.4) rotate(90) scale(1 1.12)" font-size="10.2" fill="#1c1c1c" stroke="#1c1c1c" stroke-width="0.18">Tagln</text>
<text transform="translate(408.2 1002.4) rotate(90) scale(1 1.12)" font-size="10.2" fill="#1c1c1c" stroke="#1c1c1c" stroke-width="0.18">Cdca7</text>
<text transform="translate(420.3 1002.4) rotate(90) scale(1 1.12)" font-size="10.2" fill="#1c1c1c" stroke="#1c1c1c" stroke-width="0.18">C1s1</text>
<text transform="translate(432.4 1002.4) rotate(90) scale(1 1.12)" font-size="10.2" fill="#1c1c1c" stroke="#1c1c1c" stroke-width="0.18">Fos</text>
<text transform="translate(444.6 1002.4) rotate(90) scale(1 1.12)" font-size="10.2" fill="#1c1c1c" stroke="#1c1c1c" stroke-width="0.18">Col3a1</text>
<text transform="translate(456.7 1002.4) rotate(90) scale(1 1.12)" font-size="10.2" fill="#1c1c1c" stroke="#1c1c1c" stroke-width="0.18">Mxd4</text>
<text transform="translate(468.9 1002.4) rotate(90) scale(1 1.12)" font-size="10.2" fill="#1c1c1c" stroke="#1c1c1c" stroke-width="0.18">Btg2</text>
<text transform="translate(481 1002.4) rotate(90) scale(1 1.12)" font-size="10.2" fill="#1c1c1c" stroke="#1c1c1c" stroke-width="0.18">Ier2</text>
<text transform="translate(493.1 1002.4) rotate(90) scale(1 1.12)" font-size="10.2" fill="#1c1c1c" stroke="#1c1c1c" stroke-width="0.18">Egr1</text>
<text transform="translate(505.3 1002.4) rotate(90) scale(1 1.12)" font-size="10.2" fill="#1c1c1c" stroke="#1c1c1c" stroke-width="0.18">Cited2</text>
<text transform="translate(517.4 1002.4) rotate(90) scale(1 1.12)" font-size="10.2" fill="#1c1c1c" stroke="#1c1c1c" stroke-width="0.18">Gas6</text>
<text transform="translate(529.6 1002.4) rotate(90) scale(1 1.12)" font-size="10.2" fill="#1c1c1c" stroke="#1c1c1c" stroke-width="0.18">Cfh</text>
<text transform="translate(541.7 1002.4) rotate(90) scale(1 1.12)" font-size="10.2" fill="#1c1c1c" stroke="#1c1c1c" stroke-width="0.18">Kif23</text>
<text transform="translate(553.8 1002.4) rotate(90) scale(1 1.12)" font-size="10.2" fill="#1c1c1c" stroke="#1c1c1c" stroke-width="0.18">Ccnb1</text>
<text transform="translate(566 1002.4) rotate(90) scale(1 1.12)" font-size="10.2" fill="#1c1c1c" stroke="#1c1c1c" stroke-width="0.18">Cenpf</text>
<text transform="translate(578.1 1002.4) rotate(90) scale(1 1.12)" font-size="10.2" fill="#1c1c1c" stroke="#1c1c1c" stroke-width="0.18">Prc1</text>
<text transform="translate(590.3 1002.4) rotate(90) scale(1 1.12)" font-size="10.2" fill="#1c1c1c" stroke="#1c1c1c" stroke-width="0.18">Pimreg</text>
<text transform="translate(602.4 1002.4) rotate(90) scale(1 1.12)" font-size="10.2" fill="#1c1c1c" stroke="#1c1c1c" stroke-width="0.18">Hmmr</text>
<text transform="translate(614.5 1002.4) rotate(90) scale(1 1.12)" font-size="10.2" fill="#1c1c1c" stroke="#1c1c1c" stroke-width="0.18">Ube2c</text>
<text transform="translate(626.7 1002.4) rotate(90) scale(1 1.12)" font-size="10.2" fill="#1c1c1c" stroke="#1c1c1c" stroke-width="0.18">Nusap1</text>
<text transform="translate(638.8 1002.4) rotate(90) scale(1 1.12)" font-size="10.2" fill="#1c1c1c" stroke="#1c1c1c" stroke-width="0.18">Plk1</text>
<text transform="translate(651 1002.4) rotate(90) scale(1 1.12)" font-size="10.2" fill="#1c1c1c" stroke="#1c1c1c" stroke-width="0.18">Aspm</text>
<path d="M662.5 947.3H680M662.5 959.4H680M662.5 971.4H680M662.5 983.5H680M662.5 995.6H680" stroke="#d4d4d4" stroke-width="0.7" fill="none"/>
<text x="666.2" y="944.2" font-size="8.2" font-weight="normal" fill="#222" text-anchor="start" >C1</text>
<text x="666.2" y="956.3" font-size="8.2" font-weight="normal" fill="#222" text-anchor="start" >C2</text>
<text x="666.2" y="968.4" font-size="8.2" font-weight="normal" fill="#222" text-anchor="start" >C3</text>
<text x="666.2" y="980.4" font-size="8.2" font-weight="normal" fill="#222" text-anchor="start" >C4</text>
<text x="666.2" y="992.5" font-size="8.2" font-weight="normal" fill="#222" text-anchor="start" >C5</text>
<text transform="translate(668.4 1001.8) rotate(90)" font-size="6.5" fill="#333">id</text>
<text transform="translate(661 1037) rotate(90)" font-size="13" font-weight="bold" fill="#000">Lav</text>
<defs><linearGradient id="cbar" x1="0" y1="0" x2="1" y2="0"><stop offset="0" stop-color="#FF0000"/><stop offset="0.06" stop-color="#FF0000"/><stop offset="0.5" stop-color="#FFFFFF"/><stop offset="0.94" stop-color="#0000FF"/><stop offset="1" stop-color="#0000FF"/></linearGradient></defs>
<rect x="439.5" y="1069" width="173.5" height="9.5" fill="url(#cbar)"/>
<text transform="translate(459 1059.5) rotate(180)" font-size="8.4" fill="#333">row max</text>
<text transform="translate(631.6 1059.5) rotate(180)" font-size="8.4" fill="#333">row min</text>
</svg>
</body></html>
